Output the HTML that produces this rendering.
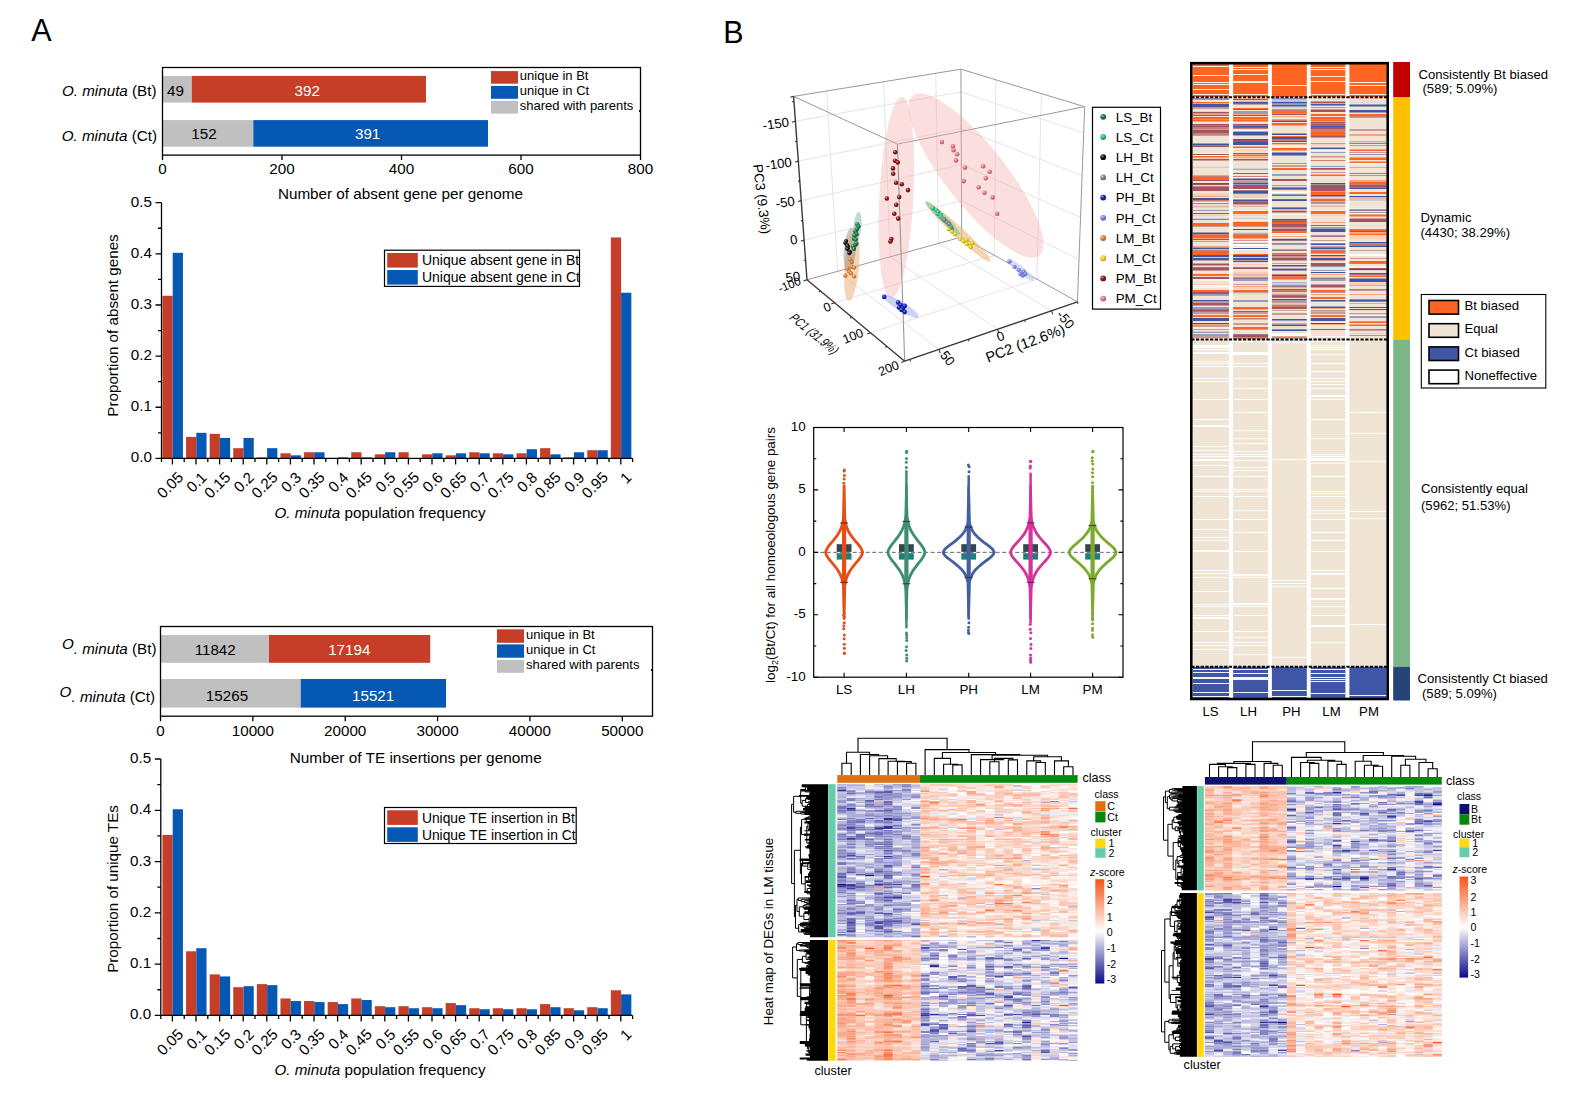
<!DOCTYPE html>
<html><head><meta charset="utf-8"><title>Figure</title>
<style>
html,body{margin:0;padding:0;background:#fff;}
body{width:1590px;height:1105px;overflow:hidden;font-family:"Liberation Sans",sans-serif;}
svg{display:block;position:absolute;left:0;top:0;font-family:"Liberation Sans",sans-serif;}
</style></head><body>
<svg width="1590" height="1105" viewBox="0 0 1590 1105">
<rect x="0" y="0" width="1590" height="1105" fill="#fff"/>
<text x="31.3" y="41" font-size="30.5" text-anchor="start">A</text>
<rect x="162.5" y="75.9" width="29.28" height="26.7" fill="#C0C0C0"/>
<rect x="191.78" y="75.9" width="234.22" height="26.7" fill="#C73E28"/>
<rect x="162.5" y="120.1" width="90.82" height="26.6" fill="#C0C0C0"/>
<rect x="253.32" y="120.1" width="234.68" height="26.6" fill="#0559B5"/>
<rect x="162.5" y="67.5" width="478.0" height="87.6" fill="none" stroke="#000" stroke-width="1.3"/>
<line x1="162.50" y1="155.1" x2="162.50" y2="160.1" stroke="#000" stroke-width="1.3"/>
<text x="162.5" y="174.1" font-size="15.2" text-anchor="middle">0</text>
<line x1="282.00" y1="155.1" x2="282.00" y2="160.1" stroke="#000" stroke-width="1.3"/>
<text x="282.0" y="174.1" font-size="15.2" text-anchor="middle">200</text>
<line x1="401.50" y1="155.1" x2="401.50" y2="160.1" stroke="#000" stroke-width="1.3"/>
<text x="401.5" y="174.1" font-size="15.2" text-anchor="middle">400</text>
<line x1="521.00" y1="155.1" x2="521.00" y2="160.1" stroke="#000" stroke-width="1.3"/>
<text x="521.0" y="174.1" font-size="15.2" text-anchor="middle">600</text>
<line x1="640.50" y1="155.1" x2="640.50" y2="160.1" stroke="#000" stroke-width="1.3"/>
<text x="640.5" y="174.1" font-size="15.2" text-anchor="middle">800</text>
<text x="175.43875" y="95.7" font-size="15.2" text-anchor="middle">49</text>
<text x="307.2875" y="95.7" font-size="15.2" text-anchor="middle" fill="#fff">392</text>
<text x="204.01" y="139.2" font-size="15.2" text-anchor="middle">152</text>
<text x="367.63125" y="139.2" font-size="15.2" text-anchor="middle" fill="#fff">391</text>
<text x="156.5" y="95.9" font-size="15.2" text-anchor="end"><tspan font-style="italic">O. minuta</tspan> (Bt)</text>
<text x="157" y="140.6" font-size="15.2" text-anchor="end"><tspan font-style="italic">O. minuta</tspan> (Ct)</text>
<text x="400.4" y="198.6" font-size="15.25" text-anchor="middle">Number of absent gene per genome</text>
<rect x="491" y="71.1" width="27" height="12.6" fill="#C73E28"/>
<rect x="491" y="85.9" width="27" height="12.9" fill="#0559B5"/>
<rect x="491" y="101" width="27" height="12.6" fill="#C0C0C0"/>
<text x="519.8" y="79.8" font-size="13.0" text-anchor="start">unique in Bt</text>
<text x="519.8" y="94.7" font-size="13.0" text-anchor="start">unique in Ct</text>
<text x="519.8" y="110.4" font-size="13.0" text-anchor="start">shared with parents</text>
<rect x="639" y="110" width="1.5" height="2" fill="#000"/>
<rect x="162.45" y="295.77" width="10.25" height="162.63" fill="#C73E28"/>
<rect x="172.70" y="252.82" width="10.25" height="205.58" fill="#0559B5"/>
<rect x="186.05" y="436.92" width="10.25" height="21.48" fill="#C73E28"/>
<rect x="196.30" y="432.83" width="10.25" height="25.57" fill="#0559B5"/>
<rect x="209.65" y="433.85" width="10.25" height="24.55" fill="#C73E28"/>
<rect x="219.90" y="437.94" width="10.25" height="20.46" fill="#0559B5"/>
<rect x="233.25" y="448.17" width="10.25" height="10.23" fill="#C73E28"/>
<rect x="243.50" y="437.94" width="10.25" height="20.46" fill="#0559B5"/>
<rect x="256.85" y="457.38" width="10.25" height="1.02" fill="#C73E28"/>
<rect x="267.10" y="448.17" width="10.25" height="10.23" fill="#0559B5"/>
<rect x="280.45" y="453.29" width="10.25" height="5.11" fill="#C73E28"/>
<rect x="290.70" y="455.33" width="10.25" height="3.07" fill="#0559B5"/>
<rect x="304.05" y="452.26" width="10.25" height="6.14" fill="#C73E28"/>
<rect x="314.30" y="452.26" width="10.25" height="6.14" fill="#0559B5"/>
<rect x="337.90" y="457.38" width="10.25" height="1.02" fill="#0559B5"/>
<rect x="351.25" y="452.26" width="10.25" height="6.14" fill="#C73E28"/>
<rect x="361.50" y="457.38" width="10.25" height="1.02" fill="#0559B5"/>
<rect x="374.85" y="454.31" width="10.25" height="4.09" fill="#C73E28"/>
<rect x="385.10" y="452.26" width="10.25" height="6.14" fill="#0559B5"/>
<rect x="398.45" y="452.26" width="10.25" height="6.14" fill="#C73E28"/>
<rect x="422.05" y="454.31" width="10.25" height="4.09" fill="#C73E28"/>
<rect x="432.30" y="453.29" width="10.25" height="5.11" fill="#0559B5"/>
<rect x="445.65" y="455.33" width="10.25" height="3.07" fill="#C73E28"/>
<rect x="455.90" y="453.29" width="10.25" height="5.11" fill="#0559B5"/>
<rect x="469.25" y="452.26" width="10.25" height="6.14" fill="#C73E28"/>
<rect x="479.50" y="453.29" width="10.25" height="5.11" fill="#0559B5"/>
<rect x="492.85" y="453.29" width="10.25" height="5.11" fill="#C73E28"/>
<rect x="503.10" y="454.31" width="10.25" height="4.09" fill="#0559B5"/>
<rect x="516.45" y="453.29" width="10.25" height="5.11" fill="#C73E28"/>
<rect x="526.70" y="449.19" width="10.25" height="9.21" fill="#0559B5"/>
<rect x="540.05" y="448.17" width="10.25" height="10.23" fill="#C73E28"/>
<rect x="550.30" y="454.31" width="10.25" height="4.09" fill="#0559B5"/>
<rect x="563.65" y="457.38" width="10.25" height="1.02" fill="#C73E28"/>
<rect x="573.90" y="452.26" width="10.25" height="6.14" fill="#0559B5"/>
<rect x="587.25" y="450.22" width="10.25" height="8.18" fill="#C73E28"/>
<rect x="597.50" y="450.22" width="10.25" height="8.18" fill="#0559B5"/>
<rect x="610.85" y="237.48" width="10.25" height="220.92" fill="#C73E28"/>
<rect x="621.10" y="292.71" width="10.25" height="165.69" fill="#0559B5"/>
<path d="M161.5,202.7V458.4H632.6" fill="none" stroke="#000" stroke-width="1.3"/>
<text x="151.9" y="462.3" font-size="15.2" text-anchor="end">0.0</text>
<text x="151.9" y="411.2" font-size="15.2" text-anchor="end">0.1</text>
<text x="151.9" y="360.0" font-size="15.2" text-anchor="end">0.2</text>
<text x="151.9" y="308.9" font-size="15.2" text-anchor="end">0.3</text>
<text x="151.9" y="257.7" font-size="15.2" text-anchor="end">0.4</text>
<text x="151.9" y="206.6" font-size="15.2" text-anchor="end">0.5</text>
<text font-size="15.2" text-anchor="end" transform="translate(184.20,478.4) rotate(-45)">0.05</text>
<text font-size="15.2" text-anchor="end" transform="translate(207.80,478.4) rotate(-45)">0.1</text>
<text font-size="15.2" text-anchor="end" transform="translate(231.40,478.4) rotate(-45)">0.15</text>
<text font-size="15.2" text-anchor="end" transform="translate(255.00,478.4) rotate(-45)">0.2</text>
<text font-size="15.2" text-anchor="end" transform="translate(278.60,478.4) rotate(-45)">0.25</text>
<text font-size="15.2" text-anchor="end" transform="translate(302.20,478.4) rotate(-45)">0.3</text>
<text font-size="15.2" text-anchor="end" transform="translate(325.80,478.4) rotate(-45)">0.35</text>
<text font-size="15.2" text-anchor="end" transform="translate(349.40,478.4) rotate(-45)">0.4</text>
<text font-size="15.2" text-anchor="end" transform="translate(373.00,478.4) rotate(-45)">0.45</text>
<text font-size="15.2" text-anchor="end" transform="translate(396.60,478.4) rotate(-45)">0.5</text>
<text font-size="15.2" text-anchor="end" transform="translate(420.20,478.4) rotate(-45)">0.55</text>
<text font-size="15.2" text-anchor="end" transform="translate(443.80,478.4) rotate(-45)">0.6</text>
<text font-size="15.2" text-anchor="end" transform="translate(467.40,478.4) rotate(-45)">0.65</text>
<text font-size="15.2" text-anchor="end" transform="translate(491.00,478.4) rotate(-45)">0.7</text>
<text font-size="15.2" text-anchor="end" transform="translate(514.60,478.4) rotate(-45)">0.75</text>
<text font-size="15.2" text-anchor="end" transform="translate(538.20,478.4) rotate(-45)">0.8</text>
<text font-size="15.2" text-anchor="end" transform="translate(561.80,478.4) rotate(-45)">0.85</text>
<text font-size="15.2" text-anchor="end" transform="translate(585.40,478.4) rotate(-45)">0.9</text>
<text font-size="15.2" text-anchor="end" transform="translate(609.00,478.4) rotate(-45)">0.95</text>
<text font-size="15.2" text-anchor="end" transform="translate(632.60,478.4) rotate(-45)">1</text>
<path d="M161.5,458.40h-6M161.5,432.83h-3.5M161.5,407.26h-6M161.5,381.69h-3.5M161.5,356.12h-6M161.5,330.55h-3.5M161.5,304.98h-6M161.5,279.41h-3.5M161.5,253.84h-6M161.5,228.27h-3.5M161.5,202.70h-6M172.40,458.4v6M184.20,458.4v3.5M161.5,458.4v3.5M196.00,458.4v6M207.80,458.4v3.5M219.60,458.4v6M231.40,458.4v3.5M243.20,458.4v6M255.00,458.4v3.5M266.80,458.4v6M278.60,458.4v3.5M290.40,458.4v6M302.20,458.4v3.5M314.00,458.4v6M325.80,458.4v3.5M337.60,458.4v6M349.40,458.4v3.5M361.20,458.4v6M373.00,458.4v3.5M384.80,458.4v6M396.60,458.4v3.5M408.40,458.4v6M420.20,458.4v3.5M432.00,458.4v6M443.80,458.4v3.5M455.60,458.4v6M467.40,458.4v3.5M479.20,458.4v6M491.00,458.4v3.5M502.80,458.4v6M514.60,458.4v3.5M526.40,458.4v6M538.20,458.4v3.5M550.00,458.4v6M561.80,458.4v3.5M573.60,458.4v6M585.40,458.4v3.5M597.20,458.4v6M609.00,458.4v3.5M620.80,458.4v6M632.60,458.4v3.5" fill="none" stroke="#000" stroke-width="1.3"/>
<text font-size="15.2" text-anchor="middle" transform="translate(118,325.5) rotate(-90)">Proportion of absent genes</text>
<text x="380" y="517.5" font-size="15.2" text-anchor="middle"><tspan font-style="italic">O. minuta</tspan> population frequency</text>
<rect x="384.5" y="250.2" width="195" height="36.2" fill="#fff" stroke="#000" stroke-width="1.2"/>
<rect x="387.2" y="253.0" width="30.6" height="14.6" fill="#C73E28"/>
<rect x="387.2" y="270.0" width="30.6" height="14.6" fill="#0559B5"/>
<text x="421.9" y="265.2" font-size="14" text-anchor="start">Unique absent gene in Bt</text>
<text x="421.9" y="282.2" font-size="14" text-anchor="start">Unique absent gene in Ct</text>
<rect x="160.5" y="635" width="108.5" height="27.8" fill="#C0C0C0"/>
<rect x="269" y="635" width="161.20" height="27.8" fill="#C73E28"/>
<rect x="160.5" y="679" width="140.2" height="28.6" fill="#C0C0C0"/>
<rect x="300.7" y="679" width="145.30" height="28.6" fill="#0559B5"/>
<rect x="160.5" y="626.5" width="492.0" height="89.70000000000005" fill="none" stroke="#000" stroke-width="1.3"/>
<line x1="160.50" y1="716.2" x2="160.50" y2="721.2" stroke="#000" stroke-width="1.3"/>
<text x="160.5" y="735.6" font-size="15.2" text-anchor="middle">0</text>
<line x1="252.86" y1="716.2" x2="252.86" y2="721.2" stroke="#000" stroke-width="1.3"/>
<text x="252.9" y="735.6" font-size="15.2" text-anchor="middle">10000</text>
<line x1="345.22" y1="716.2" x2="345.22" y2="721.2" stroke="#000" stroke-width="1.3"/>
<text x="345.2" y="735.6" font-size="15.2" text-anchor="middle">20000</text>
<line x1="437.58" y1="716.2" x2="437.58" y2="721.2" stroke="#000" stroke-width="1.3"/>
<text x="437.6" y="735.6" font-size="15.2" text-anchor="middle">30000</text>
<line x1="529.94" y1="716.2" x2="529.94" y2="721.2" stroke="#000" stroke-width="1.3"/>
<text x="529.9" y="735.6" font-size="15.2" text-anchor="middle">40000</text>
<line x1="622.30" y1="716.2" x2="622.30" y2="721.2" stroke="#000" stroke-width="1.3"/>
<text x="622.3" y="735.6" font-size="15.2" text-anchor="middle">50000</text>
<text x="215.186356" y="654.5" font-size="15.2" text-anchor="middle">11842</text>
<text x="349.27460399999995" y="654.5" font-size="15.2" text-anchor="middle" fill="#fff">17194</text>
<text x="226.989152" y="700.5" font-size="15.2" text-anchor="middle">15265</text>
<text x="373.1589" y="700.5" font-size="15.2" text-anchor="middle" fill="#fff">15521</text>
<text x="156.5" y="654" font-size="15.2" text-anchor="end"><tspan font-style="italic" dy="-5">O</tspan><tspan font-style="italic" dy="5">. minuta</tspan> (Bt)</text>
<text x="155" y="702" font-size="15.2" text-anchor="end"><tspan font-style="italic" dy="-5">O</tspan><tspan font-style="italic" dy="5">. minuta</tspan> (Ct)</text>
<text x="415.7" y="762.5" font-size="15.4" text-anchor="middle">Number of TE insertions per genome</text>
<rect x="497" y="629.3" width="27" height="13.5" fill="#C73E28"/>
<rect x="497" y="644.4" width="27" height="13.3" fill="#0559B5"/>
<rect x="497" y="660" width="27" height="12.8" fill="#C0C0C0"/>
<text x="526" y="639.4" font-size="13.0" text-anchor="start">unique in Bt</text>
<text x="526" y="654.4" font-size="13.0" text-anchor="start">unique in Ct</text>
<text x="526" y="669.3" font-size="13.0" text-anchor="start">shared with parents</text>
<rect x="651" y="669" width="1.5" height="2" fill="#000"/>
<rect x="162.45" y="834.89" width="10.25" height="180.51" fill="#C73E28"/>
<rect x="172.70" y="809.25" width="10.25" height="206.15" fill="#0559B5"/>
<rect x="186.05" y="951.30" width="10.25" height="64.10" fill="#C73E28"/>
<rect x="196.30" y="948.22" width="10.25" height="67.18" fill="#0559B5"/>
<rect x="209.65" y="974.38" width="10.25" height="41.02" fill="#C73E28"/>
<rect x="219.90" y="976.43" width="10.25" height="38.97" fill="#0559B5"/>
<rect x="233.25" y="987.20" width="10.25" height="28.20" fill="#C73E28"/>
<rect x="243.50" y="986.17" width="10.25" height="29.23" fill="#0559B5"/>
<rect x="256.85" y="984.12" width="10.25" height="31.28" fill="#C73E28"/>
<rect x="267.10" y="985.14" width="10.25" height="30.26" fill="#0559B5"/>
<rect x="280.45" y="998.48" width="10.25" height="16.92" fill="#C73E28"/>
<rect x="290.70" y="1001.04" width="10.25" height="14.36" fill="#0559B5"/>
<rect x="304.05" y="1001.04" width="10.25" height="14.36" fill="#C73E28"/>
<rect x="314.30" y="1002.07" width="10.25" height="13.33" fill="#0559B5"/>
<rect x="327.65" y="1002.07" width="10.25" height="13.33" fill="#C73E28"/>
<rect x="337.90" y="1004.12" width="10.25" height="11.28" fill="#0559B5"/>
<rect x="351.25" y="998.48" width="10.25" height="16.92" fill="#C73E28"/>
<rect x="361.50" y="1000.02" width="10.25" height="15.38" fill="#0559B5"/>
<rect x="374.85" y="1006.17" width="10.25" height="9.23" fill="#C73E28"/>
<rect x="385.10" y="1007.20" width="10.25" height="8.20" fill="#0559B5"/>
<rect x="398.45" y="1006.17" width="10.25" height="9.23" fill="#C73E28"/>
<rect x="408.70" y="1008.22" width="10.25" height="7.18" fill="#0559B5"/>
<rect x="422.05" y="1007.20" width="10.25" height="8.20" fill="#C73E28"/>
<rect x="432.30" y="1008.22" width="10.25" height="7.18" fill="#0559B5"/>
<rect x="445.65" y="1003.09" width="10.25" height="12.31" fill="#C73E28"/>
<rect x="455.90" y="1005.14" width="10.25" height="10.26" fill="#0559B5"/>
<rect x="469.25" y="1008.22" width="10.25" height="7.18" fill="#C73E28"/>
<rect x="479.50" y="1009.25" width="10.25" height="6.15" fill="#0559B5"/>
<rect x="492.85" y="1008.22" width="10.25" height="7.18" fill="#C73E28"/>
<rect x="503.10" y="1009.25" width="10.25" height="6.15" fill="#0559B5"/>
<rect x="516.45" y="1008.22" width="10.25" height="7.18" fill="#C73E28"/>
<rect x="526.70" y="1009.25" width="10.25" height="6.15" fill="#0559B5"/>
<rect x="540.05" y="1004.12" width="10.25" height="11.28" fill="#C73E28"/>
<rect x="550.30" y="1007.20" width="10.25" height="8.20" fill="#0559B5"/>
<rect x="563.65" y="1008.22" width="10.25" height="7.18" fill="#C73E28"/>
<rect x="573.90" y="1010.27" width="10.25" height="5.13" fill="#0559B5"/>
<rect x="587.25" y="1007.20" width="10.25" height="8.20" fill="#C73E28"/>
<rect x="597.50" y="1008.22" width="10.25" height="7.18" fill="#0559B5"/>
<rect x="610.85" y="990.27" width="10.25" height="25.13" fill="#C73E28"/>
<rect x="621.10" y="994.38" width="10.25" height="21.02" fill="#0559B5"/>
<path d="M160.8,759V1015.4H632.6" fill="none" stroke="#000" stroke-width="1.3"/>
<text x="151.20000000000002" y="1019.3" font-size="15.2" text-anchor="end">0.0</text>
<text x="151.20000000000002" y="968.0" font-size="15.2" text-anchor="end">0.1</text>
<text x="151.20000000000002" y="916.7" font-size="15.2" text-anchor="end">0.2</text>
<text x="151.20000000000002" y="865.5" font-size="15.2" text-anchor="end">0.3</text>
<text x="151.20000000000002" y="814.2" font-size="15.2" text-anchor="end">0.4</text>
<text x="151.20000000000002" y="762.9" font-size="15.2" text-anchor="end">0.5</text>
<text font-size="15.2" text-anchor="end" transform="translate(184.20,1035.4) rotate(-45)">0.05</text>
<text font-size="15.2" text-anchor="end" transform="translate(207.80,1035.4) rotate(-45)">0.1</text>
<text font-size="15.2" text-anchor="end" transform="translate(231.40,1035.4) rotate(-45)">0.15</text>
<text font-size="15.2" text-anchor="end" transform="translate(255.00,1035.4) rotate(-45)">0.2</text>
<text font-size="15.2" text-anchor="end" transform="translate(278.60,1035.4) rotate(-45)">0.25</text>
<text font-size="15.2" text-anchor="end" transform="translate(302.20,1035.4) rotate(-45)">0.3</text>
<text font-size="15.2" text-anchor="end" transform="translate(325.80,1035.4) rotate(-45)">0.35</text>
<text font-size="15.2" text-anchor="end" transform="translate(349.40,1035.4) rotate(-45)">0.4</text>
<text font-size="15.2" text-anchor="end" transform="translate(373.00,1035.4) rotate(-45)">0.45</text>
<text font-size="15.2" text-anchor="end" transform="translate(396.60,1035.4) rotate(-45)">0.5</text>
<text font-size="15.2" text-anchor="end" transform="translate(420.20,1035.4) rotate(-45)">0.55</text>
<text font-size="15.2" text-anchor="end" transform="translate(443.80,1035.4) rotate(-45)">0.6</text>
<text font-size="15.2" text-anchor="end" transform="translate(467.40,1035.4) rotate(-45)">0.65</text>
<text font-size="15.2" text-anchor="end" transform="translate(491.00,1035.4) rotate(-45)">0.7</text>
<text font-size="15.2" text-anchor="end" transform="translate(514.60,1035.4) rotate(-45)">0.75</text>
<text font-size="15.2" text-anchor="end" transform="translate(538.20,1035.4) rotate(-45)">0.8</text>
<text font-size="15.2" text-anchor="end" transform="translate(561.80,1035.4) rotate(-45)">0.85</text>
<text font-size="15.2" text-anchor="end" transform="translate(585.40,1035.4) rotate(-45)">0.9</text>
<text font-size="15.2" text-anchor="end" transform="translate(609.00,1035.4) rotate(-45)">0.95</text>
<text font-size="15.2" text-anchor="end" transform="translate(632.60,1035.4) rotate(-45)">1</text>
<path d="M160.8,1015.40h-6M160.8,989.76h-3.5M160.8,964.12h-6M160.8,938.48h-3.5M160.8,912.84h-6M160.8,887.20h-3.5M160.8,861.56h-6M160.8,835.92h-3.5M160.8,810.28h-6M160.8,784.64h-3.5M160.8,759.00h-6M172.40,1015.4v6M184.20,1015.4v3.5M160.8,1015.4v3.5M196.00,1015.4v6M207.80,1015.4v3.5M219.60,1015.4v6M231.40,1015.4v3.5M243.20,1015.4v6M255.00,1015.4v3.5M266.80,1015.4v6M278.60,1015.4v3.5M290.40,1015.4v6M302.20,1015.4v3.5M314.00,1015.4v6M325.80,1015.4v3.5M337.60,1015.4v6M349.40,1015.4v3.5M361.20,1015.4v6M373.00,1015.4v3.5M384.80,1015.4v6M396.60,1015.4v3.5M408.40,1015.4v6M420.20,1015.4v3.5M432.00,1015.4v6M443.80,1015.4v3.5M455.60,1015.4v6M467.40,1015.4v3.5M479.20,1015.4v6M491.00,1015.4v3.5M502.80,1015.4v6M514.60,1015.4v3.5M526.40,1015.4v6M538.20,1015.4v3.5M550.00,1015.4v6M561.80,1015.4v3.5M573.60,1015.4v6M585.40,1015.4v3.5M597.20,1015.4v6M609.00,1015.4v3.5M620.80,1015.4v6M632.60,1015.4v3.5" fill="none" stroke="#000" stroke-width="1.3"/>
<text font-size="15.2" text-anchor="middle" transform="translate(118,889) rotate(-90)">Proportion of unique TEs</text>
<text x="380" y="1074.5" font-size="15.2" text-anchor="middle"><tspan font-style="italic">O. minuta</tspan> population frequency</text>
<rect x="384.5" y="807.5" width="191.7" height="36" fill="#fff" stroke="#000" stroke-width="1.2"/>
<rect x="387.2" y="810.3" width="30.6" height="14.6" fill="#C73E28"/>
<rect x="387.2" y="827.3" width="30.6" height="14.6" fill="#0559B5"/>
<text x="421.9" y="822.5" font-size="13.85" text-anchor="start">Unique TE insertion in Bt</text>
<text x="421.9" y="839.5" font-size="13.85" text-anchor="start">Unique TE insertion in Ct</text>
<text x="723.2" y="42.5" font-size="30.5" text-anchor="start">B</text>
<defs><radialGradient id="glsbt" cx="0.36" cy="0.32" r="0.72"><stop offset="0" stop-color="#A9CCBB"/><stop offset="0.4" stop-color="#1E7A4E"/><stop offset="1" stop-color="#155738"/></radialGradient><radialGradient id="glsct" cx="0.36" cy="0.32" r="0.72"><stop offset="0" stop-color="#ACE8D1"/><stop offset="0.4" stop-color="#27C487"/><stop offset="1" stop-color="#1C8D61"/></radialGradient><radialGradient id="glhbt" cx="0.36" cy="0.32" r="0.72"><stop offset="0" stop-color="#A4A4A4"/><stop offset="0.4" stop-color="#111111"/><stop offset="1" stop-color="#0C0C0C"/></radialGradient><radialGradient id="glhct" cx="0.36" cy="0.32" r="0.72"><stop offset="0" stop-color="#D2D2D2"/><stop offset="0.4" stop-color="#8A8A8A"/><stop offset="1" stop-color="#636363"/></radialGradient><radialGradient id="gphbt" cx="0.36" cy="0.32" r="0.72"><stop offset="0" stop-color="#A4ABE4"/><stop offset="0.4" stop-color="#1224B8"/><stop offset="1" stop-color="#0C1984"/></radialGradient><radialGradient id="gphct" cx="0.36" cy="0.32" r="0.72"><stop offset="0" stop-color="#CDD1F8"/><stop offset="0.4" stop-color="#7C86EE"/><stop offset="1" stop-color="#5960AB"/></radialGradient><radialGradient id="glmbt" cx="0.36" cy="0.32" r="0.72"><stop offset="0" stop-color="#F6D0B4"/><stop offset="0.4" stop-color="#E9843A"/><stop offset="1" stop-color="#A75F29"/></radialGradient><radialGradient id="glmct" cx="0.36" cy="0.32" r="0.72"><stop offset="0" stop-color="#F7EFA9"/><stop offset="0.4" stop-color="#EBD71E"/><stop offset="1" stop-color="#A99A15"/></radialGradient><radialGradient id="gpmbt" cx="0.36" cy="0.32" r="0.72"><stop offset="0" stop-color="#D4A7A7"/><stop offset="0.4" stop-color="#8F1A1A"/><stop offset="1" stop-color="#661212"/></radialGradient><radialGradient id="gpmct" cx="0.36" cy="0.32" r="0.72"><stop offset="0" stop-color="#F6CCCF"/><stop offset="0.4" stop-color="#E97A82"/><stop offset="1" stop-color="#A7575D"/></radialGradient></defs>
<path d="M795.4,121.2L961.0,91.9M961.0,91.9L1083.7,133.0M798.3,161.1L961.2,128.4M961.2,128.4L1082.1,175.6M801.2,200.6L961.4,164.5M961.4,164.5L1080.6,217.5M804.1,240.2L961.5,200.8M961.5,200.8L1079.0,259.7M826.7,91.0L837.6,271.3M837.6,271.3L938.9,349.4M883.6,81.8L890.2,256.8M890.2,256.8L997.6,329.2M935.8,73.3L938.5,243.4M938.5,243.4L1051.5,310.7M995.9,79.8L994.4,255.3M994.4,255.3L834.6,302.8M1041.4,93.6L1036.9,279.1M1036.9,279.1L870.5,332.7" fill="none" stroke="#E4E4E4" stroke-width="1"/>
<path d="M793.6,96.4L960.9,69.2M960.9,69.2L1084.7,106.7M793.6,96.4L897.4,144.1M897.4,144.1L1084.7,106.7M960.9,69.2L961.7,237.0M1084.7,106.7L1077.4,301.8M807.0,279.8L961.7,237.0M961.7,237.0L1077.4,301.8" fill="none" stroke="#999" stroke-width="1"/>
<ellipse cx="976" cy="175.6" rx="30" ry="102" transform="rotate(-38.3 976 175.6)" fill="#F2A7A5" fill-opacity="0.37"/>
<ellipse cx="896.4" cy="197.5" rx="17" ry="101" transform="rotate(3 896.4 197.5)" fill="#F2A7A5" fill-opacity="0.37"/>
<ellipse cx="958" cy="231.7" rx="5.2" ry="44" transform="rotate(-47.5 958 231.7)" fill="#EFB77C" fill-opacity="0.6"/>
<ellipse cx="942.8" cy="217.9" rx="3.4" ry="24" transform="rotate(-46 942.8 217.9)" fill="#6FBF9A" fill-opacity="0.5"/>
<ellipse cx="851.9" cy="266" rx="7.2" ry="35" transform="rotate(5 851.9 266)" fill="#E9B07A" fill-opacity="0.55"/>
<ellipse cx="849.8" cy="250" rx="6" ry="22" transform="rotate(5 849.8 250)" fill="#8C8270" fill-opacity="0.45"/>
<ellipse cx="857.3" cy="227" rx="4" ry="15" transform="rotate(6 857.3 227)" fill="#7DB79A" fill-opacity="0.5"/>
<ellipse cx="900.8" cy="306.2" rx="4.6" ry="21" transform="rotate(-58.3 900.8 306.2)" fill="#A9B4EC" fill-opacity="0.6"/>
<ellipse cx="1020.6" cy="269.7" rx="3.6" ry="17" transform="rotate(-51 1020.6 269.7)" fill="#C6CCF5" fill-opacity="0.7"/>
<path d="M897.4,144.1L904.7,361.2" fill="none" stroke="#9A9A9A" stroke-width="1.1"/>
<circle cx="941.9" cy="142.0" r="2.3" fill="url(#gpmct)"/><circle cx="952.9" cy="146.4" r="2.3" fill="url(#gpmct)"/><circle cx="953.6" cy="150.2" r="2.3" fill="url(#gpmct)"/><circle cx="957.2" cy="154.2" r="2.3" fill="url(#gpmct)"/><circle cx="956.0" cy="160.4" r="2.3" fill="url(#gpmct)"/><circle cx="965.0" cy="167.6" r="2.3" fill="url(#gpmct)"/><circle cx="983.2" cy="166.3" r="2.3" fill="url(#gpmct)"/><circle cx="989.7" cy="171.7" r="2.3" fill="url(#gpmct)"/><circle cx="985.8" cy="178.3" r="2.3" fill="url(#gpmct)"/><circle cx="963.7" cy="181.1" r="2.3" fill="url(#gpmct)"/><circle cx="978.7" cy="187.3" r="2.3" fill="url(#gpmct)"/><circle cx="984.5" cy="192.8" r="2.3" fill="url(#gpmct)"/><circle cx="992.7" cy="197.4" r="2.3" fill="url(#gpmct)"/><circle cx="997.2" cy="213.7" r="2.3" fill="url(#gpmct)"/>
<circle cx="895.3" cy="152.3" r="2.3" fill="url(#gpmbt)"/><circle cx="895.0" cy="160.7" r="2.3" fill="url(#gpmbt)"/><circle cx="897.7" cy="162.4" r="2.3" fill="url(#gpmbt)"/><circle cx="893.0" cy="168.4" r="2.3" fill="url(#gpmbt)"/><circle cx="893.2" cy="173.8" r="2.3" fill="url(#gpmbt)"/><circle cx="896.1" cy="182.7" r="2.3" fill="url(#gpmbt)"/><circle cx="901.8" cy="184.2" r="2.3" fill="url(#gpmbt)"/><circle cx="908.0" cy="190.1" r="2.3" fill="url(#gpmbt)"/><circle cx="899.2" cy="197.1" r="2.3" fill="url(#gpmbt)"/><circle cx="886.8" cy="198.5" r="2.3" fill="url(#gpmbt)"/><circle cx="896.3" cy="204.7" r="2.3" fill="url(#gpmbt)"/><circle cx="894.3" cy="213.7" r="2.3" fill="url(#gpmbt)"/><circle cx="898.2" cy="218.6" r="2.3" fill="url(#gpmbt)"/><circle cx="891.4" cy="239.1" r="2.3" fill="url(#gpmbt)"/><circle cx="890.4" cy="241.5" r="2.3" fill="url(#gpmbt)"/>
<circle cx="845.3" cy="275.7" r="2.1" fill="url(#glmbt)"/><circle cx="849.3" cy="271.7" r="2.1" fill="url(#glmbt)"/><circle cx="851.8" cy="266.8" r="2.1" fill="url(#glmbt)"/><circle cx="854.2" cy="267.6" r="2.1" fill="url(#glmbt)"/><circle cx="851.0" cy="273.3" r="2.1" fill="url(#glmbt)"/><circle cx="854.2" cy="276.5" r="2.1" fill="url(#glmbt)"/><circle cx="851.8" cy="261.9" r="2.1" fill="url(#glmbt)"/><circle cx="850.2" cy="259.4" r="2.1" fill="url(#glmbt)"/><circle cx="847.5" cy="268.5" r="2.1" fill="url(#glmbt)"/>
<circle cx="846.1" cy="241.0" r="2.1" fill="url(#glhbt)"/><circle cx="845.3" cy="243.0" r="2.1" fill="url(#glhbt)"/><circle cx="847.3" cy="245.4" r="2.1" fill="url(#glhbt)"/><circle cx="847.7" cy="246.6" r="2.1" fill="url(#glhbt)"/><circle cx="847.6" cy="248.2" r="2.1" fill="url(#glhbt)"/><circle cx="847.4" cy="249.1" r="2.1" fill="url(#glhbt)"/><circle cx="850.1" cy="252.1" r="2.1" fill="url(#glhbt)"/><circle cx="849.3" cy="253.1" r="2.1" fill="url(#glhbt)"/>
<circle cx="857.3" cy="224.5" r="2.2" fill="url(#glsbt)"/><circle cx="858.5" cy="226.6" r="2.2" fill="url(#glsbt)"/><circle cx="856.9" cy="229.2" r="2.2" fill="url(#glsbt)"/><circle cx="855.5" cy="231.3" r="2.2" fill="url(#glsbt)"/><circle cx="856.6" cy="234.2" r="2.2" fill="url(#glsbt)"/><circle cx="854.6" cy="235.5" r="2.2" fill="url(#glsbt)"/><circle cx="854.2" cy="238.8" r="2.2" fill="url(#glsbt)"/><circle cx="855.8" cy="239.6" r="2.2" fill="url(#glsbt)"/><circle cx="856.4" cy="243.7" r="2.2" fill="url(#glsbt)"/><circle cx="855.0" cy="245.3" r="2.2" fill="url(#glsbt)"/><circle cx="853.1" cy="246.4" r="2.2" fill="url(#glsbt)"/><circle cx="854.0" cy="248.8" r="2.2" fill="url(#glsbt)"/>
<circle cx="933.0" cy="208.4" r="2.1" fill="url(#glsct)"/><circle cx="936.4" cy="210.5" r="2.1" fill="url(#glsct)"/><circle cx="938.1" cy="212.0" r="2.1" fill="url(#glsct)"/><circle cx="937.8" cy="214.1" r="2.1" fill="url(#glsct)"/><circle cx="940.8" cy="214.9" r="2.1" fill="url(#glsct)"/><circle cx="940.9" cy="216.7" r="2.1" fill="url(#glsct)"/><circle cx="944.2" cy="219.1" r="2.1" fill="url(#glsct)"/><circle cx="944.1" cy="219.7" r="2.1" fill="url(#glsct)"/><circle cx="945.6" cy="220.9" r="2.1" fill="url(#glsct)"/><circle cx="948.5" cy="222.8" r="2.1" fill="url(#glsct)"/><circle cx="949.6" cy="224.9" r="2.1" fill="url(#glsct)"/><circle cx="950.4" cy="227.1" r="2.1" fill="url(#glsct)"/><circle cx="951.9" cy="228.5" r="2.1" fill="url(#glsct)"/>
<circle cx="942.6" cy="218.5" r="1.9" fill="url(#glhct)"/><circle cx="944.4" cy="219.9" r="1.9" fill="url(#glhct)"/><circle cx="947.1" cy="222.4" r="1.9" fill="url(#glhct)"/><circle cx="949.1" cy="224.2" r="1.9" fill="url(#glhct)"/><circle cx="951.1" cy="226.9" r="1.9" fill="url(#glhct)"/>
<circle cx="960.1" cy="239.1" r="2.1" fill="url(#glmct)"/><circle cx="963.4" cy="241.5" r="2.1" fill="url(#glmct)"/><circle cx="966.6" cy="239.9" r="2.1" fill="url(#glmct)"/><circle cx="969.9" cy="244.0" r="2.1" fill="url(#glmct)"/><circle cx="972.3" cy="243.2" r="2.1" fill="url(#glmct)"/><circle cx="966.6" cy="244.0" r="2.1" fill="url(#glmct)"/><circle cx="970.7" cy="247.2" r="2.1" fill="url(#glmct)"/><circle cx="952.0" cy="231.8" r="2.1" fill="url(#glmct)"/><circle cx="948.7" cy="229.3" r="2.1" fill="url(#glmct)"/><circle cx="955.0" cy="234.5" r="2.1" fill="url(#glmct)"/>
<circle cx="884.2" cy="296.9" r="2.3" fill="url(#gphbt)"/><circle cx="898.2" cy="302.6" r="2.3" fill="url(#gphbt)"/><circle cx="900.7" cy="305.0" r="2.3" fill="url(#gphbt)"/><circle cx="904.7" cy="305.9" r="2.3" fill="url(#gphbt)"/><circle cx="899.0" cy="307.5" r="2.3" fill="url(#gphbt)"/><circle cx="903.1" cy="309.1" r="2.3" fill="url(#gphbt)"/><circle cx="904.7" cy="312.1" r="2.3" fill="url(#gphbt)"/><circle cx="901.5" cy="309.9" r="2.3" fill="url(#gphbt)"/>
<circle cx="1009.5" cy="261.6" r="2.1" fill="url(#gphct)"/><circle cx="1014.7" cy="266.8" r="2.1" fill="url(#gphct)"/><circle cx="1018.8" cy="270.0" r="2.1" fill="url(#gphct)"/><circle cx="1021.2" cy="272.5" r="2.1" fill="url(#gphct)"/><circle cx="1023.6" cy="271.7" r="2.1" fill="url(#gphct)"/><circle cx="1025.3" cy="274.1" r="2.1" fill="url(#gphct)"/><circle cx="1022.8" cy="275.7" r="2.1" fill="url(#gphct)"/><circle cx="1020.4" cy="274.1" r="2.1" fill="url(#gphct)"/>
<path d="M793.6,96.4L807.0,279.8L904.7,361.2L1077.4,301.8" fill="none" stroke="#3A3A3A" stroke-width="1.4" stroke-linejoin="round"/>
<path d="M793.6,96.4l-3.2,0.9M795.4,121.2l-3.2,0.9M798.3,161.1l-3.2,0.9M801.2,200.6l-3.2,0.9M804.1,240.2l-3.2,0.9M807.0,279.8l-3.2,0.9M794.0,101.4l-1.8,0.5M796.9,141.1l-1.8,0.5M799.8,180.9l-1.8,0.5M802.7,220.4l-1.8,0.5M805.6,260.0l-1.8,0.5M807.0,279.8l-3.4,1.2M834.6,302.8l-3.4,1.2M870.5,332.7l-3.4,1.2M904.7,361.2l-3.4,1.2M820.7,291.2l-1.9,0.7M851.9,317.2l-1.9,0.7M887.1,346.5l-1.9,0.7M938.9,349.4l1.2,3.6M997.6,329.2l1.2,3.6M1051.5,310.7l1.2,3.6M909.9,359.4l0.7,2M968.3,339.3l0.7,2M1024.6,320.0l0.7,2M1077.4,301.8l0.7,2" fill="none" stroke="#3A3A3A" stroke-width="1.1"/>
<text font-size="13.2" text-anchor="end" transform="translate(789.5,126.5) rotate(-8)">-150</text>
<text font-size="13.2" text-anchor="end" transform="translate(792.3,166.5) rotate(-8)">-100</text>
<text font-size="13.2" text-anchor="end" transform="translate(795.2,205.5) rotate(-8)">-50</text>
<text font-size="13.2" text-anchor="end" transform="translate(798,243.7) rotate(-8)">0</text>
<text font-size="13.2" text-anchor="end" transform="translate(800.8,280.5) rotate(-8)">50</text>
<text font-size="11.5" text-anchor="middle" dy="0.35em" transform="translate(789.4,284.7) rotate(-22)">-100</text>
<text font-size="12.6" text-anchor="middle" dy="0.35em" transform="translate(827,307) rotate(-22)">0</text>
<text font-size="12.6" text-anchor="middle" dy="0.35em" transform="translate(852.9,335.9) rotate(-22)">100</text>
<text font-size="12.6" text-anchor="middle" dy="0.35em" transform="translate(888.5,368.2) rotate(-22)">200</text>
<text font-size="13.2" text-anchor="middle" transform="translate(944,361) rotate(52)">50</text>
<text font-size="13.2" text-anchor="middle" transform="translate(1002,340.5) rotate(-19)">0</text>
<text font-size="13.2" text-anchor="middle" transform="translate(1062,322.5) rotate(50)">-50</text>
<text font-size="13.6" text-anchor="middle" transform="translate(757.2,199.5) rotate(83)">PC3 (9.3%)</text>
<text font-size="13" text-anchor="middle" transform="translate(810.5,336.5) rotate(39) skewX(-16) scale(0.77,1)">PC1 (31.9%)</text>
<text font-size="14.6" text-anchor="middle" transform="translate(1027,348) rotate(-20.5)">PC2 (12.6%)</text>
<rect x="1092.5" y="107.3" width="68" height="201.8" fill="#fff" stroke="#000" stroke-width="1.2"/>
<circle cx="1103.2" cy="116.8" r="2.9" fill="url(#glsbt)"/><text x="1115.7" y="121.5" font-size="13.4" text-anchor="start">LS_Bt</text>
<circle cx="1103.2" cy="137.0" r="2.9" fill="url(#glsct)"/><text x="1115.7" y="141.7" font-size="13.4" text-anchor="start">LS_Ct</text>
<circle cx="1103.2" cy="157.2" r="2.9" fill="url(#glhbt)"/><text x="1115.7" y="161.9" font-size="13.4" text-anchor="start">LH_Bt</text>
<circle cx="1103.2" cy="177.4" r="2.9" fill="url(#glhct)"/><text x="1115.7" y="182.1" font-size="13.4" text-anchor="start">LH_Ct</text>
<circle cx="1103.2" cy="197.6" r="2.9" fill="url(#gphbt)"/><text x="1115.7" y="202.3" font-size="13.4" text-anchor="start">PH_Bt</text>
<circle cx="1103.2" cy="217.8" r="2.9" fill="url(#gphct)"/><text x="1115.7" y="222.5" font-size="13.4" text-anchor="start">PH_Ct</text>
<circle cx="1103.2" cy="238.0" r="2.9" fill="url(#glmbt)"/><text x="1115.7" y="242.7" font-size="13.4" text-anchor="start">LM_Bt</text>
<circle cx="1103.2" cy="258.2" r="2.9" fill="url(#glmct)"/><text x="1115.7" y="262.9" font-size="13.4" text-anchor="start">LM_Ct</text>
<circle cx="1103.2" cy="278.4" r="2.9" fill="url(#gpmbt)"/><text x="1115.7" y="283.1" font-size="13.4" text-anchor="start">PM_Bt</text>
<circle cx="1103.2" cy="298.6" r="2.9" fill="url(#gpmct)"/><text x="1115.7" y="303.3" font-size="13.4" text-anchor="start">PM_Ct</text>
<line x1="813.7" y1="552.35" x2="1123.0" y2="552.35" stroke="#666" stroke-width="1" stroke-dasharray="4 2.5"/>
<line x1="844.1" y1="486.2" x2="844.1" y2="608.5" stroke="#E54E17" stroke-width="2.5" stroke-linecap="round"/>
<circle cx="843.8" cy="483.3" r="1.5" fill="#E54E17"/>
<circle cx="844.2" cy="479.0" r="1.5" fill="#E54E17"/>
<circle cx="844.4" cy="475.5" r="1.5" fill="#E54E17"/>
<circle cx="844.1" cy="471.0" r="1.5" fill="#E54E17"/>
<circle cx="844.3" cy="469.9" r="1.5" fill="#E54E17"/>
<circle cx="844.2" cy="613.1" r="1.5" fill="#E54E17"/>
<circle cx="843.8" cy="615.3" r="1.5" fill="#E54E17"/>
<circle cx="844.3" cy="617.2" r="1.5" fill="#E54E17"/>
<circle cx="844.2" cy="622.8" r="1.5" fill="#E54E17"/>
<circle cx="843.9" cy="625.8" r="1.5" fill="#E54E17"/>
<circle cx="843.7" cy="628.7" r="1.5" fill="#E54E17"/>
<circle cx="844.4" cy="634.9" r="1.5" fill="#E54E17"/>
<circle cx="844.1" cy="638.8" r="1.5" fill="#E54E17"/>
<circle cx="844.3" cy="644.3" r="1.5" fill="#E54E17"/>
<circle cx="844.4" cy="648.3" r="1.5" fill="#E54E17"/>
<circle cx="844.3" cy="653.0" r="1.5" fill="#E54E17"/>
<circle cx="844.4" cy="653.5" r="1.5" fill="#E54E17"/>
<path d="M862.6,552.4L862.0,550.1L860.8,547.9L859.3,545.7L857.5,543.5L855.6,541.3L853.8,539.1L852.1,536.9L850.5,534.7L849.2,532.5L848.0,530.3L847.1,528.1L846.3,525.9L845.8,523.7L845.3,521.5L844.1,517.2L844.1,517.2L842.9,521.5L842.4,523.7L841.9,525.9L841.1,528.1L840.2,530.3L839.0,532.5L837.7,534.7L836.1,536.9L834.4,539.1L832.6,541.3L830.7,543.5L828.9,545.7L827.4,547.9L826.2,550.1L825.6,552.4L826.2,554.6L827.4,556.8L828.9,559.0L830.7,561.2L832.6,563.4L834.4,565.6L836.1,567.8L837.7,570.0L839.0,572.2L840.2,574.4L841.1,576.6L841.9,578.8L842.4,581.0L842.9,583.2L844.1,587.5L844.1,587.5L845.3,583.2L845.8,581.0L846.3,578.8L847.1,576.6L848.0,574.4L849.2,572.2L850.5,570.0L852.1,567.8L853.8,565.6L855.6,563.4L857.5,561.2L859.3,559.0L860.8,556.8L862.0,554.6L862.6,552.4z" fill="none" stroke="#E54E17" stroke-width="2.8" stroke-linejoin="round"/>
<rect x="836.7" y="544.2" width="14.8" height="7.7" fill="#36454F"/>
<rect x="836.7" y="553.2" width="14.8" height="6.4" fill="#1B7F7A"/>
<path d="M842.0,519.9L842.9,484.9H845.3000000000001L846.2,519.9V584.8L845.3000000000001,619.8H842.9L842.0,584.8z" fill="#E54E17"/>
<path d="M840.1,523.0h8M840.1,582.3h8" stroke="#222" stroke-width="0.8" fill="none"/>
<line x1="906.4" y1="471.2" x2="906.4" y2="627.3" stroke="#3C8E74" stroke-width="2.5" stroke-linecap="round"/>
<circle cx="906.3" cy="467.6" r="1.5" fill="#3C8E74"/>
<circle cx="906.3" cy="462.2" r="1.5" fill="#3C8E74"/>
<circle cx="906.5" cy="458.4" r="1.5" fill="#3C8E74"/>
<circle cx="906.5" cy="452.4" r="1.5" fill="#3C8E74"/>
<circle cx="906.7" cy="451.2" r="1.5" fill="#3C8E74"/>
<circle cx="906.5" cy="633.0" r="1.5" fill="#3C8E74"/>
<circle cx="906.7" cy="635.3" r="1.5" fill="#3C8E74"/>
<circle cx="906.7" cy="637.7" r="1.5" fill="#3C8E74"/>
<circle cx="906.8" cy="640.6" r="1.5" fill="#3C8E74"/>
<circle cx="906.5" cy="646.7" r="1.5" fill="#3C8E74"/>
<circle cx="906.1" cy="650.4" r="1.5" fill="#3C8E74"/>
<circle cx="906.7" cy="655.0" r="1.5" fill="#3C8E74"/>
<circle cx="906.8" cy="658.2" r="1.5" fill="#3C8E74"/>
<circle cx="906.7" cy="661.0" r="1.5" fill="#3C8E74"/>
<path d="M924.9,552.4L924.3,550.0L923.1,547.7L921.6,545.4L919.8,543.1L917.9,540.8L916.1,538.4L914.4,536.1L912.8,533.8L911.5,531.5L910.3,529.2L909.4,526.8L908.6,524.5L908.1,522.2L907.6,519.9L906.4,515.3L906.4,515.3L905.2,519.9L904.7,522.2L904.2,524.5L903.4,526.8L902.5,529.2L901.3,531.5L900.0,533.8L898.4,536.1L896.7,538.4L894.9,540.8L893.0,543.1L891.2,545.4L889.7,547.7L888.5,550.0L887.9,552.4L888.5,554.7L889.7,557.0L891.2,559.3L893.0,561.6L894.9,563.9L896.7,566.3L898.4,568.6L900.0,570.9L901.3,573.2L902.5,575.5L903.4,577.9L904.2,580.2L904.7,582.5L905.2,584.8L906.4,589.4L906.4,589.4L907.6,584.8L908.1,582.5L908.6,580.2L909.4,577.9L910.3,575.5L911.5,573.2L912.8,570.9L914.4,568.6L916.1,566.3L917.9,563.9L919.8,561.6L921.6,559.3L923.1,557.0L924.3,554.7L924.9,552.4z" fill="none" stroke="#3C8E74" stroke-width="2.8" stroke-linejoin="round"/>
<rect x="899.0" y="544.2" width="14.8" height="7.7" fill="#36454F"/>
<rect x="899.0" y="553.2" width="14.8" height="6.4" fill="#1B7F7A"/>
<path d="M904.3,519.9L905.1999999999999,484.9H907.6L908.5,519.9V584.8L907.6,619.8H905.1999999999999L904.3,584.8z" fill="#3C8E74"/>
<path d="M902.4,521.4h8M902.4,583.8h8" stroke="#222" stroke-width="0.8" fill="none"/>
<line x1="968.7" y1="476.2" x2="968.7" y2="617.3" stroke="#44609E" stroke-width="2.5" stroke-linecap="round"/>
<circle cx="969.0" cy="471.8" r="1.5" fill="#44609E"/>
<circle cx="969.1" cy="466.8" r="1.5" fill="#44609E"/>
<circle cx="968.4" cy="465.0" r="1.5" fill="#44609E"/>
<circle cx="968.9" cy="622.8" r="1.5" fill="#44609E"/>
<circle cx="968.6" cy="627.2" r="1.5" fill="#44609E"/>
<circle cx="968.4" cy="630.3" r="1.5" fill="#44609E"/>
<circle cx="968.5" cy="632.4" r="1.5" fill="#44609E"/>
<circle cx="968.9" cy="633.5" r="1.5" fill="#44609E"/>
<path d="M994.2,552.4L993.4,550.4L991.8,548.5L989.6,546.6L987.1,544.7L984.5,542.8L982.0,540.8L979.7,538.9L977.6,537.0L975.7,535.1L974.1,533.2L972.8,531.3L971.8,529.3L971.0,527.4L970.3,525.5L968.7,521.7L968.7,521.7L967.1,525.5L966.4,527.4L965.6,529.3L964.6,531.3L963.3,533.2L961.7,535.1L959.8,537.0L957.7,538.9L955.4,540.8L952.9,542.8L950.3,544.7L947.8,546.6L945.6,548.5L944.0,550.4L943.2,552.4L944.0,554.3L945.6,556.2L947.8,558.1L950.3,560.0L952.9,561.9L955.4,563.9L957.7,565.8L959.8,567.7L961.7,569.6L963.3,571.5L964.6,573.4L965.6,575.4L966.4,577.3L967.1,579.2L968.7,583.0L968.7,583.0L970.3,579.2L971.0,577.3L971.8,575.4L972.8,573.4L974.1,571.5L975.7,569.6L977.6,567.7L979.7,565.8L982.0,563.9L984.5,561.9L987.1,560.0L989.6,558.1L991.8,556.2L993.4,554.3L994.2,552.4z" fill="none" stroke="#44609E" stroke-width="2.8" stroke-linejoin="round"/>
<rect x="961.3" y="544.2" width="14.8" height="7.7" fill="#36454F"/>
<rect x="961.3" y="553.2" width="14.8" height="6.4" fill="#1B7F7A"/>
<path d="M966.6,519.9L967.5,484.9H969.9000000000001L970.8000000000001,519.9V584.8L969.9000000000001,619.8H967.5L966.6,584.8z" fill="#44609E"/>
<path d="M964.7,527.0h8M964.7,577.4h8" stroke="#222" stroke-width="0.8" fill="none"/>
<line x1="1030.6" y1="473.7" x2="1030.6" y2="622.3" stroke="#D5339B" stroke-width="2.5" stroke-linecap="round"/>
<circle cx="1030.2" cy="468.0" r="1.5" fill="#D5339B"/>
<circle cx="1030.4" cy="465.9" r="1.5" fill="#D5339B"/>
<circle cx="1030.5" cy="461.4" r="1.5" fill="#D5339B"/>
<circle cx="1030.7" cy="461.2" r="1.5" fill="#D5339B"/>
<circle cx="1030.3" cy="624.3" r="1.5" fill="#D5339B"/>
<circle cx="1030.2" cy="629.3" r="1.5" fill="#D5339B"/>
<circle cx="1030.9" cy="632.7" r="1.5" fill="#D5339B"/>
<circle cx="1030.5" cy="638.4" r="1.5" fill="#D5339B"/>
<circle cx="1031.0" cy="644.5" r="1.5" fill="#D5339B"/>
<circle cx="1030.9" cy="648.6" r="1.5" fill="#D5339B"/>
<circle cx="1030.5" cy="654.9" r="1.5" fill="#D5339B"/>
<circle cx="1030.6" cy="658.1" r="1.5" fill="#D5339B"/>
<circle cx="1030.6" cy="660.3" r="1.5" fill="#D5339B"/>
<circle cx="1030.7" cy="662.2" r="1.5" fill="#D5339B"/>
<path d="M1050.6,552.4L1050.0,550.1L1048.7,547.9L1047.0,545.7L1045.0,543.5L1043.0,541.3L1041.1,539.1L1039.2,536.9L1037.5,534.7L1036.1,532.4L1034.9,530.2L1033.8,528.0L1033.0,525.8L1032.4,523.6L1031.9,521.4L1030.6,517.1L1030.6,517.1L1029.3,521.4L1028.8,523.6L1028.2,525.8L1027.4,528.0L1026.3,530.2L1025.1,532.4L1023.7,534.7L1022.0,536.9L1020.1,539.1L1018.2,541.3L1016.2,543.5L1014.2,545.7L1012.5,547.9L1011.2,550.1L1010.6,552.4L1011.2,554.6L1012.5,556.8L1014.2,559.0L1016.2,561.2L1018.2,563.4L1020.1,565.6L1022.0,567.8L1023.7,570.0L1025.1,572.3L1026.3,574.5L1027.4,576.7L1028.2,578.9L1028.8,581.1L1029.3,583.3L1030.6,587.6L1030.6,587.6L1031.9,583.3L1032.4,581.1L1033.0,578.9L1033.8,576.7L1034.9,574.5L1036.1,572.3L1037.5,570.0L1039.2,567.8L1041.1,565.6L1043.0,563.4L1045.0,561.2L1047.0,559.0L1048.7,556.8L1050.0,554.6L1050.6,552.4z" fill="none" stroke="#D5339B" stroke-width="2.8" stroke-linejoin="round"/>
<rect x="1023.2" y="544.2" width="14.8" height="7.7" fill="#36454F"/>
<rect x="1023.2" y="553.2" width="14.8" height="6.4" fill="#1B7F7A"/>
<path d="M1028.5,519.9L1029.3999999999999,484.9H1031.8L1032.6999999999998,519.9V584.8L1031.8,619.8H1029.3999999999999L1028.5,584.8z" fill="#D5339B"/>
<path d="M1026.6,522.9h8M1026.6,582.4h8" stroke="#222" stroke-width="0.8" fill="none"/>
<line x1="1092.6" y1="496.2" x2="1092.6" y2="609.8" stroke="#7CAA2E" stroke-width="2.5" stroke-linecap="round"/>
<circle cx="1092.2" cy="491.7" r="1.5" fill="#7CAA2E"/>
<circle cx="1092.7" cy="487.4" r="1.5" fill="#7CAA2E"/>
<circle cx="1092.6" cy="482.8" r="1.5" fill="#7CAA2E"/>
<circle cx="1092.7" cy="476.8" r="1.5" fill="#7CAA2E"/>
<circle cx="1092.5" cy="472.7" r="1.5" fill="#7CAA2E"/>
<circle cx="1092.8" cy="469.0" r="1.5" fill="#7CAA2E"/>
<circle cx="1092.8" cy="463.9" r="1.5" fill="#7CAA2E"/>
<circle cx="1092.2" cy="461.0" r="1.5" fill="#7CAA2E"/>
<circle cx="1092.2" cy="457.8" r="1.5" fill="#7CAA2E"/>
<circle cx="1092.7" cy="451.7" r="1.5" fill="#7CAA2E"/>
<circle cx="1093.0" cy="451.2" r="1.5" fill="#7CAA2E"/>
<circle cx="1092.4" cy="613.9" r="1.5" fill="#7CAA2E"/>
<circle cx="1092.6" cy="618.2" r="1.5" fill="#7CAA2E"/>
<circle cx="1092.7" cy="620.1" r="1.5" fill="#7CAA2E"/>
<circle cx="1092.5" cy="623.8" r="1.5" fill="#7CAA2E"/>
<circle cx="1092.5" cy="628.2" r="1.5" fill="#7CAA2E"/>
<circle cx="1092.5" cy="630.2" r="1.5" fill="#7CAA2E"/>
<circle cx="1092.5" cy="634.7" r="1.5" fill="#7CAA2E"/>
<circle cx="1092.7" cy="637.2" r="1.5" fill="#7CAA2E"/>
<path d="M1116.1,552.4L1115.4,550.3L1113.9,548.3L1111.8,546.3L1109.6,544.3L1107.2,542.3L1104.9,540.3L1102.7,538.2L1100.8,536.2L1099.1,534.2L1097.6,532.2L1096.4,530.2L1095.5,528.2L1094.7,526.1L1094.1,524.1L1092.6,520.2L1092.6,520.2L1091.1,524.1L1090.5,526.1L1089.7,528.2L1088.8,530.2L1087.6,532.2L1086.1,534.2L1084.4,536.2L1082.5,538.2L1080.3,540.3L1078.0,542.3L1075.6,544.3L1073.4,546.3L1071.3,548.3L1069.8,550.3L1069.1,552.4L1069.8,554.4L1071.3,556.4L1073.4,558.4L1075.6,560.4L1078.0,562.4L1080.3,564.4L1082.5,566.5L1084.4,568.5L1086.1,570.5L1087.6,572.5L1088.8,574.5L1089.7,576.5L1090.5,578.6L1091.1,580.6L1092.6,584.5L1092.6,584.5L1094.1,580.6L1094.7,578.6L1095.5,576.5L1096.4,574.5L1097.6,572.5L1099.1,570.5L1100.8,568.5L1102.7,566.5L1104.9,564.4L1107.2,562.4L1109.6,560.4L1111.8,558.4L1113.9,556.4L1115.4,554.4L1116.1,552.4z" fill="none" stroke="#7CAA2E" stroke-width="2.8" stroke-linejoin="round"/>
<rect x="1085.2" y="544.2" width="14.8" height="7.7" fill="#36454F"/>
<rect x="1085.2" y="553.2" width="14.8" height="6.4" fill="#1B7F7A"/>
<path d="M1090.5,519.9L1091.3999999999999,484.9H1093.8L1094.6999999999998,519.9V584.8L1093.8,619.8H1091.3999999999999L1090.5,584.8z" fill="#7CAA2E"/>
<path d="M1088.6,525.6h8M1088.6,578.8h8" stroke="#222" stroke-width="0.8" fill="none"/>
<rect x="813.7" y="427.5" width="309.29999999999995" height="249.70000000000005" fill="none" stroke="#000" stroke-width="1.2"/>
<text x="805.7" y="680.6" font-size="13.4" text-anchor="end">-10</text>
<text x="805.7" y="618.2" font-size="13.4" text-anchor="end">-5</text>
<text x="805.7" y="555.8" font-size="13.4" text-anchor="end">0</text>
<text x="805.7" y="493.3" font-size="13.4" text-anchor="end">5</text>
<text x="805.7" y="430.9" font-size="13.4" text-anchor="end">10</text>
<path d="M813.7,677.2h4.5M1123.0,677.2h-4.5M813.7,614.8h4.5M1123.0,614.8h-4.5M813.7,552.4h4.5M1123.0,552.4h-4.5M813.7,489.9h4.5M1123.0,489.9h-4.5M813.7,427.5h4.5M1123.0,427.5h-4.5M813.7,646.0h2.6M1123.0,646.0h-2.6M813.7,583.6h2.6M1123.0,583.6h-2.6M813.7,521.1h2.6M1123.0,521.1h-2.6M813.7,458.7h2.6M1123.0,458.7h-2.6M844.1,677.2v-4.5M844.1,427.5v4.5M906.4,677.2v-4.5M906.4,427.5v4.5M968.7,677.2v-4.5M968.7,427.5v4.5M1030.6,677.2v-4.5M1030.6,427.5v4.5M1092.6,677.2v-4.5M1092.6,427.5v4.5" fill="none" stroke="#000" stroke-width="1.1"/>
<text x="844.1" y="694" font-size="13.4" text-anchor="middle">LS</text>
<text x="906.4" y="694" font-size="13.4" text-anchor="middle">LH</text>
<text x="968.7" y="694" font-size="13.4" text-anchor="middle">PH</text>
<text x="1030.6" y="694" font-size="13.4" text-anchor="middle">LM</text>
<text x="1092.6" y="694" font-size="13.4" text-anchor="middle">PM</text>
<text font-size="13.4" text-anchor="middle" transform="translate(774.5,555) rotate(-90)">log<tspan font-size="9" dy="3">2</tspan><tspan dy="-3">(Bt/Ct) for all homoeologous gene pairs</tspan></text>
<rect x="1191.3" y="63.2" width="196.4000000000001" height="635.8" fill="#fff"/>
<rect x="1192.8" y="63.2" width="36.2" height="34.0" fill="#FF6422"/>
<rect x="1192.8" y="97.2" width="36.2" height="569.6" fill="#F0E4D4"/>
<rect x="1192.8" y="666.8" width="36.2" height="32.2" fill="#3F55A6"/>
<rect x="1233.1" y="63.2" width="35.0" height="34.0" fill="#FF6422"/>
<rect x="1233.1" y="97.2" width="35.0" height="569.6" fill="#F0E4D4"/>
<rect x="1233.1" y="666.8" width="35.0" height="32.2" fill="#3F55A6"/>
<rect x="1271.9" y="63.2" width="34.9" height="34.0" fill="#FF6422"/>
<rect x="1271.9" y="97.2" width="34.9" height="569.6" fill="#F0E4D4"/>
<rect x="1271.9" y="666.8" width="34.9" height="32.2" fill="#3F55A6"/>
<rect x="1310.7" y="63.2" width="34.7" height="34.0" fill="#FF6422"/>
<rect x="1310.7" y="97.2" width="34.7" height="569.6" fill="#F0E4D4"/>
<rect x="1310.7" y="666.8" width="34.7" height="32.2" fill="#3F55A6"/>
<rect x="1349.4" y="63.2" width="37.2" height="34.0" fill="#FF6422"/>
<rect x="1349.4" y="97.2" width="37.2" height="569.6" fill="#F0E4D4"/>
<rect x="1349.4" y="666.8" width="37.2" height="32.2" fill="#3F55A6"/>
<path d="M1192.8,66.5H1229.0M1192.8,75.5H1229.0M1192.8,82.5H1229.0M1192.8,84.5H1229.0M1192.8,89.5H1229.0M1192.8,94.5H1229.0M1233.1,67.5H1268.1M1233.1,69.5H1268.1M1233.1,74.5H1268.1M1233.1,81.5H1268.1M1233.1,82.5H1268.1M1233.1,94.5H1268.1M1271.9,85.5H1306.8M1310.7,67.5H1345.4M1310.7,69.5H1345.4M1310.7,76.5H1345.4M1310.7,81.5H1345.4M1310.7,94.5H1345.4M1349.4,82.5H1386.6M1349.4,85.5H1386.6M1349.4,94.5H1386.6" stroke="#FFEDE2" stroke-width="1" fill="none"/>
<path d="M1192.8,98.5H1229.0V99.5H1192.8zM1192.8,104.0H1229.0V107.0H1192.8zM1192.8,125.5H1229.0V126.0H1192.8zM1192.8,128.5H1229.0V129.0H1192.8zM1192.8,134.5H1229.0V135.0H1192.8zM1192.8,143.5H1229.0V145.5H1192.8zM1192.8,157.0H1229.0V157.5H1192.8zM1192.8,176.5H1229.0V177.0H1192.8zM1192.8,183.0H1229.0V184.0H1192.8zM1192.8,198.0H1229.0V200.0H1192.8zM1192.8,210.0H1229.0V210.5H1192.8zM1192.8,232.5H1229.0V234.5H1192.8zM1192.8,247.5H1229.0V249.0H1192.8zM1192.8,249.5H1229.0V250.5H1192.8zM1192.8,255.0H1229.0V257.0H1192.8zM1192.8,257.5H1229.0V260.0H1192.8zM1192.8,267.0H1229.0V267.5H1192.8zM1192.8,294.0H1229.0V294.5H1192.8zM1192.8,300.0H1229.0V301.5H1192.8zM1192.8,307.0H1229.0V307.5H1192.8zM1192.8,308.5H1229.0V309.5H1192.8zM1192.8,311.0H1229.0V311.5H1192.8zM1192.8,318.0H1229.0V321.0H1192.8zM1192.8,323.0H1229.0V324.0H1192.8zM1192.8,331.5H1229.0V332.5H1192.8zM1192.8,334.5H1229.0V335.0H1192.8zM1192.8,335.5H1229.0V336.0H1192.8zM1233.1,102.0H1268.1V103.0H1233.1zM1233.1,111.5H1268.1V112.5H1233.1zM1233.1,113.0H1268.1V113.5H1233.1zM1233.1,125.5H1268.1V127.0H1233.1zM1233.1,132.0H1268.1V135.0H1233.1zM1233.1,139.0H1268.1V140.0H1233.1zM1233.1,142.0H1268.1V145.0H1233.1zM1233.1,157.0H1268.1V157.5H1233.1zM1233.1,168.0H1268.1V168.5H1233.1zM1233.1,176.5H1268.1V177.0H1233.1zM1233.1,178.5H1268.1V180.0H1233.1zM1233.1,182.0H1268.1V182.5H1233.1zM1233.1,183.0H1268.1V184.5H1233.1zM1233.1,190.5H1268.1V193.5H1233.1zM1233.1,199.5H1268.1V201.5H1233.1zM1233.1,229.0H1268.1V230.0H1233.1zM1233.1,233.5H1268.1V234.5H1233.1zM1233.1,248.0H1268.1V249.0H1233.1zM1233.1,255.0H1268.1V257.0H1233.1zM1233.1,257.5H1268.1V260.0H1233.1zM1233.1,261.0H1268.1V262.0H1233.1zM1233.1,267.0H1268.1V267.5H1233.1zM1233.1,277.0H1268.1V277.5H1233.1zM1233.1,278.5H1268.1V279.0H1233.1zM1233.1,279.5H1268.1V280.5H1233.1zM1233.1,300.5H1268.1V301.5H1233.1zM1233.1,318.0H1268.1V318.5H1233.1zM1233.1,334.0H1268.1V334.5H1233.1zM1233.1,338.5H1268.1V339.0H1233.1zM1271.9,98.0H1306.8V98.5H1271.9zM1271.9,99.0H1306.8V99.5H1271.9zM1271.9,102.0H1306.8V103.5H1271.9zM1271.9,104.5H1306.8V106.5H1271.9zM1271.9,107.5H1306.8V108.0H1271.9zM1271.9,109.5H1306.8V110.5H1271.9zM1271.9,113.5H1306.8V114.0H1271.9zM1271.9,121.0H1306.8V122.0H1271.9zM1271.9,133.5H1306.8V135.0H1271.9zM1271.9,137.0H1306.8V139.0H1271.9zM1271.9,140.5H1306.8V142.0H1271.9zM1271.9,152.0H1306.8V152.5H1271.9zM1271.9,153.0H1306.8V155.5H1271.9zM1271.9,163.0H1306.8V163.5H1271.9zM1271.9,174.5H1306.8V175.0H1271.9zM1271.9,188.0H1306.8V189.0H1271.9zM1271.9,194.5H1306.8V195.0H1271.9zM1271.9,200.0H1306.8V201.0H1271.9zM1271.9,207.5H1306.8V209.5H1271.9zM1271.9,219.0H1306.8V220.5H1271.9zM1271.9,231.5H1306.8V232.0H1271.9zM1271.9,238.5H1306.8V240.5H1271.9zM1271.9,244.0H1306.8V244.5H1271.9zM1271.9,250.5H1306.8V251.0H1271.9zM1271.9,265.0H1306.8V266.5H1271.9zM1271.9,269.0H1306.8V270.5H1271.9zM1271.9,274.5H1306.8V276.0H1271.9zM1271.9,276.5H1306.8V277.5H1271.9zM1271.9,282.5H1306.8V283.0H1271.9zM1271.9,285.0H1306.8V285.5H1271.9zM1271.9,286.5H1306.8V287.5H1271.9zM1271.9,291.0H1306.8V291.5H1271.9zM1271.9,295.0H1306.8V295.5H1271.9zM1271.9,297.5H1306.8V298.0H1271.9zM1271.9,299.0H1306.8V300.5H1271.9zM1271.9,301.0H1306.8V301.5H1271.9zM1271.9,319.0H1306.8V320.5H1271.9zM1271.9,324.0H1306.8V324.5H1271.9zM1271.9,325.0H1306.8V326.0H1271.9zM1271.9,330.0H1306.8V331.0H1271.9zM1271.9,337.5H1306.8V338.5H1271.9zM1310.7,104.0H1345.4V105.5H1310.7zM1310.7,123.0H1345.4V123.5H1310.7zM1310.7,125.5H1345.4V127.0H1310.7zM1310.7,130.5H1345.4V131.5H1310.7zM1310.7,135.0H1345.4V135.5H1310.7zM1310.7,148.0H1345.4V149.0H1310.7zM1310.7,152.5H1345.4V153.0H1310.7zM1310.7,160.5H1345.4V161.0H1310.7zM1310.7,166.5H1345.4V167.0H1310.7zM1310.7,183.0H1345.4V184.5H1310.7zM1310.7,195.0H1345.4V196.5H1310.7zM1310.7,202.5H1345.4V203.5H1310.7zM1310.7,227.5H1345.4V228.0H1310.7zM1310.7,228.5H1345.4V232.0H1310.7zM1310.7,235.5H1345.4V236.5H1310.7zM1310.7,244.0H1345.4V245.0H1310.7zM1310.7,247.5H1345.4V249.0H1310.7zM1310.7,249.5H1345.4V250.5H1310.7zM1310.7,255.0H1345.4V256.0H1310.7zM1310.7,257.5H1345.4V260.0H1310.7zM1310.7,266.0H1345.4V266.5H1310.7zM1310.7,270.5H1345.4V271.0H1310.7zM1310.7,272.0H1345.4V273.0H1310.7zM1310.7,278.5H1345.4V279.0H1310.7zM1310.7,279.5H1345.4V280.5H1310.7zM1310.7,300.0H1345.4V301.5H1310.7zM1310.7,306.0H1345.4V306.5H1310.7zM1310.7,307.0H1345.4V308.0H1310.7zM1310.7,318.0H1345.4V321.0H1310.7zM1310.7,323.0H1345.4V324.0H1310.7zM1349.4,104.5H1386.6V106.0H1349.4zM1349.4,106.5H1386.6V107.0H1349.4zM1349.4,110.0H1386.6V112.5H1349.4zM1349.4,116.5H1386.6V117.0H1349.4zM1349.4,143.0H1386.6V143.5H1349.4zM1349.4,154.5H1386.6V155.0H1349.4zM1349.4,175.5H1386.6V176.0H1349.4zM1349.4,184.5H1386.6V185.0H1349.4zM1349.4,187.5H1386.6V189.0H1349.4zM1349.4,196.0H1386.6V197.0H1349.4zM1349.4,197.5H1386.6V198.0H1349.4zM1349.4,209.0H1386.6V209.5H1349.4zM1349.4,210.5H1386.6V211.0H1349.4zM1349.4,212.0H1386.6V212.5H1349.4zM1349.4,242.0H1386.6V243.5H1349.4zM1349.4,246.0H1386.6V247.0H1349.4zM1349.4,263.5H1386.6V264.0H1349.4zM1349.4,269.0H1386.6V270.0H1349.4zM1349.4,273.0H1386.6V274.5H1349.4zM1349.4,278.0H1386.6V278.5H1349.4zM1349.4,279.0H1386.6V282.0H1349.4zM1349.4,289.0H1386.6V289.5H1349.4zM1349.4,300.0H1386.6V301.5H1349.4zM1349.4,307.0H1386.6V308.0H1349.4zM1349.4,309.0H1386.6V310.0H1349.4zM1349.4,316.5H1386.6V317.5H1349.4zM1349.4,335.0H1386.6V335.5H1349.4z" fill="#3F55A6"/>
<path d="M1192.8,102.0H1229.0V103.5H1192.8zM1192.8,114.5H1229.0V115.0H1192.8zM1192.8,117.0H1229.0V119.0H1192.8zM1192.8,120.0H1229.0V121.5H1192.8zM1192.8,127.5H1229.0V128.5H1192.8zM1192.8,133.5H1229.0V134.5H1192.8zM1192.8,156.0H1229.0V157.0H1192.8zM1192.8,175.0H1229.0V175.5H1192.8zM1192.8,176.0H1229.0V176.5H1192.8zM1192.8,177.0H1229.0V180.0H1192.8zM1192.8,186.0H1229.0V186.5H1192.8zM1192.8,196.0H1229.0V196.5H1192.8zM1192.8,200.5H1229.0V201.5H1192.8zM1192.8,203.0H1229.0V204.0H1192.8zM1192.8,219.0H1229.0V220.0H1192.8zM1192.8,223.0H1229.0V226.0H1192.8zM1192.8,234.5H1229.0V238.5H1192.8zM1192.8,240.0H1229.0V240.5H1192.8zM1192.8,246.0H1229.0V246.5H1192.8zM1192.8,250.5H1229.0V255.0H1192.8zM1192.8,274.0H1229.0V275.5H1192.8zM1192.8,290.0H1229.0V292.0H1192.8zM1192.8,315.5H1229.0V317.0H1192.8zM1192.8,324.0H1229.0V324.5H1192.8zM1233.1,108.0H1268.1V109.0H1233.1zM1233.1,114.5H1268.1V115.0H1233.1zM1233.1,117.0H1268.1V119.0H1233.1zM1233.1,120.0H1268.1V121.5H1233.1zM1233.1,128.5H1268.1V129.0H1233.1zM1233.1,146.5H1268.1V148.0H1233.1zM1233.1,154.5H1268.1V156.0H1233.1zM1233.1,156.5H1268.1V157.0H1233.1zM1233.1,176.0H1268.1V176.5H1233.1zM1233.1,211.0H1268.1V213.5H1233.1zM1233.1,221.5H1268.1V226.0H1233.1zM1233.1,234.5H1268.1V238.5H1233.1zM1233.1,254.0H1268.1V255.0H1233.1zM1233.1,275.0H1268.1V275.5H1233.1zM1233.1,286.5H1268.1V287.0H1233.1zM1233.1,290.0H1268.1V292.0H1233.1zM1233.1,307.0H1268.1V309.5H1233.1zM1233.1,315.5H1268.1V317.0H1233.1zM1233.1,318.5H1268.1V319.5H1233.1zM1233.1,327.0H1268.1V329.0H1233.1zM1233.1,337.5H1268.1V338.5H1233.1zM1271.9,101.0H1306.8V101.5H1271.9zM1271.9,103.5H1306.8V104.0H1271.9zM1271.9,110.5H1306.8V113.0H1271.9zM1271.9,116.0H1306.8V116.5H1271.9zM1271.9,119.5H1306.8V120.5H1271.9zM1271.9,123.0H1306.8V125.5H1271.9zM1271.9,136.0H1306.8V137.0H1271.9zM1271.9,139.0H1306.8V140.5H1271.9zM1271.9,143.0H1306.8V144.5H1271.9zM1271.9,148.0H1306.8V150.5H1271.9zM1271.9,168.0H1306.8V170.0H1271.9zM1271.9,187.0H1306.8V187.5H1271.9zM1271.9,189.0H1306.8V190.5H1271.9zM1271.9,207.0H1306.8V207.5H1271.9zM1271.9,210.5H1306.8V211.0H1271.9zM1271.9,222.0H1306.8V224.0H1271.9zM1271.9,231.0H1306.8V231.5H1271.9zM1271.9,232.0H1306.8V233.0H1271.9zM1271.9,236.0H1306.8V236.5H1271.9zM1271.9,243.0H1306.8V244.0H1271.9zM1271.9,253.5H1306.8V254.5H1271.9zM1271.9,274.0H1306.8V274.5H1271.9zM1271.9,276.0H1306.8V276.5H1271.9zM1271.9,277.5H1306.8V279.5H1271.9zM1271.9,285.5H1306.8V286.0H1271.9zM1271.9,290.5H1306.8V291.0H1271.9zM1271.9,304.5H1306.8V306.5H1271.9zM1271.9,323.5H1306.8V324.0H1271.9zM1271.9,329.0H1306.8V330.0H1271.9zM1271.9,336.0H1306.8V336.5H1271.9zM1310.7,103.0H1345.4V103.5H1310.7zM1310.7,114.0H1345.4V116.0H1310.7zM1310.7,117.0H1345.4V119.0H1310.7zM1310.7,120.0H1345.4V121.5H1310.7zM1310.7,123.5H1345.4V124.0H1310.7zM1310.7,129.5H1345.4V130.5H1310.7zM1310.7,131.5H1345.4V135.0H1310.7zM1310.7,160.0H1345.4V160.5H1310.7zM1310.7,169.0H1345.4V170.0H1310.7zM1310.7,174.5H1345.4V176.0H1310.7zM1310.7,192.0H1345.4V195.0H1310.7zM1310.7,198.5H1345.4V201.5H1310.7zM1310.7,211.0H1345.4V213.5H1310.7zM1310.7,222.5H1345.4V223.0H1310.7zM1310.7,243.0H1345.4V244.0H1310.7zM1310.7,250.5H1345.4V253.0H1310.7zM1310.7,256.0H1345.4V256.5H1310.7zM1310.7,274.0H1345.4V274.5H1310.7zM1310.7,277.0H1345.4V277.5H1310.7zM1310.7,290.0H1345.4V292.0H1310.7zM1310.7,294.5H1345.4V295.0H1310.7zM1310.7,297.0H1345.4V299.0H1310.7zM1310.7,308.5H1345.4V309.0H1310.7zM1310.7,311.0H1345.4V311.5H1310.7zM1310.7,315.5H1345.4V317.0H1310.7zM1310.7,324.0H1345.4V324.5H1310.7zM1349.4,114.0H1386.6V116.5H1349.4zM1349.4,134.5H1386.6V135.5H1349.4zM1349.4,141.0H1386.6V141.5H1349.4zM1349.4,149.5H1386.6V151.0H1349.4zM1349.4,157.5H1386.6V160.0H1349.4zM1349.4,161.5H1386.6V163.0H1349.4zM1349.4,167.5H1386.6V168.0H1349.4zM1349.4,173.0H1386.6V174.0H1349.4zM1349.4,180.0H1386.6V180.5H1349.4zM1349.4,181.5H1386.6V184.5H1349.4zM1349.4,192.0H1386.6V194.0H1349.4zM1349.4,198.5H1386.6V199.5H1349.4zM1349.4,214.5H1386.6V216.5H1349.4zM1349.4,229.5H1386.6V231.0H1349.4zM1349.4,232.0H1386.6V232.5H1349.4zM1349.4,233.5H1386.6V235.0H1349.4zM1349.4,243.5H1386.6V244.5H1349.4zM1349.4,245.0H1386.6V246.0H1349.4zM1349.4,261.0H1386.6V263.5H1349.4zM1349.4,276.0H1386.6V277.0H1349.4zM1349.4,285.5H1386.6V286.0H1349.4zM1349.4,294.0H1386.6V294.5H1349.4zM1349.4,299.5H1386.6V300.0H1349.4zM1349.4,303.0H1386.6V303.5H1349.4zM1349.4,322.0H1386.6V323.0H1349.4zM1349.4,324.5H1386.6V326.0H1349.4zM1349.4,329.0H1386.6V330.0H1349.4z" fill="#FF6422"/>
<path d="M1192.8,107.0H1229.0V107.5H1192.8zM1192.8,119.5H1229.0V120.0H1192.8zM1192.8,167.0H1229.0V168.0H1192.8zM1192.8,218.0H1229.0V219.0H1192.8zM1233.1,119.5H1268.1V120.0H1233.1zM1233.1,218.0H1268.1V219.0H1233.1zM1233.1,232.5H1268.1V233.5H1233.1zM1233.1,262.0H1268.1V262.5H1233.1zM1233.1,287.5H1268.1V288.0H1233.1zM1233.1,293.5H1268.1V294.0H1233.1zM1271.9,99.5H1306.8V101.0H1271.9zM1271.9,175.0H1306.8V175.5H1271.9zM1271.9,186.5H1306.8V187.0H1271.9zM1271.9,282.0H1306.8V282.5H1271.9zM1271.9,283.0H1306.8V285.0H1271.9zM1271.9,303.0H1306.8V304.5H1271.9zM1271.9,338.5H1306.8V339.0H1271.9zM1310.7,107.0H1345.4V107.5H1310.7zM1310.7,119.5H1345.4V120.0H1310.7zM1310.7,149.0H1345.4V149.5H1310.7zM1349.4,102.5H1386.6V103.0H1349.4zM1349.4,200.0H1386.6V201.0H1349.4z" fill="#C9CDE4"/>
<path d="M1192.8,107.5H1229.0V108.0H1192.8zM1192.8,108.5H1229.0V109.0H1192.8zM1192.8,112.0H1229.0V113.5H1192.8zM1192.8,115.0H1229.0V116.0H1192.8zM1192.8,119.0H1229.0V119.5H1192.8zM1192.8,124.0H1229.0V125.5H1192.8zM1192.8,126.0H1229.0V127.5H1192.8zM1192.8,129.0H1229.0V129.5H1192.8zM1192.8,130.0H1229.0V133.5H1192.8zM1192.8,135.0H1229.0V135.5H1192.8zM1192.8,145.5H1229.0V147.0H1192.8zM1192.8,154.0H1229.0V155.0H1192.8zM1192.8,159.0H1229.0V160.5H1192.8zM1192.8,180.0H1229.0V181.0H1192.8zM1192.8,184.0H1229.0V185.0H1192.8zM1192.8,186.5H1229.0V191.0H1192.8zM1192.8,200.0H1229.0V200.5H1192.8zM1192.8,206.5H1229.0V207.0H1192.8zM1192.8,207.5H1229.0V208.0H1192.8zM1192.8,213.0H1229.0V214.0H1192.8zM1192.8,226.0H1229.0V226.5H1192.8zM1192.8,239.0H1229.0V240.0H1192.8zM1192.8,241.0H1229.0V241.5H1192.8zM1192.8,260.0H1229.0V260.5H1192.8zM1192.8,263.5H1229.0V265.5H1192.8zM1192.8,267.5H1229.0V270.5H1192.8zM1192.8,275.5H1229.0V276.0H1192.8zM1192.8,277.0H1229.0V279.0H1192.8zM1192.8,292.0H1229.0V294.0H1192.8zM1192.8,295.0H1229.0V295.5H1192.8zM1192.8,302.5H1229.0V305.5H1192.8zM1192.8,309.5H1229.0V311.0H1192.8zM1192.8,311.5H1229.0V312.0H1192.8zM1192.8,312.5H1229.0V313.5H1192.8zM1192.8,315.0H1229.0V315.5H1192.8zM1192.8,325.5H1229.0V326.5H1192.8zM1192.8,329.0H1229.0V329.5H1192.8zM1192.8,336.5H1229.0V337.5H1192.8zM1233.1,99.0H1268.1V100.0H1233.1zM1233.1,101.5H1268.1V102.0H1233.1zM1233.1,103.0H1268.1V104.5H1233.1zM1233.1,109.0H1268.1V110.0H1233.1zM1233.1,115.0H1268.1V116.0H1233.1zM1233.1,119.0H1268.1V119.5H1233.1zM1233.1,124.0H1268.1V125.5H1233.1zM1233.1,127.0H1268.1V128.5H1233.1zM1233.1,131.0H1268.1V131.5H1233.1zM1233.1,135.0H1268.1V135.5H1233.1zM1233.1,140.0H1268.1V142.0H1233.1zM1233.1,153.0H1268.1V154.0H1233.1zM1233.1,159.0H1268.1V160.5H1233.1zM1233.1,169.0H1268.1V169.5H1233.1zM1233.1,173.0H1268.1V174.0H1233.1zM1233.1,180.5H1268.1V181.5H1233.1zM1233.1,185.0H1268.1V189.0H1233.1zM1233.1,190.0H1268.1V190.5H1233.1zM1233.1,193.5H1268.1V194.5H1233.1zM1233.1,201.5H1268.1V204.5H1233.1zM1233.1,206.5H1268.1V207.0H1233.1zM1233.1,213.5H1268.1V214.0H1233.1zM1233.1,226.0H1268.1V226.5H1233.1zM1233.1,240.5H1268.1V241.0H1233.1zM1233.1,243.5H1268.1V244.0H1233.1zM1233.1,260.0H1268.1V260.5H1233.1zM1233.1,267.5H1268.1V269.0H1233.1zM1233.1,274.5H1268.1V275.0H1233.1zM1233.1,278.0H1268.1V278.5H1233.1zM1233.1,284.5H1268.1V285.0H1233.1zM1233.1,292.0H1268.1V292.5H1233.1zM1233.1,311.0H1268.1V312.0H1233.1zM1233.1,312.5H1268.1V313.5H1233.1zM1233.1,315.0H1268.1V315.5H1233.1zM1233.1,323.5H1268.1V324.5H1233.1zM1233.1,329.5H1268.1V330.0H1233.1zM1233.1,334.5H1268.1V337.5H1233.1zM1271.9,114.0H1306.8V115.0H1271.9zM1271.9,120.5H1306.8V121.0H1271.9zM1271.9,165.5H1306.8V166.5H1271.9zM1271.9,175.5H1306.8V176.0H1271.9zM1271.9,179.0H1306.8V181.0H1271.9zM1271.9,185.5H1306.8V186.0H1271.9zM1271.9,187.5H1306.8V188.0H1271.9zM1271.9,195.0H1306.8V196.0H1271.9zM1271.9,199.0H1306.8V200.0H1271.9zM1271.9,211.0H1306.8V212.5H1271.9zM1271.9,220.5H1306.8V222.0H1271.9zM1271.9,224.0H1306.8V227.0H1271.9zM1271.9,227.5H1306.8V228.5H1271.9zM1271.9,229.0H1306.8V231.0H1271.9zM1271.9,240.5H1306.8V241.0H1271.9zM1271.9,249.5H1306.8V250.5H1271.9zM1271.9,253.0H1306.8V253.5H1271.9zM1271.9,254.5H1306.8V256.5H1271.9zM1271.9,257.5H1306.8V260.5H1271.9zM1271.9,263.0H1306.8V263.5H1271.9zM1271.9,268.0H1306.8V268.5H1271.9zM1271.9,286.0H1306.8V286.5H1271.9zM1271.9,289.0H1306.8V290.5H1271.9zM1271.9,291.5H1306.8V292.0H1271.9zM1271.9,294.5H1306.8V295.0H1271.9zM1271.9,295.5H1306.8V297.5H1271.9zM1271.9,302.5H1306.8V303.0H1271.9zM1271.9,306.5H1306.8V309.0H1271.9zM1271.9,310.0H1306.8V310.5H1271.9zM1271.9,313.5H1306.8V314.5H1271.9zM1310.7,101.5H1345.4V103.0H1310.7zM1310.7,107.5H1345.4V108.0H1310.7zM1310.7,109.5H1345.4V112.0H1310.7zM1310.7,119.0H1345.4V119.5H1310.7zM1310.7,122.0H1345.4V123.0H1310.7zM1310.7,124.0H1345.4V125.5H1310.7zM1310.7,127.0H1345.4V129.5H1310.7zM1310.7,135.5H1345.4V137.5H1310.7zM1310.7,143.5H1345.4V144.0H1310.7zM1310.7,147.5H1345.4V148.0H1310.7zM1310.7,156.5H1345.4V157.5H1310.7zM1310.7,168.0H1345.4V169.0H1310.7zM1310.7,172.5H1345.4V173.0H1310.7zM1310.7,185.0H1345.4V191.0H1310.7zM1310.7,191.5H1345.4V192.0H1310.7zM1310.7,206.5H1345.4V207.0H1310.7zM1310.7,213.5H1345.4V214.0H1310.7zM1310.7,225.0H1345.4V226.0H1310.7zM1310.7,236.5H1345.4V237.0H1310.7zM1310.7,240.0H1345.4V240.5H1310.7zM1310.7,246.5H1345.4V247.5H1310.7zM1310.7,253.0H1345.4V253.5H1310.7zM1310.7,260.0H1345.4V260.5H1310.7zM1310.7,263.0H1345.4V266.0H1310.7zM1310.7,278.0H1345.4V278.5H1310.7zM1310.7,284.5H1345.4V287.5H1310.7zM1310.7,292.0H1345.4V292.5H1310.7zM1310.7,310.5H1345.4V311.0H1310.7zM1310.7,312.5H1345.4V313.5H1310.7zM1310.7,315.0H1345.4V315.5H1310.7zM1310.7,329.0H1345.4V330.0H1310.7zM1349.4,117.0H1386.6V117.5H1349.4zM1349.4,129.5H1386.6V130.5H1349.4zM1349.4,142.0H1386.6V142.5H1349.4zM1349.4,143.5H1386.6V144.0H1349.4zM1349.4,145.5H1386.6V146.0H1349.4zM1349.4,152.0H1386.6V152.5H1349.4zM1349.4,185.0H1386.6V187.5H1349.4zM1349.4,210.0H1386.6V210.5H1349.4zM1349.4,218.5H1386.6V222.0H1349.4zM1349.4,229.0H1386.6V229.5H1349.4zM1349.4,231.0H1386.6V232.0H1349.4zM1349.4,244.5H1386.6V245.0H1349.4zM1349.4,250.0H1386.6V250.5H1349.4zM1349.4,258.5H1386.6V259.0H1349.4zM1349.4,268.0H1386.6V269.0H1349.4zM1349.4,270.5H1386.6V271.0H1349.4zM1349.4,274.5H1386.6V275.5H1349.4zM1349.4,289.5H1386.6V290.5H1349.4zM1349.4,299.0H1386.6V299.5H1349.4zM1349.4,301.5H1386.6V302.0H1349.4zM1349.4,313.5H1386.6V314.5H1349.4zM1349.4,321.0H1386.6V321.5H1349.4zM1349.4,330.0H1386.6V330.5H1349.4z" fill="#A25560"/>
<path d="M1192.8,111.0H1229.0V112.0H1192.8zM1192.8,157.5H1229.0V159.0H1192.8zM1192.8,166.0H1229.0V166.5H1192.8zM1192.8,185.5H1229.0V186.0H1192.8zM1192.8,193.5H1229.0V196.0H1192.8zM1192.8,205.0H1229.0V206.5H1192.8zM1192.8,209.5H1229.0V210.0H1192.8zM1192.8,214.5H1229.0V216.0H1192.8zM1192.8,249.0H1229.0V249.5H1192.8zM1192.8,273.5H1229.0V274.0H1192.8zM1192.8,276.5H1229.0V277.0H1192.8zM1192.8,284.0H1229.0V285.0H1192.8zM1192.8,314.5H1229.0V315.0H1192.8zM1192.8,328.5H1229.0V329.0H1192.8zM1233.1,98.0H1268.1V99.0H1233.1zM1233.1,100.0H1268.1V101.5H1233.1zM1233.1,150.0H1268.1V151.0H1233.1zM1233.1,156.0H1268.1V156.5H1233.1zM1233.1,157.5H1268.1V159.0H1233.1zM1233.1,195.0H1268.1V198.0H1233.1zM1233.1,205.0H1268.1V206.5H1233.1zM1233.1,214.5H1268.1V216.0H1233.1zM1233.1,264.0H1268.1V265.0H1233.1zM1233.1,272.0H1268.1V274.5H1233.1zM1233.1,275.5H1268.1V277.0H1233.1zM1233.1,287.0H1268.1V287.5H1233.1zM1233.1,288.0H1268.1V289.0H1233.1zM1233.1,294.0H1268.1V294.5H1233.1zM1233.1,314.5H1268.1V315.0H1233.1zM1271.9,144.5H1306.8V145.5H1271.9zM1271.9,197.0H1306.8V197.5H1271.9zM1271.9,209.5H1306.8V210.0H1271.9zM1271.9,287.5H1306.8V289.0H1271.9zM1271.9,292.0H1306.8V294.0H1271.9zM1271.9,298.5H1306.8V299.0H1271.9zM1271.9,326.5H1306.8V327.5H1271.9zM1310.7,144.0H1345.4V145.5H1310.7zM1310.7,157.5H1345.4V158.0H1310.7zM1310.7,180.5H1345.4V181.0H1310.7zM1310.7,197.5H1345.4V198.5H1310.7zM1310.7,205.0H1345.4V206.5H1310.7zM1310.7,214.5H1345.4V216.0H1310.7zM1310.7,249.0H1345.4V249.5H1310.7zM1310.7,261.5H1345.4V262.0H1310.7zM1310.7,314.5H1345.4V315.0H1310.7zM1349.4,98.0H1386.6V99.5H1349.4zM1349.4,100.5H1386.6V101.0H1349.4zM1349.4,197.0H1386.6V197.5H1349.4zM1349.4,198.0H1386.6V198.5H1349.4zM1349.4,199.5H1386.6V200.0H1349.4zM1349.4,225.0H1386.6V225.5H1349.4zM1349.4,235.0H1386.6V237.5H1349.4zM1349.4,238.0H1386.6V239.0H1349.4zM1349.4,282.5H1386.6V285.0H1349.4zM1349.4,310.0H1386.6V310.5H1349.4zM1349.4,333.0H1386.6V334.0H1349.4z" fill="#FBCDB2"/>
<path d="M1192.8,153.5H1229.0V154.0H1192.8zM1192.8,155.0H1229.0V156.0H1192.8zM1192.8,202.5H1229.0V203.0H1192.8zM1192.8,207.0H1229.0V207.5H1192.8zM1192.8,240.5H1229.0V241.0H1192.8zM1192.8,257.0H1229.0V257.5H1192.8zM1192.8,279.5H1229.0V280.5H1192.8zM1192.8,285.0H1229.0V285.5H1192.8zM1192.8,286.5H1229.0V287.5H1192.8zM1192.8,327.5H1229.0V328.5H1192.8zM1192.8,331.0H1229.0V331.5H1192.8zM1233.1,130.0H1268.1V131.0H1233.1zM1233.1,168.5H1268.1V169.0H1233.1zM1233.1,177.0H1268.1V178.0H1233.1zM1233.1,189.0H1268.1V190.0H1233.1zM1233.1,194.5H1268.1V195.0H1233.1zM1233.1,198.0H1268.1V198.5H1233.1zM1233.1,210.5H1268.1V211.0H1233.1zM1233.1,220.5H1268.1V221.5H1233.1zM1233.1,241.0H1268.1V241.5H1233.1zM1233.1,244.0H1268.1V246.0H1233.1zM1233.1,247.5H1268.1V248.0H1233.1zM1233.1,249.0H1268.1V250.0H1233.1zM1233.1,257.0H1268.1V257.5H1233.1zM1271.9,107.0H1306.8V107.5H1271.9zM1271.9,145.5H1306.8V146.5H1271.9zM1271.9,190.5H1306.8V191.5H1271.9zM1271.9,192.0H1306.8V193.0H1271.9zM1271.9,214.5H1306.8V215.0H1271.9zM1271.9,233.0H1306.8V233.5H1271.9zM1271.9,237.5H1306.8V238.5H1271.9zM1271.9,311.5H1306.8V312.0H1271.9zM1271.9,333.5H1306.8V336.0H1271.9zM1310.7,150.5H1345.4V151.0H1310.7zM1310.7,210.5H1345.4V211.0H1310.7zM1310.7,242.0H1345.4V243.0H1310.7zM1310.7,257.0H1345.4V257.5H1310.7zM1310.7,271.0H1345.4V271.5H1310.7zM1310.7,336.0H1345.4V337.0H1310.7zM1349.4,99.5H1386.6V100.0H1349.4zM1349.4,142.5H1386.6V143.0H1349.4zM1349.4,163.0H1386.6V164.5H1349.4zM1349.4,208.0H1386.6V208.5H1349.4zM1349.4,213.0H1386.6V213.5H1349.4zM1349.4,254.0H1386.6V256.0H1349.4zM1349.4,266.5H1386.6V268.0H1349.4zM1349.4,270.0H1386.6V270.5H1349.4zM1349.4,314.5H1386.6V316.0H1349.4z" fill="#FFFFFF"/>
<path d="M1192.8,345.5H1229.0M1192.8,346.5H1229.0M1192.8,347.5H1229.0M1192.8,349.5H1229.0M1192.8,352.5H1229.0M1192.8,353.5H1229.0M1192.8,361.5H1229.0M1192.8,363.5H1229.0M1192.8,366.5H1229.0M1192.8,378.5H1229.0M1192.8,381.5H1229.0M1192.8,399.5H1229.0M1192.8,419.5H1229.0M1192.8,425.5H1229.0M1192.8,426.5H1229.0M1192.8,446.5H1229.0M1192.8,450.5H1229.0M1192.8,454.5H1229.0M1192.8,456.5H1229.0M1192.8,459.5H1229.0M1192.8,460.5H1229.0M1192.8,465.5H1229.0M1192.8,476.5H1229.0M1192.8,489.5H1229.0M1192.8,491.5H1229.0M1192.8,496.5H1229.0M1192.8,519.5H1229.0M1192.8,529.5H1229.0M1192.8,537.5H1229.0M1192.8,540.5H1229.0M1192.8,550.5H1229.0M1192.8,551.5H1229.0M1192.8,570.5H1229.0M1192.8,573.5H1229.0M1192.8,577.5H1229.0M1192.8,591.5H1229.0M1192.8,604.5H1229.0M1192.8,606.5H1229.0M1192.8,615.5H1229.0M1192.8,617.5H1229.0M1192.8,618.5H1229.0M1192.8,631.5H1229.0M1192.8,642.5H1229.0M1192.8,645.5H1229.0M1192.8,649.5H1229.0M1233.1,341.5H1268.1M1233.1,352.5H1268.1M1233.1,353.5H1268.1M1233.1,354.5H1268.1M1233.1,363.5H1268.1M1233.1,366.5H1268.1M1233.1,378.5H1268.1M1233.1,388.5H1268.1M1233.1,399.5H1268.1M1233.1,412.5H1268.1M1233.1,430.5H1268.1M1233.1,438.5H1268.1M1233.1,443.5H1268.1M1233.1,451.5H1268.1M1233.1,454.5H1268.1M1233.1,456.5H1268.1M1233.1,460.5H1268.1M1233.1,467.5H1268.1M1233.1,470.5H1268.1M1233.1,476.5H1268.1M1233.1,489.5H1268.1M1233.1,491.5H1268.1M1233.1,496.5H1268.1M1233.1,510.5H1268.1M1233.1,519.5H1268.1M1233.1,532.5H1268.1M1233.1,551.5H1268.1M1233.1,574.5H1268.1M1233.1,575.5H1268.1M1233.1,577.5H1268.1M1233.1,603.5H1268.1M1233.1,604.5H1268.1M1233.1,606.5H1268.1M1233.1,615.5H1268.1M1233.1,631.5H1268.1M1233.1,637.5H1268.1M1233.1,642.5H1268.1M1233.1,645.5H1268.1M1233.1,654.5H1268.1M1271.9,342.5H1306.8M1271.9,378.5H1306.8M1271.9,459.5H1306.8M1271.9,580.5H1306.8M1271.9,583.5H1306.8M1271.9,586.5H1306.8M1271.9,657.5H1306.8M1310.7,341.5H1345.4M1310.7,345.5H1345.4M1310.7,347.5H1345.4M1310.7,349.5H1345.4M1310.7,354.5H1345.4M1310.7,363.5H1345.4M1310.7,371.5H1345.4M1310.7,378.5H1345.4M1310.7,381.5H1345.4M1310.7,384.5H1345.4M1310.7,388.5H1345.4M1310.7,395.5H1345.4M1310.7,396.5H1345.4M1310.7,399.5H1345.4M1310.7,419.5H1345.4M1310.7,438.5H1345.4M1310.7,454.5H1345.4M1310.7,456.5H1345.4M1310.7,458.5H1345.4M1310.7,459.5H1345.4M1310.7,460.5H1345.4M1310.7,463.5H1345.4M1310.7,476.5H1345.4M1310.7,491.5H1345.4M1310.7,493.5H1345.4M1310.7,496.5H1345.4M1310.7,510.5H1345.4M1310.7,513.5H1345.4M1310.7,519.5H1345.4M1310.7,532.5H1345.4M1310.7,540.5H1345.4M1310.7,551.5H1345.4M1310.7,570.5H1345.4M1310.7,573.5H1345.4M1310.7,574.5H1345.4M1310.7,588.5H1345.4M1310.7,598.5H1345.4M1310.7,599.5H1345.4M1310.7,606.5H1345.4M1310.7,615.5H1345.4M1310.7,625.5H1345.4M1310.7,626.5H1345.4M1310.7,642.5H1345.4M1349.4,412.5H1386.6M1349.4,433.5H1386.6M1349.4,461.5H1386.6M1349.4,511.5H1386.6M1349.4,518.5H1386.6M1349.4,624.5H1386.6" stroke="#fff" stroke-width="1" fill="none"/>
<path d="M1192.8,669.5H1229.0M1192.8,672.5H1229.0M1192.8,677.5H1229.0M1192.8,678.5H1229.0M1192.8,683.5H1229.0M1192.8,692.5H1229.0M1192.8,696.5H1229.0M1233.1,669.5H1268.1M1233.1,673.5H1268.1M1233.1,677.5H1268.1M1233.1,678.5H1268.1M1233.1,679.5H1268.1M1233.1,692.5H1268.1M1271.9,690.5H1306.8M1271.9,696.5H1306.8M1310.7,669.5H1345.4M1310.7,673.5H1345.4M1310.7,677.5H1345.4M1310.7,679.5H1345.4M1310.7,681.5H1345.4M1310.7,693.5H1345.4M1349.4,695.5H1386.6" stroke="#F4F5FB" stroke-width="1" fill="none"/>
<line x1="1191.3" y1="97.2" x2="1387.7" y2="97.2" stroke="#000" stroke-width="2" stroke-dasharray="3.2 1.5"/>
<line x1="1191.3" y1="339.4" x2="1387.7" y2="339.4" stroke="#000" stroke-width="2" stroke-dasharray="3.2 1.5"/>
<line x1="1191.3" y1="666.8" x2="1387.7" y2="666.8" stroke="#000" stroke-width="2" stroke-dasharray="3.2 1.5"/>
<rect x="1191.3" y="63.2" width="196.4000000000001" height="635.8" fill="none" stroke="#000" stroke-width="2.6"/>
<rect x="1393.2" y="62" width="16.8" height="35.4" fill="#C00000"/>
<rect x="1393.2" y="97.2" width="16.8" height="242.2" fill="#FFC000"/>
<rect x="1393.2" y="339.4" width="16.8" height="327.4" fill="#7DB684"/>
<rect x="1393.2" y="666.8" width="16.8" height="33.7" fill="#264478"/>
<text x="1418.5" y="78.9" font-size="13.1" text-anchor="start">Consistently Bt biased</text>
<text x="1422.5" y="92.5" font-size="13.1" text-anchor="start">(589; 5.09%)</text>
<text x="1420.5" y="221.6" font-size="13.1" text-anchor="start">Dynamic</text>
<text x="1420.5" y="236.5" font-size="13.1" text-anchor="start">(4430; 38.29%)</text>
<text x="1421" y="492.5" font-size="13.1" text-anchor="start">Consistently equal</text>
<text x="1421" y="509.5" font-size="13.1" text-anchor="start">(5962; 51.53%)</text>
<text x="1417.5" y="683" font-size="13.1" text-anchor="start">Consistently Ct biased</text>
<text x="1422" y="697.5" font-size="13.1" text-anchor="start">(589; 5.09%)</text>
<text x="1210.5" y="716" font-size="13.2" text-anchor="middle">LS</text>
<text x="1248.5" y="716" font-size="13.2" text-anchor="middle">LH</text>
<text x="1291.5" y="716" font-size="13.2" text-anchor="middle">PH</text>
<text x="1331.5" y="716" font-size="13.2" text-anchor="middle">LM</text>
<text x="1369" y="716" font-size="13.2" text-anchor="middle">PM</text>
<rect x="1421.3" y="294.5" width="124.5" height="93.5" fill="#fff" stroke="#000" stroke-width="1.1"/>
<rect x="1429" y="300.5" width="29.5" height="13.6" fill="#FF6422" stroke="#000" stroke-width="1.6"/>
<text x="1464.5" y="310.1" font-size="13.1" text-anchor="start">Bt biased</text>
<rect x="1429" y="323.7" width="29.5" height="13.6" fill="#F0E4D4" stroke="#000" stroke-width="1.6"/>
<text x="1464.5" y="333.3" font-size="13.1" text-anchor="start">Equal</text>
<rect x="1429" y="346.9" width="29.5" height="13.6" fill="#3F55A6" stroke="#000" stroke-width="1.6"/>
<text x="1464.5" y="356.5" font-size="13.1" text-anchor="start">Ct biased</text>
<rect x="1429" y="370.1" width="29.5" height="13.6" fill="#fff" stroke="#000" stroke-width="1.6"/>
<text x="1464.5" y="379.7" font-size="13.1" text-anchor="start">Noneffective</text>
<path d="M841.92,883.88v1.18m0,49.22v1.18M878.89,925.32v1.18m0,1.06v1.18M888.13,850.28v1.18M897.38,897.32v1.18M915.86,935.40v1.18M934.34,988.16v1.18M1063.74,957.92v1.18" stroke="#0A0A87" stroke-width="9.29" fill="none"/>
<path d="M851.16,793.16v1.18m0,13.38v1.18m0,62.66v1.18M869.65,874.92v1.18M878.89,843.56v1.18m0,35.78v1.18M888.13,887.24v1.18m0,8.90v1.18M925.10,944.48v1.18m0,46.98v1.18M943.59,1028.48v1.18m0,16.74v1.18M1008.28,942.24v1.18M1026.77,1021.76v1.18M1063.74,1037.44v1.18" stroke="#1E1E91" stroke-width="9.29" fill="none"/>
<path d="M841.92,789.80v1.18m0,95.14v1.18M851.16,837.96v1.18m0,4.42v1.18m0,40.26v1.18m0,32.42v1.18m0,7.78v1.18M860.41,821.16v1.18M878.89,827.88v1.18m0,54.82v1.18m0,41.38v1.18M888.13,817.80v1.18m0,-0.06v1.18m0,5.54v1.18m0,-0.06v1.18m0,-0.06v1.18m0,12.26v1.18m0,1.06v1.18m0,11.14v1.18M897.38,896.20v1.18M925.10,1015.04v1.18M934.34,964.64v1.18m0,-0.06v1.18m0,46.98v1.18M943.59,1027.36v1.18M962.07,1016.16v1.18m0,30.18v1.18M971.31,1030.72v1.18M999.04,816.68v1.18M1017.52,1000.48v1.18M1026.77,988.16v1.18m0,22.34v1.18m0,23.46v1.18m0,8.90v1.18M1036.01,940.00v1.18M1045.25,947.84v1.18M1054.49,972.48v1.18" stroke="#33339B" stroke-width="9.29" fill="none"/>
<path d="M841.92,862.60v1.18m0,15.62v1.18m0,4.42v1.18M851.16,822.28v1.18m0,3.30v1.18m0,-0.06v1.18m0,23.46v1.18m0,1.06v1.18m0,27.94v1.18m0,2.18v1.18m0,-0.06v1.18m0,10.02v1.18m0,6.66v1.18m0,13.38v1.18m0,1.06v1.18m0,5.54v1.18M869.65,804.36v1.18M878.89,796.52v1.18m0,7.78v1.18m0,115.30v1.18m0,-0.06v1.18M888.13,830.12v1.18m0,64.90v1.18m0,7.78v1.18M897.38,883.88v1.18m0,32.42v1.18M925.10,946.72v1.18m0,64.90v1.18m0,10.02v1.18m0,21.22v1.18M934.34,1029.60v1.18m0,-0.06v1.18M943.59,996.00v1.18M952.83,955.68v1.18m0,42.50v1.18M971.31,1045.28v1.18M980.56,990.40v1.18m0,23.46v1.18M989.80,1057.60v1.18M999.04,975.84v1.18m0,72.74v1.18M1008.28,974.72v1.18m0,20.10v1.18m0,-0.06v1.18m0,1.06v1.18M1017.52,992.64v1.18m0,20.10v1.18M1026.77,980.32v1.18m0,43.62v1.18m0,1.06v1.18m0,6.66v1.18m0,18.98v1.18M1045.25,946.72v1.18M1063.74,1047.52v1.18" stroke="#4747A5" stroke-width="9.29" fill="none"/>
<path d="M841.92,805.48v1.18m0,17.86v1.18m0,7.78v1.18m0,15.62v1.18m0,1.06v1.18m0,10.02v1.18m0,11.14v1.18m0,-0.06v1.18m0,2.18v1.18m0,5.54v1.18m0,7.78v1.18m0,12.26v1.18M851.16,804.36v1.18m0,3.30v1.18m0,-0.06v1.18m0,14.50v1.18m0,5.54v1.18m0,5.54v1.18m0,17.86v1.18m0,10.02v1.18m0,15.62v1.18m0,13.38v1.18m0,6.66v1.18m0,3.30v1.18m0,8.90v1.18m0,1.06v1.18m0,3.30v1.18m0,4.42v1.18M860.41,822.28v1.18m0,50.34v1.18m0,11.14v1.18m0,-0.06v1.18m0,23.46v1.18M869.65,799.88v1.18m0,4.42v1.18m0,32.42v1.18m0,76.10v1.18M878.89,792.04v1.18m0,2.18v1.18m0,18.98v1.18m0,4.42v1.18m0,4.42v1.18m0,42.50v1.18m0,-0.06v1.18m0,20.10v1.18m0,4.42v1.18m0,7.78v1.18m0,4.42v1.18m0,6.66v1.18M888.13,786.44v1.18m0,3.30v1.18m0,-0.06v1.18m0,1.06v1.18m0,6.66v1.18m0,6.66v1.18m0,27.94v1.18m0,12.26v1.18m0,4.42v1.18m0,5.54v1.18m0,-0.06v1.18m0,5.54v1.18m0,1.06v1.18m0,2.18v1.18m0,4.42v1.18m0,14.50v1.18m0,-0.06v1.18m0,11.14v1.18m0,4.42v1.18m0,1.06v1.18m0,3.30v1.18m0,4.42v1.18M897.38,793.16v1.18m0,1.06v1.18m0,22.34v1.18m0,-0.06v1.18m0,10.02v1.18m0,49.22v1.18m0,15.62v1.18m0,21.22v1.18M906.62,850.28v1.18M915.86,796.52v1.18m0,125.38v1.18m0,-0.06v1.18m0,11.14v0.74M925.10,947.84v1.18m0,25.70v1.18m0,10.02v1.18m0,1.06v1.18m0,2.18v1.18m0,21.22v1.18m0,2.18v1.18m0,6.66v1.18M934.34,952.32v1.18m0,38.02v1.18m0,35.78v1.18M943.59,935.40v1.18m0,87.42v1.18m0,1.06v1.18M952.83,975.84v1.18m0,-0.06v1.18m0,54.82v1.18M962.07,948.96v1.18m0,35.78v1.18m0,1.06v1.18m0,10.02v1.18m0,16.74v1.18m0,7.78v1.18M971.31,984.80v1.18m0,-0.06v1.18m0,2.18v1.18m0,2.18v1.18m0,20.10v1.18m0,-0.06v1.18m0,10.02v1.18m0,2.18v1.18m0,7.78v1.18m0,18.98v1.18M980.56,987.04v1.18m0,3.30v1.18m0,5.54v1.18M989.80,957.92v1.18m0,6.66v1.18m0,2.18v1.18m0,1.06v1.18m0,8.90v1.18m0,6.66v1.18m0,2.18v1.18m0,-0.06v1.18m0,7.78v1.18m0,39.14v1.18M999.04,946.72v1.18m0,10.02v1.18m0,82.82v1.18m0,-0.06v1.18M1008.28,945.60v1.18m0,18.98v1.18m0,-0.06v1.18m0,20.10v1.18m0,15.62v1.18m0,7.78v1.18m0,8.90v1.18M1017.52,785.32v1.18m0,162.46v1.18M1026.77,957.92v1.18m0,26.82v1.18m0,32.42v1.18m0,5.54v1.18m0,11.14v1.18m0,18.98v1.18M1036.01,888.36v1.18m0,54.94v1.18m0,10.02v1.18m0,53.70v1.18m0,2.18v1.18M1045.25,1029.60v1.18m0,13.38v1.18m0,6.66v1.18M1054.49,971.36v1.18m0,43.62v1.18M1063.74,941.12v1.18m0,49.22v1.18M1072.98,987.04v1.18" stroke="#5C5CAF" stroke-width="9.29" fill="none"/>
<path d="M841.92,788.68v1.18m0,16.74v1.18m0,-0.06v1.18m0,1.06v1.18m0,1.06v1.18m0,5.54v1.18m0,14.50v1.18m0,3.30v1.18m0,15.62v1.18m0,15.62v1.18m0,-0.06v1.18m0,14.50v1.18m0,1.06v1.18M851.16,805.48v1.18m0,23.46v1.18m0,4.42v1.18m0,4.42v1.18m0,11.14v1.18m0,7.78v1.18m0,6.66v1.18m0,17.86v1.18m0,12.26v1.18m0,7.78v1.18m0,1.06v1.18m0,2.18v1.18m0,1.06v1.18m0,-0.06v1.18m0,4.42v1.18m0,1.06v1.18m0,4.42v1.18M860.41,826.76v1.18m0,1.06v1.18m0,3.30v1.18m0,-0.06v1.18m0,-0.06v1.18m0,-0.06v1.18m0,17.86v1.18m0,12.26v1.18m0,12.26v1.18m0,16.74v1.18m0,4.42v1.18m0,5.54v1.18M869.65,801.00v1.18m0,11.14v1.18m0,3.30v1.18m0,13.38v1.18m0,-0.06v1.18m0,7.78v1.18m0,10.02v1.18M878.89,793.16v1.18m0,4.42v1.18m0,10.02v1.18m0,8.90v1.18m0,1.06v1.18m0,5.54v1.18m0,1.06v1.18m0,-0.06v1.18m0,-0.06v1.18m0,-0.06v1.18m0,22.34v1.18m0,10.02v1.18m0,2.18v1.18m0,11.14v1.18m0,13.38v1.18m0,33.54v1.18M888.13,785.32v1.18m0,8.90v1.18m0,1.06v1.18m0,2.18v1.18m0,1.06v1.18m0,-0.06v1.18m0,6.66v1.18m0,7.78v1.18m0,-0.06v1.18m0,18.98v1.18m0,2.18v1.18m0,6.66v1.18m0,21.22v1.18m0,-0.06v1.18m0,12.26v1.18m0,1.06v1.18m0,4.42v1.18m0,14.50v1.18m0,4.42v1.18m0,1.06v1.18m0,-0.06v1.18m0,-0.06v1.18m0,1.06v1.18m0,8.90v0.74M897.38,796.52v1.18m0,8.90v1.18m0,5.54v1.18m0,1.06v1.18m0,1.06v1.18m0,5.54v1.18m0,-0.06v1.18m0,1.06v1.18m0,21.22v1.18m0,57.06v1.18m0,-0.06v1.18m0,8.90v1.18m0,15.62v0.74M906.62,784.20v1.18m0,50.34v1.18m0,14.50v1.18m0,55.94v1.18m0,25.70v1.18M915.86,795.40v1.18m0,20.10v1.18m0,49.22v1.18m0,15.62v1.18m0,-0.06v1.18m0,3.30v1.18M925.10,980.32v1.18m0,8.90v1.18m0,13.38v1.18m0,2.18v1.18m0,-0.06v1.18m0,8.90v1.18m0,2.18v1.18M934.34,943.36v1.18m0,10.02v1.18m0,-0.06v1.18m0,1.06v1.18m0,14.50v1.18m0,66.02v1.18m0,13.38v1.18m0,2.18v1.18M943.59,946.72v1.18m0,53.70v1.18m0,22.34v1.18m0,8.90v1.18M952.83,954.56v1.18m0,61.54v1.18m0,36.90v1.18M962.07,897.32v1.18m0,80.70v1.18m0,6.66v1.18m0,3.30v1.18m0,-0.06v1.18m0,13.38v1.18m0,5.54v1.18m0,33.54v1.18m0,-0.06v1.18M971.31,936.52v0.74m0,54.26v1.18m0,10.02v1.18m0,14.50v1.18m0,23.46v1.18m0,2.18v1.18m0,2.18v1.18M980.56,1055.36v1.18M989.80,956.80v1.18m0,22.34v1.18m0,15.62v1.18m0,48.10v1.18M999.04,985.92v1.18M1008.28,960.16v1.18M1017.52,991.52v1.18m0,1.06v1.18m0,3.30v1.18m0,-0.06v1.18m0,30.18v1.18m0,-0.06v1.18M1026.77,952.32v1.18m0,18.98v1.18m0,-0.06v1.18m0,10.02v1.18m0,1.06v1.18m0,3.30v1.18m0,5.54v1.18m0,2.18v1.18m0,6.66v1.18m0,26.82v1.18M1036.01,1004.96v1.18m0,6.66v1.18M1045.25,943.36v1.18m0,10.02v1.18m0,11.14v1.18m0,81.70v1.18m0,-0.06v1.18m0,6.66v1.18M1054.49,943.36v1.18m0,18.98v1.18m0,26.82v1.18m0,15.62v1.18M1063.74,944.48v1.18m0,46.98v1.18m0,11.14v1.18m0,14.50v1.18M1072.98,997.12v1.18" stroke="#7070B9" stroke-width="9.29" fill="none"/>
<path d="M841.92,786.44v1.18m0,-0.06v1.18m0,22.34v1.18m0,11.14v1.18m0,1.06v1.18m0,1.06v1.18m0,-0.06v1.18m0,5.54v1.18m0,12.26v1.18m0,1.06v1.18m0,4.42v1.18m0,3.30v1.18m0,12.26v1.18m0,2.18v1.18m0,8.90v1.18m0,1.06v1.18m0,21.22v1.18m0,5.54v1.18m0,2.18v1.18m0,7.78v1.18M851.16,790.92v1.18m0,5.54v1.18m0,-0.06v1.18m0,-0.06v1.18m0,2.18v1.18m0,8.90v1.18m0,3.30v1.18m0,1.06v1.18m0,-0.06v1.18m0,1.06v1.18m0,-0.06v1.18m0,3.30v1.18m0,16.74v1.18m0,7.78v1.18m0,2.18v1.18m0,6.66v1.18m0,-0.06v1.18m0,3.30v1.18m0,6.66v1.18m0,11.14v1.18m0,1.06v1.18m0,2.18v1.18M860.41,793.16v1.18m0,3.30v1.18m0,20.10v1.18m0,-0.06v1.18m0,16.74v1.18m0,-0.06v1.18m0,31.30v1.18m0,12.26v1.18m0,16.74v1.18m0,1.06v1.18m0,4.42v1.18M869.65,790.92v1.18m0,-0.06v1.18m0,10.02v1.18m0,2.18v1.18m0,6.66v1.18m0,-0.06v1.18m0,12.26v1.18m0,11.14v1.18m0,1.06v1.18m0,-0.06v1.18m0,26.82v1.18m0,-0.06v1.18m0,10.02v1.18m0,1.06v1.18m0,10.02v1.18m0,6.66v1.18m0,12.26v1.18m0,2.18v1.18m0,-0.06v1.18m0,-0.06v1.18M878.89,790.92v1.18m0,2.18v1.18m0,11.14v1.18m0,3.30v1.18m0,1.06v1.18m0,11.14v1.18m0,8.90v1.18m0,4.42v1.18m0,-0.06v1.18m0,2.18v1.18m0,1.06v1.18m0,10.02v1.18m0,7.78v1.18m0,10.02v1.18m0,2.18v1.18m0,5.54v1.18m0,3.30v1.18m0,1.06v1.18m0,-0.06v1.18m0,7.78v1.18m0,1.06v1.18m0,-0.06v1.18m0,1.06v1.18m0,15.62v1.18m0,1.06v1.18M888.13,787.56v1.18m0,4.42v1.18m0,2.18v1.18m0,7.78v1.18m0,2.18v1.18m0,1.06v1.18m0,2.18v1.18m0,-0.06v1.18m0,3.30v1.18m0,2.18v1.18m0,6.66v1.18m0,-0.06v1.18m0,-0.06v1.18m0,1.06v1.18m0,7.78v1.18m0,2.18v1.18m0,2.18v1.18m0,14.50v1.18m0,2.18v1.18m0,-0.06v1.18m0,1.06v1.18m0,6.66v1.18m0,-0.06v1.18m0,31.30v1.18m0,12.26v1.18m0,-0.06v1.18m0,1.06v1.18m0,2.18v1.18M897.38,784.20v1.18m0,1.06v1.18m0,6.66v1.18m0,10.02v1.18m0,2.18v1.18m0,6.66v1.18m0,15.62v1.18m0,-0.06v1.18m0,25.70v1.18m0,8.90v1.18m0,-0.06v1.18m0,6.66v1.18m0,10.02v1.18m0,2.18v1.18m0,11.14v1.18m0,13.38v1.18m0,-0.06v1.18m0,1.06v1.18m0,4.42v1.18m0,1.06v1.18M906.62,785.32v1.18m0,-0.06v1.18m0,1.06v1.18m0,-0.06v1.18m0,4.42v1.18m0,38.02v1.18m0,2.18v1.18m0,33.54v1.18m0,6.66v1.18m0,11.14v1.18m0,15.62v1.18m0,6.66v1.18M915.86,794.28v1.18m0,11.14v1.18m0,-0.06v1.18m0,14.50v1.18m0,-0.06v1.18m0,13.38v1.18m0,2.18v1.18m0,8.90v1.18m0,-0.06v1.18m0,-0.06v1.18m0,17.86v1.18m0,3.30v1.18m0,6.66v1.18m0,-0.06v1.18M925.10,950.08v1.18m0,6.66v1.18m0,18.98v1.18m0,-0.06v1.18m0,2.18v1.18m0,1.06v1.18m0,15.62v1.18m0,7.78v1.18m0,-0.06v1.18m0,3.30v1.18m0,1.06v1.18m0,11.14v1.18m0,-0.06v1.18m0,2.18v1.18m0,7.78v1.18m0,2.18v1.18M934.34,946.72v1.18m0,5.54v1.18m0,16.74v1.18m0,-0.06v1.18m0,34.66v1.18m0,14.50v1.18m0,6.66v1.18m0,-0.06v1.18m0,1.06v1.18M943.59,945.60v1.18m0,2.18v1.18m0,-0.06v1.18m0,62.66v1.18m0,4.42v1.18m0,16.74v1.18M952.83,942.24v1.18m0,2.18v1.18m0,18.98v1.18m0,11.14v1.18m0,-0.06v1.18m0,13.38v1.18m0,17.86v1.18m0,16.74v1.18M962.07,952.32v1.18m0,21.22v1.18m0,4.42v1.18m0,-0.06v1.18m0,7.78v1.18m0,39.14v1.18M971.31,955.68v1.18m0,1.06v1.18m0,5.54v1.18m0,1.06v1.18m0,12.26v1.18m0,6.66v1.18m0,1.06v1.18m0,10.02v1.18m0,2.18v1.18m0,18.98v1.18m0,2.18v1.18m0,7.78v1.18m0,10.02v1.18M980.56,988.16v1.18m0,-0.06v1.18m0,3.30v1.18m0,24.58v1.18m0,25.70v1.18m0,6.66v1.18M989.80,946.72v1.18m0,11.14v1.18m0,6.66v1.18m0,4.42v1.18m0,1.06v1.18m0,15.62v1.18m0,36.90v1.18m0,24.58v1.18m0,2.18v1.18M999.04,814.44v1.18m0,125.50v1.18m0,44.74v1.18m0,18.98v1.18m0,-0.06v1.18m0,31.30v1.18M1008.28,944.48v1.18m0,4.42v1.18m0,7.78v1.18m0,12.26v1.18m0,-0.06v1.18m0,23.46v1.18m0,6.66v1.18m0,7.78v1.18m0,8.90v1.18m0,-0.06v1.18m0,3.30v1.18m0,26.82v1.18M1017.52,950.08v1.18m0,12.26v1.18m0,-0.06v1.18m0,6.66v1.18m0,29.06v1.18m0,30.18v1.18m0,7.78v1.18m0,2.18v1.18m0,-0.06v1.18m0,4.42v1.18M1026.77,943.36v1.18m0,21.22v1.18m0,22.34v1.18m0,3.30v1.18m0,-0.06v1.18m0,17.86v1.18m0,5.54v1.18m0,2.18v1.18m0,4.42v1.18M1036.01,1011.68v1.18M1045.25,814.44v1.18m0,124.38v1.18m0,8.90v1.18m0,13.38v1.18m0,4.42v1.18m0,8.90v1.18m0,15.62v1.18m0,2.18v1.18m0,-0.06v1.18m0,6.66v1.18m0,3.30v1.18m0,13.38v1.18m0,16.74v1.18M1054.49,801.00v1.18m0,40.26v1.18m0,112.06v1.18m0,52.58v1.18m0,3.30v1.18m0,-0.06v1.18m0,4.42v1.18m0,2.18v1.18m0,32.42v1.18M1063.74,979.20v1.18m0,-0.06v1.18m0,8.90v1.18m0,17.86v1.18m0,8.90v1.18m0,4.42v1.18m0,8.90v1.18M1072.98,963.52v1.18m0,1.06v1.18m0,7.78v1.18m0,12.26v1.18m0,2.18v1.18m0,6.66v1.18m0,48.10v1.18m0,3.30v1.18m0,1.06v1.18" stroke="#8484C3" stroke-width="9.29" fill="none"/>
<path d="M841.92,784.20v1.18m0,5.54v1.18m0,2.18v1.18m0,4.42v1.18m0,-0.06v1.18m0,-0.06v1.18m0,5.54v1.18m0,11.14v1.18m0,4.42v1.18m0,8.90v1.18m0,-0.06v1.18m0,7.78v1.18m0,5.54v1.18m0,-0.06v1.18m0,13.38v1.18m0,1.06v1.18m0,8.90v1.18m0,-0.06v1.18m0,16.74v1.18m0,2.18v1.18m0,6.66v1.18m0,2.18v1.18m0,1.06v1.18m0,10.02v1.18M851.16,789.80v1.18m0,1.06v1.18m0,2.18v1.18m0,10.02v1.18m0,23.46v1.18m0,1.06v1.18m0,2.18v1.18m0,2.18v1.18m0,4.42v1.18m0,3.30v1.18m0,26.82v1.18m0,2.18v1.18m0,18.98v1.18m0,1.06v1.18m0,1.06v1.18m0,2.18v1.18m0,4.42v1.18m0,15.62v1.18m0,3.30v0.74M860.41,802.12v1.18m0,2.18v1.18m0,3.30v1.18m0,13.38v1.18m0,-0.06v1.18m0,1.06v1.18m0,12.26v1.18m0,11.14v1.18m0,2.18v1.18m0,-0.06v1.18m0,3.30v1.18m0,6.66v1.18m0,8.90v1.18m0,-0.06v1.18m0,1.06v1.18m0,3.30v1.18m0,-0.06v1.18m0,-0.06v1.18m0,10.02v1.18m0,6.66v1.18m0,4.42v1.18m0,20.10v0.74M869.65,793.16v1.18m0,7.78v1.18m0,6.66v1.18m0,-0.06v1.18m0,7.78v1.18m0,1.06v1.18m0,3.30v1.18m0,3.30v1.18m0,2.18v1.18m0,-0.06v1.18m0,3.30v1.18m0,4.42v1.18m0,16.74v1.18m0,2.18v1.18m0,17.86v1.18m0,3.30v1.18m0,12.26v1.18m0,-0.06v1.18m0,11.14v1.18m0,-0.06v1.18m0,2.18v1.18m0,3.30v1.18m0,2.18v1.18M878.89,797.64v1.18m0,5.54v1.18m0,8.90v1.18m0,1.06v1.18m0,29.06v1.18m0,7.78v1.18m0,3.30v1.18m0,-0.06v1.18m0,-0.06v1.18m0,11.14v1.18m0,5.54v1.18m0,8.90v1.18m0,7.78v1.18m0,16.74v1.18M888.13,789.80v1.18m0,7.78v1.18m0,7.78v1.18m0,4.42v1.18m0,2.18v1.18m0,6.66v1.18m0,8.90v1.18m0,4.42v1.18m0,5.54v1.18m0,1.06v1.18m0,6.66v1.18m0,3.30v1.18m0,-0.06v1.18m0,5.54v1.18m0,14.50v1.18m0,-0.06v1.18m0,7.78v1.18m0,7.78v1.18m0,11.14v1.18m0,15.62v1.18M897.38,789.80v1.18m0,6.66v1.18m0,8.90v1.18m0,3.30v1.18m0,1.06v1.18m0,6.66v1.18m0,8.90v1.18m0,14.50v1.18m0,-0.06v1.18m0,1.06v1.18m0,2.18v1.18m0,-0.06v1.18m0,-0.06v1.18m0,-0.06v1.18m0,1.06v1.18m0,1.06v1.18m0,-0.06v1.18m0,-0.06v1.18m0,7.78v1.18m0,11.14v1.18m0,-0.06v1.18m0,15.62v1.18m0,-0.06v1.18m0,4.42v1.18m0,2.18v1.18m0,3.30v1.18M906.62,794.28v1.18m0,3.30v1.18m0,12.26v1.18m0,-0.06v1.18m0,3.30v1.18m0,2.18v1.18m0,4.42v1.18m0,8.90v1.18m0,5.54v1.18m0,4.42v1.18m0,36.90v1.18m0,-0.06v1.18m0,13.38v1.18m0,-0.06v1.18m0,-0.06v1.18m0,1.06v1.18m0,10.02v1.18m0,2.18v1.18m0,11.14v1.18M915.86,785.32v1.18m0,29.06v1.18m0,1.06v1.18m0,8.90v1.18m0,11.14v1.18m0,-0.06v1.18m0,4.42v1.18m0,16.74v1.18m0,-0.06v1.18m0,2.18v1.18m0,2.18v1.18m0,1.06v1.18m0,4.42v1.18m0,-0.06v1.18m0,5.54v1.18m0,7.78v1.18m0,1.06v1.18m0,-0.06v1.18m0,5.54v1.18m0,20.10v1.18m0,3.30v1.18M925.10,959.04v1.18m0,-0.06v1.18m0,12.26v1.18m0,1.06v1.18m0,6.66v1.18m0,2.18v1.18m0,1.06v1.18m0,8.90v1.18m0,2.18v1.18m0,3.30v1.18m0,12.26v1.18m0,12.26v1.18m0,1.06v1.18m0,-0.06v1.18M934.34,942.24v1.18m0,1.06v1.18m0,4.42v1.18m0,7.78v1.18m0,3.30v1.18m0,16.74v1.18m0,2.18v1.18m0,12.26v1.18m0,3.30v1.18m0,18.98v1.18m0,2.18v1.18m0,-0.06v1.18m0,7.78v1.18m0,1.06v1.18m0,16.74v1.18M943.59,869.32v1.18m0,73.98v1.18m0,35.78v1.18m0,4.42v1.18m0,-0.06v1.18m0,2.18v1.18m0,2.18v1.18m0,1.06v1.18m0,-0.06v1.18m0,-0.06v1.18m0,2.18v1.18m0,11.14v1.18m0,22.34v1.18m0,15.62v1.18m0,1.06v1.18M952.83,956.80v1.18m0,6.66v1.18m0,3.30v1.18m0,11.14v1.18m0,6.66v1.18m0,1.06v1.18m0,-0.06v1.18m0,6.66v1.18m0,-0.06v1.18m0,-0.06v1.18m0,22.34v1.18m0,20.10v1.18M962.07,975.84v1.18m0,1.06v1.18m0,23.46v1.18m0,1.06v1.18m0,-0.06v1.18m0,11.14v1.18m0,-0.06v1.18m0,16.74v1.18m0,5.54v1.18m0,5.54v1.18M971.31,950.08v1.18m0,-0.06v1.18m0,-0.06v1.18m0,5.54v1.18m0,12.26v1.18m0,13.38v1.18m0,6.66v1.18m0,3.30v1.18m0,11.14v1.18m0,-0.06v1.18m0,7.78v1.18m0,4.42v1.18m0,7.78v1.18m0,6.66v1.18m0,5.54v1.18M980.56,946.72v1.18m0,6.66v1.18m0,36.90v1.18m0,14.50v1.18m0,1.06v1.18m0,13.38v1.18m0,10.02v1.18m0,3.30v1.18m0,-0.06v1.18m0,14.50v1.18M989.80,960.16v1.18m0,2.18v1.18m0,-0.06v1.18m0,10.02v1.18m0,1.06v1.18m0,8.90v1.18m0,27.94v1.18m0,18.98v1.18m0,12.26v1.18m0,1.06v1.18m0,-0.06v1.18M999.04,924.20v1.18m0,14.62v1.18m0,3.30v1.18m0,20.10v1.18m0,7.78v1.18m0,1.06v1.18m0,16.74v1.18m0,-0.06v1.18m0,4.42v1.18m0,8.90v1.18m0,16.74v1.18m0,-0.06v1.18m0,5.54v1.18m0,5.54v1.18m0,5.54v1.18m0,2.18v1.18m0,-0.06v1.18m0,1.06v1.18M1008.28,952.32v1.18m0,-0.06v1.18m0,16.74v1.18m0,13.38v1.18m0,-0.06v1.18m0,4.42v1.18m0,1.06v1.18m0,11.14v1.18m0,45.86v1.18M1017.52,947.84v1.18m0,2.18v1.18m0,7.78v1.18m0,12.26v1.18m0,-0.06v1.18m0,12.26v1.18m0,20.10v1.18m0,6.66v1.18m0,8.90v1.18m0,1.06v1.18m0,4.42v1.18m0,20.10v1.18M1026.77,860.36v1.18m0,80.70v1.18m0,1.06v1.18m0,5.54v1.18m0,3.30v1.18m0,2.18v1.18m0,4.42v1.18m0,1.06v1.18m0,3.30v1.18m0,20.10v1.18m0,8.90v1.18m0,6.66v1.18m0,1.06v1.18m0,1.06v1.18m0,6.66v1.18m0,6.66v1.18m0,22.34v1.18m0,1.06v1.18m0,-0.06v1.18M1036.01,842.44v1.18m0,105.34v1.18m0,-0.06v1.18m0,1.06v1.18m0,10.02v1.18m0,10.02v1.18m0,33.54v1.18m0,4.42v1.18m0,-0.06v1.18m0,8.90v1.18m0,4.42v1.18m0,2.18v1.18M1045.25,802.12v1.18m0,66.02v1.18m0,78.46v1.18m0,7.78v1.18m0,-0.06v1.18m0,8.90v1.18m0,25.70v1.18m0,2.18v1.18m0,3.30v1.18m0,5.54v1.18m0,1.06v1.18m0,17.86v1.18m0,1.06v1.18m0,1.06v1.18m0,-0.06v1.18m0,2.18v1.18m0,1.06v1.18m0,4.42v1.18M1054.49,952.32v1.18m0,6.66v1.18m0,12.26v1.18m0,17.86v1.18m0,-0.06v1.18m0,3.30v1.18M1063.74,943.36v1.18m0,6.66v1.18m0,1.06v1.18m0,8.90v1.18m0,-0.06v1.18m0,22.34v1.18m0,-0.06v1.18m0,24.58v1.18m0,1.06v1.18m0,4.42v1.18m0,12.26v1.18m0,5.54v1.18M1072.98,906.28v1.18m0,34.78v1.18m0,59.30v1.18m0,38.02v1.18m0,6.66v1.18m0,8.90v1.02" stroke="#9999CD" stroke-width="9.29" fill="none"/>
<path d="M841.92,793.16v1.18m0,1.06v1.18m0,-0.06v1.18m0,-0.06v1.18m0,5.54v1.18m0,7.78v1.18m0,3.30v1.18m0,3.30v1.18m0,8.90v1.18m0,6.66v1.18m0,-0.06v1.18m0,2.18v1.18m0,-0.06v1.18m0,11.14v1.18m0,-0.06v1.18m0,6.66v1.18m0,-0.06v1.18m0,1.06v1.18m0,21.22v1.18m0,5.54v1.18m0,5.54v1.18m0,-0.06v1.18m0,-0.06v1.18m0,1.06v1.18m0,2.18v1.18m0,1.06v1.18m0,1.06v1.18m0,1.06v1.18m0,4.42v1.18m0,2.18v1.18m0,4.42v1.18M851.16,784.20v1.18m0,-0.06v1.18m0,7.78v1.18m0,15.62v1.18m0,-0.06v1.18m0,1.06v1.18m0,-0.06v1.18m0,-0.06v1.18m0,1.06v1.18m0,22.34v1.18m0,1.06v1.18m0,2.18v1.18m0,2.18v1.18m0,8.90v1.18m0,14.50v1.18m0,1.06v1.18m0,15.62v1.18m0,-0.06v1.18m0,12.26v1.18m0,21.22v1.18M860.41,784.20v1.18m0,-0.06v1.18m0,1.06v1.18m0,3.30v1.18m0,6.66v1.18m0,3.30v1.18m0,7.78v1.18m0,-0.06v1.18m0,-0.06v1.18m0,-0.06v1.18m0,12.26v1.18m0,12.26v1.18m0,14.50v1.18m0,4.42v1.18m0,6.66v1.18m0,1.06v1.18m0,31.30v1.18m0,-0.06v1.18m0,4.42v1.18m0,2.18v1.18m0,-0.06v1.18m0,3.30v1.18m0,10.02v1.18M869.65,789.80v1.18m0,3.30v1.18m0,2.18v1.18m0,13.38v1.18m0,7.78v1.18m0,5.54v1.18m0,1.06v1.18m0,6.66v1.18m0,23.46v1.18m0,2.18v1.18m0,4.42v1.18m0,6.66v1.18m0,7.78v1.18m0,-0.06v1.18m0,5.54v1.18m0,-0.06v1.18m0,12.26v1.18m0,-0.06v1.18m0,7.78v1.18m0,6.66v1.18m0,1.06v1.18m0,1.06v1.18M878.89,784.20v1.18m0,1.06v1.18m0,14.50v1.18m0,-0.06v1.18m0,3.30v1.18m0,8.90v1.18m0,5.54v1.18m0,4.42v1.18m0,5.54v1.18m0,-0.06v1.18m0,-0.06v1.18m0,8.90v1.18m0,-0.06v1.18m0,1.06v1.18m0,11.14v1.18m0,1.06v1.18m0,5.54v1.18m0,3.30v1.18m0,6.66v1.18m0,-0.06v1.18m0,6.66v1.18m0,5.54v1.18m0,2.18v1.18m0,13.38v1.18m0,3.30v1.18m0,4.42v1.18m0,2.18v1.18M888.13,788.68v1.18m0,16.74v1.18m0,29.06v1.18m0,-0.06v1.18m0,21.22v1.18m0,2.18v1.18m0,3.30v1.18m0,20.10v1.18m0,1.06v1.18m0,1.06v1.18m0,6.66v1.18m0,3.30v1.18m0,10.02v1.18m0,15.62v1.18M897.38,785.32v1.18m0,23.46v1.18m0,-0.06v1.18m0,8.90v1.18m0,1.06v1.18m0,2.18v1.18m0,2.18v1.18m0,4.42v1.18m0,-0.06v1.18m0,2.18v1.18m0,2.18v1.18m0,14.50v1.18m0,14.50v1.18m0,3.30v1.18m0,2.18v1.18m0,1.06v1.18m0,7.78v1.18m0,6.66v1.18m0,-0.06v1.18m0,7.78v1.18m0,11.14v1.18m0,8.90v1.18M906.62,787.56v1.18m0,2.18v1.18m0,-0.06v1.18m0,3.30v1.18m0,16.74v1.18m0,-0.06v1.18m0,11.14v1.18m0,-0.06v1.18m0,-0.06v1.18m0,-0.06v1.18m0,1.06v1.18m0,4.42v1.18m0,1.06v1.18m0,10.02v1.18m0,-0.06v1.18m0,1.06v1.18m0,3.30v1.18m0,7.78v1.18m0,8.90v1.18m0,1.06v1.18m0,-0.06v1.18m0,7.78v1.18m0,3.30v1.18m0,1.06v1.18m0,1.06v1.18m0,8.90v1.18m0,4.42v1.18m0,2.18v1.18m0,-0.06v1.18m0,1.06v1.18m0,1.06v1.18m0,5.54v1.18m0,3.30v0.74M915.86,786.44v1.18m0,5.54v1.18m0,3.30v1.18m0,13.38v1.18m0,13.38v1.18m0,2.18v1.18m0,1.06v1.18m0,2.18v1.18m0,-0.06v1.18m0,-0.06v1.18m0,4.42v1.18m0,-0.06v1.18m0,-0.06v1.18m0,1.06v1.18m0,1.06v1.18m0,-0.06v1.18m0,3.30v1.18m0,13.38v1.18m0,4.42v1.18m0,13.38v1.18m0,26.82v1.18m0,2.18v1.18m0,4.42v1.18m0,1.06v1.18m0,1.06v1.18M925.10,790.92v1.18m0,147.90v1.18m0,7.78v1.18m0,1.06v1.18m0,2.18v1.18m0,1.06v1.18m0,5.54v1.18m0,7.78v1.18m0,20.10v1.18m0,2.18v1.18m0,-0.06v1.18m0,39.14v1.18m0,-0.06v1.18m0,-0.06v1.18m0,-0.06v1.18m0,-0.06v1.18m0,1.06v1.18m0,2.18v1.18m0,-0.06v1.18m0,6.66v1.18M934.34,945.60v1.18m0,2.18v1.18m0,6.66v1.18m0,27.94v1.18m0,3.30v1.18m0,4.42v1.18m0,-0.06v1.18m0,16.74v1.18m0,21.22v1.18m0,1.06v1.18m0,13.38v1.18m0,2.18v1.18m0,1.06v1.02M943.59,895.08v1.18m0,78.46v1.18m0,17.86v1.18m0,8.90v1.18m0,-0.06v1.18m0,-0.06v1.18m0,29.06v1.18m0,14.50v1.18m0,3.30v1.18m0,2.18v1.02M952.83,943.36v1.18m0,2.18v1.18m0,10.02v1.18m0,-0.06v1.18m0,20.10v1.18m0,4.42v1.18m0,21.22v1.18m0,4.42v1.18m0,16.74v1.18m0,2.18v1.18m0,10.02v1.18m0,4.42v1.18M962.07,850.28v1.18m0,93.02v1.18m0,13.38v1.18m0,29.06v1.18m0,11.14v1.18m0,5.54v1.18m0,2.18v1.18m0,20.10v1.18m0,-0.06v1.18m0,-0.06v1.18m0,2.18v1.18m0,6.66v1.18m0,6.66v1.18M971.31,956.80v1.18m0,2.18v1.18m0,4.42v1.18m0,1.06v1.18m0,1.06v1.18m0,4.42v1.18m0,2.18v1.18m0,3.30v1.18m0,12.26v1.18m0,-0.06v1.18m0,1.06v1.18m0,2.18v1.18m0,26.82v1.18m0,6.66v1.18m0,6.66v1.18m0,3.30v1.18m0,1.06v1.18M980.56,888.36v1.18m0,66.14v1.18m0,16.74v1.18m0,20.10v1.18m0,1.06v1.18m0,4.42v1.18m0,2.18v1.18m0,11.14v1.18m0,3.30v1.18m0,5.54v1.18m0,6.66v1.18m0,-0.06v1.18m0,-0.06v1.18m0,12.26v1.18m0,4.42v1.18M989.80,953.44v1.18m0,6.66v1.18m0,5.54v1.18m0,4.42v1.18m0,4.42v1.18m0,14.50v1.18m0,7.78v1.18m0,13.38v1.18m0,6.66v1.18m0,4.42v1.18m0,3.30v1.18m0,3.30v1.18m0,2.18v1.18M999.04,858.12v1.18m0,95.26v1.18m0,-0.06v1.18m0,-0.06v1.18m0,1.06v1.18m0,12.26v1.18m0,-0.06v1.18m0,18.98v1.18m0,2.18v1.18m0,7.78v1.18m0,8.90v1.18m0,2.18v1.18m0,7.78v1.18m0,5.54v1.18m0,2.18v1.18m0,-0.06v1.18m0,5.54v1.18m0,-0.06v1.18M1008.28,947.84v1.18m0,8.90v1.18m0,8.90v1.18m0,13.38v1.18m0,5.54v1.18m0,13.38v1.18m0,7.78v1.18m0,17.86v1.18M1017.52,816.68v1.18m0,183.74v1.18m0,15.62v1.18m0,4.42v1.18m0,-0.06v1.18m0,6.66v1.18m0,14.50v1.18m0,4.42v1.18M1026.77,941.12v1.18m0,4.42v1.18m0,-0.06v1.18m0,14.50v1.18m0,10.02v1.18m0,1.06v1.18m0,1.06v1.18m0,3.30v1.18m0,14.50v1.18m0,3.30v1.18m0,35.78v1.18m0,-0.06v1.18m0,4.42v1.18m0,-0.06v1.18m0,10.02v1.02M1036.01,868.20v1.18m0,50.34v1.18m0,7.78v1.18m0,11.26v1.18m0,-0.06v1.18m0,3.30v1.18m0,-0.06v1.18m0,17.86v1.18m0,11.14v1.18m0,7.78v1.18m0,-0.06v1.18m0,11.14v1.18m0,4.42v1.18m0,-0.06v1.18m0,15.62v1.18m0,3.30v1.18m0,18.98v1.18M1045.25,942.24v1.18m0,2.18v1.18m0,10.02v1.18m0,7.78v1.18m0,6.66v1.18m0,2.18v1.18m0,3.30v1.18m0,-0.06v1.18m0,4.42v1.18m0,2.18v1.18m0,1.06v1.18m0,3.30v1.18m0,3.30v1.18m0,23.46v1.18m0,16.74v1.18m0,8.90v1.18M1054.49,872.68v1.18m0,67.26v1.18m0,11.14v1.18m0,14.50v1.18m0,4.42v1.18m0,49.22v1.18m0,8.90v1.18m0,6.66v1.18m0,12.26v1.18m0,1.06v1.18M1063.74,814.44v1.18m0,129.98v1.18m0,5.54v1.18m0,23.46v1.18m0,15.62v1.18m0,4.42v1.18m0,13.38v1.18m0,1.06v1.18m0,11.14v1.18m0,-0.06v1.18m0,7.78v1.18m0,8.90v1.18m0,8.90v1.18M1072.98,968.00v1.18m0,16.74v1.18m0,5.54v1.18m0,4.42v1.18m0,4.42v1.18m0,3.30v1.18m0,2.18v1.18m0,6.66v1.18m0,2.18v1.18m0,1.06v1.18m0,3.30v1.18m0,-0.06v1.18m0,5.54v1.18m0,-0.06v1.18" stroke="#ADADD7" stroke-width="9.29" fill="none"/>
<path d="M841.92,785.32v1.18m0,5.54v1.18m0,5.54v1.18m0,3.30v1.18m0,10.02v1.18m0,1.06v1.18m0,12.26v1.18m0,12.26v1.18m0,3.30v1.18m0,16.74v1.18m0,26.82v1.18m0,-0.06v1.18m0,5.54v1.18m0,2.18v1.18m0,15.62v1.18m0,2.18v1.18m0,4.42v1.18M851.16,786.44v1.18m0,-0.06v1.18m0,68.26v1.18m0,5.54v1.18m0,1.06v1.18m0,6.66v1.18m0,7.78v1.18m0,6.66v1.18m0,-0.06v1.18m0,1.06v1.18m0,10.02v1.18M860.41,786.44v1.18m0,1.06v1.18m0,4.42v1.18m0,3.30v1.18m0,8.90v1.18m0,1.06v1.18m0,5.54v1.18m0,4.42v1.18m0,15.62v1.18m0,1.06v1.18m0,1.06v1.18m0,1.06v1.18m0,3.30v1.18m0,2.18v1.18m0,5.54v1.18m0,1.06v1.18m0,1.06v1.18m0,12.26v1.18m0,18.98v1.18m0,15.62v1.18m0,6.66v1.18M869.65,788.68v1.18m0,5.54v1.18m0,-0.06v1.18m0,1.06v1.18m0,7.78v1.18m0,7.78v1.18m0,1.06v1.18m0,26.82v1.18m0,-0.06v1.18m0,1.06v1.18m0,-0.06v1.18m0,4.42v1.18m0,6.66v1.18m0,2.18v1.18m0,1.06v1.18m0,4.42v1.18m0,1.06v1.18m0,1.06v1.18m0,2.18v1.18m0,7.78v1.18m0,1.06v1.18m0,11.14v1.18m0,-0.06v1.18m0,-0.06v1.18m0,2.18v1.18m0,-0.06v1.18m0,-0.06v1.18m0,11.14v1.18m0,6.66v1.18m0,-0.06v0.74M878.89,789.80v1.18m0,8.90v1.18m0,7.78v1.18m0,2.18v1.18m0,5.54v1.18m0,3.30v1.18m0,26.82v1.18m0,1.06v1.18m0,-0.06v1.18m0,7.78v1.18m0,1.06v1.18m0,23.46v1.18m0,12.26v1.18m0,5.54v1.18m0,3.30v1.18m0,15.62v1.18m0,2.18v1.18m0,-0.06v0.74M888.13,784.20v1.18m0,14.50v1.18m0,53.70v1.18m0,3.30v1.18m0,18.98v1.18m0,-0.06v1.18m0,6.66v1.18m0,13.38v1.18m0,3.30v1.18m0,1.06v1.18m0,-0.06v1.18m0,-0.06v1.18m0,14.50v1.18M897.38,787.56v1.18m0,2.18v1.18m0,-0.06v1.18m0,5.54v1.18m0,-0.06v1.18m0,1.06v1.18m0,34.66v1.18m0,-0.06v1.18m0,1.06v1.18m0,-0.06v1.18m0,1.06v1.18m0,1.06v1.18m0,5.54v1.18m0,11.14v1.18m0,3.30v1.18m0,6.66v1.18m0,10.02v1.18m0,8.90v1.18m0,5.54v1.18m0,7.78v1.18m0,-0.06v1.18m0,8.90v1.18m0,-0.06v1.18m0,3.30v1.18m0,2.18v1.18M906.62,793.16v1.18m0,3.30v1.18m0,4.42v1.18m0,1.06v1.18m0,10.02v1.18m0,1.06v1.18m0,4.42v1.18m0,18.98v1.18m0,1.06v1.18m0,-0.06v1.18m0,5.54v1.18m0,5.54v1.18m0,7.78v1.18m0,-0.06v1.18m0,2.18v1.18m0,1.06v1.18m0,-0.06v1.18m0,4.42v1.18m0,4.42v1.18m0,-0.06v1.18m0,5.54v1.18m0,3.30v1.18m0,3.30v1.18m0,7.78v1.18m0,7.78v1.18m0,1.06v1.18m0,5.54v1.18M915.86,784.20v1.18m0,2.18v1.18m0,15.62v1.18m0,-0.06v1.18m0,6.66v1.18m0,-0.06v1.18m0,4.42v1.18m0,10.02v1.18m0,1.06v1.18m0,14.50v1.18m0,6.66v1.18m0,10.02v1.18m0,2.18v1.18m0,10.02v1.18m0,20.10v1.18m0,-0.06v1.18m0,-0.06v1.18m0,3.30v1.18m0,7.78v1.18m0,-0.06v1.18m0,3.30v1.18m0,4.42v1.18m0,2.18v1.18M925.10,919.72v1.18m0,24.70v1.18m0,5.54v1.18m0,2.18v1.18m0,46.98v1.18m0,16.74v1.18m0,3.30v1.18m0,27.94v1.18M934.34,881.64v1.18m0,84.06v1.18m0,12.26v1.18m0,7.78v1.18m0,20.10v1.18m0,1.06v1.18m0,3.30v1.18m0,3.30v1.18m0,11.14v1.18m0,6.66v1.18m0,2.18v1.18m0,1.06v1.18m0,4.42v1.18M943.59,788.68v1.18m0,34.66v1.18m0,50.34v1.18m0,73.98v1.18m0,3.30v1.18m0,10.02v1.18m0,3.30v1.18m0,-0.06v1.18m0,-0.06v1.18m0,4.42v1.18m0,-0.06v1.18m0,4.42v1.18m0,5.54v1.18m0,26.82v1.18m0,7.78v1.18m0,-0.06v1.18m0,-0.06v1.18m0,15.62v1.18m0,-0.06v1.18m0,3.30v1.18M952.83,808.84v1.18m0,129.98v1.18m0,3.30v1.18m0,24.58v1.18m0,-0.06v1.18m0,14.50v1.18m0,2.18v1.18m0,4.42v1.18m0,1.06v1.18m0,4.42v1.18m0,29.06v1.18m0,15.62v1.18m0,2.18v1.18M962.07,886.12v1.18m0,63.90v1.18m0,4.42v1.18m0,-0.06v1.18m0,11.14v1.18m0,22.34v1.18m0,5.54v1.18m0,7.78v1.18m0,31.30v1.18M971.31,920.84v1.18m0,20.22v1.18m0,2.18v1.18m0,1.06v1.18m0,4.42v1.18m0,-0.06v1.18m0,6.66v1.18m0,13.38v1.18m0,4.42v1.18m0,10.02v1.18m0,21.22v1.18m0,3.30v1.18m0,1.06v1.18m0,-0.06v1.18m0,7.78v1.18m0,-0.06v1.18m0,-0.06v1.18m0,20.10v1.18m0,-0.06v1.18m0,1.06v1.02M980.56,940.00v1.18m0,4.42v1.18m0,11.14v1.18m0,-0.06v1.18m0,12.26v1.18m0,12.26v1.18m0,12.26v1.18m0,-0.06v1.18m0,-0.06v1.18m0,4.42v1.18m0,1.06v1.18m0,2.18v1.18m0,6.66v1.18m0,6.66v1.18m0,1.06v1.18m0,11.14v1.18m0,15.62v1.02M989.80,904.04v1.18m0,34.78v1.18m0,13.38v1.18m0,6.66v1.18m0,6.66v1.18m0,27.94v1.18m0,1.06v1.18m0,11.14v1.18m0,6.66v1.18m0,2.18v1.18m0,2.18v1.18m0,1.06v1.18m0,6.66v1.18m0,5.54v1.18m0,10.02v1.18m0,2.18v1.02M999.04,829.00v1.18m0,112.06v1.18m0,2.18v1.18m0,3.30v1.18m0,1.06v1.18m0,-0.06v1.18m0,10.02v1.18m0,1.06v1.18m0,12.26v1.18m0,-0.06v1.18m0,-0.06v1.18m0,-0.06v1.18m0,-0.06v1.18m0,4.42v1.18m0,1.06v1.18m0,4.42v1.18m0,11.14v1.18m0,3.30v1.18m0,4.42v1.18m0,4.42v1.18m0,8.90v1.18m0,15.62v1.18m0,4.42v1.18M1008.28,962.40v1.18m0,-0.06v1.18m0,35.78v1.18m0,1.06v1.18m0,4.42v1.18m0,-0.06v1.18m0,6.66v1.18m0,-0.06v1.18m0,3.30v1.18m0,3.30v1.18m0,5.54v1.18m0,4.42v1.18m0,1.06v1.18m0,-0.06v1.18m0,2.18v1.18m0,1.06v1.18m0,-0.06v1.18m0,2.18v1.18M1017.52,946.72v1.18m0,6.66v1.18m0,1.06v1.18m0,1.06v1.18m0,5.54v1.18m0,-0.06v1.18m0,1.06v1.18m0,-0.06v1.18m0,8.90v1.18m0,4.42v1.18m0,2.18v1.18m0,17.86v1.18m0,1.06v1.18m0,-0.06v1.18m0,6.66v1.18m0,15.62v1.18m0,3.30v1.18m0,13.38v1.18m0,1.06v1.18M1026.77,940.00v1.18m0,12.26v1.18m0,2.18v1.18m0,10.02v1.18m0,13.38v1.18m0,6.66v1.18m0,5.54v1.18m0,2.18v1.18m0,14.50v1.18m0,11.14v1.18m0,4.42v1.18m0,4.42v1.18m0,4.42v1.18m0,5.54v1.18M1036.01,864.84v1.18m0,3.30v1.18m0,57.06v1.18m0,1.06v1.18m0,14.62v1.18m0,7.78v1.18m0,10.02v1.18m0,25.70v1.18m0,2.18v1.18m0,20.10v1.18m0,15.62v1.18m0,1.06v1.18m0,8.90v1.18m0,-0.06v1.18M1045.25,893.96v1.18m0,45.98v1.18m0,25.70v1.18m0,3.30v1.18m0,10.02v1.18m0,5.54v1.18m0,1.06v1.18m0,17.86v1.18m0,5.54v1.18m0,6.66v1.18m0,3.30v1.18m0,1.06v1.18m0,1.06v1.18m0,5.54v1.18M1054.49,879.40v1.18m0,61.66v1.18m0,15.62v1.18m0,4.42v1.18m0,-0.06v1.18m0,1.06v1.18m0,14.50v1.18m0,1.06v1.18m0,7.78v1.18m0,6.66v1.18m0,3.30v1.18m0,2.18v1.18m0,-0.06v1.18m0,-0.06v1.18m0,12.26v1.18m0,6.66v1.18m0,2.18v1.18m0,7.78v1.18m0,6.66v1.18m0,-0.06v1.18M1063.74,942.24v1.18m0,13.38v1.18m0,2.18v1.18m0,4.42v1.18m0,-0.06v1.18m0,4.42v1.18m0,4.42v1.18m0,2.18v1.18m0,4.42v1.18m0,8.90v1.18m0,10.02v1.18m0,12.26v1.18m0,1.06v1.18m0,2.18v1.18m0,15.62v1.18m0,4.42v1.18m0,1.06v1.18m0,6.66v1.02M1072.98,801.00v1.18m0,117.54v1.18m0,5.54v1.18m0,15.74v1.18m0,31.30v1.18m0,23.46v1.18m0,3.30v1.18m0,1.06v1.18m0,13.38v1.18m0,11.14v1.18m0,-0.06v1.18m0,-0.06v1.18m0,2.18v1.18m0,-0.06v1.18m0,4.42v1.18m0,6.66v1.18" stroke="#C2C2E1" stroke-width="9.29" fill="none"/>
<path d="M841.92,842.44v1.18m0,16.74v1.18m0,35.78v1.18m0,-0.06v1.18m0,27.94v1.18m0,4.42v1.18m0,2.18v0.74m0,103.54v1.18m0,11.14v1.18M851.16,788.68v1.18m0,11.14v1.18m0,32.42v1.18m0,13.38v1.18m0,14.50v1.18m0,8.90v1.18m0,40.26v1.18M860.41,789.80v1.18m0,4.42v1.18m0,4.42v1.18m0,10.02v1.18m0,18.98v1.18m0,12.26v1.18m0,1.06v1.18m0,-0.06v1.18m0,2.18v1.18m0,13.38v1.18m0,-0.06v1.18m0,22.34v1.18m0,2.18v1.18m0,-0.06v1.18m0,1.06v1.18m0,21.22v1.18m0,6.66v1.18m0,2.18v1.18m0,2.18v1.18M869.65,823.40v1.18m0,1.06v1.18m0,22.34v1.18m0,2.18v1.18m0,1.06v1.18m0,-0.06v1.18m0,1.06v1.18m0,2.18v1.18m0,14.50v1.18m0,13.38v1.18m0,7.78v1.18m0,30.18v1.18m0,1.06v1.18M878.89,785.32v1.18m0,2.18v1.18m0,50.34v1.18m0,3.30v1.18m0,30.18v1.18m0,-0.06v1.18m0,24.58v1.18m0,10.02v1.18m0,1.06v1.18M888.13,908.52v1.18M897.38,801.00v1.18m0,2.18v1.18m0,23.46v1.18m0,22.34v1.18m0,13.38v1.18m0,22.34v1.18m0,1.06v1.18m0,6.66v1.18m0,11.14v1.18m0,15.62v1.18M906.62,804.36v1.18m0,3.30v1.18m0,-0.06v1.18m0,-0.06v1.18m0,13.38v1.18m0,5.54v1.18m0,6.66v1.18m0,1.06v1.18m0,2.18v1.18m0,10.02v1.18m0,-0.06v1.18m0,3.30v1.18m0,-0.06v1.18m0,8.90v1.18m0,11.14v1.18m0,7.78v1.18m0,3.30v1.18m0,12.26v1.18M915.86,789.80v1.18m0,10.02v1.18m0,1.06v1.18m0,5.54v1.18m0,11.14v1.18m0,2.18v1.18m0,7.78v1.18m0,22.34v1.18m0,-0.06v1.18m0,1.06v1.18m0,1.06v1.18m0,12.26v1.18m0,1.06v1.18m0,14.50v1.18m0,-0.06v1.18m0,12.26v1.18m0,5.54v1.18M925.10,961.28v1.18m0,14.50v1.18m0,27.94v1.18m0,20.10v1.18m0,-0.06v1.18m0,-0.06v1.18m0,20.10v1.18m0,2.18v1.18m0,1.06v1.18M934.34,798.76v1.18m0,140.06v1.18m0,6.66v1.18m0,13.38v1.18m0,13.38v1.18m0,23.46v1.18m0,2.18v1.18m0,3.30v1.18m0,7.78v1.18m0,23.46v1.18m0,6.66v1.18M943.59,787.56v1.18m0,48.10v1.18m0,101.98v1.18m0,2.18v1.18m0,20.10v1.18m0,12.26v1.18m0,5.54v1.18m0,4.42v1.18m0,20.10v1.18m0,-0.06v1.18m0,2.18v1.18m0,-0.06v1.18m0,21.22v1.18m0,1.06v1.18m0,4.42v1.18m0,2.18v1.18m0,6.66v1.18M952.83,798.76v1.18m0,25.70v1.18m0,13.38v1.18m0,71.62v1.18m0,-0.06v1.18m0,32.54v1.18m0,11.14v1.18m0,2.18v1.18m0,8.90v1.18m0,7.78v1.18m0,13.38v1.18m0,16.74v1.18m0,3.30v1.18m0,7.78v1.18m0,20.10v1.18m0,2.18v1.18M962.07,879.40v1.18m0,27.94v1.18m0,10.02v1.18m0,26.94v1.18m0,4.42v1.18m0,-0.06v1.18m0,4.42v1.18m0,1.06v1.18m0,3.30v1.18m0,3.30v1.18m0,-0.06v1.18m0,3.30v1.18m0,50.34v1.18m0,10.02v1.18m0,4.42v1.18m0,8.90v1.18M971.31,817.80v1.18m0,58.18v1.18m0,-0.06v1.18m0,-0.06v1.18m0,26.82v1.18m0,32.54v1.18m0,4.42v1.18m0,15.62v1.18m0,4.42v1.18m0,11.14v1.18m0,13.38v1.18m0,22.34v1.18m0,20.10v1.18M980.56,788.68v1.18m0,25.70v1.18m0,41.38v1.18m0,22.34v1.18m0,12.26v1.18m0,23.46v1.18m0,26.94v1.18m0,1.06v1.18m0,17.86v1.18m0,-0.06v1.18m0,13.38v1.18m0,17.86v1.18m0,-0.06v1.18m0,7.78v1.18m0,8.90v1.18m0,8.90v1.18m0,16.74v1.18m0,3.30v1.18M989.80,926.44v1.18m0,16.86v1.18m0,-0.06v1.18m0,1.06v1.18m0,33.54v1.18m0,-0.06v1.18m0,11.14v1.18m0,1.06v1.18m0,5.54v1.18m0,-0.06v1.18m0,2.18v1.18m0,4.42v1.18m0,3.30v1.18m0,13.38v1.18m0,-0.06v1.18m0,5.54v1.18m0,5.54v1.18m0,-0.06v1.18m0,1.06v1.18M999.04,818.92v1.18m0,11.14v1.18m0,58.18v1.18m0,59.42v1.18m0,11.14v1.18m0,6.66v1.18m0,6.66v1.18m0,11.14v1.18m0,12.26v1.18m0,21.22v1.18m0,3.30v1.18m0,12.26v1.18m0,10.02v1.18M1008.28,808.84v1.18m0,129.98v1.18m0,10.02v1.18m0,2.18v1.18m0,-0.06v1.18m0,4.42v1.18m0,2.18v1.18m0,3.30v1.18m0,8.90v1.18m0,3.30v1.18m0,-0.06v1.18m0,4.42v1.18m0,-0.06v1.18m0,1.06v1.18m0,6.66v1.18m0,33.54v1.18m0,3.30v1.18m0,5.54v1.18m0,2.18v1.18m0,4.42v1.18m0,-0.06v1.18M1017.52,788.68v1.18m0,-0.06v1.18m0,27.94v1.18m0,48.10v1.18m0,75.10v1.18m0,-0.06v1.18m0,11.14v1.18m0,2.18v1.18m0,8.90v1.18m0,8.90v1.18m0,-0.06v1.18m0,1.06v1.18m0,1.06v1.18m0,6.66v1.18m0,1.06v1.18m0,14.50v1.18m0,1.06v1.18m0,-0.06v1.18m0,4.42v1.18m0,5.54v1.18m0,7.78v1.18m0,11.14v1.18M1026.77,789.80v1.18m0,17.86v1.18m0,140.06v1.18m0,18.98v1.18m0,6.66v1.18m0,38.02v1.18m0,31.30v1.18M1036.01,877.16v1.18m0,6.66v1.18m0,32.42v1.18m0,23.58v1.18m0,12.26v1.18m0,-0.06v1.18m0,14.50v1.18m0,1.06v1.18m0,-0.06v1.18m0,-0.06v1.18m0,3.30v1.18m0,6.66v1.18m0,2.18v1.18m0,-0.06v1.18m0,6.66v1.18m0,15.62v1.18m0,-0.06v1.18m0,1.06v1.18m0,6.66v1.18m0,1.06v1.18m0,8.90v1.18m0,6.66v1.18m0,2.18v1.18M1045.25,829.00v1.18m0,69.38v1.18m0,18.98v1.18m0,34.78v1.18m0,6.66v1.18m0,14.50v1.18m0,5.54v1.18m0,2.18v1.18m0,4.42v1.18m0,10.02v1.18m0,-0.06v1.18m0,7.78v1.18m0,-0.06v1.18m0,4.42v1.18m0,-0.06v1.18m0,14.50v1.18m0,6.66v1.18m0,4.42v1.18m0,-0.06v1.18m0,2.18v1.18M1054.49,919.72v1.18m0,19.10v1.18m0,4.42v1.18m0,10.02v1.18m0,-0.06v1.18m0,11.14v1.18m0,13.38v1.18m0,3.30v1.18m0,-0.06v1.18m0,7.78v1.18m0,4.42v1.18m0,11.14v1.18m0,30.18v1.18m0,-0.06v1.18m0,-0.06v1.18m0,1.06v1.18M1063.74,830.12v1.18m0,5.54v1.18m0,101.98v1.18m0,5.54v1.18m0,2.18v1.18m0,4.42v1.18m0,2.18v1.18m0,34.66v1.18m0,-0.06v1.18m0,3.30v1.18m0,-0.06v1.18m0,8.90v1.18m0,5.54v1.18m0,6.66v1.18m0,3.30v1.18m0,2.18v1.18m0,15.62v1.18M1072.98,797.64v1.18m0,15.62v1.18m0,61.54v1.18m0,61.66v1.18m0,11.14v1.18m0,-0.06v1.18m0,3.30v1.18m0,-0.06v1.18m0,1.06v1.18m0,2.18v1.18m0,1.06v1.18m0,3.30v1.18m0,4.42v1.18m0,1.06v1.18m0,8.90v1.18m0,4.42v1.18m0,13.38v1.18m0,2.18v1.18m0,-0.06v1.18m0,3.30v1.18m0,25.70v1.18m0,5.54v1.18" stroke="#D6D6EB" stroke-width="9.29" fill="none"/>
<path d="M841.92,815.56v1.18m0,14.50v1.18m0,91.78v1.18M851.16,796.52v1.18m0,4.42v1.18m0,57.06v1.18M860.41,790.92v1.18m0,11.14v1.18m0,3.30v1.18m0,41.38v1.18m0,24.58v1.18m0,15.62v1.18m0,10.02v1.18m0,16.74v1.18m0,2.18v1.18m0,-0.06v1.18m0,5.54v1.18m0,67.26v1.18M869.65,786.44v1.18m0,-0.06v1.18m0,20.10v1.18m0,49.22v1.18m0,-0.06v1.18m0,20.10v1.18m0,-0.06v1.18m0,18.98v1.18M878.89,787.56v1.18M897.38,803.24v1.18m0,63.78v1.18m0,-0.06v1.18m0,17.86v1.18M906.62,799.88v1.18m0,-0.06v1.18m0,4.42v1.18m0,12.26v1.18m0,1.06v1.18m0,-0.06v1.18m0,34.66v1.18m0,4.42v1.18m0,2.18v1.18m0,6.66v1.18m0,7.78v1.18m0,7.78v1.18m0,18.98v1.18m0,12.26v1.18M915.86,792.04v1.18m0,5.54v1.18m0,18.98v1.18m0,1.06v1.18m0,6.66v1.18m0,63.78v1.18m0,3.30v1.18m0,8.90v1.18m0,7.78v1.18m0,7.78v1.18M925.10,785.32v1.18m0,166.94v1.18m0,16.74v1.18m0,8.90v1.18m0,12.26v1.18m0,55.94v1.18m0,-0.06v1.18M934.34,811.08v1.18m0,-0.06v1.18m0,1.06v1.18m0,32.42v1.18m0,24.58v1.18m0,44.74v1.18m0,-0.06v1.18m0,3.30v1.18m0,24.70v1.18m0,16.74v1.18m0,-0.06v1.18m0,4.42v1.18m0,6.66v1.18m0,2.18v1.18m0,27.94v1.18m0,7.78v1.18m0,17.86v1.18m0,3.30v1.18m0,-0.06v1.18M943.59,789.80v1.18m0,17.86v1.18m0,4.42v1.18m0,39.14v1.18m0,11.14v1.18m0,8.90v1.18m0,-0.06v1.18m0,8.90v1.18m0,2.18v1.18m0,1.06v1.18m0,38.02v1.18m0,7.90v1.18m0,8.90v1.18m0,5.54v1.18m0,3.30v1.18m0,1.06v1.18m0,1.06v1.18m0,-0.06v1.18m0,5.54v1.18m0,5.54v1.18m0,-0.06v1.18m0,4.42v1.18m0,16.74v1.18m0,2.18v1.18m0,6.66v1.18m0,2.18v1.18m0,17.86v1.18m0,11.14v1.18M952.83,799.88v1.18m0,11.14v1.18m0,1.06v1.18m0,1.06v1.18m0,11.14v1.18m0,-0.06v1.18m0,49.22v1.18m0,7.78v1.18m0,29.06v1.18m0,11.14v1.18m0,29.18v1.18m0,3.30v1.18m0,6.66v1.18m0,8.90v1.18m0,8.90v1.18m0,20.10v1.18m0,3.30v1.18m0,3.30v1.18m0,3.30v1.18m0,5.54v1.18m0,2.18v1.18m0,-0.06v1.18m0,15.62v1.18m0,1.06v1.02M962.07,796.52v1.18m0,33.54v1.18m0,77.22v1.18m0,15.62v1.18m0,2.18v1.18m0,4.42v1.18m0,19.10v1.18m0,16.74v1.18m0,8.90v1.18m0,40.26v1.18m0,1.06v1.18m0,3.30v1.18m0,7.78v1.18m0,16.74v1.18M971.31,788.68v1.18m0,26.82v1.18m0,62.66v1.18m0,3.30v1.18m0,62.78v1.18m0,11.14v1.18m0,12.26v1.18m0,2.18v1.18m0,73.86v1.18m0,1.06v1.18M980.56,789.80v1.18m0,-0.06v1.18m0,14.50v1.18m0,6.66v1.18m0,43.62v1.18m0,5.54v1.18m0,20.10v1.18m0,1.06v1.18m0,3.30v1.18m0,21.22v1.18m0,3.30v1.18m0,31.42v1.18m0,2.18v1.18m0,3.30v1.18m0,1.06v1.18m0,6.66v1.18m0,2.18v1.18m0,1.06v1.18m0,2.18v1.18m0,30.18v1.18m0,8.90v1.18m0,8.90v1.18M989.80,811.08v1.18m0,27.94v1.18m0,4.42v1.18m0,78.34v1.18m0,15.74v1.18m0,8.90v1.18m0,2.18v1.18m0,30.18v1.18m0,2.18v1.18m0,16.74v1.18m0,1.06v1.18m0,1.06v1.18m0,2.18v1.18m0,5.54v1.18m0,15.62v1.18M999.04,830.12v1.18m0,30.18v1.18m0,20.10v1.18m0,4.42v1.18m0,53.82v1.18m0,3.30v1.18m0,11.14v1.18m0,-0.06v1.18m0,25.70v1.18m0,10.02v1.18m0,8.90v1.18m0,2.18v1.18m0,-0.06v1.18m0,2.18v1.18m0,-0.06v1.18m0,2.18v1.18m0,25.70v1.18M1008.28,846.92v1.18m0,95.26v1.18m0,2.18v1.18m0,8.90v1.18m0,12.26v1.18m0,4.42v1.18m0,1.06v1.18m0,32.42v1.18m0,3.30v1.18m0,15.62v1.18m0,4.42v1.18m0,4.42v1.18m0,10.02v1.18m0,3.30v1.02M1017.52,803.24v1.18m0,13.38v1.18m0,71.62v1.18m0,10.02v1.18m0,22.34v1.18m0,3.30v1.18m0,21.34v1.18m0,-0.06v1.18m0,1.06v1.18m0,5.54v1.18m0,15.62v1.18m0,42.50v1.18m0,15.62v1.18m0,11.14v1.18m0,5.54v1.18M1026.77,790.92v1.18m0,63.78v1.18m0,46.98v1.18m0,23.46v1.18m0,2.18v1.18m0,15.74v1.18m0,12.26v1.18m0,5.54v1.18m0,5.54v1.18m0,29.06v1.18m0,-0.06v1.18m0,10.02v1.18m0,12.26v1.18m0,-0.06v1.18m0,8.90v1.18m0,-0.06v1.18m0,5.54v1.18m0,1.06v1.18M1036.01,784.20v1.18m0,3.30v1.18m0,18.98v1.18m0,30.18v1.18m0,8.90v1.18m0,43.62v1.18m0,17.86v1.18m0,5.54v1.18m0,8.90v1.18m0,19.10v1.18m0,12.26v1.18m0,38.02v1.18m0,13.38v1.18m0,7.78v1.18m0,-0.06v1.18m0,12.26v1.18M1045.25,811.08v1.18m0,82.82v1.18m0,48.22v1.18m0,5.54v1.18m0,-0.06v1.18m0,6.66v1.18m0,-0.06v1.18m0,13.38v1.18m0,7.78v1.18m0,1.06v1.18m0,16.74v1.18m0,8.90v1.18m0,22.34v1.18M1054.49,797.64v1.18m0,12.26v1.18m0,-0.06v1.18m0,81.70v1.18m0,-0.06v1.18m0,32.42v1.18m0,15.74v1.18m0,2.18v1.18m0,11.14v1.18m0,42.50v1.18m0,29.06v1.18M1063.74,785.32v1.18m0,32.42v1.18m0,87.30v1.18m0,8.90v1.18m0,-0.06v1.18m0,-0.06v1.18m0,3.30v1.18m0,-0.06v1.18m0,4.42v1.18m0,15.74v1.18m0,5.54v1.18m0,5.54v1.18m0,40.26v1.18m0,6.66v1.18m0,1.06v1.18m0,27.94v1.18M1072.98,799.88v1.18m0,1.06v1.18m0,-0.06v1.18m0,8.90v1.18m0,1.06v1.18m0,13.38v1.18m0,16.74v1.18m0,18.98v1.18m0,24.58v1.18m0,38.02v1.18m0,11.26v1.18m0,7.78v1.18m0,16.74v1.18m0,-0.06v1.18m0,3.30v1.18m0,1.06v1.18m0,-0.06v1.18m0,1.06v1.18m0,5.54v1.18m0,2.18v1.18m0,1.06v1.18m0,29.06v1.18m0,4.42v1.18m0,10.02v1.18m0,14.50v1.18" stroke="#EBEBF5" stroke-width="9.29" fill="none"/>
<path d="M841.92,969.12v1.18M860.41,831.24v1.18m0,95.14v1.18m0,2.18v1.18m0,16.86v1.18m0,86.18v1.18M869.65,836.84v1.18m0,129.98v1.18m0,6.66v1.18m0,-0.06v1.18m0,-0.06v1.18m0,-0.06v1.18m0,2.18v1.18m0,39.14v1.18m0,-0.06v1.18m0,10.02v1.18M878.89,1008.32v1.18M897.38,877.16v1.18m0,50.34v1.18m0,19.10v1.18M906.62,928.68v1.18m0,-0.06v1.18m0,-0.06v1.18m0,9.02v1.18m0,26.82v1.18m0,-0.06v1.18m0,5.54v1.18m0,20.10v1.18m0,24.58v1.18m0,-0.06v1.18m0,7.78v1.18m0,15.62v1.18M915.86,802.12v1.18m0,57.06v1.18m0,30.18v1.18m0,-0.06v1.18m0,20.10v1.18m0,31.42v1.18m0,97.38v1.18M925.10,794.28v1.18m0,63.78v1.18m0,5.54v1.18m0,13.38v1.18m0,7.78v1.18m0,7.78v1.18m0,2.18v1.18m0,26.82v1.18m0,11.26v1.18m0,18.98v1.18m0,3.30v1.18m0,2.18v1.18m0,61.54v1.18m0,25.70v1.02M934.34,786.44v1.18m0,1.06v1.18m0,78.34v1.18m0,5.54v1.18m0,6.66v1.18m0,-0.06v1.18m0,26.82v1.18m0,54.94v1.18m0,8.90v1.18m0,-0.06v1.18m0,23.46v1.18m0,1.06v1.18m0,-0.06v1.18m0,12.26v1.18M943.59,786.44v1.18m0,3.30v1.18m0,1.06v1.18m0,3.30v1.18m0,4.42v1.18m0,3.30v1.18m0,3.30v1.18m0,-0.06v1.18m0,32.42v1.18m0,2.18v1.18m0,7.78v1.18m0,5.54v1.18m0,4.42v1.18m0,6.66v1.18m0,12.26v1.18m0,5.54v1.18m0,17.86v1.18m0,1.06v1.18m0,6.66v1.18m0,4.42v1.18m0,12.38v1.18m0,51.46v1.18m0,21.22v1.18m0,8.90v1.18m0,11.14v1.18M952.83,786.44v1.18m0,2.18v1.18m0,-0.06v1.18m0,18.98v1.18m0,24.58v1.18m0,4.42v1.18m0,14.50v1.18m0,4.42v1.18m0,3.30v1.18m0,22.34v1.18m0,4.42v1.18m0,27.94v1.18m0,21.34v1.18m0,55.94v1.18m0,3.30v1.18m0,10.02v1.18m0,4.42v1.18m0,20.10v1.18m0,6.66v1.18M962.07,792.04v1.18m0,10.02v1.18m0,20.10v1.18m0,-0.06v1.18m0,10.02v1.18m0,4.42v1.18m0,3.30v1.18m0,6.66v1.18m0,2.18v1.18m0,7.78v1.18m0,8.90v1.18m0,3.30v1.18m0,2.18v1.18m0,14.50v1.18m0,3.30v1.18m0,8.90v1.18m0,11.14v1.18m0,3.30v1.18m0,-0.06v1.18m0,5.66v1.18m0,-0.06v1.18m0,1.06v1.18m0,1.06v1.18m0,-0.06v1.18m0,2.18v1.18m0,10.02v1.18m0,2.18v1.18m0,29.06v1.18m0,-0.06v1.18m0,25.70v1.18m0,12.26v1.18m0,15.62v1.18m0,5.54v1.02M971.31,789.80v1.18m0,5.54v1.18m0,12.26v1.18m0,4.42v1.18m0,3.30v1.18m0,42.50v1.18m0,6.66v1.18m0,8.90v1.18m0,3.30v1.18m0,2.18v1.18m0,24.58v1.18m0,54.94v1.18m0,34.66v1.18m0,8.90v1.18m0,23.46v1.18M980.56,792.04v1.18m0,3.30v1.18m0,2.18v1.18m0,6.66v1.18m0,4.42v1.18m0,6.66v1.18m0,8.90v1.18m0,-0.06v1.18m0,3.30v1.18m0,1.06v1.18m0,-0.06v1.18m0,10.02v1.18m0,-0.06v1.18m0,7.78v1.18m0,1.06v1.18m0,2.18v1.18m0,3.30v1.18m0,-0.06v1.18m0,5.54v1.18m0,2.18v1.18m0,1.06v1.18m0,-0.06v1.18m0,4.42v1.18m0,-0.06v1.18m0,15.62v1.18m0,3.30v1.18m0,-0.06v1.18m0,1.06v1.18m0,8.90v1.18m0,1.06v1.18m0,4.42v1.18m0,15.74v1.18m0,12.26v1.18m0,-0.06v1.18m0,14.50v1.18m0,32.42v1.18M989.80,786.44v1.18m0,1.06v1.18m0,38.02v1.18m0,8.90v1.18m0,-0.06v1.18m0,2.18v1.18m0,-0.06v1.18m0,-0.06v1.18m0,14.50v1.18m0,-0.06v1.18m0,3.30v1.18m0,2.18v1.18m0,8.90v1.18m0,7.78v1.18m0,13.38v1.18m0,8.90v1.18m0,6.66v1.18m0,6.66v1.18m0,20.22v1.18m0,-0.06v1.18m0,33.54v1.18m0,24.58v1.18m0,11.14v1.18M999.04,802.12v1.18m0,12.26v1.18m0,1.06v1.18m0,1.06v1.18m0,18.98v1.18m0,24.58v1.18m0,18.98v1.18m0,4.42v1.18m0,20.10v1.18m0,-0.06v1.18m0,4.42v1.18m0,1.06v1.18m0,3.30v1.18m0,1.06v1.18m0,-0.06v1.18m0,3.30v1.18m0,-0.06v1.18m0,32.54v1.18m0,7.78v1.18m0,43.62v1.18m0,-0.06v1.18m0,34.66v1.02M1008.28,796.52v1.18m0,-0.06v1.18m0,-0.06v1.18m0,7.78v1.18m0,5.54v1.18m0,-0.06v1.18m0,13.38v1.18m0,8.90v1.18m0,21.22v1.18m0,11.14v1.18m0,4.42v1.18m0,20.10v1.18m0,13.38v1.18m0,12.26v1.18m0,1.06v1.18m0,-0.06v1.18m0,14.62v1.18m0,79.46v1.18m0,14.50v1.18M1017.52,784.20v1.18m0,2.18v1.18m0,10.02v1.18m0,1.06v1.18m0,4.42v1.18m0,-0.06v1.18m0,2.18v1.18m0,-0.06v1.18m0,1.06v1.18m0,-0.06v1.18m0,31.30v1.18m0,1.06v1.18m0,1.06v1.18m0,13.38v1.18m0,8.90v1.18m0,11.14v1.18m0,10.02v1.18m0,12.26v1.18m0,5.54v1.18m0,-0.06v1.18m0,-0.06v1.18m0,-0.06v1.18m0,6.66v1.18m0,-0.06v1.18m0,-0.06v1.18m0,4.54v1.18m0,62.66v1.18m0,1.06v1.18m0,-0.06v1.18m0,30.18v1.18M1026.77,797.64v1.18m0,7.78v1.18m0,6.66v1.18m0,1.06v1.18m0,2.18v1.18m0,15.62v1.18m0,27.94v1.18m0,11.14v1.18m0,3.30v1.18m0,-0.06v1.18m0,29.06v1.18m0,17.86v1.18m0,25.82v1.18M1036.01,786.44v1.18m0,-0.06v1.18m0,2.18v1.18m0,4.42v1.18m0,1.06v1.18m0,-0.06v1.18m0,2.18v1.18m0,2.18v1.18m0,26.82v1.18m0,3.30v1.18m0,6.66v1.18m0,1.06v1.18m0,3.30v1.18m0,12.26v1.18m0,7.78v1.18m0,2.18v1.18m0,-0.06v1.18m0,-0.06v1.18m0,-0.06v1.18m0,5.54v1.18m0,-0.06v1.18m0,2.18v1.18m0,10.02v1.18m0,8.90v1.18m0,7.78v1.18m0,-0.06v1.18m0,5.54v1.18m0,1.06v1.18m0,23.58v1.18m0,-0.06v1.18m0,1.06v1.18m0,23.46v1.18m0,8.90v1.18m0,46.98v1.18m0,10.02v1.18m0,1.06v1.18M1045.25,784.20v1.18m0,6.66v1.18m0,1.06v1.18m0,-0.06v1.18m0,-0.06v1.18m0,15.62v1.18m0,23.46v1.18m0,4.42v1.18m0,6.66v1.18m0,14.50v1.18m0,17.86v1.18m0,3.30v1.18m0,10.02v1.18m0,17.86v1.18m0,-0.06v1.18m0,30.30v1.18m0,7.78v1.18m0,7.78v1.18m0,48.10v1.18m0,-0.06v1.18m0,2.18v1.18m0,33.54v1.02M1054.49,786.44v1.18m0,26.82v1.18m0,16.74v1.18m0,11.14v1.18m0,7.78v1.18m0,8.90v1.18m0,4.42v1.18m0,5.54v1.18m0,-0.06v1.18m0,-0.06v1.18m0,2.18v1.18m0,5.54v1.18m0,2.18v1.18m0,4.42v1.18m0,1.06v1.18m0,-0.06v1.18m0,-0.06v1.18m0,1.06v1.18m0,-0.06v1.18m0,4.42v1.18m0,1.06v1.18m0,3.30v1.18m0,12.26v1.18m0,16.86v1.18m0,16.74v1.18m0,29.06v1.18m0,3.30v1.18m0,16.74v1.18m0,2.18v1.18m0,14.50v1.18m0,-0.06v1.18m0,6.66v1.18M1063.74,787.56v1.18m0,10.02v1.18m0,12.26v1.18m0,-0.06v1.18m0,2.18v1.18m0,-0.06v1.18m0,16.74v1.18m0,3.30v1.18m0,6.66v1.18m0,12.26v1.18m0,-0.06v1.18m0,7.78v1.18m0,3.30v1.18m0,20.10v1.18m0,15.62v1.18m0,-0.06v1.18m0,45.98v1.18m0,4.42v1.18m0,2.18v1.18m0,2.18v1.18m0,10.02v1.18m0,52.58v1.18m0,4.42v1.18m0,6.66v1.18m0,1.06v1.18m0,1.06v1.18M1072.98,785.32v1.18m0,3.30v1.18m0,1.06v1.18m0,13.38v1.18m0,16.74v1.18m0,25.70v1.18m0,-0.06v1.18m0,11.14v1.18m0,-0.06v1.18m0,8.90v1.18m0,1.06v1.18m0,1.06v1.18m0,1.06v1.18m0,-0.06v1.18m0,5.54v1.18m0,1.06v1.18m0,1.06v1.18m0,4.42v1.18m0,8.90v1.18m0,10.02v1.18m0,2.18v1.18m0,1.06v1.18m0,15.74v1.18m0,23.46v1.18m0,40.26v1.18m0,5.54v1.18m0,5.54v1.18m0,32.42v1.18" stroke="#FEF1EC" stroke-width="9.29" fill="none"/>
<path d="M841.92,970.24v1.18m0,73.86v1.18M851.16,1024.00v1.18M860.41,941.12v1.18m0,7.78v1.18m0,8.90v1.18m0,8.90v1.18m0,6.66v1.18m0,-0.06v1.18m0,3.30v1.18m0,1.06v1.18m0,-0.06v1.18m0,7.78v1.18m0,3.30v1.18m0,11.14v1.18m0,15.62v1.18m0,13.38v1.18m0,5.54v1.18M869.65,941.12v1.18m0,12.26v1.18m0,2.18v1.18m0,7.78v1.18m0,2.18v1.18m0,12.26v1.18m0,-0.06v1.18m0,30.18v1.18m0,2.18v1.18m0,39.14v1.02M878.89,857.00v1.18m0,101.98v1.18m0,41.38v1.18m0,-0.06v1.18M888.13,829.00v1.18m0,178.14v1.18M897.38,947.84v1.18m0,20.10v1.18m0,58.18v1.18m0,15.62v1.18M906.62,802.12v1.18m0,62.66v1.18m0,76.22v1.18m0,4.42v1.18m0,1.06v1.18m0,13.38v1.18m0,1.06v1.18m0,6.66v1.18m0,1.06v1.18m0,3.30v1.18m0,6.66v1.18m0,3.30v1.18m0,43.62v1.18m0,18.98v1.02M915.86,913.00v1.18m0,30.30v1.18m0,6.66v1.18m0,13.38v1.18m0,1.06v1.18m0,51.46v1.18m0,-0.06v1.18m0,14.50v1.18m0,2.18v1.18m0,1.06v1.18m0,2.18v1.18m0,-0.06v1.18M925.10,788.68v1.18m0,2.18v1.18m0,5.54v1.18m0,8.90v1.18m0,4.42v1.18m0,15.62v1.18m0,4.42v1.18m0,4.42v1.18m0,16.74v1.18m0,12.26v1.18m0,3.30v1.18m0,7.78v1.18m0,-0.06v1.18m0,1.06v1.18m0,3.30v1.18m0,-0.06v1.18m0,-0.06v1.18m0,34.66v1.18m0,9.02v1.18m0,55.94v1.18M934.34,789.80v1.18m0,-0.06v1.18m0,1.06v1.18m0,12.26v1.18m0,15.62v1.18m0,-0.06v1.18m0,3.30v1.18m0,-0.06v1.18m0,6.66v1.18m0,31.30v1.18m0,1.06v1.18m0,2.18v1.18m0,1.06v1.18m0,5.54v1.18m0,-0.06v1.18m0,6.66v1.18m0,2.18v1.18m0,3.30v1.18m0,1.06v1.18m0,13.38v1.18m0,2.18v1.18m0,12.26v1.18m0,4.54v1.18m0,18.98v1.18m0,38.02v1.18m0,17.86v1.18m0,25.70v1.18M943.59,795.40v1.18m0,-0.06v1.18m0,3.30v1.18m0,2.18v1.18m0,1.06v1.18m0,8.90v1.18m0,3.30v1.18m0,3.30v1.18m0,2.18v1.18m0,1.06v1.18m0,5.54v1.18m0,4.42v1.18m0,3.30v1.18m0,6.66v1.18m0,-0.06v1.18m0,-0.06v1.18m0,15.62v1.18m0,14.50v1.18m0,4.42v1.18m0,33.54v1.18M952.83,801.00v1.18m0,30.18v1.18m0,-0.06v1.18m0,-0.06v1.18m0,2.18v1.18m0,13.38v1.18m0,3.30v1.18m0,8.90v1.18m0,4.42v1.18m0,-0.06v1.18m0,1.06v1.18m0,2.18v1.18m0,2.18v1.18m0,6.66v1.18m0,1.06v1.18m0,1.06v1.18m0,3.30v1.18m0,6.66v1.18m0,7.78v1.18m0,50.46v1.18m0,3.30v1.18m0,10.02v1.18m0,22.34v1.18m0,1.06v1.18m0,1.06v1.18m0,25.70v1.18m0,2.18v1.18M962.07,788.68v1.18m0,5.54v1.18m0,1.06v1.18m0,-0.06v1.18m0,1.06v1.18m0,8.90v1.18m0,4.42v1.18m0,5.54v1.18m0,5.54v1.18m0,2.18v1.18m0,3.30v1.18m0,1.06v1.18m0,4.42v1.18m0,1.06v1.18m0,6.66v1.18m0,-0.06v1.18m0,1.06v1.18m0,-0.06v1.18m0,4.42v1.18m0,2.18v1.18m0,1.06v1.18m0,14.50v1.18m0,7.78v1.18m0,6.66v1.18m0,1.06v1.18m0,21.22v1.18m0,12.38v1.18m0,20.10v1.18m0,17.86v1.18m0,38.02v1.18M971.31,784.20v1.18m0,-0.06v1.18m0,-0.06v1.18m0,20.10v1.18m0,-0.06v1.18m0,1.06v1.18m0,1.06v1.18m0,-0.06v1.18m0,3.30v1.18m0,4.42v1.18m0,8.90v1.18m0,20.10v1.18m0,2.18v1.18m0,4.42v1.18m0,2.18v1.18m0,1.06v1.18m0,12.26v1.18m0,2.18v1.18m0,5.54v1.18m0,-0.06v1.18m0,15.62v1.18m0,3.30v1.18m0,-0.06v1.18m0,4.42v1.18m0,2.18v1.18m0,1.06v1.18m0,3.30v1.18m0,9.02v1.18m0,29.06v1.18m0,33.54v1.18m0,1.06v1.18M980.56,785.32v1.18m0,-0.06v1.18m0,-0.06v1.18m0,8.90v1.18m0,-0.06v1.18m0,25.70v1.18m0,7.78v1.18m0,-0.06v1.18m0,1.06v1.18m0,3.30v1.18m0,6.66v1.18m0,3.30v1.18m0,22.34v1.18m0,4.42v1.18m0,5.54v1.18m0,5.54v1.18m0,10.02v1.18m0,15.62v1.18m0,-0.06v1.18m0,13.50v1.18m0,1.06v1.18m0,4.42v1.18m0,10.02v1.18m0,6.66v1.18m0,8.90v1.18m0,16.74v1.18m0,20.10v1.18m0,25.70v1.18m0,4.42v1.18m0,-0.06v1.18M989.80,787.56v1.18m0,1.06v1.18m0,-0.06v1.18m0,2.18v1.18m0,1.06v1.18m0,2.18v1.18m0,3.30v1.18m0,1.06v1.18m0,5.54v1.18m0,-0.06v1.18m0,-0.06v1.18m0,31.30v1.18m0,13.38v1.18m0,1.06v1.18m0,10.02v1.18m0,-0.06v1.18m0,2.18v1.18m0,4.42v1.18m0,2.18v1.18m0,3.30v1.18m0,12.26v1.18m0,8.90v1.18m0,22.46v1.18m0,6.66v1.18m0,26.82v1.18M999.04,788.68v1.18m0,8.90v1.18m0,3.30v1.18m0,27.94v1.18m0,1.06v1.18m0,1.06v1.18m0,4.42v1.18m0,4.42v1.18m0,1.06v1.18m0,-0.06v1.18m0,-0.06v1.18m0,5.54v1.18m0,8.90v1.18m0,2.18v1.18m0,-0.06v1.18m0,5.54v1.18m0,35.78v1.18m0,2.18v1.18m0,3.30v1.18m0,35.90v1.18m0,61.54v1.18m0,7.78v1.18M1008.28,787.56v1.18m0,-0.06v1.18m0,5.54v1.18m0,3.30v1.18m0,17.86v1.18m0,8.90v1.18m0,13.38v1.18m0,1.06v1.18m0,1.06v1.18m0,7.78v1.18m0,5.54v1.18m0,1.06v1.18m0,4.42v1.18m0,6.66v1.18m0,7.78v1.18m0,4.42v1.18m0,17.86v1.18m0,-0.06v1.18m0,7.78v1.18m0,95.26v1.18m0,16.74v1.18M1017.52,792.04v1.18m0,6.66v1.18m0,1.06v1.18m0,5.54v1.18m0,10.02v1.18m0,1.06v1.18m0,11.14v1.18m0,10.02v1.18m0,2.18v1.18m0,8.90v1.18m0,15.62v1.18m0,1.06v1.18m0,-0.06v1.18m0,1.06v1.18m0,2.18v1.18m0,10.02v1.18m0,-0.06v1.18m0,-0.06v1.18m0,3.30v1.18m0,-0.06v1.18m0,7.78v1.18m0,3.30v1.18m0,7.78v1.18m0,13.50v1.18m0,62.66v1.18m0,38.02v1.18m0,14.50v1.02M1026.77,785.32v1.18m0,2.18v1.18m0,6.66v1.18m0,3.30v1.18m0,7.78v1.18m0,4.42v1.18m0,8.90v1.18m0,13.38v1.18m0,1.06v1.18m0,11.14v1.18m0,16.74v1.18m0,2.18v1.18m0,7.78v1.18m0,-0.06v1.18m0,6.66v1.18m0,5.54v1.18m0,3.30v1.18m0,13.38v1.18m0,-0.06v1.18m0,-0.06v1.18m0,2.18v1.18m0,-0.06v1.18m0,-0.06v1.18m0,16.86v1.18M1036.01,802.12v1.18m0,7.78v1.18m0,4.42v1.18m0,1.06v1.18m0,5.54v1.18m0,1.06v1.18m0,4.42v1.18m0,2.18v1.18m0,7.78v1.18m0,5.54v1.18m0,3.30v1.18m0,2.18v1.18m0,2.18v1.18m0,6.66v1.18m0,5.54v1.18m0,17.86v1.18m0,7.78v1.18m0,1.06v1.18m0,-0.06v1.18m0,2.18v1.18m0,3.30v1.18m0,7.78v1.18m0,33.66v1.18m0,5.54v1.18m0,2.18v1.18m0,27.94v1.18m0,20.10v1.18m0,15.62v1.18m0,1.06v1.18m0,2.18v1.18m0,7.78v1.18M1045.25,803.24v1.18m0,2.18v1.18m0,22.34v1.18m0,8.90v1.18m0,11.14v1.18m0,8.90v1.18m0,2.18v1.18m0,3.30v1.18m0,7.78v1.18m0,1.06v1.18m0,2.18v1.18m0,18.98v1.18m0,1.06v1.18m0,6.66v1.18m0,1.06v1.18m0,4.42v1.18m0,-0.06v1.18m0,10.02v1.18m0,-0.06v0.74m0,71.06v1.18M1054.49,787.56v1.18m0,5.54v1.18m0,8.90v1.18m0,7.78v1.18m0,2.18v1.18m0,-0.06v1.18m0,5.54v1.18m0,4.42v1.18m0,17.86v1.18m0,2.18v1.18m0,7.78v1.18m0,2.18v1.18m0,16.74v1.18m0,1.06v1.18m0,-0.06v1.18m0,18.98v1.18m0,1.06v1.18m0,5.54v1.18m0,8.90v1.18m0,21.34v1.18m0,2.18v1.18m0,25.70v1.18m0,21.22v1.18m0,2.18v1.18m0,16.74v1.18m0,5.54v1.18m0,-0.06v1.18m0,1.06v1.18M1063.74,789.80v1.18m0,-0.06v1.18m0,11.14v1.18m0,6.66v1.18m0,3.30v1.18m0,21.22v1.18m0,2.18v1.18m0,-0.06v1.18m0,1.06v1.18m0,-0.06v1.18m0,2.18v1.18m0,5.54v1.18m0,1.06v1.18m0,-0.06v1.18m0,3.30v1.18m0,1.06v1.18m0,1.06v1.18m0,-0.06v1.18m0,3.30v1.18m0,3.30v1.18m0,8.90v1.18m0,3.30v1.18m0,-0.06v1.18m0,25.70v1.18m0,-0.06v1.18m0,-0.06v1.18m0,5.54v1.18m0,51.58v1.18m0,23.46v1.18m0,32.42v1.18M1072.98,787.56v1.18m0,23.46v1.18m0,5.54v1.18m0,12.26v1.18m0,15.62v1.18m0,7.78v1.18m0,4.42v1.18m0,8.90v1.18m0,16.74v1.18m0,3.30v1.18m0,-0.06v1.18m0,-0.06v1.18m0,-0.06v1.18m0,11.14v1.18m0,-0.06v1.18m0,8.90v1.18m0,-0.06v1.18m0,3.30v1.18m0,5.54v1.18m0,13.50v1.18m0,31.30v1.18m0,72.74v1.18" stroke="#FDE2D8" stroke-width="9.29" fill="none"/>
<path d="M841.92,864.84v1.18m0,86.30v1.18m0,6.66v1.18m0,3.30v1.18m0,27.94v1.18m0,44.74v1.18m0,10.02v1.18M851.16,941.12v1.18m0,26.82v1.18m0,-0.06v1.18m0,4.42v1.18m0,30.18v1.18m0,2.18v1.18m0,15.62v1.18m0,23.46v1.18m0,6.66v1.02M860.41,942.24v1.18m0,-0.06v1.18m0,-0.06v1.18m0,2.18v1.18m0,2.18v1.18m0,-0.06v1.18m0,-0.06v1.18m0,11.14v1.18m0,2.18v1.18m0,6.66v1.18m0,3.30v1.18m0,-0.06v1.18m0,1.06v1.18m0,7.78v1.18m0,2.18v1.18m0,1.06v1.18m0,4.42v1.18m0,10.02v1.18m0,13.38v1.18m0,2.18v1.18m0,12.26v1.18m0,-0.06v1.18m0,10.02v1.02M869.65,785.32v1.18m0,155.74v1.18m0,-0.06v1.18m0,-0.06v1.18m0,16.74v1.18m0,5.54v1.18m0,1.06v1.18m0,-0.06v1.18m0,13.38v1.18m0,6.66v1.18m0,-0.06v1.18m0,-0.06v1.18m0,8.90v1.18m0,10.02v1.18m0,5.54v1.18m0,-0.06v1.18m0,3.30v1.18m0,1.06v1.18m0,-0.06v1.18m0,3.30v1.18m0,1.06v1.18m0,-0.06v1.18m0,-0.06v1.18m0,1.06v1.18m0,2.18v1.18m0,6.66v1.18m0,1.06v1.18M878.89,941.12v1.18m0,14.50v1.18m0,1.06v1.18m0,5.54v1.18m0,2.18v1.18m0,12.26v1.18m0,-0.06v1.18m0,1.06v1.18m0,17.86v1.18m0,1.06v1.18m0,31.30v1.18M888.13,952.32v1.18m0,2.18v1.18m0,52.58v1.18m0,18.98v1.18m0,14.50v1.18M897.38,946.72v1.18m0,4.42v1.18m0,8.90v1.18m0,-0.06v1.18m0,-0.06v1.18m0,-0.06v1.18m0,-0.06v1.18m0,-0.06v1.18m0,1.06v1.18m0,1.06v1.18m0,8.90v1.18m0,32.42v1.18m0,5.54v1.18m0,-0.06v1.18m0,2.18v1.18m0,1.06v1.18m0,2.18v1.18m0,10.02v1.18m0,5.54v1.18m0,-0.06v1.18M906.62,867.08v1.18m0,73.98v1.18m0,1.06v1.18m0,1.06v1.18m0,-0.06v1.18m0,1.06v1.18m0,1.06v1.18m0,-0.06v1.18m0,-0.06v1.18m0,-0.06v1.18m0,6.66v1.18m0,-0.06v1.18m0,5.54v1.18m0,2.18v1.18m0,3.30v1.18m0,3.30v1.18m0,8.90v1.18m0,1.06v1.18m0,2.18v1.18m0,-0.06v1.18m0,7.78v1.18m0,-0.06v1.18m0,14.50v1.18m0,-0.06v1.18m0,-0.06v1.18m0,3.30v1.18m0,11.14v1.18m0,3.30v1.18M915.86,940.00v1.18m0,-0.06v1.18m0,3.30v1.18m0,2.18v1.18m0,5.54v1.18m0,-0.06v1.18m0,-0.06v1.18m0,6.66v1.18m0,1.06v1.18m0,1.06v1.18m0,5.54v1.18m0,-0.06v1.18m0,3.30v1.18m0,15.62v1.18m0,-0.06v1.18m0,1.06v1.18m0,1.06v1.18m0,2.18v1.18m0,6.66v1.18m0,3.30v1.18m0,2.18v1.18m0,14.50v1.18m0,-0.06v1.18m0,1.06v1.18m0,10.02v1.18M925.10,784.20v1.18m0,16.74v1.18m0,-0.06v1.18m0,15.62v1.18m0,-0.06v1.18m0,3.30v1.18m0,2.18v1.18m0,7.78v1.18m0,1.06v1.18m0,3.30v1.18m0,17.86v1.18m0,16.74v1.18m0,2.18v1.18m0,7.78v1.18m0,22.34v1.18m0,8.90v1.18m0,5.54v1.18m0,-0.06v1.18m0,122.14v1.18M934.34,785.32v1.18m0,1.06v1.18m0,5.54v1.18m0,1.06v1.18m0,-0.06v1.18m0,6.66v1.18m0,1.06v1.18m0,-0.06v1.18m0,3.30v1.18m0,1.06v1.18m0,4.42v1.18m0,-0.06v1.18m0,7.78v1.18m0,1.06v1.18m0,2.18v1.18m0,5.54v1.18m0,5.54v1.18m0,2.18v1.18m0,-0.06v1.18m0,-0.06v1.18m0,3.30v1.18m0,3.30v1.18m0,1.06v1.18m0,1.06v1.18m0,18.98v1.18m0,18.98v1.18m0,4.42v1.18m0,-0.06v1.18m0,-0.06v1.18m0,11.14v1.18m0,121.02v1.18M943.59,785.32v1.18m0,12.26v1.18m0,20.10v1.18m0,1.06v1.18m0,3.30v1.18m0,4.42v1.18m0,2.18v1.18m0,35.78v1.18m0,-0.06v1.18m0,5.54v1.18m0,-0.06v1.18m0,-0.06v1.18m0,2.18v1.18m0,-0.06v1.18m0,8.90v1.18m0,3.30v1.18m0,11.14v1.18m0,-0.06v1.18m0,1.06v1.18m0,3.30v1.18m0,1.06v1.18m0,28.06v1.18m0,15.62v1.18m0,71.62v1.18m0,-0.06v1.18M952.83,803.24v1.18m0,5.54v1.18m0,13.38v1.18m0,5.54v1.18m0,3.30v1.18m0,14.50v1.18m0,10.02v1.18m0,1.06v1.18m0,3.30v1.18m0,-0.06v1.18m0,6.66v1.18m0,5.54v1.18m0,-0.06v1.18m0,1.06v1.18m0,14.50v1.18m0,1.06v1.18m0,15.62v1.18m0,1.06v1.18m0,2.18v1.18m0,5.54v1.18m0,100.86v1.18M962.07,784.20v1.18m0,-0.06v1.18m0,1.06v1.18m0,11.14v1.18m0,1.06v1.18m0,3.30v1.18m0,1.06v1.18m0,5.54v1.18m0,1.06v1.18m0,15.62v1.18m0,8.90v1.18m0,16.74v1.18m0,-0.06v1.18m0,5.54v1.18m0,2.18v1.18m0,1.06v1.18m0,1.06v1.18m0,14.50v1.18m0,-0.06v1.18m0,11.14v1.18m0,2.18v1.18m0,4.42v1.18m0,13.38v1.18m0,2.18v1.18m0,1.06v0.74m0,30.74v1.18m0,27.94v1.18m0,22.34v1.18M971.31,795.40v1.18m0,1.06v1.18m0,26.82v1.18m0,2.18v1.18m0,2.18v1.18m0,6.66v1.18m0,10.02v1.18m0,4.42v1.18m0,-0.06v1.18m0,1.06v1.18m0,-0.06v1.18m0,10.02v1.18m0,31.30v1.18m0,-0.06v1.18m0,11.14v1.18m0,-0.06v1.18m0,8.90v1.18m0,3.30v1.18m0,70.62v1.18m0,2.18v1.18M980.56,784.20v1.18m0,10.02v1.18m0,4.42v1.18m0,10.02v1.18m0,4.42v1.18m0,-0.06v1.18m0,6.66v1.18m0,16.74v1.18m0,2.18v1.18m0,-0.06v1.18m0,3.30v1.18m0,14.50v1.18m0,34.66v1.18m0,1.06v1.18m0,10.02v1.18m0,13.38v1.18m0,-0.06v1.18m0,109.82v1.18M989.80,798.76v1.18m0,2.18v1.18m0,2.18v1.18m0,1.06v1.18m0,16.74v1.18m0,-0.06v1.18m0,3.30v1.18m0,-0.06v1.18m0,-0.06v1.18m0,6.66v1.18m0,7.78v1.18m0,2.18v1.18m0,1.06v1.18m0,2.18v1.18m0,7.78v1.18m0,14.50v1.18m0,2.18v1.18m0,2.18v1.18m0,4.42v1.18m0,4.42v1.18m0,8.90v1.18m0,2.18v1.18m0,-0.06v1.18m0,10.02v1.18m0,6.66v1.18M999.04,789.80v1.18m0,-0.06v1.18m0,2.18v1.18m0,11.14v1.18m0,1.06v1.18m0,-0.06v1.18m0,1.06v1.18m0,11.14v1.18m0,-0.06v1.18m0,-0.06v1.18m0,5.54v1.18m0,1.06v1.18m0,1.06v1.18m0,4.42v1.18m0,-0.06v1.18m0,-0.06v1.18m0,-0.06v1.18m0,8.90v1.18m0,4.42v1.18m0,4.42v1.18m0,5.54v1.18m0,-0.06v1.18m0,18.98v1.18m0,-0.06v1.18m0,12.26v1.18m0,-0.06v1.18m0,23.46v0.74m0,95.70v1.18M1008.28,785.32v1.18m0,4.42v1.18m0,10.02v1.18m0,6.66v1.18m0,-0.06v1.18m0,4.42v1.18m0,3.30v1.18m0,8.90v1.18m0,3.30v1.18m0,1.06v1.18m0,3.30v1.18m0,11.14v1.18m0,-0.06v1.18m0,2.18v1.18m0,7.78v1.18m0,4.42v1.18m0,3.30v1.18m0,4.42v1.18m0,1.06v1.18m0,-0.06v1.18m0,3.30v1.18m0,22.34v1.18m0,1.06v1.18m0,7.78v1.18m0,3.30v1.18m0,3.30v1.18m0,-0.06v0.74m0,3.86v1.18m0,78.34v1.18M1017.52,786.44v1.18m0,5.54v1.18m0,2.18v1.18m0,12.26v1.18m0,13.38v1.18m0,6.66v1.18m0,26.82v1.18m0,-0.06v1.18m0,6.66v1.18m0,1.06v1.18m0,10.02v1.18m0,-0.06v1.18m0,6.66v1.18m0,-0.06v1.18m0,-0.06v1.18m0,4.42v1.18m0,7.78v1.18m0,2.18v1.18m0,2.18v1.18m0,2.18v1.18m0,7.78v1.18m0,2.18v1.18m0,43.74v1.18m0,1.06v1.18M1026.77,792.04v1.18m0,6.66v1.18m0,3.30v1.18m0,2.18v1.18m0,4.42v1.18m0,8.90v1.18m0,-0.06v1.18m0,1.06v1.18m0,1.06v1.18m0,8.90v1.18m0,5.54v1.18m0,-0.06v1.18m0,4.42v1.18m0,-0.06v1.18m0,3.30v1.18m0,2.18v1.18m0,-0.06v1.18m0,-0.06v1.18m0,-0.06v1.18m0,1.06v1.18m0,-0.06v1.18m0,-0.06v1.18m0,-0.06v1.18m0,15.62v1.18m0,11.14v1.18m0,5.54v1.18m0,2.18v1.18m0,-0.06v1.18m0,-0.06v1.18M1036.01,792.04v1.18m0,4.42v1.18m0,2.18v1.18m0,2.18v1.18m0,-0.06v1.18m0,3.30v1.18m0,1.06v1.18m0,2.18v1.18m0,1.06v1.18m0,5.54v1.18m0,3.30v1.18m0,-0.06v1.18m0,4.42v1.18m0,1.06v1.18m0,2.18v1.18m0,1.06v1.18m0,-0.06v1.18m0,2.18v1.18m0,6.66v1.18m0,1.06v1.18m0,-0.06v1.18m0,1.06v1.18m0,10.02v1.18m0,1.06v1.18m0,15.62v1.18m0,3.30v1.18m0,1.06v1.18m0,4.42v1.18m0,6.66v1.18m0,8.90v1.18m0,13.38v0.74m0,31.86v1.18m0,-0.06v1.18m0,12.26v1.18m0,6.66v1.18m0,31.30v1.18m0,14.50v1.18m0,14.50v1.18m0,1.06v1.18M1045.25,787.56v1.18m0,2.18v1.18m0,1.06v1.18m0,5.54v1.18m0,11.14v1.18m0,5.54v1.18m0,3.30v1.18m0,1.06v1.18m0,1.06v1.18m0,13.38v1.18m0,10.02v1.18m0,1.06v1.18m0,1.06v1.18m0,-0.06v1.18m0,-0.06v1.18m0,-0.06v1.18m0,2.18v1.18m0,7.78v1.18m0,-0.06v1.18m0,1.06v1.18m0,5.54v1.18m0,3.30v1.18m0,3.30v1.18m0,8.90v1.18m0,-0.06v1.18m0,5.54v1.18m0,2.18v1.18m0,1.06v1.18m0,8.90v1.18m0,-0.06v1.18m0,45.98v1.18M1054.49,784.20v1.18m0,-0.06v1.18m0,3.30v1.18m0,1.06v1.18m0,3.30v1.18m0,5.54v1.18m0,2.18v1.18m0,1.06v1.18m0,10.02v1.18m0,1.06v1.18m0,-0.06v1.18m0,4.42v1.18m0,1.06v1.18m0,4.42v1.18m0,5.54v1.18m0,11.14v1.18m0,1.06v1.18m0,-0.06v1.18m0,2.18v1.18m0,3.30v1.18m0,-0.06v1.18m0,1.06v1.18m0,2.18v1.18m0,5.54v1.18m0,5.54v1.18m0,5.54v1.18m0,14.50v1.18m0,1.06v1.18m0,3.30v1.18m0,4.42v1.18m0,3.30v1.18m0,1.06v1.18m0,2.18v1.18m0,-0.06v1.18m0,26.94v1.18m0,16.74v1.18m0,-0.06v1.18m0,-0.06v1.18m0,59.30v1.18M1063.74,784.20v1.18m0,3.30v1.18m0,4.42v1.18m0,4.42v1.18m0,1.06v1.18m0,1.06v1.18m0,2.18v1.18m0,1.06v1.18m0,10.02v1.18m0,2.18v1.18m0,3.30v1.18m0,3.30v1.18m0,15.62v1.18m0,5.54v1.18m0,2.18v1.18m0,8.90v1.18m0,3.30v1.18m0,3.30v1.18m0,1.06v1.18m0,8.90v1.18m0,2.18v1.18m0,-0.06v1.18m0,1.06v1.18m0,-0.06v1.18m0,-0.06v1.18m0,6.66v1.18m0,-0.06v1.18m0,16.74v1.18m0,3.30v1.18m0,-0.06v1.18m0,69.50v1.18m0,1.06v1.18m0,24.58v1.18m0,23.46v1.18M1072.98,784.20v1.18m0,1.06v1.18m0,1.06v1.18m0,6.66v1.18m0,1.06v1.18m0,8.90v1.18m0,11.14v1.18m0,5.54v1.18m0,5.54v1.18m0,1.06v1.18m0,3.30v1.18m0,11.14v1.18m0,1.06v1.18m0,12.26v1.18m0,2.18v1.18m0,5.54v1.18m0,7.78v1.18m0,-0.06v1.18m0,11.14v1.18m0,1.06v1.18m0,3.30v1.18m0,-0.06v1.18m0,4.42v1.18m0,4.42v1.18m0,19.10v1.18m0,13.38v1.18m0,58.18v1.18m0,27.94v1.18" stroke="#FCD4C5" stroke-width="9.29" fill="none"/>
<path d="M841.92,948.96v1.18m0,11.14v1.18m0,1.06v1.18m0,3.30v1.18m0,13.38v1.18m0,16.74v1.18m0,26.82v1.18m0,1.06v1.18m0,6.66v1.18m0,3.30v1.18m0,12.26v1.18M851.16,943.36v1.18m0,17.86v1.18m0,4.42v1.18m0,7.78v1.18m0,4.42v1.18m0,3.30v1.18m0,15.62v1.18m0,13.38v1.18m0,3.30v1.18m0,21.22v1.18m0,1.06v1.18M860.41,940.00v1.18m0,13.38v1.18m0,5.54v1.18m0,-0.06v1.18m0,4.42v1.18m0,5.54v1.18m0,4.42v1.18m0,7.78v1.18m0,-0.06v1.18m0,3.30v1.18m0,10.02v1.18m0,-0.06v1.18m0,-0.06v1.18m0,8.90v1.18m0,1.06v1.18m0,-0.06v1.18m0,4.42v1.18m0,-0.06v1.18m0,3.30v1.18m0,1.06v1.18m0,1.06v1.18m0,-0.06v1.18m0,2.18v1.18m0,-0.06v1.18m0,1.06v1.18m0,3.30v1.18m0,1.06v1.18m0,2.18v1.18m0,-0.06v1.18m0,1.06v1.18M869.65,945.60v1.18m0,-0.06v1.18m0,4.42v1.18m0,3.30v1.18m0,1.06v1.18m0,1.06v1.18m0,1.06v1.18m0,1.06v1.18m0,7.78v1.18m0,4.42v1.18m0,-0.06v1.18m0,3.30v1.18m0,14.50v1.18m0,3.30v1.18m0,1.06v1.18m0,-0.06v1.18m0,-0.06v1.18m0,3.30v1.18m0,1.06v1.18m0,2.18v1.18m0,-0.06v1.18m0,8.90v1.18m0,6.66v1.18m0,3.30v1.18m0,1.06v1.18m0,-0.06v1.18M878.89,943.36v1.18m0,-0.06v1.18m0,-0.06v1.18m0,-0.06v1.18m0,-0.06v1.18m0,12.26v1.18m0,-0.06v1.18m0,-0.06v1.18m0,2.18v1.18m0,-0.06v1.18m0,4.42v1.18m0,-0.06v1.18m0,1.06v1.18m0,18.98v1.18m0,1.06v1.18m0,-0.06v1.18m0,7.78v1.18m0,-0.06v1.18m0,1.06v1.18m0,2.18v1.18m0,-0.06v1.18m0,4.42v1.18m0,1.06v1.18m0,3.30v1.18m0,2.18v1.18m0,-0.06v1.18m0,3.30v1.18m0,4.42v1.18m0,-0.06v1.18m0,1.06v1.18m0,2.18v1.18m0,-0.06v1.18m0,-0.06v1.18m0,5.54v1.02M888.13,942.24v1.18m0,7.78v1.18m0,4.42v1.18m0,24.58v1.18m0,16.74v1.18m0,2.18v1.18m0,-0.06v1.18m0,1.06v1.18m0,8.90v1.18m0,41.38v1.02M897.38,941.12v1.18m0,-0.06v1.18m0,34.66v1.18m0,21.22v1.18m0,6.66v1.18m0,1.06v1.18m0,5.54v1.18m0,20.10v1.18m0,3.30v1.18m0,3.30v1.18m0,-0.06v1.18m0,3.30v1.18m0,-0.06v1.18m0,1.06v1.18m0,2.18v1.02M906.62,940.00v1.18m0,4.42v1.18m0,13.38v1.18m0,-0.06v1.18m0,-0.06v1.18m0,3.30v1.18m0,4.42v1.18m0,7.78v1.18m0,8.90v1.18m0,11.14v1.18m0,-0.06v1.18m0,-0.06v1.18m0,1.06v1.18m0,2.18v1.18m0,-0.06v1.18m0,1.06v1.18m0,2.18v1.18m0,3.30v1.18m0,5.54v1.18m0,5.54v1.18m0,-0.06v1.18m0,-0.06v1.18m0,1.06v1.18m0,-0.06v1.18m0,-0.06v1.18m0,2.18v1.18m0,-0.06v1.18m0,-0.06v1.18m0,4.42v1.18M915.86,942.24v1.18m0,4.42v1.18m0,2.18v1.18m0,2.18v1.18m0,3.30v1.18m0,-0.06v1.18m0,-0.06v1.18m0,-0.06v1.18m0,7.78v1.18m0,-0.06v1.18m0,7.78v1.18m0,2.18v1.18m0,2.18v1.18m0,-0.06v1.18m0,3.30v1.18m0,-0.06v1.18m0,11.14v1.18m0,1.06v1.18m0,2.18v1.18m0,1.06v1.18m0,11.14v1.18m0,2.18v1.18m0,-0.06v1.18m0,-0.06v1.18m0,-0.06v1.18m0,-0.06v1.18m0,10.02v1.18m0,2.18v1.18m0,4.42v1.18m0,-0.06v1.18m0,2.18v1.02M925.10,786.44v1.18m0,7.78v1.18m0,1.06v1.18m0,1.06v1.18m0,5.54v1.18m0,4.42v1.18m0,-0.06v1.18m0,8.90v1.18m0,5.54v1.18m0,1.06v1.18m0,2.18v1.18m0,6.66v1.18m0,1.06v1.18m0,5.54v1.18m0,2.18v1.18m0,-0.06v1.18m0,4.42v1.18m0,3.30v1.18m0,2.18v1.18m0,3.30v1.18m0,10.02v1.18m0,4.42v1.18m0,7.78v1.18m0,1.06v1.18m0,-0.06v1.18m0,-0.06v1.18m0,7.78v1.18m0,-0.06v1.18m0,10.02v1.18m0,3.30v1.18m0,-0.06v1.18M934.34,792.04v1.18m0,11.14v1.18m0,4.42v1.18m0,8.90v1.18m0,4.42v1.18m0,5.54v1.18m0,2.18v1.18m0,2.18v1.18m0,1.06v1.18m0,2.18v1.18m0,-0.06v1.18m0,-0.06v1.18m0,23.46v1.18m0,15.62v1.18m0,1.06v1.18m0,-0.06v1.18m0,-0.06v1.18m0,4.42v1.18m0,3.30v1.18m0,1.06v1.18m0,1.06v1.18m0,-0.06v1.18m0,1.06v1.18m0,2.18v1.18m0,7.78v1.18m0,-0.06v1.18m0,2.18v1.18m0,2.18v1.18m0,4.42v0.74M943.59,792.04v1.18m0,6.66v1.18m0,1.06v1.18m0,2.18v1.18m0,4.42v1.18m0,3.30v1.18m0,1.06v1.18m0,4.42v1.18m0,3.30v1.18m0,1.06v1.18m0,2.18v1.18m0,-0.06v1.18m0,4.42v1.18m0,3.30v1.18m0,-0.06v1.18m0,13.38v1.18m0,2.18v1.18m0,20.10v1.18m0,14.50v1.18m0,1.06v1.18m0,-0.06v1.18m0,3.30v1.18m0,6.66v1.18m0,10.02v1.18m0,3.30v1.18M952.83,784.20v1.18m0,-0.06v1.18m0,6.66v1.18m0,10.02v1.18m0,-0.06v1.18m0,6.66v1.18m0,3.30v1.18m0,2.18v1.18m0,1.06v1.18m0,2.18v1.18m0,15.62v1.18m0,-0.06v1.18m0,-0.06v1.18m0,6.66v1.18m0,-0.06v1.18m0,-0.06v1.18m0,2.18v1.18m0,23.46v1.18m0,2.18v1.18m0,10.02v1.18m0,3.30v1.18m0,4.42v1.18m0,1.06v1.18m0,10.02v1.18m0,1.06v1.18m0,2.18v1.18m0,1.06v1.18m0,30.30v1.18m0,61.54v1.18m0,17.86v1.18M962.07,789.80v1.18m0,-0.06v1.18m0,12.26v1.18m0,-0.06v1.18m0,1.06v1.18m0,1.06v1.18m0,11.14v1.18m0,3.30v1.18m0,13.38v1.18m0,6.66v1.18m0,3.30v1.18m0,27.94v1.18m0,4.42v1.18m0,1.06v1.18m0,1.06v1.18m0,5.54v1.18m0,1.06v1.18m0,-0.06v1.18m0,10.02v1.18m0,2.18v1.18m0,2.18v1.18m0,-0.06v1.18m0,75.10v1.18M971.31,803.24v1.18m0,-0.06v1.18m0,1.06v1.18m0,4.42v1.18m0,8.90v1.18m0,10.02v1.18m0,7.78v1.18m0,1.06v1.18m0,7.78v1.18m0,7.78v1.18m0,3.30v1.18m0,1.06v1.18m0,3.30v1.18m0,15.62v1.18m0,5.54v1.18m0,1.06v1.18m0,1.06v1.18m0,-0.06v1.18m0,5.54v1.18m0,2.18v1.18m0,-0.06v1.18m0,10.02v1.18m0,5.54v1.18M980.56,809.96v1.18m0,-0.06v1.18m0,4.42v1.18m0,2.18v1.18m0,6.66v1.18m0,-0.06v1.18m0,11.14v1.18m0,1.06v1.18m0,15.62v1.18m0,13.38v1.18m0,-0.06v1.18m0,-0.06v1.18m0,17.86v1.18m0,1.06v1.18m0,1.06v1.18m0,-0.06v1.18m0,7.78v1.18m0,1.06v1.18m0,10.02v1.18m0,3.30v1.18m0,2.18v1.18m0,17.98v1.18M989.80,784.20v1.18m0,-0.06v1.18m0,32.42v1.18m0,4.42v1.18m0,4.42v1.18m0,3.30v1.18m0,16.74v1.18m0,1.06v1.18m0,1.06v1.18m0,-0.06v1.18m0,4.42v1.18m0,8.90v1.18m0,7.78v1.18m0,14.50v1.18m0,-0.06v1.18m0,-0.06v1.18m0,4.42v1.18m0,11.14v1.18m0,-0.06v1.18m0,2.18v1.18m0,7.78v1.18m0,-0.06v1.18m0,-0.06v1.18M999.04,784.20v1.18m0,-0.06v1.18m0,1.06v1.18m0,3.30v1.18m0,3.30v1.18m0,-0.06v1.18m0,1.06v1.18m0,3.30v1.18m0,-0.06v1.18m0,1.06v1.18m0,2.18v1.18m0,8.90v1.18m0,5.54v1.18m0,12.26v1.18m0,11.14v1.18m0,12.26v1.18m0,8.90v1.18m0,1.06v1.18m0,4.42v1.18m0,6.66v1.18m0,1.06v1.18m0,11.14v1.18m0,-0.06v1.18m0,-0.06v1.18m0,4.42v1.18m0,-0.06v1.18m0,13.38v1.18M1008.28,784.20v1.18m0,4.42v1.18m0,1.06v1.18m0,12.26v1.18m0,5.54v1.18m0,12.26v1.18m0,-0.06v1.18m0,5.54v1.18m0,14.50v1.18m0,1.06v1.18m0,1.06v1.18m0,10.02v1.18m0,4.42v1.18m0,4.42v1.18m0,15.62v1.18m0,12.26v1.18m0,1.06v1.18m0,1.06v1.18m0,-0.06v1.18m0,6.66v1.18m0,1.06v1.18m0,2.18v1.18M1017.52,821.16v1.18m0,3.30v1.18m0,4.42v1.18m0,1.06v1.18m0,1.06v1.18m0,1.06v1.18m0,-0.06v1.18m0,-0.06v1.18m0,-0.06v1.18m0,-0.06v1.18m0,-0.06v1.18m0,-0.06v1.18m0,1.06v1.18m0,7.78v1.18m0,5.54v1.18m0,2.18v1.18m0,3.30v1.18m0,2.18v1.18m0,-0.06v1.18m0,4.42v1.18m0,6.66v1.18m0,15.62v1.18m0,29.06v1.18M1026.77,787.56v1.18m0,10.02v1.18m0,3.30v1.18m0,1.06v1.18m0,11.14v1.18m0,2.18v1.18m0,5.54v1.18m0,1.06v1.18m0,-0.06v1.18m0,2.18v1.18m0,-0.06v1.18m0,11.14v1.18m0,2.18v1.18m0,18.98v1.18m0,1.06v1.18m0,15.62v1.18m0,4.42v1.18m0,-0.06v1.18m0,4.42v1.18m0,4.42v1.18m0,5.54v1.18m0,14.50v1.18m0,72.86v1.18M1036.01,807.72v1.18m0,5.54v1.18m0,4.42v1.18m0,-0.06v1.18m0,-0.06v1.18m0,-0.06v1.18m0,2.18v1.18m0,3.30v1.18m0,68.26v1.18m0,-0.06v1.18m0,7.78v1.18m0,4.42v1.18m0,80.70v1.18m0,52.58v1.18M1045.25,785.32v1.18m0,11.14v1.18m0,-0.06v1.18m0,1.06v1.18m0,13.38v1.18m0,3.30v1.18m0,11.14v1.18m0,3.30v1.18m0,1.06v1.18m0,4.42v1.18m0,3.30v1.18m0,-0.06v1.18m0,5.54v1.18m0,10.02v1.18m0,6.66v1.18m0,1.06v1.18m0,12.26v1.18m0,3.30v1.18m0,-0.06v1.18m0,-0.06v1.18m0,6.66v1.18m0,1.06v1.18m0,3.30v1.18m0,4.42v1.18m0,8.90v1.18m0,1.06v1.18m0,1.06v1.18M1054.49,798.76v1.18m0,2.18v1.18m0,12.26v1.18m0,4.42v1.18m0,5.54v1.18m0,8.90v1.18m0,-0.06v1.18m0,-0.06v1.18m0,6.66v1.18m0,1.06v1.18m0,20.10v1.18m0,25.70v1.18m0,7.78v1.18m0,14.50v1.18m0,127.74v1.18M1063.74,792.04v1.18m0,3.30v1.18m0,-0.06v1.18m0,6.66v1.18m0,16.74v1.18m0,3.30v1.18m0,5.54v1.18m0,7.78v1.18m0,2.18v1.18m0,32.42v1.18m0,2.18v1.18m0,1.06v1.18m0,-0.06v1.18m0,13.38v1.18m0,-0.06v1.18m0,-0.06v1.18m0,-0.06v1.18m0,20.10v1.18m0,1.06v1.18m0,19.10v1.18m0,18.98v1.18m0,13.38v1.18m0,-0.06v1.18M1072.98,795.40v1.18m0,13.38v1.18m0,-0.06v1.18m0,10.02v1.18m0,10.02v1.18m0,1.06v1.18m0,6.66v1.18m0,-0.06v1.18m0,8.90v1.18m0,3.30v1.18m0,2.18v1.18m0,3.30v1.18m0,6.66v1.18m0,26.82v1.18m0,3.30v1.18m0,7.78v1.18m0,-0.06v1.18m0,12.26v1.18m0,-0.06v1.18" stroke="#FBC6B2" stroke-width="9.29" fill="none"/>
<path d="M841.92,943.36v1.18m0,8.90v1.18m0,1.06v1.18m0,1.06v1.18m0,6.66v1.18m0,11.14v1.18m0,-0.06v1.18m0,6.66v1.18m0,14.50v1.18m0,-0.06v1.18m0,2.18v1.18m0,-0.06v1.18m0,-0.06v1.18m0,1.06v1.18m0,-0.06v1.18m0,2.18v1.18m0,18.98v1.18m0,4.42v1.18m0,1.06v1.18m0,2.18v1.18M851.16,944.48v1.18m0,1.06v1.18m0,-0.06v1.18m0,-0.06v1.18m0,1.06v1.18m0,7.78v1.18m0,4.42v1.18m0,14.50v1.18m0,1.06v1.18m0,3.30v1.18m0,16.74v1.18m0,1.06v1.18m0,-0.06v1.18m0,14.50v1.18m0,13.38v1.18m0,2.18v1.18m0,4.42v1.18m0,1.06v1.18m0,5.54v1.18m0,-0.06v1.18M860.41,945.60v1.18m0,-0.06v1.18m0,8.90v1.18m0,1.06v1.18m0,3.30v1.18m0,-0.06v1.18m0,1.06v1.18m0,4.42v1.18m0,-0.06v1.18m0,1.06v1.18m0,11.14v1.18m0,2.18v1.18m0,-0.06v1.18m0,4.42v1.18m0,10.02v1.18m0,3.30v1.18m0,2.18v1.18m0,1.06v1.18m0,2.18v1.18m0,-0.06v1.18m0,-0.06v1.18m0,-0.06v1.18m0,4.42v1.18m0,6.66v1.18m0,-0.06v1.18m0,4.42v1.18m0,10.02v1.18M869.65,940.00v1.18m0,7.78v1.18m0,-0.06v1.18m0,-0.06v1.18m0,3.30v1.18m0,7.78v1.18m0,23.46v1.18m0,-0.06v1.18m0,-0.06v1.18m0,1.06v1.18m0,5.54v1.18m0,2.18v1.18m0,-0.06v1.18m0,5.54v1.18m0,14.50v1.18m0,1.06v1.18m0,5.54v1.18m0,12.26v1.18m0,-0.06v1.18m0,-0.06v1.18m0,-0.06v1.18m0,1.06v1.18M878.89,801.00v1.18m0,140.06v1.18m0,5.54v1.18m0,5.54v1.18m0,1.06v1.18m0,5.54v1.18m0,4.42v1.18m0,1.06v1.18m0,4.42v1.18m0,5.54v1.18m0,7.78v1.18m0,1.06v1.18m0,4.42v1.18m0,8.90v1.18m0,5.54v1.18m0,-0.06v1.18m0,1.06v1.18m0,1.06v1.18m0,2.18v1.18m0,7.78v1.18m0,-0.06v1.18m0,2.18v1.18m0,12.26v1.18M888.13,941.12v1.18m0,1.06v1.18m0,24.58v1.18m0,-0.06v1.18m0,12.26v1.18m0,3.30v1.18m0,1.06v1.18m0,-0.06v1.18m0,13.38v1.18m0,13.38v1.18m0,4.42v1.18m0,-0.06v1.18m0,4.42v1.18m0,8.90v1.18m0,3.30v1.18m0,2.18v1.18M897.38,940.00v1.18m0,12.26v1.18m0,-0.06v1.18m0,17.86v1.18m0,4.42v1.18m0,3.30v1.18m0,2.18v1.18m0,2.18v1.18m0,1.06v1.18m0,1.06v1.18m0,-0.06v1.18m0,6.66v1.18m0,4.42v1.18m0,11.14v1.18m0,8.90v1.18m0,13.38v1.18m0,2.18v1.18m0,6.66v1.18m0,-0.06v1.18M906.62,956.80v1.18m0,15.62v1.18m0,5.54v1.18m0,7.78v1.18m0,11.14v1.18m0,4.42v1.18m0,5.54v1.18m0,2.18v1.18m0,13.38v1.18m0,2.18v1.18m0,7.78v1.18m0,6.66v1.18m0,-0.06v1.18m0,1.06v1.18m0,-0.06v1.18M915.86,950.08v1.18m0,12.26v1.18m0,8.90v1.18m0,8.90v1.18m0,1.06v1.18m0,-0.06v1.18m0,2.18v1.18m0,5.54v1.18m0,3.30v1.18m0,1.06v1.18m0,1.06v1.18m0,3.30v1.18m0,-0.06v1.18m0,1.06v1.18m0,2.18v1.18m0,1.06v1.18m0,4.42v1.18m0,2.18v1.18m0,-0.06v1.18m0,20.10v1.18m0,-0.06v1.18m0,-0.06v1.18m0,3.30v1.18M925.10,787.56v1.18m0,7.78v1.18m0,10.02v1.18m0,1.06v1.18m0,-0.06v1.18m0,4.42v1.18m0,1.06v1.18m0,2.18v1.18m0,3.30v1.18m0,6.66v1.18m0,12.26v1.18m0,5.54v1.18m0,36.90v1.18m0,5.54v1.18m0,5.54v1.18m0,-0.06v1.18m0,1.06v1.18m0,-0.06v1.18m0,-0.06v1.18m0,3.30v1.18m0,5.54v1.18m0,16.86v1.18M934.34,784.20v1.18m0,31.30v1.18m0,-0.06v1.18m0,8.90v1.18m0,5.54v1.18m0,15.62v1.18m0,4.42v1.18m0,-0.06v1.18m0,4.42v1.18m0,1.06v1.18m0,12.26v1.18m0,6.66v1.18m0,6.66v1.18m0,4.42v1.18m0,11.14v1.18m0,12.26v1.18m0,4.42v1.18m0,-0.06v1.18m0,65.02v1.18M943.59,784.20v1.18m0,8.90v1.18m0,14.50v1.18m0,7.78v1.18m0,21.22v1.18m0,-0.06v1.18m0,5.54v1.18m0,14.50v1.18m0,17.86v1.18m0,13.38v1.18m0,5.54v1.18m0,1.06v1.18m0,1.06v1.18m0,-0.06v1.18m0,14.50v1.18M952.83,794.28v1.18m0,6.66v1.18m0,18.98v1.18m0,15.62v1.18m0,1.06v1.18m0,4.42v1.18m0,-0.06v1.18m0,-0.06v1.18m0,-0.06v1.18m0,8.90v1.18m0,13.38v1.18m0,25.70v1.18m0,6.66v1.18m0,6.66v1.18m0,14.50v1.18m0,2.18v0.74M962.07,820.04v1.18m0,-0.06v1.18m0,10.02v1.18m0,5.54v1.18m0,3.30v1.18m0,16.74v1.18m0,2.18v1.18m0,17.86v1.18m0,6.66v1.18m0,18.98v1.18m0,-0.06v1.18m0,10.02v1.18M971.31,787.56v1.18m0,5.54v1.18m0,4.42v1.18m0,-0.06v1.18m0,-0.06v1.18m0,26.82v1.18m0,4.42v1.18m0,-0.06v1.18m0,-0.06v1.18m0,-0.06v1.18m0,1.06v1.18m0,1.06v1.18m0,1.06v1.18m0,1.06v1.18m0,1.06v1.18m0,3.30v1.18m0,18.98v1.18m0,12.26v1.18m0,2.18v1.18m0,-0.06v1.18m0,6.66v1.18m0,2.18v1.18m0,16.74v1.18m0,7.78v1.18M980.56,793.16v1.18m0,8.90v1.18m0,1.06v1.18m0,16.74v1.18m0,38.02v1.18m0,1.06v1.18m0,7.78v1.18m0,24.58v1.18m0,5.54v1.18M989.80,795.40v1.18m0,1.06v1.18m0,18.98v1.18m0,2.18v1.18m0,1.06v1.18m0,45.86v1.18m0,-0.06v1.18m0,8.90v1.18m0,8.90v1.18m0,2.18v1.18m0,12.26v1.18m0,1.06v1.18m0,12.26v1.18m0,4.42v1.18m0,-0.06v1.18M999.04,793.16v1.18m0,1.06v1.18m0,26.82v1.18m0,14.50v1.18m0,15.62v1.18m0,14.50v1.18m0,5.54v1.18m0,24.58v1.18m0,1.06v1.18m0,15.62v1.18m0,3.30v1.18m0,3.30v1.18M1008.28,794.28v1.18m0,7.78v1.18m0,17.86v1.18m0,11.14v1.18m0,3.30v1.18m0,1.06v1.18m0,2.18v1.18m0,4.42v1.18m0,1.06v1.18m0,6.66v1.18m0,-0.06v1.18m0,4.42v1.18m0,16.74v1.18m0,3.30v1.18m0,-0.06v1.18m0,3.30v1.18m0,3.30v1.18m0,-0.06v1.18m0,2.18v1.18m0,-0.06v1.18m0,1.06v1.18m0,12.26v1.18m0,2.18v1.18m0,3.30v1.18M1017.52,827.88v1.18m0,-0.06v1.18m0,23.46v1.18m0,-0.06v1.18m0,8.90v1.18m0,41.38v1.18m0,20.10v1.18m0,47.10v1.18M1026.77,786.44v1.18m0,5.54v1.18m0,-0.06v1.18m0,6.66v1.18m0,15.62v1.18m0,12.26v1.18m0,-0.06v1.18m0,10.02v1.18m0,3.30v1.18m0,-0.06v1.18m0,23.46v1.18m0,12.26v1.18m0,33.54v1.18m0,10.02v1.18m0,-0.06v1.18m0,-0.06v0.74M1036.01,793.16v1.18m0,1.06v1.18m0,16.74v1.18m0,59.30v1.18m0,17.86v1.18m0,5.54v1.18m0,2.18v1.18m0,31.30v1.18M1045.25,786.44v1.18m0,16.74v1.18m0,3.30v1.18m0,16.74v1.18m0,6.66v1.18m0,10.02v1.18m0,7.78v1.18m0,15.62v1.18m0,16.74v1.18m0,39.14v1.18m0,1.06v1.18M1054.49,825.64v1.18m0,-0.06v1.18m0,5.54v1.18m0,6.66v1.18m0,4.42v1.18m0,8.90v1.18m0,16.74v1.18m0,7.78v1.18m0,5.54v1.18m0,32.42v1.18m0,8.90v1.18m0,-0.06v1.18m0,90.78v1.18M1063.74,793.16v1.18m0,27.94v1.18m0,27.94v1.18m0,2.18v1.18m0,34.66v1.18m0,18.98v1.18m0,-0.06v1.18m0,22.34v1.18m0,-0.06v0.74M1072.98,794.28v1.18m0,31.30v1.18m0,10.02v1.18m0,-0.06v1.18m0,16.74v1.18m0,2.18v1.18m0,-0.06v1.18m0,42.50v1.18m0,40.38v1.18m0,-0.06v1.18" stroke="#FAB89F" stroke-width="9.29" fill="none"/>
<path d="M841.92,941.12v1.18m0,-0.06v1.18m0,2.18v1.18m0,3.30v1.18m0,-0.06v1.18m0,2.18v1.18m0,1.06v1.18m0,1.06v1.18m0,2.18v1.18m0,3.30v1.18m0,3.30v1.18m0,2.18v1.18m0,1.06v1.18m0,2.18v1.18m0,-0.06v1.18m0,1.06v1.18m0,3.30v1.18m0,6.66v1.18m0,-0.06v1.18m0,1.06v1.18m0,1.06v1.18m0,2.18v1.18m0,-0.06v1.18m0,3.30v1.18m0,8.90v1.18m0,2.18v1.18m0,-0.06v1.18m0,1.06v1.18m0,1.06v1.18m0,1.06v1.18m0,-0.06v1.18m0,-0.06v1.18m0,2.18v1.18m0,10.02v1.18m0,4.42v1.18m0,-0.06v1.18m0,1.06v1.18m0,1.06v1.02M851.16,956.80v1.18m0,1.06v1.18m0,1.06v1.18m0,2.18v1.18m0,1.06v1.18m0,3.30v1.18m0,-0.06v1.18m0,-0.06v1.18m0,-0.06v1.18m0,2.18v1.18m0,-0.06v1.18m0,-0.06v1.18m0,3.30v1.18m0,-0.06v1.18m0,3.30v1.18m0,4.42v1.18m0,-0.06v1.18m0,13.38v1.18m0,3.30v1.18m0,4.42v1.18m0,3.30v1.18m0,1.06v1.18m0,-0.06v1.18m0,1.06v1.18m0,1.06v1.18m0,6.66v1.18m0,1.06v1.18m0,4.42v1.18m0,4.42v1.18m0,-0.06v1.18M860.41,955.68v1.18m0,1.06v1.18m0,12.26v1.18m0,30.18v1.18m0,-0.06v1.18m0,5.54v1.18m0,-0.06v1.18m0,40.26v1.18M869.65,953.44v1.18m0,33.54v1.18m0,3.30v1.18m0,18.98v1.18m0,-0.06v1.18m0,13.38v1.18m0,24.58v1.18m0,2.18v1.18M878.89,940.00v1.18m0,8.90v1.18m0,-0.06v1.18m0,1.06v1.18m0,21.22v1.18m0,2.18v1.18m0,1.06v1.18m0,6.66v1.18m0,-0.06v1.18m0,3.30v1.18m0,2.18v1.18m0,14.50v1.18m0,5.54v1.18m0,6.66v1.18m0,5.54v1.18m0,10.02v1.18m0,2.18v1.18m0,6.66v1.18m0,-0.06v1.18M888.13,953.44v1.18m0,3.30v1.18m0,-0.06v1.18m0,29.06v1.18m0,2.18v1.18m0,-0.06v1.18m0,4.42v1.18m0,2.18v1.18m0,6.66v1.18m0,6.66v1.18m0,2.18v1.18m0,-0.06v1.18m0,4.42v1.18m0,6.66v1.18m0,1.06v1.18m0,2.18v1.18M897.38,943.36v1.18m0,-0.06v1.18m0,-0.06v1.18m0,3.30v1.18m0,10.02v1.18m0,8.90v1.18m0,2.18v1.18m0,-0.06v1.18m0,-0.06v1.18m0,11.14v1.18m0,3.30v1.18m0,2.18v1.18m0,-0.06v1.18m0,-0.06v1.18m0,1.06v1.18m0,2.18v1.18m0,-0.06v1.18m0,7.78v1.18m0,4.42v1.18m0,8.90v1.18m0,4.42v1.18m0,-0.06v1.18m0,1.06v1.18m0,1.06v1.18m0,12.26v1.18M906.62,957.92v1.18m0,-0.06v1.18m0,24.58v1.18m0,-0.06v1.18m0,-0.06v1.18m0,-0.06v1.18m0,3.30v1.18m0,8.90v1.18m0,12.26v1.18m0,13.38v1.18m0,25.70v1.18M915.86,943.36v1.18m0,8.90v1.18m0,21.22v1.18m0,2.18v1.18m0,11.14v1.18m0,3.30v1.18m0,1.06v1.18m0,59.30v1.18M925.10,789.80v1.18m0,2.18v1.18m0,10.02v1.18m0,-0.06v1.18m0,8.90v1.18m0,16.74v1.18m0,6.66v1.18m0,6.66v1.18m0,1.06v1.18m0,1.06v1.18m0,3.30v1.18m0,8.90v1.18m0,-0.06v1.18m0,2.18v1.18m0,3.30v1.18m0,1.06v1.18m0,2.18v1.18m0,29.06v1.18m0,7.78v1.18m0,2.18v1.18m0,10.02v0.74M934.34,795.40v1.18m0,4.42v1.18m0,16.74v1.18m0,6.66v1.18m0,24.58v1.18m0,42.50v1.18m0,36.90v1.18M943.59,839.08v1.18m0,12.26v1.18m0,-0.06v1.18m0,6.66v1.18m0,50.34v1.18M952.83,795.40v1.18m0,22.34v1.18m0,-0.06v1.18m0,109.70v1.18m0,2.18v1.18M962.07,786.44v1.18m0,48.10v1.18m0,14.50v1.18m0,20.10v1.18m0,1.06v1.18m0,13.38v1.18m0,7.78v1.18M971.31,790.92v1.18m0,-0.06v1.18m0,-0.06v1.18m0,11.14v1.18m0,14.50v1.18m0,8.90v1.18m0,14.50v1.18m0,1.06v1.18m0,2.18v1.18m0,44.74v1.18m0,24.58v1.18M980.56,794.28v1.18m0,26.82v1.18m0,22.34v1.18m0,-0.06v1.18m0,54.82v1.18m0,7.78v1.18m0,8.90v1.18m0,-0.06v1.18m0,6.66v1.18m0,100.86v1.18M989.80,849.16v1.18m0,1.06v1.18m0,20.10v1.18m0,133.34v1.18M999.04,801.00v1.18m0,20.10v1.18m0,31.30v1.18m0,14.50v1.18m0,26.82v1.18m0,1.06v1.18m0,-0.06v1.18m0,2.18v1.18m0,12.26v1.18m0,13.38v1.18m0,54.94v1.18m0,10.02v1.18M1008.28,804.36v1.18m0,12.26v1.18m0,1.06v1.18m0,6.66v1.18m0,3.30v1.18m0,39.14v1.18m0,22.34v1.18m0,1.06v1.18m0,27.94v1.18m0,5.54v1.18M1017.52,794.28v1.18m0,8.90v1.18m0,-0.06v1.18m0,20.10v1.18m0,2.18v1.18m0,25.70v1.18m0,5.54v1.18m0,21.22v1.18m0,23.46v1.18m0,4.42v1.18m0,18.98v0.74M1026.77,795.40v1.18m0,14.50v1.18m0,10.02v1.18m0,17.86v1.18m0,46.98v1.18m0,2.18v1.18m0,4.42v1.18m0,7.78v1.18m0,7.78v1.18M1036.01,794.28v1.18m0,36.90v1.18M1045.25,805.48v1.18m0,11.14v1.18m0,2.18v1.18m0,-0.06v1.18m0,12.26v1.18m0,4.42v1.18m0,4.42v1.18m0,-0.06v1.18m0,38.02v1.18m0,21.22v1.18m0,23.46v1.18M1054.49,805.48v1.18m0,1.06v1.18m0,118.66v1.18m0,7.78v0.74M1063.74,864.84v1.18m0,23.46v1.18m0,43.62v1.18M1072.98,793.16v1.18m0,25.70v1.18m0,4.42v1.18m0,2.18v1.18m0,99.62v1.18m0,17.98v1.18" stroke="#FAAA8C" stroke-width="9.29" fill="none"/>
<path d="M841.92,944.48v1.18m0,26.82v1.18m0,11.14v1.18m0,-0.06v1.18m0,3.30v1.18m0,-0.06v1.18m0,5.54v1.18m0,15.62v1.18m0,1.06v1.18m0,-0.06v1.18m0,2.18v1.18m0,-0.06v1.18m0,2.18v1.18m0,7.78v1.18m0,10.02v1.18M851.16,940.00v1.18m0,4.42v1.18m0,3.30v1.18m0,4.42v1.18m0,1.06v1.18m0,4.42v1.18m0,24.58v1.18m0,10.02v1.18m0,1.06v1.18m0,1.06v1.18m0,6.66v1.18m0,-0.06v1.18m0,-0.06v1.18m0,1.06v1.18m0,2.18v1.18m0,11.14v1.18m0,1.06v1.18m0,-0.06v1.18m0,3.30v1.18m0,11.14v1.18m0,-0.06v1.18M860.41,1054.24v1.18M869.65,973.60v1.18m0,23.46v1.18m0,-0.06v1.18m0,2.18v1.18m0,33.54v1.18M878.89,888.36v1.18m0,62.78v1.18m0,1.06v1.18m0,24.58v1.18m0,5.54v1.18m0,-0.06v1.18m0,2.18v1.18m0,22.34v1.18m0,10.02v1.18m0,3.30v1.18m0,-0.06v1.18m0,8.90v1.18m0,-0.06v1.18m0,4.42v1.18m0,5.54v1.18m0,-0.06v1.18M888.13,940.00v1.18m0,3.30v1.18m0,3.30v1.18m0,-0.06v1.18m0,3.30v1.18m0,4.42v1.18m0,1.06v1.18m0,-0.06v1.18m0,-0.06v1.18m0,1.06v1.18m0,-0.06v1.18m0,2.18v1.18m0,3.30v1.18m0,2.18v1.18m0,1.06v1.18m0,4.42v1.18m0,13.38v1.18m0,8.90v1.18m0,-0.06v1.18m0,2.18v1.18m0,2.18v1.18m0,4.42v1.18m0,4.42v1.18m0,2.18v1.18m0,-0.06v1.18m0,3.30v1.18m0,3.30v1.18m0,1.06v1.18m0,1.06v1.18M897.38,951.20v1.18m0,3.30v1.18m0,1.06v1.18m0,-0.06v1.18m0,-0.06v1.18m0,20.10v1.18m0,3.30v1.18m0,1.06v1.18m0,2.18v1.18m0,10.02v1.18m0,14.50v1.18m0,-0.06v1.18m0,4.42v1.18m0,-0.06v1.18m0,6.66v1.18m0,-0.06v1.18M906.62,1020.64v1.18m0,-0.06v1.18m0,35.78v1.18M915.86,974.72v1.18m0,16.74v1.18m0,24.58v1.18m0,6.66v1.18m0,8.90v1.18m0,-0.06v1.18M925.10,801.00v1.18m0,15.62v1.18m0,8.90v1.18m0,17.86v1.18m0,2.18v1.18m0,10.02v1.18m0,8.90v1.18m0,11.14v1.18m0,23.46v1.18M934.34,803.24v1.18m0,57.06v1.18m0,-0.06v1.18M943.59,862.60v1.18m0,42.50v1.18m0,4.42v1.18m0,10.02v1.18M952.83,861.48v1.18m0,8.90v1.18M962.07,827.88v1.18M971.31,823.40v1.18m0,2.18v1.18m0,-0.06v1.18m0,67.14v1.18M989.80,820.04v1.18m0,14.50v1.18m0,38.02v1.18m0,16.74v1.18m0,27.94v1.18m0,13.38v0.74M1008.28,793.16v1.18m0,63.78v1.18m0,38.02v1.18m0,11.14v1.18M1017.52,795.40v1.18m0,1.06v1.18m0,59.30v1.18m0,13.38v1.18m0,13.38v1.18m0,17.86v1.18M1026.77,812.20v1.18m0,78.34v1.18m0,20.10v1.18m0,3.30v1.18m0,-0.06v1.18M1045.25,807.72v1.18m0,1.06v1.18m0,5.54v1.18M1054.49,835.72v1.18m0,14.50v1.18m0,36.90v1.18M1063.74,795.40v1.18m0,88.42v1.18M1072.98,960.16v1.18" stroke="#F99B78" stroke-width="9.29" fill="none"/>
<path d="M841.92,940.00v1.18m0,5.54v1.18m0,-0.06v1.18m0,24.58v1.18m0,1.06v1.18m0,12.26v1.18m0,4.42v1.18m0,17.86v1.18m0,4.42v1.18m0,29.06v1.18m0,1.06v1.18M851.16,952.32v1.18m0,-0.06v1.18m0,36.90v1.18m0,2.18v1.18m0,5.54v1.18m0,16.74v1.18m0,10.02v1.18m0,5.54v1.18m0,-0.06v1.18m0,6.66v1.18M878.89,992.64v1.18M888.13,945.60v1.18m0,-0.06v1.18m0,13.38v1.18m0,3.30v1.18m0,7.78v1.18m0,1.06v1.18m0,-0.06v1.18m0,5.54v1.18m0,-0.06v1.18m0,11.14v1.18m0,15.62v1.18m0,7.78v1.18m0,12.26v1.18m0,2.18v1.18m0,10.02v1.18m0,-0.06v1.18m0,3.30v1.18m0,-0.06v1.18M897.38,956.80v1.18m0,22.34v1.18m0,30.18v1.18m0,-0.06v1.18M906.62,997.12v1.18m0,21.22v1.18M915.86,980.32v1.18M925.10,924.20v1.18M934.34,859.24v1.18m0,68.26v1.18M962.07,852.52v1.18m0,69.38v1.18M989.80,822.28v1.18m0,119.90v1.18M999.04,864.84v1.18m0,33.54v1.18M1008.28,869.32v1.18m0,48.10v1.18M1063.74,825.64v1.18m0,-0.06v1.18" stroke="#F88D65" stroke-width="9.29" fill="none"/>
<path d="M841.92,992.64v1.18m0,64.90v1.18M851.16,954.56v1.18m0,36.90v1.18m0,-0.06v1.18M869.65,960.16v1.18M878.89,971.36v1.18M888.13,947.84v1.18m0,23.46v1.18m0,-0.06v1.18m0,5.54v1.18m0,14.50v1.18m0,-0.06v1.18m0,15.62v1.18m0,40.26v1.18m0,-0.06v1.18M934.34,802.12v1.18M980.56,804.36v1.18m0,220.70v1.18M1017.52,895.08v1.18M1026.77,901.80v1.18M1054.49,834.60v1.18" stroke="#F77F52" stroke-width="9.29" fill="none"/>
<path d="M851.16,999.36v1.18M860.41,1015.04v1.18M888.13,1031.84v1.18m0,16.74v1.18M897.38,984.80v1.18m0,21.22v1.18m0,5.54v1.18m0,25.70v1.18M934.34,899.56v1.18M952.83,905.16v1.18M962.07,818.92v1.18M999.04,883.88v1.18m0,17.86v1.18M1008.28,902.92v1.18M1017.52,909.64v1.18M1045.25,831.24v1.18M1072.98,807.72v1.18" stroke="#F6703E" stroke-width="9.29" fill="none"/>
<path d="M851.16,998.24v1.18M999.04,786.44v1.18M1017.52,823.40v1.18M1054.49,982.56v1.18" stroke="#F5622B" stroke-width="9.29" fill="none"/>
<path d="M851.16,942.24v1.18M869.65,947.84v1.18M888.13,994.88v1.18m0,58.18v1.18M925.10,876.04v1.18M989.80,909.64v1.18M1045.25,833.48v1.18M1063.74,970.24v1.18" stroke="#F45418" stroke-width="9.29" fill="none"/>
<rect x="837.3" y="775.1" width="82.7" height="7.7" fill="#DF6F10"/><rect x="920" y="775.1" width="157.6" height="7.7" fill="#038A0C"/>
<rect x="828.2" y="784.2" width="7.4" height="153.0" fill="#66CDAA"/><rect x="828.2" y="940.0" width="7.4" height="120.8" fill="#FFD712"/>
<path d="M841.9,775.1V763.3H851.2V775.1M906.6,775.1V763.3H915.9V775.1M897.4,775.1V761.6H911.2V763.3M888.1,775.1V761.2H904.3V761.6M878.9,775.1V758.6H896.2V761.2M869.6,775.1V755.7H887.6V758.6M860.4,775.1V754.5H878.6V755.7M846.5,763.3V752.2H869.5V754.5M952.8,775.1V764.9H962.1V775.1M943.6,775.1V764.3H957.4V764.9M934.3,775.1V758.4H950.5V764.3M989.8,775.1V761.8H999.0V775.1M1008.3,775.1V759.9H1017.5V775.1M994.4,761.8V758.4H1012.9V759.9M980.6,775.1V759.6H1003.7V758.4M1036.0,775.1V762.5H1045.3V775.1M1026.8,775.1V760.9H1040.6V762.5M1063.7,775.1V766.8H1073.0V775.1M1054.5,775.1V760.9H1068.4V766.8M1033.7,760.9V756.7H1061.4V760.9M992.1,759.6V755.2H1047.6V756.7M971.3,775.1V754.6H1019.8V755.2M942.4,758.4V752.5H995.6V754.6M925.1,775.1V749.6H969.0V752.5M858.0,752.2V738.2H947.1V749.6" fill="none" stroke="#000" stroke-width="1.1"/>
<path d="M828.0,784.2H810.5H801.7V787.3H807.1V789.8H801.1V791.5H810.2V793.3H809.3V794.9H799.0V796.7H806.3V799.6H810.0V801.5H809.5V803.3H808.8V804.3H809.3V806.1H804.7V807.9H803.0V810.4H805.2V813.1H804.4V814.9H809.8V817.7H804.3V819.8H810.2V820.7H809.5V821.6H804.4V823.4H809.1V825.7H809.0V826.6H809.1V828.9H808.5V830.3H804.4V831.2H810.0V833.5H804.0V835.7H809.7V838.0H809.1V839.0H804.8V840.4H809.6V841.9H808.6V845.1H807.2V846.2H805.0V847.6H806.2V848.4H810.1V849.9H809.4V851.2H809.5V854.1H808.5V856.4H809.0V858.5H799.6V861.0H810.3V862.2H802.0V864.2H809.9V865.5H809.3V867.9H810.4V871.0H809.4V872.0H809.1V874.2H808.7V876.2H804.7V877.7H810.2V880.3H805.8V882.9H810.4V884.6H807.0V886.1H808.7V887.3H810.5V889.8H809.9V891.0H804.3V893.1H809.9V895.2H810.2V897.8H808.6V900.5H808.9V902.5H808.7V904.6H809.8V907.2H804.0V909.7H807.9V911.2H804.4V913.8H809.7V916.9H809.7V920.0H810.5V921.5H808.7V923.1H800.6V925.7H809.7V927.5H804.3V929.0H800.8V932.0H804.8V933.3H808.9V935.1H810.0V937.2H828.0zM828.0,940.0H810.5H809.9V942.1H809.0V943.2H809.8V944.6H799.9V946.4H809.5V947.6H809.0V949.8H804.2V952.3H806.6V954.6H809.3V956.6H807.5V958.8H810.4V960.7H808.7V962.3H804.6V963.7H809.7V965.5H807.3V968.1H799.2V970.1H799.9V971.1H805.6V974.0H807.7V975.6H810.1V978.2H809.7V981.4H810.5V983.3H799.8V984.5H800.0V986.5H810.4V987.3H799.6V988.8H810.3V992.0H810.5V993.5H810.0V996.2H806.8V997.1H800.3V1000.3H808.3V1001.7H804.6V1003.9H808.9V1005.1H810.1V1006.2H805.5V1007.8H804.7V1010.9H800.3V1013.3H799.8V1015.9H807.2V1017.9H809.3V1019.4H806.6V1021.0H808.7V1021.8H809.2V1024.1H805.7V1025.6H808.5V1028.2H809.5V1031.1H810.1V1034.0H809.5V1036.5H809.6V1038.5H809.0V1039.8H809.0V1041.0H799.8V1044.1H804.8V1046.5H809.4V1048.4H810.1V1050.2H806.3V1051.6H809.7V1053.6H805.6V1055.8H809.8V1057.5H799.7V1059.6H806.9V1060.8H828.0z" fill="#000"/>
<path d="M819.7,790.9H818.1V792.3H820.1M819.5,789.6H815.5V791.6H818.1M819.5,788.2H812.7V790.6H815.5M819.5,793.7H812.5V795.0H819.5M812.7,789.4H810.2V794.3H812.5M819.5,786.9H805.4V791.9H810.2M819.5,796.4H810.8V797.7H819.5M819.5,799.1H811.9V800.4H819.5M810.8,797.0H808.4V799.7H811.9M819.5,801.8H808.1V803.1H819.5M808.4,798.4H805.6V802.5H808.1M819.5,805.8H812.5V807.2H819.5M819.5,808.6H812.3V809.9H819.5M812.5,806.5H810.0V809.2H812.3M819.5,804.5H807.4V807.9H810.0M805.6,800.4H802.2V806.2H807.4M805.4,789.4H800.7V803.3H802.2M819.5,812.6H800.5V814.0H819.5M819.5,811.3H795.8V813.3H800.5M800.7,796.3H793.6V812.3H795.8M819.5,815.3H810.5V816.7H819.5M819.5,818.0H812.6V819.4H819.5M810.5,816.0H808.9V818.7H812.6M819.5,820.7H810.2V822.1H819.5M808.9,817.4H806.2V821.4H810.2M819.9,828.2H818.4V830.2H820.0M819.5,826.2H816.5V829.2H818.4M819.5,824.8H814.3V827.7H816.5M819.5,831.6H814.9V832.9H819.5M814.3,826.2H812.2V832.3H814.9M819.5,823.5H808.0V829.2H812.2M819.5,834.3H815.3V835.6H819.5M820.7,839.7H819.4V841.7H820.0M819.4,840.7H818.5V844.4H820.0M819.5,838.4H816.7V842.6H818.5M819.5,837.0H815.4V840.5H816.7M815.3,835.0H812.2V838.7H815.4M819.5,846.5H813.7V847.8H819.5M820.3,851.9H819.3V853.2H821.1M819.7,850.5H818.1V852.6H819.3M819.8,854.6H818.4V857.3H820.2M818.1,851.6H815.5V856.0H818.4M819.5,849.2H813.0V853.8H815.5M813.7,847.2H811.2V851.5H813.0M812.2,836.8H809.3V849.3H811.2M808.0,826.3H806.8V843.1H809.3M806.2,819.4H801.6V834.7H806.8M819.5,866.8H817.2V868.2H819.5M819.5,865.4H815.2V867.5H817.2M819.5,864.1H814.4V866.5H815.2M819.5,862.7H812.4V865.3H814.4M819.5,861.4H809.2V864.0H812.4M809.2,862.7H807.8V869.5H819.5M819.5,860.0H802.5V866.1H807.8M819.5,872.2H814.5V873.6H819.5M819.5,870.9H813.0V872.9H814.5M813.0,871.9H810.9V874.9H819.5M819.5,876.3H816.1V877.6H819.5M816.1,877.0H813.3V879.0H819.5M820.8,885.8H818.5V887.1H820.7M819.5,884.4H817.7V886.4H818.5M819.5,883.1H817.0V885.4H817.7M819.5,881.7H815.4V884.2H817.0M819.5,880.3H812.1V883.0H815.4M813.3,878.0H811.0V881.7H812.1M810.9,873.4H808.6V879.8H811.0M820.2,893.9H818.9V895.2H820.3M819.5,892.5H816.9V894.6H818.9M819.5,891.2H814.0V893.5H816.9M819.5,889.8H812.0V892.4H814.0M812.0,891.1H811.0V896.6H819.5M819.5,888.5H807.2V893.8H811.0M808.6,876.6H805.2V891.2H807.2M802.5,863.1H801.5V883.9H805.2M801.6,827.1H800.4V873.5H801.5M819.5,902.0H806.7V903.4H819.5M819.5,900.7H804.6V902.7H806.7M819.5,899.3H801.3V901.7H804.6M819.5,898.0H798.2V900.5H801.3M819.5,904.7H804.6V906.1H819.5M819.5,907.4H805.1V908.8H819.5M804.6,905.4H803.3V908.1H805.1M819.5,911.5H812.7V912.9H819.5M819.5,910.1H809.1V912.2H812.7M819.5,914.2H810.5V915.6H819.5M809.1,911.2H808.3V914.9H810.5M819.5,918.3H813.5V919.6H819.5M819.5,916.9H810.8V918.9H813.5M810.8,917.9H809.0V921.0H819.5M808.3,913.0H803.9V919.5H809.0M803.3,906.8H799.3V916.2H803.9M798.2,899.2H797.0V911.5H799.3M819.5,922.3H803.1V923.7H819.5M819.5,926.4H806.7V927.8H819.5M819.5,925.0H802.8V927.1H806.7M803.1,923.0H800.6V926.1H802.8M819.5,930.5H809.1V931.8H819.5M819.5,929.1H805.7V931.1H809.1M819.5,933.2H804.8V934.5H819.5M805.7,930.1H803.9V933.8H804.8M800.6,924.5H798.7V932.0H803.9M797.0,905.4H795.5V928.3H798.7M800.4,850.3H794.4V916.8H795.5M793.6,804.3H791.6V883.5H794.4M819.5,947.8H810.3V948.9H819.5M819.5,946.8H808.8V948.4H810.3M819.5,945.7H807.1V947.6H808.8M819.5,944.7H805.5V946.6H807.1M819.5,943.6H802.4V945.6H805.5M819.5,942.5H797.9V944.6H802.4M819.5,950.0H799.3V951.0H819.5M797.9,943.6H796.5V950.5H799.3M819.5,954.2H814.3V955.3H819.5M814.3,954.7H812.9V956.3H819.5M819.5,953.1H810.5V955.5H812.9M819.5,952.1H809.7V954.3H810.5M819.5,958.5H812.8V959.5H819.5M819.5,957.4H811.1V959.0H812.8M811.1,958.2H810.3V960.6H819.5M809.7,953.2H806.1V959.4H810.3M819.5,962.7H808.7V963.8H819.5M819.5,961.6H807.8V963.2H808.7M806.1,956.3H802.4V962.4H807.8M819.5,965.9H809.0V967.0H819.5M819.5,964.8H807.7V966.4H809.0M819.5,968.0H811.4V969.1H819.5M819.5,971.2H817.6V972.3H819.5M819.5,973.3H815.6V974.4H819.5M817.6,971.7H814.7V973.9H815.6M819.5,976.5H815.4V977.6H819.5M819.5,975.4H814.0V977.0H815.4M814.7,972.8H813.2V976.2H814.0M819.5,970.1H811.3V974.5H813.2M811.4,968.5H810.3V972.3H811.3M807.7,965.6H806.7V970.4H810.3M820.3,979.7H818.3V980.8H819.5M818.3,980.2H817.2V984.5H819.6M819.5,978.6H814.1V982.3H817.2M819.5,988.2H816.5V989.3H819.5M816.5,988.7H814.6V990.3H819.5M814.1,980.5H811.1V989.5H814.6M819.5,991.4H817.3V993.0H819.6M819.9,997.2H818.0V1002.0H820.2M817.3,992.2H815.8V999.6H818.0M820.6,1004.1H819.1V1005.2H820.6M819.1,1004.6H818.0V1010.0H819.9M820.2,1017.9H818.8V1023.8H820.7M818.0,1007.3H816.3V1020.8H818.8M820.2,1026.4H818.7V1027.5H820.4M820.0,1028.5H818.6V1030.1H820.4M818.7,1026.9H817.5V1029.3H818.6M816.3,1014.1H815.7V1028.1H817.5M815.8,995.9H814.9V1021.1H815.7M819.5,1031.7H817.8V1034.4H820.0M820.9,1037.0H819.4V1038.6H820.2M817.8,1033.1H817.0V1037.8H819.4M819.5,1040.2H816.2V1041.3H819.5M817.0,1035.4H814.3V1040.7H816.2M814.9,1008.5H811.6V1038.1H814.3M811.1,985.0H809.6V1023.3H811.6M819.9,1047.7H818.3V1048.7H820.4M819.5,1046.6H817.3V1048.2H818.3M819.5,1045.5H814.6V1047.4H817.3M819.5,1044.5H813.6V1046.5H814.6M819.5,1043.4H811.5V1045.5H813.6M820.0,1051.9H819.2V1053.0H821.1M819.5,1050.8H818.4V1052.4H819.2M820.3,1055.1H818.8V1056.1H819.7M819.7,1054.0H817.3V1055.6H818.8M818.4,1051.6H815.6V1054.8H817.3M819.5,1057.2H815.4V1058.3H819.5M815.6,1053.2H812.2V1057.7H815.4M819.5,1049.8H809.8V1055.5H812.2M811.5,1044.4H808.3V1052.6H809.8M819.5,1042.3H807.4V1048.5H808.3M809.6,1004.1H806.4V1045.4H807.4M806.7,968.0H800.8V1024.8H806.4M802.4,959.4H797.3V996.4H800.8M796.5,947.0H792.6V977.9H797.3" fill="none" stroke="#000" stroke-width="1"/>
<text x="1082.4" y="782.3" font-size="12.6" text-anchor="start">class</text>
<text x="814.5" y="1074.6" font-size="12.6" text-anchor="start">cluster</text>
<text font-size="13.4" text-anchor="middle" transform="translate(772.5,931.5) rotate(-90)">Heat map of DEGs in LM tissue</text>
<text x="1094.5" y="797.6999999999999" font-size="10.6" text-anchor="start">class</text>
<rect x="1095.3" y="801.2" width="10.2" height="10.4" fill="#DF6F10"/><rect x="1095.3" y="812" width="10.2" height="10.4" fill="#038A0C"/>
<text x="1107.3" y="810.2" font-size="10.6" text-anchor="start">C</text>
<text x="1107.3" y="821" font-size="10.6" text-anchor="start">Ct</text>
<text x="1090.5" y="835.9" font-size="10.6" text-anchor="start">cluster</text>
<rect x="1095.3" y="838.6" width="10.2" height="9.6" fill="#FFD712"/><rect x="1095.3" y="848.2" width="10.2" height="9.6" fill="#66CDAA"/>
<text x="1108.5" y="847.0" font-size="10.6" text-anchor="start">1</text>
<text x="1108.5" y="856.8000000000001" font-size="10.6" text-anchor="start">2</text>
<text x="1090" y="876" font-size="10.6" text-anchor="start"><tspan font-style="italic">z</tspan>-score</text>
<defs><linearGradient id="zg1" x1="0" y1="0" x2="0" y2="1"><stop offset="0" stop-color="#F45418"/><stop offset="0.5" stop-color="#fff"/><stop offset="1" stop-color="#0A0A87"/></linearGradient></defs><rect x="1095.3" y="879.2" width="9.0" height="104.3" fill="url(#zg1)"/>
<text x="1106.8" y="887.9" font-size="10.6" text-anchor="start">3</text>
<text x="1106.8" y="904.1999999999999" font-size="10.6" text-anchor="start">2</text>
<text x="1106.8" y="921.1999999999999" font-size="10.6" text-anchor="start">1</text>
<text x="1106.8" y="935.8" font-size="10.6" text-anchor="start">0</text>
<text x="1106.8" y="951.5" font-size="10.6" text-anchor="start">-1</text>
<text x="1106.8" y="967.8" font-size="10.6" text-anchor="start">-2</text>
<text x="1106.8" y="983.0999999999999" font-size="10.6" text-anchor="start">-3</text>
<path d="M1209.46,916.52v1.18m0,119.78v1.18M1282.35,1021.80v1.18M1291.46,815.22v1.18m0,10.02v1.18M1337.02,791.70v1.18m0,92.90v1.18M1391.69,816.34v1.18M1437.24,804.02v1.18" stroke="#0A0A87" stroke-width="9.16" fill="none"/>
<path d="M1227.68,944.52v1.18M1236.79,898.60v1.18M1264.12,895.24v1.18m0,64.90v1.18m0,43.62v1.18M1273.24,928.84v1.18M1364.35,877.94v1.18M1391.69,815.22v1.18m0,68.26v1.18M1400.80,873.46v1.18M1428.13,795.06v1.18m0,88.42v1.18" stroke="#1E1E91" stroke-width="9.16" fill="none"/>
<path d="M1236.79,977.00v1.18m0,70.50v1.18M1255.01,913.16v1.18M1264.12,898.60v1.18m0,6.66v1.18m0,10.02v1.18m0,102.98v1.18m0,2.18v1.18M1282.35,905.32v1.18M1291.46,800.66v1.18m0,6.66v1.18m0,-0.06v1.18M1327.91,864.50v1.18M1337.02,808.50v1.18m0,13.38v1.18M1364.35,876.82v1.18M1391.69,809.62v1.18m0,58.18v1.18M1428.13,809.62v1.18M1437.24,802.90v1.18" stroke="#33339B" stroke-width="9.16" fill="none"/>
<path d="M1209.46,912.04v1.18m0,44.74v1.18m0,-0.06v1.18m0,53.70v1.18m0,21.22v1.18M1218.57,896.36v1.18m0,111.94v1.18m0,29.06v1.18m0,8.90v1.18M1227.68,898.60v1.18m0,-0.06v1.18m0,13.38v1.18m0,126.50v1.18M1236.79,901.96v1.18M1245.90,1054.28v1.18M1273.24,974.76v1.18m0,8.90v1.18m0,35.78v1.18m0,15.62v1.18M1282.35,896.36v1.18m0,44.74v1.18m0,2.18v1.18m0,102.98v1.18M1291.46,883.54v1.18M1309.68,877.94v1.18m0,-0.06v1.18M1337.02,807.38v1.18m0,35.78v1.18m0,-0.06v1.18M1346.13,849.94v1.18m0,26.82v1.18M1355.24,840.98v1.18M1364.35,812.98v1.18M1391.69,862.26v1.18m0,18.98v1.18M1400.80,795.06v1.18M1409.91,788.34v1.18M1419.02,795.06v1.18m0,4.42v1.18m0,-0.06v1.18M1428.13,793.94v1.18m0,25.70v1.18m0,11.14v1.18m0,31.30v1.18M1437.24,849.94v1.18m0,15.62v1.18" stroke="#4747A5" stroke-width="9.16" fill="none"/>
<path d="M1209.46,905.32v1.18m0,11.14v1.18m0,13.38v1.18m0,3.30v1.18m0,5.54v1.18m0,-0.06v1.18m0,22.34v1.18m0,12.26v1.18m0,22.34v1.18m0,-0.06v1.18m0,24.58v1.18M1218.57,936.68v1.18m0,102.98v1.18M1227.68,900.84v1.18m0,-0.06v1.18m0,10.02v1.18m0,12.26v1.18m0,17.86v1.18m0,30.18v1.18m0,54.82v1.18M1236.79,985.96v1.18m0,51.46v1.18m0,13.38v1.18M1245.90,929.96v1.18m0,70.50v1.18M1255.01,914.28v1.18m0,127.62v1.18M1264.12,897.48v1.18m0,3.30v1.18m0,33.54v1.18m0,3.30v1.18m0,11.14v1.18m0,7.78v1.18m0,-0.06v1.18m0,35.78v1.18M1273.24,926.60v1.18m0,15.62v1.18m0,66.02v1.18m0,-0.06v1.18M1282.35,941.16v1.18m0,14.50v1.18m0,60.42v1.18m0,6.66v1.18M1291.46,827.54v1.18m0,12.26v1.18m0,4.42v1.18m0,18.98v1.18M1300.57,927.72v1.18M1309.68,791.70v1.18m0,18.98v1.18m0,20.10v1.18M1327.91,863.38v1.18M1337.02,809.62v1.18m0,29.06v1.18m0,27.94v1.18m0,8.90v1.18M1346.13,819.70v1.18m0,30.18v1.18M1355.24,843.22v1.18m0,2.18v1.18M1364.35,879.06v1.18m0,6.66v1.18M1373.46,838.74v1.18m0,-0.06v1.18m0,8.90v1.18M1382.58,796.18v1.18M1391.69,808.50v1.18m0,7.78v1.18m0,22.34v1.18m0,3.30v1.18m0,36.90v1.18M1409.91,830.90v1.18M1419.02,823.06v1.18m0,46.98v1.18m0,5.54v1.18m0,3.30v1.18M1428.13,871.22v1.18M1437.24,801.78v1.18" stroke="#5C5CAF" stroke-width="9.16" fill="none"/>
<path d="M1209.46,915.40v1.18m0,2.18v1.18m0,11.14v1.18m0,3.30v1.18m0,23.46v1.18m0,5.54v1.18m0,15.62v1.18m0,41.38v1.18M1218.57,913.16v1.18m0,60.42v1.18m0,17.86v1.18m0,-0.06v1.18m0,1.06v1.18m0,10.02v1.18m0,36.90v1.18m0,1.06v1.18M1227.68,893.00v1.18m0,38.02v1.18m0,2.18v1.18m0,-0.06v1.18m0,5.54v1.18m0,14.50v1.18m0,8.90v1.18m0,14.50v1.18m0,-0.06v1.18m0,26.82v1.18m0,29.06v1.18m0,11.14v0.34M1236.79,936.68v1.18m0,23.46v1.18m0,4.42v1.18m0,2.18v1.18m0,13.38v1.18m0,18.98v1.18m0,30.18v1.18m0,-0.06v1.18m0,13.38v1.18M1245.90,903.08v1.18m0,10.02v1.18m0,21.22v1.18m0,4.42v1.18m0,17.86v1.18m0,18.98v1.18m0,12.26v1.18m0,1.06v1.18M1255.01,978.12v1.18m0,24.58v1.18M1264.12,893.00v1.18m0,13.38v1.18m0,7.78v1.18m0,21.22v1.18m0,-0.06v1.18m0,3.30v1.18m0,5.54v1.18m0,12.26v1.18m0,-0.06v1.18m0,1.06v1.18m0,35.78v1.18m0,1.06v1.18m0,3.30v1.18m0,1.06v1.18m0,8.90v1.18m0,1.06v1.18m0,-0.06v1.18m0,21.22v1.18m0,5.54v0.34M1273.24,897.48v1.18m0,6.66v1.18m0,7.78v1.18m0,5.54v1.18m0,51.46v1.18m0,22.34v1.18m0,11.14v1.18m0,10.02v1.18m0,15.62v1.18m0,5.54v1.18M1282.35,922.12v1.18m0,1.06v1.18m0,18.98v1.18m0,8.90v1.18m0,30.18v1.18m0,-0.06v1.18m0,6.66v1.18m0,31.30v1.18M1291.46,799.54v1.18m0,35.78v1.18m0,4.42v1.18m0,29.06v1.18m0,2.18v1.18m0,12.26v1.18M1300.57,890.26v0.20m0,94.38v1.18M1309.68,792.82v1.18m0,3.30v1.18m0,1.06v1.18m0,16.74v1.18m0,26.82v1.18m0,100.12v1.18M1318.79,806.26v1.18m0,-0.06v1.18m0,76.10v1.18M1327.91,876.82v1.18M1337.02,804.02v1.18m0,7.78v1.18m0,-0.06v1.18m0,-0.06v1.18m0,20.10v1.18m0,44.74v1.18M1346.13,797.30v1.18m0,10.02v1.18m0,52.58v1.18m0,13.38v1.18M1355.24,802.90v1.18m0,4.42v1.18m0,40.26v1.18m0,8.90v1.18m0,27.94v1.18m0,-0.06v0.20M1364.35,814.10v1.18m0,14.50v1.18m0,31.30v1.18m0,12.26v1.18m0,3.30v1.18M1373.46,790.58v1.18m0,-0.06v1.18M1382.58,801.78v1.18m0,6.66v1.18m0,1.06v1.18m0,6.66v1.18m0,61.54v1.18m0,5.54v1.18M1391.69,793.94v1.18m0,31.30v1.18m0,10.02v1.18m0,12.26v1.18m0,5.54v1.18m0,7.78v1.18m0,7.78v1.18m0,-0.06v1.18M1400.80,787.22v1.18m0,5.54v1.18m0,13.38v1.18m0,61.54v1.18m0,-0.06v1.18m0,7.78v1.18M1409.91,829.78v1.18m0,41.38v1.18m0,147.16v1.18M1419.02,792.82v1.18m0,-0.06v1.18m0,7.78v1.18m0,-0.06v1.18m0,4.42v1.18m0,10.02v1.18m0,7.78v1.18m0,23.46v1.18m0,27.94v1.18M1428.13,796.18v1.18m0,-0.06v1.18m0,21.22v1.18m0,3.30v1.18m0,36.90v1.18m0,3.30v1.18M1437.24,874.58v1.18m0,-0.06v1.18" stroke="#7070B9" stroke-width="9.16" fill="none"/>
<path d="M1209.46,894.12v1.18m0,5.54v1.18m0,2.18v1.18m0,1.06v1.18m0,3.30v1.18m0,14.50v1.18m0,5.54v1.18m0,4.42v1.18m0,1.06v1.18m0,5.54v1.18m0,-0.06v1.18m0,11.14v1.18m0,-0.06v1.18m0,21.22v1.18m0,-0.06v1.18m0,12.26v1.18m0,1.06v1.18m0,-0.06v1.18m0,-0.06v1.18m0,2.18v1.18m0,1.06v1.18m0,2.18v1.18m0,3.30v1.18m0,3.30v1.18m0,2.18v1.18m0,3.30v1.18m0,-0.06v1.18M1218.57,893.00v1.18m0,3.30v1.18m0,1.06v1.18m0,1.06v1.18m0,-0.06v1.18m0,4.42v1.18m0,-0.06v1.18m0,1.06v1.18m0,14.50v1.18m0,-0.06v1.18m0,12.26v1.18m0,1.06v1.18m0,11.14v1.18m0,-0.06v1.18m0,6.66v1.18m0,11.14v1.18m0,16.74v1.18m0,1.06v1.18m0,7.78v1.18m0,12.26v1.18m0,4.42v1.18m0,14.50v1.18m0,-0.06v1.18m0,6.66v1.18M1227.68,897.48v1.18m0,10.02v1.18m0,-0.06v1.18m0,1.06v1.18m0,2.18v1.18m0,2.18v1.18m0,2.18v1.18m0,2.18v1.18m0,6.66v1.18m0,25.70v1.18m0,21.22v1.18m0,-0.06v1.18m0,2.18v1.18m0,7.78v1.18m0,8.90v1.18m0,33.54v1.18m0,4.42v1.18M1236.79,899.72v1.18m0,2.18v1.18m0,10.02v1.18m0,-0.06v1.18m0,4.42v1.18m0,-0.06v1.18m0,5.54v1.18m0,13.38v1.18m0,12.26v1.18m0,16.74v1.18m0,13.38v1.18m0,23.46v1.18m0,1.06v1.18m0,4.42v1.18m0,3.30v1.18m0,5.54v1.18m0,8.90v1.18m0,1.06v1.18m0,-0.06v1.18m0,6.66v1.18M1245.90,918.76v1.18m0,2.18v1.18m0,24.58v1.18m0,8.90v1.18m0,23.46v1.18m0,12.26v1.18m0,42.50v1.18m0,5.54v1.18M1255.01,912.04v1.18m0,22.34v1.18m0,24.58v1.18m0,39.14v1.18m0,25.70v1.18m0,15.62v1.18m0,3.30v1.18m0,-0.06v1.18M1264.12,894.12v1.18m0,1.06v1.18m0,22.34v1.18m0,1.06v1.18m0,1.06v1.18m0,4.42v1.18m0,-0.06v1.18m0,10.02v1.18m0,5.54v1.18m0,-0.06v1.18m0,3.30v1.18m0,16.74v1.18m0,14.50v1.18m0,4.42v1.18m0,-0.06v1.18m0,2.18v1.18m0,-0.06v1.18m0,1.06v1.18m0,13.38v1.18m0,2.18v1.18m0,-0.06v1.18m0,7.78v1.18m0,-0.06v1.18m0,-0.06v1.18m0,-0.06v1.18m0,-0.06v1.18m0,1.06v1.18m0,13.38v1.18m0,1.06v1.18M1273.24,906.44v1.18m0,4.42v1.18m0,6.66v1.18m0,11.14v1.18m0,3.30v1.18m0,18.98v1.18m0,17.86v1.18m0,6.66v1.18m0,16.74v1.18m0,5.54v1.18m0,3.30v1.18m0,3.30v1.18m0,-0.06v1.18m0,11.14v1.18m0,4.42v1.18m0,2.18v1.18m0,-0.06v1.18m0,13.38v1.18M1282.35,901.96v1.18m0,-0.06v1.18m0,13.38v1.18m0,16.74v1.18m0,6.66v1.18m0,6.66v1.18m0,68.26v1.18m0,1.06v1.18m0,-0.06v1.18m0,4.42v1.18m0,4.42v1.18M1291.46,792.82v1.18m0,4.42v1.18m0,7.78v1.18m0,31.30v1.18m0,8.90v1.18m0,5.54v1.18m0,1.06v1.18m0,82.20v1.18M1300.57,846.58v1.18m0,3.30v1.18m0,25.70v1.18M1309.68,788.34v1.18m0,8.90v1.18m0,16.74v1.18m0,21.22v1.18m0,4.42v1.18m0,1.06v1.18m0,20.10v1.18m0,6.66v1.18m0,10.02v1.18M1318.79,792.82v1.18m0,3.30v1.18m0,25.70v1.18m0,20.10v1.18m0,10.02v1.18m0,20.10v1.18m0,10.02v1.18M1327.91,791.70v1.18m0,-0.06v1.18m0,12.26v1.18m0,2.18v1.18m0,33.54v1.18M1337.02,788.34v1.18m0,-0.06v1.18m0,2.18v1.18m0,4.42v1.18m0,1.06v1.18m0,-0.06v1.18m0,2.18v1.18m0,-0.06v1.18m0,4.42v1.18m0,5.54v1.18m0,1.06v1.18m0,7.78v1.18m0,10.02v1.18m0,4.42v1.18m0,2.18v1.18m0,-0.06v1.18m0,7.78v1.18m0,11.14v1.18m0,-0.06v1.18m0,1.06v1.18m0,1.06v1.18M1346.13,809.62v1.18m0,62.66v1.18m0,1.06v1.18m0,2.18v1.18M1355.24,796.18v1.18m0,-0.06v1.18m0,8.90v1.18m0,1.06v1.18m0,50.34v1.18m0,6.66v1.18m0,11.14v1.18m0,2.18v1.18m0,163.96v1.18M1364.35,791.70v1.18m0,5.54v1.18m0,15.62v1.18m0,27.94v1.18m0,7.78v1.18m0,11.14v1.18m0,-0.06v1.18m0,22.34v0.20m0,57.42v1.18M1373.46,787.22v1.18m0,7.78v1.18m0,20.10v1.18m0,6.66v1.18m0,2.18v1.18m0,4.42v1.18m0,23.46v1.18M1382.58,797.30v1.18m0,5.54v1.18m0,10.02v1.18m0,7.78v1.18m0,1.06v1.18m0,2.18v1.18m0,-0.06v1.18m0,7.78v1.18m0,33.54v1.18M1391.69,795.06v1.18m0,4.42v1.18m0,11.14v1.18m0,5.54v1.18m0,8.90v1.18m0,5.54v1.18m0,2.18v1.18m0,12.26v1.18m0,-0.06v1.18m0,12.26v1.18m0,8.90v1.18m0,6.66v1.18M1400.80,802.90v1.18m0,7.78v1.18m0,43.62v1.18m0,18.98v1.18m0,-0.06v1.18m0,11.14v0.20M1409.91,787.22v1.18m0,70.50v1.18M1419.02,799.54v1.18m0,17.86v1.18m0,-0.06v1.18m0,1.06v1.18m0,11.14v1.18m0,-0.06v1.18m0,2.18v1.18m0,12.26v1.18m0,4.42v1.18m0,20.10v1.18M1428.13,792.82v1.18m0,12.26v1.18m0,34.66v1.18m0,-0.06v1.18m0,6.66v1.18m0,-0.06v1.18m0,24.58v1.18m0,3.30v1.18m0,2.18v1.18m0,3.30v0.20M1437.24,805.14v1.18m0,10.02v1.18m0,3.30v1.18m0,11.14v1.18m0,6.66v1.18m0,20.10v1.18" stroke="#8484C3" stroke-width="9.16" fill="none"/>
<path d="M1209.46,893.00v1.18m0,4.42v1.18m0,-0.06v1.18m0,1.06v1.18m0,-0.06v1.18m0,5.54v1.18m0,10.02v1.18m0,3.30v1.18m0,3.30v1.18m0,3.30v1.18m0,4.42v1.18m0,5.54v1.18m0,5.54v1.18m0,1.06v1.18m0,-0.06v1.18m0,7.78v1.18m0,2.18v1.18m0,1.06v1.18m0,2.18v1.18m0,1.06v1.18m0,2.18v1.18m0,18.98v1.18m0,6.66v1.18m0,2.18v1.18m0,3.30v1.18m0,10.02v1.18m0,-0.06v1.18m0,5.54v1.18m0,2.18v1.18m0,2.18v1.18m0,2.18v1.18m0,-0.06v1.18m0,3.30v1.18M1218.57,894.12v1.18m0,-0.06v1.18m0,8.90v1.18m0,7.78v1.18m0,-0.06v1.18m0,26.82v1.18m0,1.06v1.18m0,15.62v1.18m0,3.30v1.18m0,7.78v1.18m0,-0.06v1.18m0,11.14v1.18m0,8.90v1.18m0,1.06v1.18m0,2.18v1.18m0,5.54v1.18m0,1.06v1.18m0,-0.06v1.18m0,6.66v1.18m0,11.14v1.18m0,2.18v1.18m0,4.42v1.18m0,2.18v1.18M1227.68,904.20v1.18m0,11.14v1.18m0,-0.06v1.18m0,2.18v1.18m0,1.06v1.18m0,-0.06v1.18m0,2.18v1.18m0,-0.06v1.18m0,-0.06v1.18m0,3.30v1.18m0,6.66v1.18m0,3.30v1.18m0,7.78v1.18m0,4.42v1.18m0,1.06v1.18m0,-0.06v1.18m0,7.78v1.18m0,-0.06v1.18m0,-0.06v1.18m0,11.14v1.18m0,2.18v1.18m0,4.42v1.18m0,-0.06v1.18m0,5.54v1.18m0,1.06v1.18m0,-0.06v1.18m0,1.06v1.18m0,-0.06v1.18m0,3.30v1.18m0,-0.06v1.18m0,6.66v1.18m0,16.74v1.18m0,1.06v1.18m0,1.06v1.18m0,5.54v1.18M1236.79,896.36v1.18m0,3.30v1.18m0,17.86v1.18m0,3.30v1.18m0,4.42v1.18m0,18.98v1.18m0,2.18v1.18m0,3.30v1.18m0,23.46v1.18m0,3.30v1.18m0,3.30v1.18m0,1.06v1.18m0,4.42v1.18m0,-0.06v1.18m0,-0.06v1.18m0,1.06v1.18m0,5.54v1.18m0,1.06v1.18m0,4.42v1.18m0,5.54v1.18m0,1.06v1.18m0,22.34v1.18m0,3.30v1.18M1245.90,900.84v1.18m0,15.62v1.18m0,2.18v1.18m0,3.30v1.18m0,2.18v1.18m0,5.54v1.18m0,6.66v1.18m0,2.18v1.18m0,2.18v1.18m0,8.90v1.18m0,2.18v1.18m0,18.98v1.18m0,-0.06v1.18m0,5.54v1.18m0,1.06v1.18m0,3.30v1.18m0,1.06v1.18m0,5.54v1.18m0,12.26v1.18m0,6.66v1.18m0,15.62v1.18M1255.01,895.24v1.18m0,24.58v1.18m0,-0.06v1.18m0,1.06v1.18m0,6.66v1.18m0,1.06v1.18m0,1.06v1.18m0,27.94v1.18m0,7.78v1.18m0,5.54v1.18m0,1.06v1.18m0,15.62v1.18m0,1.06v1.18m0,23.46v1.18m0,1.06v1.18m0,13.38v1.18m0,1.06v1.18m0,-0.06v1.18m0,-0.06v1.18m0,5.54v1.18m0,-0.06v0.34M1264.12,900.84v1.18m0,2.18v1.18m0,-0.06v1.18m0,3.30v1.18m0,-0.06v1.18m0,1.06v1.18m0,-0.06v1.18m0,13.38v1.18m0,3.30v1.18m0,3.30v1.18m0,6.66v1.18m0,-0.06v1.18m0,4.42v1.18m0,2.18v1.18m0,2.18v1.18m0,-0.06v1.18m0,7.78v1.18m0,1.06v1.18m0,2.18v1.18m0,26.82v1.18m0,4.42v1.18m0,1.06v1.18m0,3.30v1.18m0,30.18v1.18m0,-0.06v1.18m0,-0.06v1.18m0,5.54v1.18M1273.24,870.10v1.18m0,23.96v1.18m0,2.18v1.18m0,-0.06v1.18m0,6.66v1.18m0,7.78v1.18m0,7.78v1.18m0,1.06v1.18m0,10.02v1.18m0,-0.06v1.18m0,-0.06v1.18m0,2.18v1.18m0,-0.06v1.18m0,4.42v1.18m0,12.26v1.18m0,1.06v1.18m0,4.42v1.18m0,3.30v1.18m0,15.62v1.18m0,3.30v1.18m0,3.30v1.18m0,2.18v1.18m0,-0.06v1.18m0,18.98v1.18m0,1.06v1.18m0,4.42v1.18m0,6.66v1.18m0,10.02v1.18m0,1.06v0.34M1282.35,906.44v1.18m0,5.54v1.18m0,-0.06v1.18m0,14.50v1.18m0,8.90v1.18m0,6.66v1.18m0,-0.06v1.18m0,5.54v1.18m0,2.18v1.18m0,1.06v1.18m0,-0.06v1.18m0,12.26v1.18m0,7.78v1.18m0,7.78v1.18m0,1.06v1.18m0,-0.06v1.18m0,3.30v1.18m0,16.74v1.18m0,11.14v1.18m0,3.30v1.18m0,5.54v1.18m0,2.18v1.18m0,1.06v1.18m0,2.18v1.18m0,2.18v1.18M1291.46,787.22v1.18m0,1.06v1.18m0,6.66v1.18m0,5.54v1.18m0,5.54v1.18m0,6.66v1.18m0,2.18v1.18m0,5.54v1.18m0,8.90v1.18m0,11.14v1.18m0,3.30v1.18m0,1.06v1.18m0,8.90v1.18m0,4.42v1.18m0,-0.06v1.18m0,6.66v1.18M1300.57,787.22v1.18m0,27.94v1.18m0,3.30v1.18m0,42.50v1.18m0,2.18v1.18m0,85.56v1.18m0,34.66v1.18m0,35.78v1.18M1309.68,806.26v1.18m0,-0.06v1.18m0,-0.06v1.18m0,-0.06v1.18m0,2.18v1.18m0,5.54v1.18m0,1.06v1.18m0,1.06v1.18m0,4.42v1.18m0,4.42v1.18m0,5.54v1.18m0,-0.06v1.18m0,3.30v1.18m0,13.38v1.18m0,2.18v1.18m0,-0.06v1.18m0,1.06v1.18m0,6.66v1.18M1318.79,793.94v1.18m0,5.54v1.18m0,7.78v1.18m0,-0.06v1.18m0,31.30v1.18m0,16.74v1.18m0,11.14v1.18m0,8.90v1.18m0,1.06v1.18M1327.91,793.94v1.18m0,5.54v1.18m0,15.62v1.18m0,43.62v1.18m0,14.50v1.18m0,5.54v1.18m0,-0.06v1.18M1337.02,787.22v1.18m0,39.14v1.18m0,-0.06v1.18m0,1.06v1.18m0,15.62v1.18m0,3.30v1.18m0,5.54v1.18m0,2.18v1.18m0,7.78v1.18M1346.13,788.34v1.18m0,4.42v1.18m0,10.02v1.18m0,1.06v1.18m0,12.26v1.18m0,6.66v1.18m0,5.54v1.18m0,15.62v1.18m0,11.14v1.18m0,14.50v1.18M1355.24,786.10v1.18m0,-0.06v1.18m0,1.06v1.18m0,13.38v1.18m0,6.66v1.18m0,7.78v1.18m0,-0.06v1.18m0,21.22v1.18m0,-0.06v1.18m0,11.14v1.18m0,7.78v1.18m0,7.78v1.18m0,-0.06v1.18m0,-0.06v1.18m0,3.30v1.18m0,2.18v1.18m0,23.96v1.18M1364.35,788.34v1.18m0,7.78v1.18m0,1.06v1.18m0,2.18v1.18m0,5.54v1.18m0,13.38v1.18m0,17.86v1.18m0,7.78v1.18m0,6.66v1.18m0,3.30v1.18m0,5.54v1.18m0,10.02v1.18m0,5.54v1.18M1373.46,792.82v1.18m0,1.06v1.18m0,8.90v1.18m0,-0.06v1.18m0,2.18v1.18m0,4.42v1.18m0,3.30v1.18m0,6.66v1.18m0,12.26v1.18m0,10.02v1.18m0,32.42v1.18M1382.58,787.22v1.18m0,6.66v1.18m0,14.50v1.18m0,1.06v1.18m0,13.38v1.18m0,-0.06v1.18m0,21.22v1.18m0,10.02v1.18m0,5.54v1.18m0,10.02v1.18m0,2.18v1.18m0,1.06v1.18M1391.69,787.22v1.18m0,-0.06v1.18m0,6.66v1.18m0,-0.06v1.18m0,5.54v1.18m0,5.54v1.18m0,16.74v1.18m0,5.54v1.18m0,2.18v1.18m0,4.42v1.18m0,1.06v1.18m0,8.90v1.18m0,12.26v1.18m0,8.90v1.18m0,6.66v1.18m0,124.76v1.18M1400.80,812.98v1.18m0,30.18v1.18m0,12.26v1.18m0,3.30v1.18m0,11.14v1.18m0,-0.06v1.18M1409.91,800.66v1.18m0,1.06v1.18m0,3.30v1.18m0,14.50v1.18m0,-0.06v1.18m0,51.46v1.18M1419.02,810.74v1.18m0,-0.06v1.18m0,15.62v1.18m0,7.78v1.18m0,2.18v1.18m0,24.58v1.18m0,5.54v1.18m0,-0.06v1.18m0,1.06v1.18m0,6.66v1.18m0,-0.06v1.18m0,66.52v1.18M1428.13,804.02v1.18m0,5.54v1.18m0,1.06v1.18m0,7.78v1.18m0,-0.06v1.18m0,20.10v1.18m0,31.30v1.18m0,160.60v1.18M1437.24,790.58v1.18m0,-0.06v1.18m0,2.18v1.18m0,3.30v1.18m0,-0.06v1.18m0,6.66v1.18m0,5.54v1.18m0,2.18v1.18m0,-0.06v1.18m0,3.30v1.18m0,12.26v1.18m0,6.66v1.18m0,-0.06v1.18m0,30.18v1.18m0,7.78v1.18m0,84.44v1.18" stroke="#9999CD" stroke-width="9.16" fill="none"/>
<path d="M1209.46,896.36v1.18m0,31.30v1.18m0,7.78v1.18m0,24.58v1.18m0,-0.06v1.18m0,12.26v1.18m0,10.02v1.18m0,1.06v1.18m0,1.06v1.18m0,1.06v1.18m0,1.06v1.18m0,11.14v1.18m0,3.30v1.18m0,2.18v1.18m0,4.42v1.18m0,22.34v1.18m0,-0.06v1.18m0,3.30v1.18m0,2.18v0.34M1218.57,898.60v1.18m0,11.14v1.18m0,10.02v1.18m0,1.06v1.18m0,-0.06v1.18m0,4.42v1.18m0,1.06v1.18m0,1.06v1.18m0,18.98v1.18m0,6.66v1.18m0,6.66v1.18m0,6.66v1.18m0,7.78v1.18m0,14.50v1.18m0,1.06v1.18m0,3.30v1.18m0,1.06v1.18m0,2.18v1.18m0,2.18v1.18m0,1.06v1.18m0,13.38v1.18m0,7.78v1.18M1227.68,894.12v1.18m0,-0.06v1.18m0,-0.06v1.18m0,5.54v1.18m0,1.06v1.18m0,-0.06v1.18m0,12.26v1.18m0,10.02v1.18m0,15.62v1.18m0,1.06v1.18m0,2.18v1.18m0,3.30v1.18m0,8.90v1.18m0,1.06v1.18m0,-0.06v1.18m0,6.66v1.18m0,1.06v1.18m0,16.74v1.18m0,2.18v1.18m0,-0.06v1.18m0,7.78v1.18m0,1.06v1.18m0,2.18v1.18m0,-0.06v1.18m0,-0.06v1.18m0,1.06v1.18m0,4.42v1.18m0,-0.06v1.18m0,1.06v1.18m0,1.06v1.18m0,2.18v1.18m0,-0.06v1.18m0,11.14v1.18m0,-0.06v1.18m0,-0.06v1.18M1236.79,895.24v1.18m0,7.78v1.18m0,6.66v1.18m0,10.02v1.18m0,7.78v1.18m0,-0.06v1.18m0,3.30v1.18m0,-0.06v1.18m0,2.18v1.18m0,16.74v1.18m0,6.66v1.18m0,2.18v1.18m0,6.66v1.18m0,1.06v1.18m0,5.54v1.18m0,6.66v1.18m0,-0.06v1.18m0,-0.06v1.18m0,15.62v1.18m0,6.66v1.18m0,4.42v1.18m0,5.54v1.18m0,4.42v1.18m0,-0.06v1.18m0,4.42v1.18m0,7.78v0.34M1245.90,893.00v1.18m0,5.54v1.18m0,18.98v1.18m0,3.30v1.18m0,1.06v1.18m0,-0.06v1.18m0,8.90v1.18m0,-0.06v1.18m0,1.06v1.18m0,8.90v1.18m0,-0.06v1.18m0,-0.06v1.18m0,-0.06v1.18m0,1.06v1.18m0,4.42v1.18m0,1.06v1.18m0,-0.06v1.18m0,3.30v1.18m0,7.78v1.18m0,5.54v1.18m0,18.98v1.18m0,1.06v1.18m0,10.02v1.18m0,6.66v1.18m0,4.42v1.18m0,6.66v1.18m0,6.66v1.18M1255.01,910.92v1.18m0,4.42v1.18m0,20.10v1.18m0,-0.06v1.18m0,3.30v1.18m0,-0.06v1.18m0,1.06v1.18m0,12.26v1.18m0,14.50v1.18m0,5.54v1.18m0,2.18v1.18m0,3.30v1.18m0,3.30v1.18m0,2.18v1.18m0,12.26v1.18m0,7.78v1.18m0,4.42v1.18m0,4.42v1.18m0,1.06v1.18m0,-0.06v1.18m0,-0.06v1.18m0,-0.06v1.18m0,2.18v1.18m0,10.02v1.18M1264.12,903.08v1.18m0,4.42v1.18m0,2.18v1.18m0,5.54v1.18m0,1.06v1.18m0,10.02v1.18m0,1.06v1.18m0,-0.06v1.18m0,11.14v1.18m0,17.86v1.18m0,5.54v1.18m0,3.30v1.18m0,2.18v1.18m0,2.18v1.18m0,17.86v1.18m0,7.78v1.18m0,4.42v1.18m0,3.30v1.18m0,4.42v1.18m0,7.78v1.18m0,3.30v1.18m0,8.90v1.18M1273.24,893.00v1.18m0,2.18v1.18m0,11.14v1.18m0,-0.06v1.18m0,2.18v1.18m0,1.06v1.18m0,7.78v1.18m0,4.42v1.18m0,15.62v1.18m0,-0.06v1.18m0,-0.06v1.18m0,-0.06v1.18m0,2.18v1.18m0,11.14v1.18m0,14.50v1.18m0,4.42v1.18m0,4.42v1.18m0,5.54v1.18m0,13.38v1.18m0,-0.06v1.18m0,6.66v1.18m0,-0.06v1.18m0,1.06v1.18m0,4.42v1.18m0,-0.06v1.18m0,7.78v1.18m0,3.30v1.18M1282.35,899.72v1.18m0,-0.06v1.18m0,2.18v1.18m0,6.66v1.18m0,2.18v1.18m0,3.30v1.18m0,-0.06v1.18m0,4.42v1.18m0,5.54v1.18m0,4.42v1.18m0,13.38v1.18m0,3.30v1.18m0,1.06v1.18m0,2.18v1.18m0,-0.06v1.18m0,2.18v1.18m0,4.42v1.18m0,-0.06v1.18m0,1.06v1.18m0,2.18v1.18m0,11.14v1.18m0,8.90v1.18m0,36.90v1.18m0,3.30v1.18M1291.46,788.34v1.18m0,4.42v1.18m0,6.66v1.18m0,11.14v1.18m0,5.54v1.18m0,7.78v1.18m0,12.26v1.18m0,1.06v1.18m0,14.50v1.18m0,1.06v1.18m0,1.06v1.18m0,2.18v1.18m0,6.66v1.18m0,-0.06v1.18m0,11.14v0.20M1300.57,800.66v1.18m0,-0.06v1.18m0,12.26v1.18m0,2.18v1.18m0,24.58v1.18m0,-0.06v1.18m0,16.74v1.18m0,85.56v1.18M1309.68,805.14v1.18m0,4.42v1.18m0,11.14v1.18m0,2.18v1.18m0,13.38v1.18m0,43.62v1.18m0,50.84v1.18M1318.79,786.10v1.18m0,26.82v1.18m0,4.42v1.18m0,26.82v1.18m0,6.66v1.18m0,10.02v1.18m0,14.50v1.18M1327.91,795.06v1.18m0,5.54v1.18m0,4.42v1.18m0,14.50v1.18m0,1.06v1.18m0,-0.06v1.18m0,11.14v1.18m0,2.18v1.18m0,-0.06v1.18m0,16.74v1.18m0,3.30v1.18m0,-0.06v1.18m0,2.18v1.18m0,4.42v1.18m0,2.18v1.18m0,6.66v1.18M1337.02,790.58v1.18m0,2.18v1.18m0,-0.06v1.18m0,3.30v1.18m0,16.74v1.18m0,1.06v1.18m0,3.30v1.18m0,27.94v1.18m0,6.66v1.18m0,3.30v1.18m0,-0.06v1.18m0,2.18v1.18m0,12.26v1.18m0,-0.06v1.18m0,1.06v1.18m0,-0.06v1.18m0,-0.06v1.18m0,82.20v1.18M1346.13,789.46v1.18m0,-0.06v1.18m0,14.50v1.18m0,4.42v1.18m0,10.02v1.18m0,3.30v1.18m0,2.18v1.18m0,16.74v1.18m0,15.62v1.18m0,-0.06v1.18m0,4.42v1.18m0,1.06v1.18m0,13.38v1.18m0,27.32v1.18M1355.24,788.34v1.18m0,5.54v1.18m0,3.30v1.18m0,-0.06v1.18m0,11.14v1.18m0,4.42v1.18m0,10.02v1.18m0,11.14v1.18m0,4.42v1.18m0,2.18v1.18m0,10.02v1.18m0,-0.06v1.18m0,23.46v1.18M1364.35,808.50v1.18m0,1.06v1.18m0,-0.06v1.18m0,4.42v1.18m0,8.90v1.18m0,7.78v1.18m0,3.30v1.18m0,3.30v1.18m0,7.78v1.18m0,1.06v1.18m0,5.54v1.18m0,20.10v1.18m0,-0.06v1.18m0,40.76v1.18M1373.46,788.34v1.18m0,-0.06v1.18m0,20.10v1.18m0,6.66v1.18m0,2.18v1.18m0,3.30v1.18m0,2.18v1.18m0,23.46v1.18m0,10.02v1.18m0,-0.06v1.18m0,1.06v1.18m0,2.18v1.18m0,3.30v1.18m0,141.56v1.18M1382.58,789.46v1.18m0,-0.06v1.18m0,11.14v1.18m0,18.98v1.18m0,1.06v1.18m0,12.26v1.18m0,1.06v1.18m0,2.18v1.18m0,3.30v1.18m0,15.62v1.18m0,8.90v1.18m0,2.18v1.18m0,4.42v1.18m0,104.60v1.18m0,32.42v1.18m0,16.74v1.18M1391.69,789.46v1.18m0,8.90v1.18m0,24.58v1.18m0,4.42v1.18m0,11.14v1.18m0,4.42v1.18m0,-0.06v1.18m0,1.06v1.18m0,10.02v1.18m0,14.50v1.18m0,1.06v1.18m0,4.42v1.18m0,1.06v1.18m0,-0.06v0.20m0,83.18v1.18M1400.80,791.70v1.18m0,-0.06v1.18m0,3.30v1.18m0,3.30v1.18m0,6.66v1.18m0,4.42v1.18m0,29.06v1.18m0,16.74v1.18m0,5.54v1.18m0,13.38v1.18m0,3.30v1.18m0,20.60v1.18M1409.91,786.10v1.18m0,18.98v1.18m0,5.54v1.18m0,13.38v1.18m0,-0.06v1.18m0,21.22v1.18m0,8.90v1.18m0,13.38v1.18m0,2.18v1.18m0,68.76v1.18m0,22.34v1.18M1419.02,786.10v1.18m0,-0.06v1.18m0,25.70v1.18m0,8.90v1.18m0,1.06v1.18m0,29.06v1.18m0,5.54v1.18m0,3.30v1.18m0,1.06v1.18m0,1.06v1.18m0,2.18v1.18m0,3.30v1.18m0,-0.06v1.18m0,171.80v1.18M1428.13,788.34v1.18m0,-0.06v1.18m0,12.26v1.18m0,1.06v1.18m0,2.18v1.18m0,24.58v1.18m0,-0.06v1.18m0,3.30v1.18m0,-0.06v1.18m0,4.42v1.18m0,2.18v1.18m0,16.74v1.18m0,14.50v1.18m0,4.42v1.18M1437.24,787.22v1.18m0,23.46v1.18m0,10.02v1.18m0,17.86v1.18m0,11.14v1.18m0,1.06v1.18m0,15.62v1.18m0,15.62v0.20" stroke="#ADADD7" stroke-width="9.16" fill="none"/>
<path d="M1209.46,895.24v1.18m0,16.74v1.18m0,-0.06v1.18m0,4.42v1.18m0,2.18v1.18m0,-0.06v1.18m0,2.18v1.18m0,22.34v1.18m0,2.18v1.18m0,14.50v1.18m0,1.06v1.18m0,-0.06v1.18m0,4.42v1.18m0,2.18v1.18m0,3.30v1.18m0,4.42v1.18m0,1.06v1.18m0,1.06v1.18m0,53.70v1.18m0,1.06v1.18M1218.57,906.44v1.18m0,8.90v1.18m0,8.90v1.18m0,2.18v1.18m0,3.30v1.18m0,3.30v1.18m0,12.26v1.18m0,-0.06v1.18m0,-0.06v1.18m0,3.30v1.18m0,1.06v1.18m0,5.54v1.18m0,-0.06v1.18m0,-0.06v1.18m0,8.90v1.18m0,-0.06v1.18m0,2.18v1.18m0,1.06v1.18m0,3.30v1.18m0,-0.06v1.18m0,24.58v1.18m0,4.42v1.18m0,-0.06v1.18m0,1.06v1.18m0,26.82v1.18m0,-0.06v0.34M1227.68,937.80v1.18m0,10.02v1.18m0,1.06v1.18m0,-0.06v1.18m0,1.06v1.18m0,6.66v1.18m0,3.30v1.18m0,4.42v1.18m0,4.42v1.18m0,10.02v1.18m0,4.42v1.18m0,13.38v1.18m0,15.62v1.18m0,-0.06v1.18m0,2.18v1.18m0,4.42v1.18m0,2.18v1.18m0,14.50v1.18M1236.79,897.48v1.18m0,6.66v1.18m0,-0.06v1.18m0,-0.06v1.18m0,-0.06v1.18m0,1.06v1.18m0,4.42v1.18m0,-0.06v1.18m0,7.78v1.18m0,-0.06v1.18m0,6.66v1.18m0,3.30v1.18m0,4.42v1.18m0,-0.06v1.18m0,-0.06v1.18m0,-0.06v1.18m0,12.26v1.18m0,2.18v1.18m0,6.66v1.18m0,1.06v1.18m0,3.30v1.18m0,8.90v1.18m0,1.06v1.18m0,26.82v1.18m0,8.90v1.18m0,2.18v1.18m0,4.42v1.18m0,3.30v1.18m0,4.42v1.18M1245.90,898.60v1.18m0,4.42v1.18m0,-0.06v1.18m0,-0.06v1.18m0,4.42v1.18m0,3.30v1.18m0,5.54v1.18m0,21.22v1.18m0,8.90v1.18m0,2.18v1.18m0,7.78v1.18m0,8.90v1.18m0,1.06v1.18m0,11.14v1.18m0,17.86v1.18m0,2.18v1.18m0,-0.06v1.18m0,4.42v1.18m0,8.90v1.18m0,2.18v1.18m0,-0.06v1.18m0,5.54v1.18m0,3.30v1.18m0,6.66v1.18m0,-0.06v0.34M1255.01,893.00v1.18m0,13.38v1.18m0,-0.06v1.18m0,-0.06v1.18m0,4.42v1.18m0,1.06v1.18m0,4.42v1.18m0,1.06v1.18m0,-0.06v1.18m0,2.18v1.18m0,-0.06v1.18m0,8.90v1.18m0,22.34v1.18m0,7.78v1.18m0,4.42v1.18m0,4.42v1.18m0,1.06v1.18m0,1.06v1.18m0,5.54v1.18m0,-0.06v1.18m0,8.90v1.18m0,-0.06v1.18m0,-0.06v1.18m0,2.18v1.18m0,1.06v1.18m0,-0.06v1.18m0,1.06v1.18m0,-0.06v1.18m0,1.06v1.18m0,18.98v1.18m0,11.14v1.18M1264.12,899.72v1.18m0,14.50v1.18m0,6.66v1.18m0,18.98v1.18m0,12.26v1.18m0,-0.06v1.18m0,16.74v1.18m0,5.54v1.18m0,-0.06v1.18m0,2.18v1.18m0,1.06v1.18m0,1.06v1.18m0,-0.06v1.18m0,2.18v1.18m0,-0.06v1.18m0,11.14v1.18m0,24.58v1.18m0,2.18v1.18m0,1.06v1.18m0,2.18v1.18m0,-0.06v1.18m0,7.78v1.18M1273.24,900.84v1.18m0,-0.06v1.18m0,7.78v1.18m0,6.66v1.18m0,2.18v1.18m0,10.02v1.18m0,-0.06v1.18m0,-0.06v1.18m0,5.54v1.18m0,8.90v1.18m0,2.18v1.18m0,1.06v1.18m0,8.90v1.18m0,-0.06v1.18m0,1.06v1.18m0,5.54v1.18m0,3.30v1.18m0,4.42v1.18m0,-0.06v1.18m0,-0.06v1.18m0,4.42v1.18m0,3.30v1.18m0,23.46v1.18M1282.35,893.00v1.18m0,29.06v1.18m0,1.06v1.18m0,10.02v1.18m0,-0.06v1.18m0,11.14v1.18m0,1.06v1.18m0,13.38v1.18m0,11.14v1.18m0,1.06v1.18m0,-0.06v1.18m0,14.50v1.18m0,-0.06v1.18m0,4.42v1.18m0,-0.06v1.18m0,21.22v1.18m0,7.78v1.18m0,14.50v1.18M1291.46,790.58v1.18m0,-0.06v1.18m0,12.26v1.18m0,10.02v1.18m0,42.50v1.18m0,8.90v1.18m0,7.78v1.18m0,69.88v1.18M1300.57,789.46v1.18m0,4.42v1.18m0,3.30v1.18m0,3.30v1.18m0,6.66v1.18m0,-0.06v1.18m0,3.30v1.18m0,1.06v1.18m0,2.18v1.18m0,38.02v1.18m0,12.26v1.18m0,-0.06v1.18m0,75.48v1.18m0,18.98v1.18m0,49.22v1.18m0,15.62v1.18M1309.68,789.46v1.18m0,-0.06v1.18m0,3.30v1.18m0,-0.06v1.18m0,3.30v1.18m0,12.26v1.18m0,-0.06v1.18m0,4.42v1.18m0,10.02v1.18m0,4.42v1.18m0,11.14v1.18m0,8.90v1.18m0,8.90v1.18m0,1.06v1.18m0,1.06v1.18m0,13.38v1.18M1318.79,796.18v1.18m0,2.18v1.18m0,2.18v1.18m0,7.78v1.18m0,16.74v1.18m0,6.66v1.18m0,3.30v1.18m0,3.30v1.18m0,14.50v1.18m0,-0.06v1.18m0,22.34v1.18m0,92.28v1.18M1327.91,787.22v1.18m0,15.62v1.18m0,3.30v1.18m0,8.90v1.18m0,-0.06v1.18m0,3.30v1.18m0,11.14v1.18m0,2.18v1.18m0,-0.06v1.18m0,130.36v1.18m0,44.74v1.18M1337.02,797.30v1.18m0,17.86v1.18m0,16.74v1.18m0,3.30v1.18m0,8.90v1.18m0,4.42v1.18m0,-0.06v1.18m0,6.66v1.18m0,12.26v1.18m0,2.18v1.18m0,-0.06v1.18m0,7.78v0.20M1346.13,795.06v1.18m0,5.54v1.18m0,1.06v1.18m0,11.14v1.18m0,-0.06v1.18m0,5.54v1.18m0,1.06v1.18m0,2.18v1.18m0,16.74v1.18m0,12.26v1.18m0,1.06v1.18m0,3.30v1.18m0,21.22v0.20m0,26.06v1.18m0,20.10v1.18M1355.24,793.94v1.18m0,18.98v1.18m0,4.42v1.18m0,10.02v1.18m0,6.66v1.18m0,-0.06v1.18m0,7.78v1.18m0,2.18v1.18m0,-0.06v1.18m0,17.86v1.18m0,1.06v1.18m0,11.14v1.18m0,55.32v1.18M1364.35,787.22v1.18m0,4.42v1.18m0,2.18v1.18m0,10.02v1.18m0,11.14v1.18m0,-0.06v1.18m0,1.06v1.18m0,1.06v1.18m0,2.18v1.18m0,1.06v1.18m0,7.78v1.18m0,5.54v1.18m0,-0.06v1.18m0,1.06v1.18m0,7.78v1.18m0,12.26v1.18m0,1.06v1.18m0,5.54v1.18M1373.46,797.30v1.18m0,2.18v1.18m0,2.18v1.18m0,2.18v1.18m0,3.30v1.18m0,3.30v1.18m0,3.30v1.18m0,1.06v1.18m0,6.66v1.18m0,1.06v1.18m0,2.18v1.18m0,-0.06v1.18m0,3.30v1.18m0,5.54v1.18m0,13.38v1.18m0,10.02v1.18m0,-0.06v1.18m0,1.06v1.18m0,3.30v1.18M1382.58,786.10v1.18m0,1.06v1.18m0,8.90v1.18m0,16.74v1.18m0,-0.06v1.18m0,2.18v1.18m0,11.14v1.18m0,11.14v1.18m0,-0.06v1.18m0,2.18v1.18m0,1.06v1.18m0,-0.06v1.18m0,8.90v1.18m0,5.54v1.18m0,5.54v1.18m0,3.30v1.18M1391.69,790.58v1.18m0,1.06v1.18m0,4.42v1.18m0,7.78v1.18m0,3.30v1.18m0,7.78v1.18m0,1.06v1.18m0,3.30v1.18m0,3.30v1.18m0,1.06v1.18m0,20.10v1.18m0,2.18v1.18m0,-0.06v1.18m0,3.30v1.18m0,44.12v1.18M1400.80,800.66v1.18m0,2.18v1.18m0,2.18v1.18m0,5.54v1.18m0,8.90v1.18m0,12.26v1.18m0,13.38v1.18m0,-0.06v1.18m0,6.66v1.18m0,3.30v1.18m0,-0.06v1.18m0,12.26v1.18m0,1.06v1.18m0,-0.06v1.18m0,1.06v1.18m0,36.28v1.18M1409.91,801.78v1.18m0,1.06v1.18m0,26.82v1.18m0,22.34v1.18m0,3.30v1.18m0,5.54v1.18m0,18.98v1.18m0,102.36v1.18M1419.02,788.34v1.18m0,-0.06v1.18m0,-0.06v1.18m0,-0.06v1.18m0,4.42v1.18m0,-0.06v1.18m0,8.90v1.18m0,5.54v1.18m0,-0.06v1.18m0,13.38v1.18m0,7.78v1.18m0,3.30v1.18m0,1.06v1.18m0,2.18v1.18m0,-0.06v1.18m0,10.02v1.18m0,23.46v1.18m0,-0.06v1.18m0,101.24v1.18M1428.13,791.70v1.18m0,8.90v1.18m0,8.90v1.18m0,12.26v1.18m0,-0.06v1.18m0,2.18v1.18m0,14.50v1.18m0,6.66v1.18m0,-0.06v1.18m0,5.54v1.18m0,1.06v1.18m0,14.50v1.18m0,1.06v1.18m0,4.42v1.18m0,121.40v1.18M1437.24,788.34v1.18m0,-0.06v1.18m0,2.18v1.18m0,16.74v1.18m0,14.50v1.18m0,8.90v1.18m0,11.14v1.18m0,3.30v1.18m0,4.42v1.18m0,3.30v1.18m0,1.06v1.18m0,10.02v1.18m0,1.06v1.18m0,2.18v1.18m0,5.54v1.18m0,114.68v1.18m0,13.38v1.18" stroke="#C2C2E1" stroke-width="9.16" fill="none"/>
<path d="M1209.46,907.56v1.18m0,-0.06v1.18m0,12.26v1.18m0,18.98v1.18m0,2.18v1.18m0,3.30v1.18m0,1.06v1.18m0,22.34v1.18m0,11.14v1.18m0,1.06v1.18m0,29.06v1.18m0,11.14v1.18m0,5.54v1.18m0,-0.06v1.18m0,7.78v1.18m0,4.42v1.18M1218.57,900.84v1.18m0,2.18v1.18m0,2.18v1.18m0,12.26v1.18m0,1.06v1.18m0,15.62v1.18m0,-0.06v1.18m0,8.90v1.18m0,12.26v1.18m0,16.74v1.18m0,2.18v1.18m0,3.30v1.18m0,25.70v1.18m0,10.02v1.18m0,-0.06v1.18m0,-0.06v1.18m0,-0.06v1.18m0,-0.06v1.18m0,3.30v1.18m0,13.38v1.18M1227.68,907.56v1.18m0,2.18v1.18m0,27.94v1.18m0,-0.06v1.18m0,23.46v1.18m0,13.38v1.18m0,42.50v1.18m0,10.02v1.18M1236.79,792.82v1.18m0,100.12v1.18m0,14.50v1.18m0,2.18v1.18m0,4.42v1.18m0,14.50v1.18m0,8.90v1.18m0,5.54v1.18m0,-0.06v1.18m0,5.54v1.18m0,8.90v1.18m0,7.78v1.18m0,4.42v1.18m0,10.02v1.18m0,12.26v1.18m0,10.02v1.18m0,3.30v1.18m0,4.42v1.18m0,1.06v1.18M1245.90,901.96v1.18m0,7.78v1.18m0,1.06v1.18m0,16.74v1.18m0,12.26v1.18m0,3.30v1.18m0,18.98v1.18m0,1.06v1.18m0,3.30v1.18m0,-0.06v1.18m0,12.26v1.18m0,7.78v1.18m0,2.18v1.18m0,1.06v1.18m0,3.30v1.18m0,-0.06v1.18m0,1.06v1.18m0,-0.06v1.18m0,2.18v1.18m0,4.42v1.18m0,2.18v1.18m0,2.18v1.18m0,3.30v1.18m0,2.18v1.18m0,-0.06v1.18m0,2.18v1.18m0,6.66v1.18M1255.01,897.48v1.18m0,3.30v1.18m0,2.18v1.18m0,12.26v1.18m0,20.10v1.18m0,1.06v1.18m0,4.42v1.18m0,2.18v1.18m0,-0.06v1.18m0,3.30v1.18m0,8.90v1.18m0,3.30v1.18m0,4.42v1.18m0,2.18v1.18m0,6.66v1.18m0,2.18v1.18m0,21.22v1.18m0,2.18v1.18m0,4.42v1.18m0,-0.06v1.18m0,-0.06v1.18m0,4.42v1.18m0,7.78v1.18M1264.12,927.72v1.18m0,48.10v1.18m0,12.26v1.18m0,51.46v1.18M1273.24,894.12v1.18m0,8.90v1.18m0,25.70v1.18m0,5.54v1.18m0,15.62v1.18m0,7.78v1.18m0,5.54v1.18m0,7.78v1.18m0,5.54v1.18m0,4.42v1.18m0,2.18v1.18m0,8.90v1.18m0,10.02v1.18m0,2.18v1.18m0,13.38v1.18m0,10.02v1.18m0,2.18v1.18m0,3.30v1.18M1282.35,895.24v1.18m0,2.18v1.18m0,16.74v1.18m0,13.38v1.18m0,-0.06v1.18m0,35.78v1.18m0,1.06v1.18m0,35.78v1.18m0,-0.06v1.18m0,-0.06v1.18m0,1.06v1.18m0,11.14v1.18m0,4.42v1.18m0,1.06v1.18m0,-0.06v1.18m0,4.42v1.18m0,3.30v1.18m0,5.54v1.18m0,2.18v1.18M1291.46,786.10v1.18m0,15.62v1.18m0,13.38v1.18m0,6.66v1.18m0,5.54v1.18m0,1.06v1.18m0,8.90v1.18m0,7.78v1.18m0,7.78v1.18m0,1.06v1.18m0,15.62v1.18m0,4.42v1.18m0,16.12v1.18M1300.57,788.34v1.18m0,4.42v1.18m0,2.18v1.18m0,4.42v1.18m0,10.02v1.18m0,42.50v1.18m0,-0.06v1.18m0,18.98v1.18m0,2.18v1.18m0,2.18v1.18m0,23.96v1.18m0,12.26v1.18m0,30.18v1.18m0,5.54v1.18m0,27.94v1.18m0,35.78v1.18m0,5.54v1.18m0,2.18v1.18m0,4.42v1.18m0,-0.06v1.18M1309.68,786.10v1.18m0,6.66v1.18m0,8.90v1.18m0,20.10v1.18m0,2.18v1.18m0,1.06v1.18m0,2.18v1.18m0,4.42v1.18m0,13.38v1.18m0,2.18v1.18m0,2.18v1.18m0,2.18v1.18m0,5.54v1.18m0,82.20v1.18m0,17.86v1.18m0,30.18v1.18m0,10.02v1.18m0,21.22v1.18M1318.79,788.34v1.18m0,5.54v1.18m0,2.18v1.18m0,8.90v1.18m0,3.30v1.18m0,1.06v1.18m0,1.06v1.18m0,2.18v1.18m0,1.06v1.18m0,12.26v1.18m0,1.06v1.18m0,-0.06v1.18m0,-0.06v1.18m0,6.66v1.18m0,-0.06v1.18m0,24.58v1.18m0,-0.06v1.18m0,1.06v1.18m0,1.06v1.18m0,67.64v1.18m0,-0.06v1.18m0,35.78v1.18M1327.91,797.30v1.18m0,1.06v1.18m0,4.42v1.18m0,15.62v1.18m0,14.50v1.18m0,8.90v1.18m0,11.14v1.18m0,7.78v1.18m0,2.18v1.18m0,6.66v1.18m0,2.18v1.18m0,31.80v1.18m0,20.10v1.18m0,6.66v1.18m0,45.86v1.18m0,2.18v1.18M1337.02,821.94v1.18m0,44.74v1.18m0,5.54v1.18m0,165.08v1.18m0,12.26v1.18M1346.13,800.66v1.18m0,8.90v1.18m0,30.18v1.18m0,2.18v1.18m0,-0.06v1.18m0,5.54v1.18m0,1.06v1.18m0,14.50v1.18m0,8.90v1.18m0,1.06v1.18m0,1.06v1.18m0,96.76v1.18m0,15.62v1.18m0,30.18v1.18m0,20.10v1.18M1355.24,806.26v1.18m0,8.90v1.18m0,14.50v1.18m0,4.42v1.18m0,20.10v1.18m0,4.42v1.18m0,7.78v1.18m0,5.54v1.18m0,21.72v1.18m0,68.26v1.18M1364.35,795.06v1.18m0,4.42v1.18m0,3.30v1.18m0,15.62v1.18m0,3.30v1.18m0,6.66v1.18m0,3.30v1.18m0,2.18v1.18m0,40.26v1.18m0,69.88v1.18m0,83.94v1.18M1373.46,808.50v1.18m0,3.30v1.18m0,10.02v1.18m0,20.10v1.18m0,-0.06v1.18m0,3.30v1.18m0,1.06v1.18m0,3.30v1.18m0,3.30v1.18m0,4.42v1.18m0,4.42v1.18m0,4.42v1.18m0,-0.06v1.18m0,-0.06v1.18m0,2.18v1.18m0,21.72v1.18m0,22.34v1.18m0,70.50v1.18M1382.58,793.94v1.18m0,11.14v1.18m0,-0.06v1.18m0,5.54v1.18m0,16.74v1.18m0,2.18v1.18m0,-0.06v1.18m0,16.74v1.18m0,3.30v1.18m0,11.14v1.18m0,-0.06v1.18m0,-0.06v1.18m0,3.30v1.18m0,15.00v1.18m0,20.10v1.18m0,57.06v1.18M1391.69,791.70v1.18m0,10.02v1.18m0,10.02v1.18m0,3.30v1.18m0,4.42v1.18m0,35.78v1.18m0,8.90v1.18m0,100.12v1.18M1400.80,790.58v1.18m0,14.50v1.18m0,3.30v1.18m0,13.38v1.18m0,6.66v1.18m0,15.62v1.18m0,3.30v1.18m0,4.42v1.18m0,7.78v1.18m0,16.74v1.18m0,81.08v1.18m0,2.18v1.18m0,4.42v1.18m0,23.46v1.18M1409.91,789.46v1.18m0,-0.06v1.18m0,17.86v1.18m0,27.94v1.18m0,1.06v1.18m0,15.62v1.18m0,11.14v1.18m0,-0.06v1.18m0,10.02v1.18m0,54.20v1.18m0,13.38v1.18m0,64.90v1.18m0,-0.06v1.18M1419.02,805.14v1.18m0,1.06v1.18m0,18.98v1.18m0,3.30v1.18m0,3.30v1.18m0,4.42v1.18m0,2.18v1.18m0,18.98v1.18m0,2.18v1.18m0,20.10v0.20m0,61.90v1.18M1428.13,787.22v1.18m0,2.18v1.18m0,15.62v1.18m0,7.78v1.18m0,-0.06v1.18m0,29.06v1.18m0,-0.06v1.18m0,5.54v1.18m0,7.78v1.18m0,4.42v1.18m0,16.74v1.18m0,56.44v1.18m0,15.62v1.18M1437.24,793.94v1.18m0,2.18v1.18m0,7.78v1.18m0,2.18v1.18m0,11.14v1.18m0,2.18v1.18m0,5.54v1.18m0,6.66v1.18m0,2.18v1.18m0,6.66v1.18m0,3.30v1.18m0,3.30v1.18m0,7.78v1.18m0,10.02v1.18m0,125.88v1.18m0,1.06v1.18" stroke="#D6D6EB" stroke-width="9.16" fill="none"/>
<path d="M1209.46,897.48v1.18m0,135.46v1.18m0,7.78v1.18m0,-0.06v1.18M1218.57,917.64v1.18m0,-0.06v1.18m0,12.26v1.18m0,13.38v1.18m0,-0.06v1.18m0,1.06v1.18m0,8.90v1.18m0,11.14v1.18m0,-0.06v1.18m0,8.90v1.18m0,17.86v1.18m0,49.22v1.18M1227.68,938.92v1.18m0,16.74v1.18m0,32.42v1.18m0,1.06v1.18m0,-0.06v1.18m0,6.66v1.18m0,18.98v1.18m0,25.70v1.18m0,-0.06v1.18M1236.79,867.86v1.18m0,56.44v1.18m0,4.42v1.18m0,23.46v1.18m0,6.66v1.18m0,7.78v1.18m0,29.06v1.18m0,2.18v1.18m0,2.18v1.18m0,1.06v1.18M1245.90,897.48v1.18m0,8.90v1.18m0,1.06v1.18m0,4.42v1.18m0,55.94v1.18m0,1.06v1.18m0,27.94v1.18m0,20.10v1.18m0,4.42v1.18M1255.01,885.78v1.18m0,7.16v1.18m0,4.42v1.18m0,5.54v1.18m0,12.26v1.18m0,27.94v1.18m0,-0.06v1.18m0,2.18v1.18m0,-0.06v1.18m0,-0.06v1.18m0,1.06v1.18m0,3.30v1.18m0,-0.06v1.18m0,41.38v1.18m0,3.30v1.18m0,26.82v1.18m0,13.38v1.18M1264.12,926.60v1.18m0,42.50v1.18m0,7.78v1.18m0,36.90v1.18m0,21.22v1.18M1273.24,903.08v1.18m0,54.82v1.18m0,1.06v1.18m0,-0.06v1.18m0,40.26v1.18m0,44.74v1.18m0,-0.06v1.18m0,-0.06v1.18M1282.35,907.56v1.18m0,1.06v1.18m0,-0.06v1.18m0,15.62v1.18m0,-0.06v1.18m0,4.42v1.18m0,11.14v1.18m0,22.34v1.18m0,1.06v1.18m0,4.42v1.18m0,21.22v1.18m0,14.50v1.18m0,-0.06v1.18m0,23.46v1.18m0,4.42v1.18m0,7.78v0.34M1291.46,795.06v1.18m0,-0.06v1.18m0,8.90v1.18m0,4.42v1.18m0,6.66v1.18m0,3.30v1.18m0,5.54v1.18m0,3.30v1.18m0,1.06v1.18m0,45.86v1.18m0,-0.06v1.18m0,12.76v1.18m0,64.90v1.18m0,10.02v1.18m0,74.98v1.18M1300.57,790.58v1.18m0,-0.06v1.18m0,-0.06v1.18m0,2.18v1.18m0,1.06v1.18m0,24.58v1.18m0,3.30v1.18m0,-0.06v1.18m0,6.66v1.18m0,11.14v1.18m0,2.18v1.18m0,5.54v1.18m0,-0.06v1.18m0,4.42v1.18m0,1.06v1.18m0,2.18v1.18m0,19.48v1.18m0,2.18v1.18m0,20.10v1.18m0,-0.06v1.18m0,-0.06v1.18m0,20.10v1.18m0,1.06v1.18m0,4.42v1.18m0,2.18v1.18m0,14.50v1.18m0,1.06v1.18m0,5.54v1.18m0,2.18v1.18m0,7.78v1.18m0,3.30v1.18m0,16.74v1.18m0,-0.06v1.18m0,20.10v1.18m0,4.42v1.18m0,1.06v1.18m0,11.14v1.18M1309.68,787.22v1.18m0,48.10v1.18m0,11.14v1.18m0,2.18v1.18m0,5.54v1.18m0,3.30v1.18m0,8.90v1.18m0,5.54v1.18m0,67.64v1.18m0,-0.06v1.18m0,24.58v1.18m0,11.14v1.18m0,1.06v1.18m0,3.30v1.18m0,1.06v1.18m0,4.42v1.18m0,13.38v1.18m0,-0.06v1.18M1318.79,804.02v1.18m0,-0.06v1.18m0,24.58v1.18m0,1.06v1.18m0,-0.06v1.18m0,-0.06v1.18m0,16.74v1.18m0,5.54v1.18m0,29.06v0.20m0,14.86v1.18m0,4.42v1.18m0,15.62v1.18m0,71.62v1.18m0,30.18v1.18m0,2.18v1.18m0,3.30v1.18M1327.91,796.18v1.18m0,13.38v1.18m0,-0.06v1.18m0,-0.06v1.18m0,2.18v1.18m0,3.30v1.18m0,8.90v1.18m0,1.06v1.18m0,-0.06v1.18m0,10.02v1.18m0,-0.06v1.18m0,6.66v1.18m0,12.26v1.18m0,2.18v1.18m0,2.18v1.18m0,18.36v1.18m0,22.34v1.18m0,6.66v1.18m0,1.06v1.18m0,2.18v1.18m0,17.86v1.18m0,22.34v1.18m0,2.18v1.18m0,16.74v1.18m0,1.06v1.18m0,13.38v1.18m0,7.78v1.18m0,-0.06v1.18m0,14.50v1.18m0,10.02v1.18M1337.02,796.18v1.18m0,5.54v1.18m0,6.66v1.18m0,21.22v1.18m0,3.30v1.18m0,3.30v1.18m0,-0.06v1.18m0,20.10v1.18m0,30.68v1.18m0,40.26v1.18m0,11.14v1.18m0,20.10v1.18m0,7.78v1.18m0,57.06v1.18M1346.13,787.22v1.18m0,3.30v1.18m0,-0.06v1.18m0,4.42v1.18m0,-0.06v1.18m0,14.50v1.18m0,5.54v1.18m0,11.14v1.18m0,1.06v1.18m0,16.74v1.18m0,1.06v1.18m0,11.14v1.18m0,-0.06v1.18m0,23.96v1.18m0,-0.06v1.18m0,10.02v1.18m0,34.66v1.18m0,-0.06v1.18m0,6.66v1.18m0,4.42v1.18m0,39.14v1.18m0,16.74v1.18m0,2.18v1.18m0,2.18v1.18m0,13.38v1.18M1355.24,798.42v1.18m0,2.18v1.18m0,2.18v1.18m0,4.42v1.18m0,5.54v1.18m0,4.42v1.18m0,4.42v1.18m0,3.30v1.18m0,-0.06v1.18m0,-0.06v1.18m0,29.06v1.18m0,73.24v1.18m0,4.42v1.18m0,6.66v1.18m0,-0.06v1.18m0,17.86v1.18m0,13.38v1.18m0,13.38v1.18m0,15.62v1.18m0,10.02v1.18m0,5.54v1.18M1364.35,790.58v1.18m0,2.18v1.18m0,21.22v1.18m0,14.50v1.18m0,-0.06v1.18m0,14.50v1.18m0,5.54v1.18m0,4.42v1.18m0,6.66v1.18m0,67.64v1.18m0,61.54v1.18m0,17.86v1.18M1373.46,786.10v1.18m0,11.14v1.18m0,3.30v1.18m0,10.02v1.18m0,29.06v1.18m0,44.74v0.20m0,20.46v1.18m0,-0.06v1.18m0,2.18v1.18m0,13.38v1.18m0,15.62v1.18m0,5.54v1.18m0,32.42v1.18m0,20.10v1.18m0,8.90v1.18m0,3.30v1.18m0,7.78v1.18M1382.58,805.14v1.18m0,15.62v1.18m0,18.98v1.18m0,-0.06v1.18m0,3.30v1.18m0,7.78v1.18m0,2.18v1.18m0,3.30v1.18m0,1.06v1.18m0,22.34v0.20m0,30.54v1.18m0,5.54v1.18m0,8.90v1.18m0,8.90v1.18m0,33.54v1.18m0,16.74v1.18m0,20.10v1.18m0,2.18v1.18m0,7.78v1.18m0,3.30v1.18M1391.69,833.14v1.18m0,13.38v1.18m0,23.46v1.18m0,-0.06v1.18m0,-0.06v1.18M1400.80,786.10v1.18m0,2.18v1.18m0,27.94v1.18m0,-0.06v1.18m0,-0.06v1.18m0,4.42v1.18m0,8.90v1.18m0,10.02v1.18m0,-0.06v1.18m0,14.50v1.18m0,2.18v1.18m0,10.02v1.18m0,41.88v1.18m0,17.86v1.18m0,6.66v1.18m0,17.86v1.18m0,39.14v1.18m0,3.30v1.18m0,10.02v1.18m0,-0.06v1.18m0,12.26v1.18m0,-0.06v1.18m0,3.30v1.18M1409.91,791.70v1.18m0,4.42v1.18m0,1.06v1.18m0,4.42v1.18m0,2.18v1.18m0,2.18v1.18m0,2.18v1.18m0,3.30v1.18m0,23.46v1.18m0,2.18v1.18m0,-0.06v1.18m0,-0.06v1.18m0,5.54v1.18m0,22.34v1.18m0,-0.06v1.18m0,6.66v1.18m0,37.40v1.18m0,1.06v1.18m0,20.10v1.18m0,11.14v1.18m0,-0.06v1.18m0,21.22v1.18m0,-0.06v1.18m0,2.18v1.18m0,2.18v1.18m0,54.82v1.18M1419.02,796.18v1.18m0,8.90v1.18m0,35.78v1.18m0,3.30v1.18m0,4.42v1.18m0,6.66v1.18m0,26.82v1.18m0,29.56v1.18m0,52.58v1.18m0,43.62v1.18M1428.13,818.58v1.18m0,7.78v1.18m0,-0.06v1.18m0,2.18v1.18m0,3.30v1.18m0,-0.06v1.18m0,18.98v1.18m0,13.38v1.18m0,6.66v1.18m0,35.16v1.18m0,73.86v1.18m0,48.10v1.18M1437.24,807.38v1.18m0,18.98v1.18m0,1.06v1.18m0,3.30v1.18m0,12.26v1.18m0,12.26v1.18m0,5.54v1.18m0,3.30v1.18m0,7.78v1.18m0,2.18v1.18m0,59.80v1.18m0,-0.06v1.18m0,1.06v1.18m0,-0.06v1.18m0,4.42v1.18m0,8.90v1.18m0,11.14v1.18m0,23.46v1.18m0,17.86v1.18m0,11.14v1.18m0,-0.06v1.18" stroke="#EBEBF5" stroke-width="9.16" fill="none"/>
<path d="M1209.46,798.42v1.18m0,44.74v1.18M1218.57,791.70v1.18m0,35.78v1.18m0,119.16v1.18m0,83.94v1.18M1227.68,825.30v1.18M1236.79,797.30v1.18m0,6.66v1.18m0,18.98v1.18m0,5.54v1.18m0,-0.06v1.18m0,20.10v1.18m0,-0.06v1.18m0,12.26v1.18M1245.90,798.42v1.18m0,1.06v1.18m0,15.62v1.18m0,3.30v1.18m0,32.42v1.18m0,11.14v1.18m0,12.26v1.18m0,11.64v1.18m0,39.14v1.18m0,31.30v1.18m0,50.34v1.18m0,31.30v1.18M1255.01,814.10v1.18m0,20.10v1.18m0,2.18v1.18m0,3.30v1.18m0,-0.06v1.18m0,21.22v1.18m0,2.18v1.18m0,27.32v1.18m0,72.74v1.18m0,20.10v1.18m0,38.02v1.18M1264.12,985.96v1.18M1273.24,825.30v1.18m0,59.30v1.18m0,30.68v1.18M1282.35,789.46v1.18m0,70.50v1.18m0,-0.06v1.18m0,24.58v1.18m0,19.48v1.18m0,79.46v1.18m0,-0.06v1.18m0,-0.06v1.18M1291.46,812.98v1.18m0,18.98v1.18m0,36.90v1.18m0,15.62v1.18m0,21.72v1.18m0,33.54v1.18m0,-0.06v1.18m0,11.14v1.18m0,15.62v1.18m0,2.18v1.18m0,-0.06v1.18m0,-0.06v1.18m0,33.54v1.18M1300.57,805.14v1.18m0,1.06v1.18m0,-0.06v1.18m0,15.62v1.18m0,4.42v1.18m0,3.30v1.18m0,-0.06v1.18m0,14.50v1.18m0,1.06v1.18m0,15.62v1.18m0,1.06v1.18m0,5.54v1.18m0,-0.06v1.18m0,4.42v1.18m0,1.06v1.18m0,7.16v1.18m0,3.30v1.18m0,5.54v1.18m0,-0.06v1.18m0,2.18v1.18m0,2.18v1.18m0,7.78v1.18m0,8.90v1.18m0,2.18v1.18m0,20.10v1.18m0,7.78v1.18m0,1.06v1.18m0,-0.06v1.18m0,7.78v1.18m0,12.26v1.18m0,3.30v1.18m0,1.06v1.18m0,4.42v1.18m0,5.54v1.18m0,10.02v1.18m0,-0.06v1.18M1309.68,827.54v1.18m0,61.54v0.20m0,3.66v1.18m0,4.42v1.18m0,8.90v1.18m0,10.02v1.18m0,2.18v1.18m0,6.66v1.18m0,17.86v1.18m0,-0.06v1.18m0,-0.06v1.18m0,11.14v1.18m0,5.54v1.18m0,5.54v1.18m0,3.30v1.18m0,4.42v1.18m0,1.06v1.18m0,5.54v1.18m0,13.38v1.18m0,5.54v1.18m0,5.54v1.18m0,5.54v1.18m0,1.06v1.18m0,3.30v1.18m0,12.26v1.18m0,2.18v0.34M1318.79,790.58v1.18m0,26.82v1.18m0,7.78v1.18m0,15.62v1.18m0,8.90v1.18m0,16.74v1.18m0,1.06v1.18m0,4.42v1.18m0,13.88v1.18m0,2.18v1.18m0,3.30v1.18m0,5.54v1.18m0,1.06v1.18m0,13.38v1.18m0,2.18v1.18m0,-0.06v1.18m0,4.42v1.18m0,6.66v1.18m0,8.90v1.18m0,-0.06v1.18m0,26.82v1.18m0,23.46v1.18m0,-0.06v1.18m0,5.54v1.18m0,3.30v1.18m0,-0.06v1.18m0,7.78v1.18m0,1.06v1.18m0,20.10v1.18M1327.91,802.90v1.18m0,11.14v1.18m0,42.50v1.18m0,13.38v1.18m0,6.66v1.18m0,5.54v1.18m0,6.04v1.18m0,-0.06v1.18m0,8.90v1.18m0,4.42v1.18m0,1.06v1.18m0,7.78v1.18m0,5.54v1.18m0,1.06v1.18m0,6.66v1.18m0,5.54v1.18m0,1.06v1.18m0,4.42v1.18m0,1.06v1.18m0,7.78v1.18m0,2.18v1.18m0,-0.06v1.18m0,-0.06v1.18m0,3.30v1.18m0,12.26v1.18m0,1.06v1.18m0,10.02v1.18m0,3.30v1.18m0,6.66v1.18m0,6.66v1.18m0,-0.06v1.18m0,2.18v1.18m0,1.06v1.18m0,1.06v1.18m0,-0.06v1.18m0,-0.06v1.18m0,-0.06v1.18m0,-0.06v1.18m0,4.42v1.18m0,-0.06v1.18M1337.02,826.42v1.18m0,29.06v1.18m0,49.72v1.18m0,22.34v1.18m0,3.30v1.18m0,4.42v1.18m0,11.14v1.18m0,11.14v1.18m0,-0.06v1.18m0,5.54v1.18m0,2.18v1.18m0,4.42v1.18m0,6.66v1.18m0,6.66v1.18m0,4.42v1.18m0,32.42v1.18M1346.13,786.10v1.18m0,50.34v1.18m0,2.18v1.18m0,1.06v1.18m0,-0.06v1.18m0,13.38v1.18m0,-0.06v1.18m0,25.70v1.18m0,27.32v1.18m0,7.78v1.18m0,3.30v1.18m0,2.18v1.18m0,30.18v1.18m0,1.06v1.18m0,6.66v1.18m0,3.30v1.18m0,12.26v1.18m0,3.30v1.18m0,16.74v1.18m0,3.30v1.18m0,34.66v1.18M1355.24,827.54v1.18m0,41.38v1.18m0,7.78v1.18m0,12.76v1.18m0,2.18v1.18m0,2.18v1.18m0,21.22v1.18m0,-0.06v1.18m0,3.30v1.18m0,4.42v1.18m0,3.30v1.18m0,7.78v1.18m0,2.18v1.18m0,6.66v1.18m0,-0.06v1.18m0,-0.06v1.18m0,5.54v1.18m0,-0.06v1.18m0,1.06v1.18m0,3.30v1.18m0,1.06v1.18m0,1.06v1.18m0,5.54v1.18m0,16.74v1.18m0,15.62v1.18m0,1.06v1.18m0,7.78v1.18m0,3.30v1.18m0,1.06v1.18m0,13.38v1.18m0,-0.06v1.18m0,-0.06v1.18M1364.35,789.46v1.18m0,11.14v1.18m0,64.90v1.18m0,1.06v1.18m0,2.18v1.18m0,19.48v1.18m0,20.10v1.18m0,26.82v1.18m0,4.42v1.18m0,5.54v1.18m0,-0.06v1.18m0,11.14v1.18m0,26.82v1.18m0,1.06v1.18m0,15.62v1.18m0,13.38v1.18m0,3.30v1.18m0,18.98v1.18M1373.46,799.54v1.18m0,31.30v1.18m0,2.18v1.18m0,18.98v1.18m0,7.78v1.18m0,23.46v1.18m0,22.84v1.18m0,23.46v1.18m0,5.54v1.18m0,3.30v1.18m0,2.18v1.18m0,13.38v1.18m0,6.66v1.18m0,3.30v1.18m0,5.54v1.18m0,20.10v1.18m0,7.78v1.18m0,6.66v1.18m0,14.50v1.18m0,1.06v1.18m0,12.26v1.18M1382.58,799.54v1.18m0,-0.06v1.18m0,95.64v1.18m0,14.50v1.18m0,-0.06v1.18m0,1.06v1.18m0,7.78v1.18m0,-0.06v1.18m0,1.06v1.18m0,13.38v1.18m0,7.78v1.18m0,12.26v1.18m0,4.42v1.18m0,3.30v1.18m0,4.42v1.18m0,10.02v1.18m0,4.42v1.18m0,-0.06v1.18m0,18.98v1.18m0,26.82v1.18m0,-0.06v1.18m0,4.42v1.18M1391.69,786.10v1.18m0,17.86v1.18m0,118.04v1.18m0,-0.06v1.18m0,36.90v1.18m0,-0.06v1.18m0,12.26v1.18m0,6.66v1.18m0,2.18v1.18m0,-0.06v1.18m0,1.06v1.18m0,30.18v1.18m0,6.66v1.18m0,1.06v1.18m0,3.30v1.18M1400.80,798.42v1.18m0,17.86v1.18m0,11.14v1.18m0,3.30v1.18m0,5.54v1.18m0,50.84v1.18m0,6.66v1.18m0,6.66v1.18m0,7.78v1.18m0,1.06v1.18m0,3.30v1.18m0,12.26v1.18m0,1.06v1.18m0,2.18v1.18m0,-0.06v1.18m0,4.42v1.18m0,2.18v1.18m0,2.18v1.18m0,13.38v1.18m0,2.18v1.18m0,4.42v1.18m0,5.54v1.18m0,2.18v1.18m0,-0.06v1.18m0,3.30v1.18m0,4.42v1.18m0,1.06v1.18m0,-0.06v1.18m0,3.30v1.18m0,1.06v1.18m0,6.66v1.18m0,-0.06v1.18m0,-0.06v1.18m0,-0.06v1.18m0,17.86v1.18m0,2.18v1.18m0,-0.06v1.18m0,3.30v1.18m0,1.06v1.18M1409.91,792.82v1.18m0,1.06v1.18m0,14.50v1.18m0,2.18v1.18m0,10.02v1.18m0,8.90v1.18m0,1.06v1.18m0,7.78v1.18m0,6.66v1.18m0,6.66v1.18m0,4.42v1.18m0,5.54v1.18m0,7.78v1.18m0,1.06v1.18m0,16.12v1.18m0,8.90v1.18m0,3.30v1.18m0,-0.06v1.18m0,-0.06v1.18m0,2.18v1.18m0,6.66v1.18m0,3.30v1.18m0,11.14v1.18m0,1.06v1.18m0,15.62v1.18m0,2.18v1.18m0,3.30v1.18m0,-0.06v1.18m0,5.54v1.18m0,-0.06v1.18m0,15.62v1.18m0,-0.06v1.18m0,1.06v1.18m0,2.18v1.18m0,-0.06v1.18m0,-0.06v1.18m0,1.06v1.18m0,21.22v1.18m0,2.18v1.18m0,-0.06v1.18m0,2.18v1.18m0,2.18v1.18m0,-0.06v1.18m0,5.54v1.18M1419.02,812.98v1.18m0,90.04v1.18m0,-0.06v1.18m0,11.14v1.18m0,2.18v1.18m0,-0.06v1.18m0,-0.06v1.18m0,10.02v1.18m0,4.42v1.18m0,-0.06v1.18m0,12.26v1.18m0,4.42v1.18m0,-0.06v1.18m0,3.30v1.18m0,-0.06v1.18m0,13.38v1.18m0,8.90v1.18m0,-0.06v1.18m0,-0.06v1.18m0,13.38v1.18m0,5.54v1.18m0,6.66v1.18m0,10.02v1.18M1428.13,799.54v1.18m0,-0.06v1.18m0,13.38v1.18m0,22.34v1.18m0,18.98v1.18m0,14.50v1.18m0,-0.06v1.18m0,46.36v1.18m0,2.18v1.18m0,-0.06v1.18m0,12.26v1.18m0,7.78v1.18m0,2.18v1.18m0,21.22v1.18m0,4.42v1.18m0,4.42v1.18m0,7.78v1.18m0,10.02v1.18m0,8.90v1.18m0,13.38v1.18m0,4.42v1.18M1437.24,817.46v1.18m0,10.02v1.18m0,8.90v1.18m0,24.58v1.18m0,5.54v1.18m0,15.62v1.18m0,18.36v1.18m0,2.18v1.18m0,7.78v1.18m0,7.78v1.18m0,1.06v1.18m0,10.02v1.18m0,7.78v1.18m0,2.18v1.18m0,17.86v1.18m0,4.42v1.18m0,2.18v1.18m0,2.18v1.18m0,1.06v1.18m0,6.66v1.18m0,3.30v1.18m0,8.90v1.18m0,1.06v1.18m0,13.38v1.18m0,3.30v1.18m0,3.30v1.18m0,2.18v1.18" stroke="#FEF1EC" stroke-width="9.16" fill="none"/>
<path d="M1209.46,799.54v1.18m0,4.42v1.18m0,61.54v1.18M1218.57,788.34v1.18m0,-0.06v1.18m0,3.30v1.18m0,16.74v1.18m0,51.46v1.18M1227.68,816.34v1.18m0,6.66v1.18m0,6.66v1.18m0,-0.06v1.18M1236.79,791.70v1.18m0,13.38v1.18m0,8.90v1.18m0,2.18v1.18m0,10.02v1.18m0,2.18v1.18m0,16.74v1.18m0,8.90v1.18m0,2.18v1.18m0,3.30v1.18M1245.90,796.18v1.18m0,4.42v1.18m0,-0.06v1.18m0,-0.06v1.18m0,6.66v1.18m0,1.06v1.18m0,3.30v1.18m0,5.54v1.18m0,1.06v1.18m0,1.06v1.18m0,3.30v1.18m0,-0.06v1.18m0,-0.06v1.18m0,11.14v1.18m0,14.50v1.18m0,3.30v1.18m0,-0.06v1.18m0,8.90v1.18m0,2.18v1.18m0,102.36v1.18M1255.01,796.18v1.18m0,1.06v1.18m0,1.06v1.18m0,8.90v1.18m0,-0.06v1.18m0,4.42v1.18m0,3.30v1.18m0,11.14v1.18m0,12.26v1.18m0,-0.06v1.18m0,5.54v1.18m0,4.42v1.18m0,5.54v1.18m0,2.18v1.18m0,-0.06v1.18m0,-0.06v1.18m0,5.54v1.18m0,2.18v1.18m0,3.30v1.18M1264.12,817.46v1.18m0,49.22v1.18M1273.24,811.86v1.18m0,54.82v1.18m0,-0.06v1.18m0,13.38v1.18M1282.35,798.42v1.18m0,12.26v1.18m0,26.82v1.18m0,1.06v1.18m0,1.06v1.18m0,10.02v1.18m0,-0.06v1.18m0,11.14v1.18m0,3.30v1.18m0,8.90v1.18m0,-0.06v1.18M1291.46,880.18v1.18m0,15.00v1.18m0,-0.06v1.18m0,17.86v1.18m0,-0.06v1.18m0,29.06v1.18m0,3.30v1.18m0,-0.06v1.18m0,-0.06v1.18m0,4.42v1.18m0,8.90v1.18m0,2.18v1.18m0,-0.06v1.18m0,10.02v1.18m0,5.54v1.18m0,-0.06v1.18m0,5.54v1.18m0,4.42v1.18m0,-0.06v1.18m0,4.42v1.18m0,40.26v1.18M1300.57,786.10v1.18m0,22.34v1.18m0,-0.06v1.18m0,15.62v1.18m0,5.54v1.18m0,4.42v1.18m0,1.06v1.18m0,26.82v1.18m0,13.38v1.18m0,12.76v1.18m0,-0.06v1.18m0,3.30v1.18m0,8.90v1.18m0,-0.06v1.18m0,4.42v1.18m0,7.78v1.18m0,5.54v1.18m0,6.66v1.18m0,-0.06v1.18m0,-0.06v1.18m0,8.90v1.18m0,3.30v1.18m0,4.42v1.18m0,6.66v1.18m0,-0.06v1.18m0,2.18v1.18m0,16.74v1.18m0,2.18v1.18m0,15.62v1.18m0,-0.06v1.18m0,2.18v1.18m0,6.66v1.18m0,2.18v1.18m0,13.38v1.18m0,1.06v1.18m0,4.42v1.18M1309.68,801.78v1.18m0,78.34v1.18m0,13.88v1.18m0,-0.06v1.18m0,13.38v1.18m0,6.66v1.18m0,2.18v1.18m0,2.18v1.18m0,-0.06v1.18m0,4.42v1.18m0,-0.06v1.18m0,4.42v1.18m0,-0.06v1.18m0,1.06v1.18m0,11.14v1.18m0,-0.06v1.18m0,8.90v1.18m0,1.06v1.18m0,-0.06v1.18m0,21.22v1.18m0,-0.06v1.18m0,6.66v1.18m0,3.30v1.18m0,21.22v1.18m0,-0.06v1.18m0,6.66v1.18m0,3.30v1.18m0,12.26v1.18M1318.79,801.78v1.18m0,18.98v1.18m0,2.18v1.18m0,2.18v1.18m0,21.22v1.18m0,12.26v1.18m0,5.54v1.18m0,20.60v1.18m0,2.18v1.18m0,2.18v1.18m0,13.38v1.18m0,17.86v1.18m0,11.14v1.18m0,13.38v1.18m0,3.30v1.18m0,-0.06v1.18m0,-0.06v1.18m0,5.54v1.18m0,-0.06v1.18m0,6.66v1.18m0,1.06v1.18m0,1.06v1.18m0,1.06v1.18m0,-0.06v1.18m0,-0.06v1.18m0,5.54v1.18m0,4.42v1.18m0,1.06v1.18m0,-0.06v1.18m0,3.30v1.18m0,6.66v1.18m0,3.30v1.18m0,4.42v1.18m0,5.54v1.18m0,-0.06v1.18m0,4.42v1.18M1327.91,786.10v1.18m0,3.30v1.18m0,6.66v1.18m0,35.78v1.18m0,12.26v1.18m0,5.54v1.18m0,25.70v1.18m0,9.40v1.18m0,14.50v1.18m0,8.90v1.18m0,-0.06v1.18m0,12.26v1.18m0,-0.06v1.18m0,-0.06v1.18m0,2.18v1.18m0,4.42v1.18m0,6.66v1.18m0,21.22v1.18m0,4.42v1.18m0,1.06v1.18m0,-0.06v1.18m0,8.90v1.18m0,4.42v1.18m0,16.74v1.18m0,7.78v1.18m0,11.14v1.18m0,10.02v1.18m0,-0.06v1.18M1337.02,832.02v1.18m0,64.28v1.18m0,1.06v1.18m0,-0.06v1.18m0,6.66v1.18m0,7.78v1.18m0,2.18v1.18m0,12.26v1.18m0,3.30v1.18m0,7.78v1.18m0,2.18v1.18m0,2.18v1.18m0,7.78v1.18m0,10.02v1.18m0,13.38v1.18m0,16.74v1.18m0,6.66v1.18m0,14.50v1.18m0,-0.06v1.18m0,8.90v1.18M1346.13,812.98v1.18m0,4.42v1.18m0,12.26v1.18m0,-0.06v1.18m0,4.42v1.18m0,17.86v1.18m0,44.12v1.18m0,1.06v1.18m0,2.18v1.18m0,1.06v1.18m0,2.18v1.18m0,7.78v1.18m0,1.06v1.18m0,-0.06v1.18m0,-0.06v1.18m0,4.42v1.18m0,11.14v1.18m0,3.30v1.18m0,-0.06v1.18m0,2.18v1.18m0,-0.06v1.18m0,-0.06v1.18m0,1.06v1.18m0,6.66v1.18m0,-0.06v1.18m0,7.78v1.18m0,2.18v1.18m0,-0.06v1.18m0,-0.06v1.18m0,2.18v1.18m0,1.06v1.18m0,20.10v1.18m0,2.18v1.18m0,7.78v1.18m0,7.78v1.18m0,2.18v1.18m0,3.30v1.18m0,6.66v1.18M1355.24,894.12v1.18m0,-0.06v1.18m0,17.86v1.18m0,1.06v1.18m0,-0.06v1.18m0,-0.06v1.18m0,1.06v1.18m0,2.18v1.18m0,-0.06v1.18m0,-0.06v1.18m0,1.06v1.18m0,1.06v1.18m0,10.02v1.18m0,1.06v1.18m0,2.18v1.18m0,3.30v1.18m0,22.34v1.18m0,10.02v1.18m0,5.54v1.18m0,-0.06v1.18m0,3.30v1.18m0,1.06v1.18m0,3.30v1.18m0,1.06v1.18m0,-0.06v1.18m0,7.78v1.18m0,4.42v1.18m0,-0.06v1.18m0,3.30v1.18m0,2.18v1.18m0,-0.06v1.18m0,4.42v1.18m0,1.06v1.18m0,1.06v1.18m0,1.06v1.18m0,-0.06v1.18M1364.35,888.02v1.18m0,12.76v1.18m0,3.30v1.18m0,16.74v1.18m0,15.62v1.18m0,-0.06v1.18m0,3.30v1.18m0,15.62v1.18m0,-0.06v1.18m0,4.42v1.18m0,2.18v1.18m0,5.54v1.18m0,4.42v1.18m0,-0.06v1.18m0,-0.06v1.18m0,-0.06v1.18m0,7.78v1.18m0,7.78v1.18m0,13.38v1.18m0,1.06v1.18m0,6.66v1.18m0,7.78v1.18M1373.46,886.90v1.18m0,6.04v1.18m0,6.66v1.18m0,22.34v1.18m0,1.06v1.18m0,-0.06v1.18m0,2.18v1.18m0,-0.06v1.18m0,5.54v1.18m0,6.66v1.18m0,1.06v1.18m0,4.42v1.18m0,-0.06v1.18m0,2.18v1.18m0,1.06v1.18m0,4.42v1.18m0,-0.06v1.18m0,3.30v1.18m0,3.30v1.18m0,11.14v1.18m0,6.66v1.18m0,2.18v1.18m0,1.06v1.18m0,16.74v1.18m0,10.02v1.18m0,-0.06v1.18m0,16.74v1.18m0,3.30v0.34M1382.58,791.70v1.18m0,15.62v1.18m0,58.18v1.18m0,23.96v1.18m0,10.02v1.18m0,1.06v1.18m0,4.42v1.18m0,10.02v1.18m0,-0.06v1.18m0,6.66v1.18m0,-0.06v1.18m0,-0.06v1.18m0,10.02v1.18m0,-0.06v1.18m0,1.06v1.18m0,5.54v1.18m0,-0.06v1.18m0,2.18v1.18m0,16.74v1.18m0,14.50v1.18m0,6.66v1.18m0,6.66v1.18m0,4.42v1.18m0,-0.06v1.18m0,3.30v1.18m0,8.90v1.18m0,-0.06v1.18m0,3.30v1.18m0,13.38v1.18M1391.69,905.32v1.18m0,1.06v1.18m0,8.90v1.18m0,8.90v1.18m0,1.06v1.18m0,6.66v1.18m0,-0.06v1.18m0,8.90v1.18m0,26.82v1.18m0,2.18v1.18m0,-0.06v1.18m0,4.42v1.18m0,14.50v1.18m0,-0.06v1.18m0,10.02v1.18m0,-0.06v1.18m0,-0.06v1.18m0,11.14v1.18M1400.80,799.54v1.18m0,38.02v1.18m0,6.66v1.18m0,40.26v1.18m0,17.24v1.18m0,8.90v1.18m0,1.06v1.18m0,5.54v1.18m0,1.06v1.18m0,2.18v1.18m0,3.30v1.18m0,10.02v1.18m0,-0.06v1.18m0,2.18v1.18m0,6.66v1.18m0,6.66v1.18m0,7.78v1.18m0,5.54v1.18m0,1.06v1.18m0,6.66v1.18m0,-0.06v1.18m0,3.30v1.18m0,7.78v1.18m0,2.18v1.18m0,2.18v1.18m0,12.26v1.18m0,14.50v1.18m0,4.42v1.18m0,-0.06v1.18M1409.91,796.18v1.18m0,39.14v1.18m0,5.54v1.18m0,8.90v1.18m0,10.02v1.18m0,3.30v1.18m0,3.30v1.18m0,3.30v1.18m0,11.14v0.20m0,4.78v1.18m0,-0.06v1.18m0,-0.06v1.18m0,1.06v1.18m0,-0.06v1.18m0,3.30v1.18m0,2.18v1.18m0,-0.06v1.18m0,3.30v1.18m0,1.06v1.18m0,11.14v1.18m0,8.90v1.18m0,-0.06v1.18m0,5.54v1.18m0,5.54v1.18m0,-0.06v1.18m0,-0.06v1.18m0,5.54v1.18m0,2.18v1.18m0,13.38v1.18m0,4.42v1.18m0,2.18v1.18m0,5.54v1.18m0,15.62v1.18m0,3.30v1.18m0,4.42v1.18m0,7.78v1.18m0,3.30v1.18m0,3.30v1.18m0,5.54v1.18m0,7.78v0.34M1419.02,848.82v1.18m0,49.72v1.18m0,1.06v1.18m0,10.02v1.18m0,2.18v1.18m0,7.78v1.18m0,5.54v1.18m0,-0.06v1.18m0,1.06v1.18m0,8.90v1.18m0,8.90v1.18m0,6.66v1.18m0,-0.06v1.18m0,29.06v1.18m0,6.66v1.18m0,6.66v1.18m0,5.54v1.18m0,20.10v1.18m0,-0.06v1.18m0,1.06v1.18m0,3.30v1.18M1428.13,893.00v1.18m0,2.18v1.18m0,2.18v1.18m0,11.14v1.18m0,-0.06v1.18m0,-0.06v1.18m0,2.18v1.18m0,3.30v1.18m0,1.06v1.18m0,-0.06v1.18m0,7.78v1.18m0,-0.06v1.18m0,2.18v1.18m0,-0.06v1.18m0,5.54v1.18m0,12.26v1.18m0,4.42v1.18m0,-0.06v1.18m0,4.42v1.18m0,-0.06v1.18m0,5.54v1.18m0,1.06v1.18m0,6.66v1.18m0,1.06v1.18m0,1.06v1.18m0,12.26v1.18m0,5.54v1.18m0,-0.06v1.18m0,4.42v1.18m0,-0.06v1.18m0,6.66v1.18m0,7.78v1.18m0,11.14v1.18m0,-0.06v1.18M1437.24,830.90v1.18m0,51.46v1.18m0,1.06v1.18m0,9.40v1.18m0,4.42v1.18m0,3.30v1.18m0,10.02v1.18m0,6.66v1.18m0,1.06v1.18m0,5.54v1.18m0,7.78v1.18m0,7.78v1.18m0,-0.06v1.18m0,10.02v1.18m0,2.18v1.18m0,17.86v1.18m0,2.18v1.18m0,-0.06v1.18m0,11.14v1.18m0,6.66v1.18m0,3.30v1.18m0,-0.06v1.18m0,2.18v1.18m0,3.30v1.18m0,4.42v1.18m0,6.66v1.18m0,4.42v1.18m0,2.18v1.18m0,2.18v1.18m0,-0.06v1.18m0,-0.06v1.18" stroke="#FDE2D8" stroke-width="9.16" fill="none"/>
<path d="M1209.46,787.22v1.18m0,23.46v1.18m0,7.78v1.18m0,10.02v1.18m0,49.22v1.18m0,3.30v1.18m0,-0.06v1.18m0,-0.06v1.18m0,-0.06v0.20M1218.57,790.58v1.18m0,1.06v1.18m0,2.18v1.18m0,1.06v1.18m0,-0.06v1.18m0,10.02v1.18m0,1.06v1.18m0,-0.06v1.18m0,2.18v1.18m0,11.14v1.18m0,4.42v1.18m0,5.54v1.18m0,-0.06v1.18m0,3.30v1.18m0,1.06v1.18m0,5.54v1.18m0,-0.06v1.18m0,4.42v1.18m0,1.06v1.18m0,14.50v1.18m0,3.30v1.18m0,1.06v1.18M1227.68,790.58v1.18m0,34.66v1.18m0,1.06v1.18m0,25.70v1.18M1236.79,786.10v1.18m0,3.30v1.18m0,11.14v1.18m0,-0.06v1.18m0,2.18v1.18m0,10.02v1.18m0,1.06v1.18m0,-0.06v1.18m0,-0.06v1.18m0,11.14v1.18m0,2.18v1.18m0,7.78v1.18m0,1.06v1.18m0,-0.06v1.18m0,1.06v1.18m0,2.18v1.18m0,-0.06v1.18m0,-0.06v1.18m0,-0.06v1.18m0,-0.06v1.18m0,4.42v1.18m0,13.38v1.18M1245.90,786.10v1.18m0,7.78v1.18m0,1.06v1.18m0,6.66v1.18m0,4.42v1.18m0,3.30v1.18m0,-0.06v1.18m0,3.30v1.18m0,1.06v1.18m0,2.18v1.18m0,3.30v1.18m0,-0.06v1.18m0,8.90v1.18m0,4.42v1.18m0,1.06v1.18m0,-0.06v1.18m0,6.66v1.18m0,3.30v1.18m0,1.06v1.18m0,4.42v1.18m0,2.18v1.18m0,1.06v1.18m0,4.42v1.18m0,1.06v1.18M1255.01,786.10v1.18m0,1.06v1.18m0,-0.06v1.18m0,3.30v1.18m0,4.42v1.18m0,4.42v1.18m0,3.30v1.18m0,7.78v1.18m0,6.66v1.18m0,1.06v1.18m0,1.06v1.18m0,-0.06v1.18m0,-0.06v1.18m0,3.30v1.18m0,1.06v1.18m0,1.06v1.18m0,2.18v1.18m0,6.66v1.18m0,2.18v1.18m0,2.18v1.18m0,1.06v1.18m0,2.18v1.18m0,12.26v1.18m0,6.66v1.18m0,1.06v1.18M1264.12,789.46v1.18m0,20.10v1.18m0,4.42v1.18m0,7.78v1.18m0,5.54v1.18m0,35.78v1.18m0,13.38v1.18M1273.24,792.82v1.18m0,20.10v1.18m0,-0.06v1.18m0,10.02v1.18m0,4.42v1.18m0,-0.06v1.18m0,-0.06v1.18m0,2.18v1.18m0,16.74v1.18m0,3.30v1.18m0,-0.06v1.18m0,2.18v1.18m0,6.66v1.18m0,-0.06v1.18m0,-0.06v1.18m0,3.30v1.18m0,1.06v1.18m0,2.18v1.18m0,1.06v1.18m0,-0.06v1.18M1282.35,788.34v1.18m0,21.22v1.18m0,4.42v1.18m0,2.18v1.18m0,7.78v1.18m0,-0.06v1.18m0,1.06v1.18m0,-0.06v1.18m0,4.42v1.18m0,1.06v1.18m0,1.06v1.18m0,13.38v1.18m0,1.06v1.18m0,6.66v1.18m0,1.06v1.18m0,-0.06v1.18m0,-0.06v1.18m0,1.06v1.18M1291.46,900.84v1.18m0,6.66v1.18m0,-0.06v1.18m0,2.18v1.18m0,5.54v1.18m0,20.10v1.18m0,1.06v1.18m0,17.86v1.18m0,1.06v1.18m0,1.06v1.18m0,-0.06v1.18m0,-0.06v1.18m0,2.18v1.18m0,10.02v1.18m0,-0.06v1.18m0,2.18v1.18m0,18.98v1.18m0,4.42v1.18m0,2.18v1.18m0,-0.06v1.18m0,-0.06v1.18m0,8.90v1.18M1300.57,826.42v1.18m0,4.42v1.18m0,-0.06v1.18m0,22.34v1.18m0,36.28v1.18m0,7.78v1.18m0,17.86v1.18m0,-0.06v1.18m0,6.66v1.18m0,-0.06v1.18m0,-0.06v1.18m0,3.30v1.18m0,8.90v1.18m0,38.02v1.18m0,10.02v1.18m0,3.30v1.18m0,2.18v1.18m0,2.18v1.18m0,-0.06v1.18m0,3.30v1.18m0,-0.06v1.18m0,2.18v1.18m0,15.62v1.18M1309.68,855.54v1.18m0,41.88v1.18m0,1.06v1.18m0,-0.06v1.18m0,-0.06v1.18m0,1.06v1.18m0,2.18v1.18m0,3.30v1.18m0,-0.06v1.18m0,10.02v1.18m0,3.30v1.18m0,4.42v1.18m0,-0.06v1.18m0,1.06v1.18m0,4.42v1.18m0,-0.06v1.18m0,1.06v1.18m0,8.90v1.18m0,4.42v1.18m0,6.66v1.18m0,8.90v1.18m0,2.18v1.18m0,-0.06v1.18m0,-0.06v1.18m0,11.14v1.18m0,3.30v1.18m0,3.30v1.18m0,-0.06v1.18m0,-0.06v1.18m0,3.30v1.18m0,7.78v1.18m0,15.62v1.18m0,7.78v1.18m0,-0.06v1.18m0,-0.06v1.18M1318.79,852.18v1.18m0,5.54v1.18m0,8.90v1.18m0,-0.06v1.18m0,29.56v1.18m0,14.50v1.18m0,-0.06v1.18m0,6.66v1.18m0,7.78v1.18m0,3.30v1.18m0,2.18v1.18m0,17.86v1.18m0,50.34v1.18m0,4.42v1.18m0,5.54v1.18m0,7.78v1.18m0,6.66v1.18m0,1.06v1.18m0,6.66v1.18M1327.91,789.46v1.18m0,23.46v1.18m0,13.38v1.18m0,20.10v1.18m0,6.66v1.18m0,38.52v1.18m0,-0.06v1.18m0,1.06v1.18m0,3.30v1.18m0,8.90v1.18m0,4.42v1.18m0,18.98v1.18m0,-0.06v1.18m0,-0.06v1.18m0,8.90v1.18m0,4.42v1.18m0,-0.06v1.18m0,1.06v1.18m0,21.22v1.18m0,-0.06v1.18m0,1.06v1.18m0,14.50v1.18m0,5.54v1.18m0,18.98v1.18m0,12.26v1.18m0,2.18v1.18m0,7.78v0.34M1337.02,825.30v1.18m0,67.64v1.18m0,3.30v1.18m0,2.18v1.18m0,1.06v1.18m0,4.42v1.18m0,3.30v1.18m0,-0.06v1.18m0,2.18v1.18m0,-0.06v1.18m0,2.18v1.18m0,5.54v1.18m0,8.90v1.18m0,16.74v1.18m0,22.34v1.18m0,1.06v1.18m0,-0.06v1.18m0,6.66v1.18m0,5.54v1.18m0,-0.06v1.18m0,1.06v1.18m0,1.06v1.18m0,4.42v1.18m0,12.26v1.18m0,3.30v1.18m0,5.54v1.18m0,6.66v1.18m0,1.06v1.18m0,-0.06v1.18m0,5.54v1.18m0,1.06v1.18M1346.13,893.00v1.18m0,-0.06v1.18m0,25.70v1.18m0,-0.06v1.18m0,6.66v1.18m0,3.30v1.18m0,11.14v1.18m0,12.26v1.18m0,-0.06v1.18m0,-0.06v1.18m0,21.22v1.18m0,7.78v1.18m0,16.74v1.18m0,2.18v1.18m0,13.38v1.18m0,2.18v1.18m0,1.06v1.18m0,8.90v1.18m0,3.30v1.18m0,-0.06v1.18M1355.24,790.58v1.18m0,-0.06v1.18m0,107.96v1.18m0,3.30v1.18m0,1.06v1.18m0,-0.06v1.18m0,3.30v1.18m0,15.62v1.18m0,1.06v1.18m0,1.06v1.18m0,3.30v1.18m0,16.74v1.18m0,5.54v1.18m0,-0.06v1.18m0,3.30v1.18m0,1.06v1.18m0,11.14v1.18m0,-0.06v1.18m0,14.50v1.18m0,5.54v1.18m0,5.54v1.18m0,6.66v1.18m0,3.30v1.18m0,-0.06v1.18m0,20.10v1.18M1364.35,835.38v1.18m0,56.44v1.18m0,4.42v1.18m0,4.42v1.18m0,2.18v1.18m0,7.78v1.18m0,1.06v1.18m0,2.18v1.18m0,2.18v1.18m0,-0.06v1.18m0,3.30v1.18m0,3.30v1.18m0,7.78v1.18m0,6.66v1.18m0,-0.06v1.18m0,11.14v1.18m0,4.42v1.18m0,-0.06v1.18m0,7.78v1.18m0,10.02v1.18m0,12.26v1.18m0,3.30v1.18m0,-0.06v1.18m0,5.54v1.18m0,10.02v1.18m0,11.14v1.18m0,1.06v1.18m0,-0.06v1.18m0,3.30v1.18m0,-0.06v1.18m0,1.06v1.18M1373.46,801.78v1.18m0,94.52v1.18m0,-0.06v1.18m0,1.06v1.18m0,6.66v1.18m0,6.66v1.18m0,4.42v1.18m0,-0.06v1.18m0,10.02v1.18m0,3.30v1.18m0,18.98v1.18m0,10.02v1.18m0,11.14v1.18m0,12.26v1.18m0,-0.06v1.18m0,1.06v1.18m0,-0.06v1.18m0,3.30v1.18m0,-0.06v1.18m0,5.54v1.18m0,-0.06v1.18m0,5.54v1.18m0,5.54v1.18m0,1.06v1.18m0,5.54v1.18m0,1.06v1.18m0,1.06v1.18m0,4.42v1.18m0,5.54v1.18m0,-0.06v1.18M1382.58,903.08v1.18m0,1.06v1.18m0,4.42v1.18m0,6.66v1.18m0,-0.06v1.18m0,17.86v1.18m0,4.42v1.18m0,8.90v1.18m0,8.90v1.18m0,13.38v1.18m0,23.46v1.18m0,27.94v1.18m0,3.30v1.18m0,6.66v1.18m0,3.30v1.18m0,1.06v1.18M1391.69,801.78v1.18m0,3.30v1.18m0,92.28v1.18m0,10.02v1.18m0,1.06v1.18m0,1.06v1.18m0,-0.06v1.18m0,2.18v1.18m0,2.18v1.18m0,2.18v1.18m0,3.30v1.18m0,-0.06v1.18m0,-0.06v1.18m0,-0.06v1.18m0,-0.06v1.18m0,17.86v1.18m0,-0.06v1.18m0,10.02v1.18m0,3.30v1.18m0,2.18v1.18m0,-0.06v1.18m0,2.18v1.18m0,4.42v1.18m0,2.18v1.18m0,2.18v1.18m0,2.18v1.18m0,2.18v1.18m0,13.38v1.18m0,8.90v1.18m0,6.66v1.18m0,1.06v1.18m0,17.86v1.18m0,-0.06v1.18M1400.80,897.48v1.18m0,-0.06v1.18m0,14.50v1.18m0,5.54v1.18m0,10.02v1.18m0,3.30v1.18m0,1.06v1.18m0,12.26v1.18m0,1.06v1.18m0,25.70v1.18m0,14.50v1.18m0,1.06v1.18m0,14.50v1.18m0,1.06v1.18m0,12.26v1.18m0,2.18v1.18m0,-0.06v1.18m0,15.62v1.18M1409.91,798.42v1.18m0,34.66v1.18m0,52.58v1.18m0,22.84v1.18m0,20.10v1.18m0,-0.06v1.18m0,1.06v1.18m0,18.98v1.18m0,18.98v1.18m0,-0.06v1.18m0,-0.06v1.18m0,16.74v1.18m0,7.78v1.18m0,6.66v1.18m0,6.66v1.18m0,1.06v1.18m0,3.30v1.18m0,3.30v1.18m0,1.06v1.18m0,7.78v1.18m0,6.66v1.18M1419.02,895.24v1.18m0,6.66v1.18m0,4.42v1.18m0,-0.06v1.18m0,4.42v1.18m0,10.02v1.18m0,2.18v1.18m0,-0.06v1.18m0,12.26v1.18m0,1.06v1.18m0,-0.06v1.18m0,-0.06v1.18m0,-0.06v1.18m0,-0.06v1.18m0,17.86v1.18m0,3.30v1.18m0,-0.06v1.18m0,3.30v1.18m0,6.66v1.18m0,-0.06v1.18m0,10.02v1.18m0,2.18v1.18m0,15.62v1.18m0,2.18v1.18m0,2.18v1.18m0,2.18v1.18m0,5.54v1.18m0,4.42v1.18m0,5.54v1.18m0,2.18v1.18M1428.13,856.66v1.18m0,2.18v1.18m0,12.26v1.18m0,19.48v1.18m0,6.66v1.18m0,-0.06v1.18m0,3.30v1.18m0,24.58v1.18m0,2.18v1.18m0,11.14v1.18m0,4.42v1.18m0,8.90v1.18m0,4.42v1.18m0,3.30v1.18m0,2.18v1.18m0,6.66v1.18m0,10.02v1.18m0,4.42v1.18m0,-0.06v1.18m0,6.66v1.18m0,1.06v1.18m0,3.30v1.18m0,-0.06v1.18m0,3.30v1.18m0,4.42v1.18m0,4.42v1.18m0,6.66v1.18m0,3.30v1.18m0,-0.06v1.18m0,1.06v1.18M1437.24,814.10v1.18m0,94.52v1.18m0,1.06v1.18m0,-0.06v1.18m0,-0.06v1.18m0,8.90v1.18m0,1.06v1.18m0,4.42v1.18m0,4.42v1.18m0,-0.06v1.18m0,4.42v1.18m0,2.18v1.18m0,14.50v1.18m0,6.66v1.18m0,8.90v1.18m0,1.06v1.18m0,7.78v1.18m0,1.06v1.18m0,1.06v1.18m0,1.06v1.18m0,5.54v1.18m0,11.14v1.18m0,3.30v1.18m0,2.18v1.18m0,2.18v1.18m0,2.18v1.18m0,6.66v1.18m0,3.30v1.18m0,3.30v1.18m0,4.42v1.18" stroke="#FCD4C5" stroke-width="9.16" fill="none"/>
<path d="M1209.46,786.10v1.18m0,5.54v1.18m0,2.18v1.18m0,6.66v1.18m0,1.06v1.18m0,1.06v1.18m0,15.62v1.18m0,2.18v1.18m0,-0.06v1.18m0,6.66v1.18m0,1.06v1.18m0,-0.06v1.18m0,-0.06v1.18m0,10.02v1.18m0,12.26v1.18m0,1.06v1.18m0,1.06v1.18m0,1.06v1.18m0,8.90v1.18M1218.57,786.10v1.18m0,13.38v1.18m0,-0.06v1.18m0,-0.06v1.18m0,11.14v1.18m0,2.18v1.18m0,3.30v1.18m0,-0.06v1.18m0,7.78v1.18m0,-0.06v1.18m0,4.42v1.18m0,-0.06v1.18m0,4.42v1.18m0,1.06v1.18m0,8.90v1.18m0,-0.06v1.18m0,5.54v1.18m0,-0.06v1.18m0,-0.06v1.18m0,7.78v1.18m0,-0.06v1.18m0,-0.06v1.18m0,1.06v1.18m0,-0.06v1.18m0,2.18v1.18m0,2.18v0.20M1227.68,789.46v1.18m0,2.18v1.18m0,-0.06v1.18m0,5.54v1.18m0,13.38v1.18m0,4.42v1.18m0,5.54v1.18m0,5.54v1.18m0,8.90v1.18m0,-0.06v1.18m0,14.50v1.18m0,5.54v1.18m0,-0.06v1.18m0,1.06v1.18m0,-0.06v1.18m0,-0.06v1.18m0,7.78v1.18m0,-0.06v1.18m0,1.06v1.18M1236.79,798.42v1.18m0,2.18v1.18m0,5.54v1.18m0,-0.06v1.18m0,-0.06v1.18m0,-0.06v1.18m0,1.06v1.18m0,-0.06v1.18m0,7.78v1.18m0,1.06v1.18m0,1.06v1.18m0,-0.06v1.18m0,5.54v1.18m0,2.18v1.18m0,7.78v1.18m0,14.50v1.18m0,5.54v1.18m0,1.06v1.18m0,8.90v1.18m0,3.30v1.18m0,-0.06v1.18M1245.90,789.46v1.18m0,1.06v1.18m0,-0.06v1.18m0,-0.06v1.18m0,4.42v1.18m0,5.54v1.18m0,1.06v1.18m0,-0.06v1.18m0,2.18v1.18m0,14.50v1.18m0,3.30v1.18m0,3.30v1.18m0,2.18v1.18m0,2.18v1.18m0,-0.06v1.18m0,5.54v1.18m0,1.06v1.18m0,1.06v1.18m0,-0.06v1.18m0,1.06v1.18m0,-0.06v1.18m0,10.02v1.18m0,-0.06v1.18m0,11.14v1.18m0,-0.06v1.18m0,44.12v1.18M1255.01,795.06v1.18m0,1.06v1.18m0,3.30v1.18m0,-0.06v1.18m0,-0.06v1.18m0,3.30v1.18m0,5.54v1.18m0,-0.06v1.18m0,3.30v1.18m0,1.06v1.18m0,5.54v1.18m0,18.98v1.18m0,1.06v1.18m0,1.06v1.18m0,13.38v1.18m0,4.42v1.18m0,2.18v1.18m0,2.18v1.18m0,-0.06v1.18M1264.12,788.34v1.18m0,1.06v1.18m0,6.66v1.18m0,21.22v1.18m0,30.18v1.18m0,2.18v1.18m0,3.30v1.18m0,3.30v1.18m0,-0.06v1.18m0,-0.06v1.18m0,5.54v1.18m0,5.54v1.18m0,3.30v1.18M1273.24,786.10v1.18m0,2.18v1.18m0,-0.06v1.18m0,4.42v1.18m0,-0.06v1.18m0,-0.06v1.18m0,3.30v1.18m0,6.66v1.18m0,5.54v1.18m0,3.30v1.18m0,1.06v1.18m0,10.02v1.18m0,-0.06v1.18m0,1.06v1.18m0,-0.06v1.18m0,-0.06v1.18m0,1.06v1.18m0,-0.06v1.18m0,6.66v1.18m0,-0.06v1.18m0,2.18v1.18m0,4.42v1.18m0,3.30v1.18m0,3.30v1.18m0,7.78v1.18m0,7.78v1.18m0,-0.06v0.20M1282.35,786.10v1.18m0,3.30v1.18m0,-0.06v1.18m0,1.06v1.18m0,-0.06v1.18m0,-0.06v1.18m0,5.54v1.18m0,1.06v1.18m0,-0.06v1.18m0,-0.06v1.18m0,-0.06v1.18m0,3.30v1.18m0,-0.06v1.18m0,3.30v1.18m0,1.06v1.18m0,3.30v1.18m0,1.06v1.18m0,7.78v1.18m0,-0.06v1.18m0,15.62v1.18m0,7.78v1.18m0,-0.06v1.18m0,13.38v1.18m0,-0.06v1.18m0,-0.06v1.18M1291.46,894.12v1.18m0,-0.06v1.18m0,8.90v1.18m0,1.06v1.18m0,3.30v1.18m0,5.54v1.18m0,1.06v1.18m0,-0.06v1.18m0,7.78v1.18m0,-0.06v1.18m0,5.54v1.18m0,-0.06v1.18m0,3.30v1.18m0,12.26v1.18m0,12.26v1.18m0,10.02v1.18m0,5.54v1.18m0,-0.06v1.18m0,10.02v1.18m0,12.26v1.18m0,4.42v1.18m0,2.18v1.18m0,2.18v1.18m0,-0.06v1.18m0,1.06v1.18m0,6.66v1.18m0,12.26v1.18M1300.57,806.26v1.18m0,41.38v1.18m0,55.32v1.18m0,-0.06v1.18m0,32.42v1.18m0,16.74v1.18m0,-0.06v1.18m0,3.30v1.18m0,-0.06v1.18m0,12.26v1.18m0,4.42v1.18m0,18.98v1.18m0,25.70v1.18m0,21.22v1.18M1309.68,893.00v1.18m0,21.22v1.18m0,1.06v1.18m0,-0.06v1.18m0,39.14v1.18m0,7.78v1.18m0,52.58v1.18m0,2.18v1.18m0,4.42v1.18m0,2.18v1.18m0,8.90v1.18m0,-0.06v1.18m0,-0.06v1.18m0,-0.06v1.18m0,-0.06v1.18M1318.79,906.44v1.18m0,1.06v1.18m0,10.02v1.18m0,-0.06v1.18m0,1.06v1.18m0,-0.06v1.18m0,10.02v1.18m0,21.22v1.18m0,-0.06v1.18m0,3.30v1.18m0,5.54v1.18m0,6.66v1.18m0,2.18v1.18m0,3.30v1.18m0,14.50v1.18m0,-0.06v1.18m0,6.66v1.18m0,2.18v1.18m0,-0.06v1.18m0,11.14v1.18m0,-0.06v1.18m0,11.14v1.18m0,3.30v1.18m0,-0.06v1.18m0,-0.06v1.18m0,6.66v1.18M1327.91,829.78v1.18m0,72.12v1.18m0,-0.06v1.18m0,5.54v1.18m0,12.26v1.18m0,11.14v1.18m0,10.02v1.18m0,29.06v1.18m0,-0.06v1.18m0,6.66v1.18m0,12.26v1.18m0,3.30v1.18m0,-0.06v1.18m0,38.02v1.18m0,7.78v1.18M1337.02,857.78v1.18m0,51.96v1.18m0,13.38v1.18m0,-0.06v1.18m0,-0.06v1.18m0,-0.06v1.18m0,6.66v1.18m0,4.42v1.18m0,-0.06v1.18m0,1.06v1.18m0,-0.06v1.18m0,4.42v1.18m0,2.18v1.18m0,3.30v1.18m0,6.66v1.18m0,1.06v1.18m0,6.66v1.18m0,8.90v1.18m0,16.74v1.18m0,2.18v1.18m0,6.66v1.18m0,-0.06v1.18m0,1.06v1.18m0,14.50v1.18m0,14.50v1.18M1346.13,900.84v1.18m0,2.18v1.18m0,4.42v1.18m0,2.18v1.18m0,16.74v1.18m0,7.78v1.18m0,27.94v1.18m0,1.06v1.18m0,-0.06v1.18m0,2.18v1.18m0,10.02v1.18m0,15.62v1.18m0,-0.06v1.18m0,1.06v1.18m0,-0.06v1.18m0,15.62v1.18m0,17.86v1.18m0,2.18v1.18m0,3.30v1.18m0,2.18v1.18M1355.24,825.30v1.18m0,71.00v1.18m0,11.14v1.18m0,4.42v1.18m0,3.30v1.18m0,14.50v1.18m0,18.98v1.18m0,8.90v1.18m0,13.38v1.18m0,14.50v1.18m0,15.62v1.18m0,1.06v1.18m0,12.26v1.18m0,5.54v1.18m0,4.42v1.18m0,10.02v1.18m0,3.30v0.34M1364.35,851.06v1.18m0,5.54v1.18m0,46.36v1.18m0,13.38v1.18m0,-0.06v1.18m0,11.14v1.18m0,2.18v1.18m0,21.22v1.18m0,-0.06v1.18m0,1.06v1.18m0,4.42v1.18m0,5.54v1.18m0,-0.06v1.18m0,1.06v1.18m0,-0.06v1.18m0,4.42v1.18m0,7.78v1.18m0,7.78v1.18m0,13.38v1.18m0,4.42v1.18m0,1.06v1.18m0,-0.06v1.18m0,-0.06v1.18m0,-0.06v1.18m0,3.30v1.18m0,2.18v1.18m0,18.98v0.34M1373.46,888.02v1.18m0,3.80v1.18m0,2.18v1.18m0,5.54v1.18m0,1.06v1.18m0,12.26v1.18m0,-0.06v1.18m0,-0.06v1.18m0,2.18v1.18m0,15.62v1.18m0,-0.06v1.18m0,7.78v1.18m0,18.98v1.18m0,3.30v1.18m0,3.30v1.18m0,2.18v1.18m0,8.90v1.18m0,-0.06v1.18m0,13.38v1.18m0,4.42v1.18m0,8.90v1.18m0,2.18v1.18m0,7.78v1.18m0,4.42v1.18m0,3.30v1.18M1382.58,857.78v1.18m0,41.88v1.18m0,-0.06v1.18m0,5.54v1.18m0,-0.06v1.18m0,18.98v1.18m0,-0.06v1.18m0,3.30v1.18m0,4.42v1.18m0,11.14v1.18m0,7.78v1.18m0,-0.06v1.18m0,2.18v1.18m0,2.18v1.18m0,12.26v1.18m0,12.26v1.18m0,6.66v1.18m0,1.06v1.18m0,-0.06v1.18m0,1.06v1.18m0,14.50v1.18m0,12.26v1.18m0,2.18v1.18m0,11.14v1.18m0,-0.06v0.34M1391.69,894.12v1.18m0,1.06v1.18m0,1.06v1.18m0,1.06v1.18m0,16.74v1.18m0,8.90v1.18m0,11.14v1.18m0,2.18v1.18m0,4.42v1.18m0,10.02v1.18m0,6.66v1.18m0,-0.06v1.18m0,11.14v1.18m0,-0.06v1.18m0,16.74v1.18m0,15.62v1.18m0,-0.06v1.18m0,-0.06v1.18m0,-0.06v1.18m0,4.42v1.18m0,6.66v1.18m0,1.06v1.18m0,2.18v1.18m0,2.18v1.18m0,1.06v1.18m0,6.66v1.18M1400.80,821.94v1.18m0,-0.06v1.18m0,11.14v1.18m0,3.30v1.18m0,1.06v1.18m0,51.96v1.18m0,-0.06v1.18m0,4.42v1.18m0,1.06v1.18m0,2.18v1.18m0,24.58v1.18m0,-0.06v1.18m0,6.66v1.18m0,12.26v1.18m0,3.30v1.18m0,3.30v1.18m0,29.06v1.18m0,32.42v1.18m0,-0.06v1.18m0,5.54v1.18m0,10.02v1.18M1409.91,818.58v1.18m0,74.36v1.18m0,3.30v1.18m0,4.42v1.18m0,5.54v1.18m0,8.90v1.18m0,20.10v1.18m0,38.02v1.18m0,15.62v1.18m0,11.14v1.18m0,4.42v1.18m0,7.78v1.18m0,4.42v1.18m0,7.78v1.18m0,2.18v1.18m0,10.02v1.18m0,-0.06v1.18M1419.02,898.60v1.18m0,11.14v1.18m0,2.18v1.18m0,12.26v1.18m0,-0.06v1.18m0,6.66v1.18m0,5.54v1.18m0,12.26v1.18m0,4.42v1.18m0,13.38v1.18m0,6.66v1.18m0,21.22v1.18m0,4.42v1.18m0,-0.06v1.18m0,10.02v1.18m0,3.30v1.18m0,5.54v1.18m0,11.14v1.18m0,1.06v1.18m0,3.30v1.18M1428.13,814.10v1.18m0,79.96v1.18m0,1.06v1.18m0,-0.06v1.18m0,1.06v1.18m0,7.78v1.18m0,-0.06v1.18m0,18.98v1.18m0,12.26v1.18m0,2.18v1.18m0,8.90v1.18m0,-0.06v1.18m0,7.78v1.18m0,-0.06v1.18m0,1.06v1.18m0,27.94v1.18m0,4.42v1.18m0,26.82v1.18m0,1.06v1.18m0,4.42v1.18m0,11.14v1.18m0,-0.06v1.18M1437.24,857.78v1.18m0,34.04v1.18m0,-0.06v1.18m0,2.18v1.18m0,1.06v1.18m0,-0.06v1.18m0,1.06v1.18m0,-0.06v1.18m0,13.38v1.18m0,10.02v1.18m0,2.18v1.18m0,5.54v1.18m0,-0.06v1.18m0,15.62v1.18m0,11.14v1.18m0,3.30v1.18m0,4.42v1.18m0,7.78v1.18m0,3.30v1.18m0,3.30v1.18m0,14.50v1.18m0,8.90v1.18m0,17.86v1.18" stroke="#FBC6B2" stroke-width="9.16" fill="none"/>
<path d="M1209.46,791.70v1.18m0,1.06v1.18m0,6.66v1.18m0,4.42v1.18m0,2.18v1.18m0,2.18v1.18m0,2.18v1.18m0,-0.06v1.18m0,-0.06v1.18m0,1.06v1.18m0,-0.06v1.18m0,2.18v1.18m0,3.30v1.18m0,2.18v1.18m0,-0.06v1.18m0,-0.06v1.18m0,7.78v1.18m0,1.06v1.18m0,-0.06v1.18m0,4.42v1.18m0,8.90v1.18m0,14.50v1.18m0,-0.06v1.18m0,140.44v1.18M1218.57,787.22v1.18m0,8.90v1.18m0,5.54v1.18m0,3.30v1.18m0,10.02v1.18m0,4.42v1.18m0,-0.06v1.18m0,-0.06v1.18m0,2.18v1.18m0,-0.06v1.18m0,4.42v1.18m0,-0.06v1.18m0,12.26v1.18m0,2.18v1.18m0,5.54v1.18m0,7.78v1.18m0,4.42v1.18m0,11.14v1.18M1227.68,788.34v1.18m0,6.66v1.18m0,1.06v1.18m0,2.18v1.18m0,1.06v1.18m0,5.54v1.18m0,-0.06v1.18m0,1.06v1.18m0,7.78v1.18m0,5.54v1.18m0,-0.06v1.18m0,5.54v1.18m0,8.90v1.18m0,2.18v1.18m0,-0.06v1.18m0,-0.06v1.18m0,11.14v1.18m0,3.30v1.18m0,4.42v1.18m0,13.38v0.20M1236.79,788.34v1.18m0,-0.06v1.18m0,5.54v1.18m0,15.62v1.18m0,3.30v1.18m0,18.98v1.18m0,3.30v1.18m0,1.06v1.18m0,-0.06v1.18m0,-0.06v1.18m0,15.62v1.18m0,10.02v1.18m0,-0.06v1.18m0,-0.06v1.18m0,-0.06v1.18m0,6.66v1.18m0,-0.06v1.18m0,2.18v0.20M1245.90,788.34v1.18m0,17.86v1.18m0,11.14v1.18m0,3.30v1.18m0,14.50v1.18m0,2.18v1.18m0,2.18v1.18m0,5.54v1.18m0,7.78v1.18m0,3.30v1.18m0,11.14v1.18m0,8.90v1.18m0,-0.06v0.20M1255.01,787.22v1.18m0,2.18v1.18m0,-0.06v1.18m0,13.38v1.18m0,-0.06v1.18m0,4.42v1.18m0,10.02v1.18m0,11.14v1.18m0,3.30v1.18m0,8.90v1.18m0,6.66v1.18m0,3.30v1.18m0,-0.06v1.18m0,11.14v1.18m0,55.32v1.18M1264.12,786.10v1.18m0,5.54v1.18m0,5.54v1.18m0,1.06v1.18m0,2.18v1.18m0,2.18v1.18m0,2.18v1.18m0,-0.06v1.18m0,-0.06v1.18m0,3.30v1.18m0,17.86v1.18m0,1.06v1.18m0,1.06v1.18m0,-0.06v1.18m0,5.54v1.18m0,2.18v1.18m0,2.18v1.18m0,-0.06v1.18m0,2.18v1.18m0,-0.06v1.18m0,-0.06v1.18m0,5.54v1.18m0,4.42v1.18m0,1.06v1.18m0,11.14v0.20M1273.24,787.22v1.18m0,-0.06v1.18m0,2.18v1.18m0,1.06v1.18m0,-0.06v1.18m0,5.54v1.18m0,3.30v1.18m0,1.06v1.18m0,3.30v1.18m0,2.18v1.18m0,3.30v1.18m0,1.06v1.18m0,3.30v1.18m0,2.18v1.18m0,10.02v1.18m0,11.14v1.18m0,7.78v1.18m0,1.06v1.18m0,15.62v1.18M1282.35,787.22v1.18m0,4.42v1.18m0,3.30v1.18m0,1.06v1.18m0,1.06v1.18m0,1.06v1.18m0,4.42v1.18m0,4.42v1.18m0,1.06v1.18m0,7.78v1.18m0,7.78v1.18m0,8.90v1.18m0,3.30v1.18m0,-0.06v1.18m0,-0.06v1.18m0,-0.06v1.18m0,22.34v1.18m0,4.42v1.18m0,3.30v1.18m0,2.18v0.20m0,123.50v1.18M1291.46,893.00v1.18m0,7.78v1.18m0,3.30v1.18m0,7.78v1.18m0,7.78v1.18m0,-0.06v1.18m0,-0.06v1.18m0,10.02v1.18m0,12.26v1.18m0,4.42v1.18m0,3.30v1.18m0,24.58v1.18m0,3.30v1.18m0,5.54v1.18m0,22.34v1.18m0,-0.06v1.18m0,11.14v1.18m0,-0.06v1.18m0,-0.06v1.18m0,3.30v1.18m0,-0.06v1.18m0,3.30v1.18m0,6.66v1.18M1300.57,888.02v1.18m0,76.60v1.18m0,38.02v1.18M1309.68,895.24v1.18m0,32.42v1.18m0,1.06v1.18m0,10.02v1.18m0,16.74v1.18m0,1.06v1.18m0,50.34v1.18m0,7.78v1.18m0,12.26v1.18m0,5.54v1.18m0,10.02v1.18M1318.79,787.22v1.18m0,119.16v1.18m0,10.02v1.18m0,27.94v1.18m0,20.10v1.18m0,1.06v1.18m0,20.10v1.18m0,2.18v1.18m0,-0.06v1.18m0,51.46v1.18m0,-0.06v1.18m0,1.06v1.18M1327.91,899.72v1.18m0,1.06v1.18m0,6.66v1.18m0,70.50v1.18m0,18.98v1.18m0,6.66v1.18m0,35.78v1.18m0,4.42v1.18m0,2.18v1.18M1337.02,835.38v1.18m0,56.44v1.18m0,8.90v1.18m0,7.78v1.18m0,8.90v1.18m0,1.06v1.18m0,7.78v1.18m0,10.02v1.18m0,16.74v1.18m0,5.54v1.18m0,15.62v1.18m0,10.02v1.18m0,10.02v1.18m0,3.30v1.18m0,7.78v1.18m0,2.18v1.18m0,1.06v1.18m0,1.06v1.18m0,13.38v1.18m0,5.54v1.18M1346.13,901.96v1.18m0,3.30v1.18m0,27.94v1.18m0,2.18v1.18m0,39.14v1.18m0,59.30v1.18m0,1.06v1.18M1355.24,904.20v1.18m0,1.06v1.18m0,43.62v1.18m0,8.90v1.18m0,18.98v1.18m0,-0.06v1.18m0,13.38v1.18m0,6.66v1.18m0,5.54v1.18m0,30.18v1.18m0,1.06v1.18M1364.35,895.24v1.18m0,-0.06v1.18m0,-0.06v1.18m0,4.42v1.18m0,5.54v1.18m0,-0.06v1.18m0,2.18v1.18m0,16.74v1.18m0,1.06v1.18m0,15.62v1.18m0,24.58v1.18m0,4.42v1.18m0,-0.06v1.18m0,10.02v1.18m0,5.54v1.18m0,11.14v1.18m0,31.30v1.18m0,4.42v1.18M1373.46,895.24v1.18m0,17.86v1.18m0,20.10v1.18m0,21.22v1.18m0,4.42v1.18m0,16.74v1.18m0,43.62v1.18m0,7.78v1.18m0,7.78v1.18m0,-0.06v1.18m0,2.18v1.18M1382.58,855.54v1.18m0,38.52v1.18m0,40.26v1.18m0,13.38v1.18m0,16.74v1.18m0,14.50v1.18m0,8.90v1.18m0,-0.06v1.18m0,5.54v1.18m0,10.02v1.18m0,2.18v1.18m0,8.90v1.18m0,6.66v1.18m0,4.42v1.18m0,2.18v1.18M1391.69,893.00v1.18m0,3.30v1.18m0,5.54v1.18m0,1.06v1.18m0,4.42v1.18m0,1.06v1.18m0,5.54v1.18m0,-0.06v1.18m0,18.98v1.18m0,2.18v1.18m0,-0.06v1.18m0,-0.06v1.18m0,3.30v1.18m0,3.30v1.18m0,2.18v1.18m0,4.42v1.18m0,1.06v1.18m0,26.82v1.18m0,7.78v1.18m0,1.06v1.18m0,20.10v1.18m0,6.66v1.18m0,4.42v1.18m0,2.18v1.18m0,1.06v1.18m0,1.06v1.18m0,4.42v1.18m0,-0.06v0.34M1400.80,894.12v1.18m0,7.78v1.18m0,1.06v1.18m0,22.34v1.18m0,-0.06v1.18m0,30.18v1.18m0,1.06v1.18m0,1.06v1.18m0,39.14v1.18m0,24.58v1.18m0,-0.06v1.18m0,3.30v1.18M1409.91,817.46v1.18m0,83.32v1.18m0,3.30v1.18m0,35.78v1.18m0,24.58v1.18m0,44.74v1.18M1419.02,894.12v1.18m0,1.06v1.18m0,-0.06v1.18m0,7.78v1.18m0,-0.06v1.18m0,3.30v1.18m0,11.14v1.18m0,33.54v1.18m0,7.78v1.18m0,-0.06v1.18m0,1.06v1.18m0,5.54v1.18m0,-0.06v1.18m0,2.18v1.18m0,12.26v1.18m0,4.42v1.18m0,2.18v1.18m0,15.62v1.18m0,5.54v1.18m0,2.18v1.18m0,2.18v1.18m0,8.90v1.18m0,5.54v1.18M1428.13,906.44v1.18m0,1.06v1.18m0,8.90v1.18m0,-0.06v1.18m0,-0.06v1.18m0,6.66v1.18m0,-0.06v1.18m0,1.06v1.18m0,17.86v1.18m0,3.30v1.18m0,6.66v1.18m0,12.26v1.18m0,1.06v1.18m0,4.42v1.18m0,13.38v1.18m0,12.26v1.18m0,6.66v1.18m0,3.30v1.18m0,-0.06v1.18m0,-0.06v1.18m0,-0.06v1.18m0,3.30v1.18m0,15.62v1.18M1437.24,895.24v1.18m0,2.18v1.18m0,5.54v1.18m0,15.62v1.18m0,12.26v1.18m0,-0.06v1.18m0,46.98v1.18m0,29.06v1.18" stroke="#FAB89F" stroke-width="9.16" fill="none"/>
<path d="M1209.46,788.34v1.18m0,-0.06v1.18m0,-0.06v1.18m0,5.54v1.18m0,2.18v1.18m0,1.06v1.18m0,11.14v1.18m0,-0.06v1.18m0,10.02v1.18m0,4.42v1.18m0,21.22v1.18m0,2.18v1.18m0,-0.06v1.18m0,1.06v1.18m0,2.18v1.18m0,3.30v1.18m0,1.06v1.18m0,2.18v1.18m0,-0.06v1.18m0,-0.06v1.18m0,5.54v1.18M1218.57,805.14v1.18m0,-0.06v1.18m0,-0.06v1.18m0,1.06v1.18m0,5.54v1.18m0,18.98v1.18m0,13.38v1.18m0,1.06v1.18m0,-0.06v1.18m0,5.54v1.18m0,7.78v1.18m0,3.30v1.18m0,-0.06v1.18m0,7.78v1.18M1227.68,791.70v1.18m0,6.66v1.18m0,4.42v1.18m0,-0.06v1.18m0,1.06v1.18m0,3.30v1.18m0,3.30v1.18m0,-0.06v1.18m0,2.18v1.18m0,16.74v1.18m0,1.06v1.18m0,6.66v1.18m0,3.30v1.18m0,1.06v1.18m0,1.06v1.18m0,-0.06v1.18m0,1.06v1.18m0,-0.06v1.18m0,2.18v1.18m0,6.66v1.18m0,5.54v1.18m0,2.18v1.18m0,2.18v1.18m0,-0.06v1.18M1236.79,787.22v1.18m0,6.66v1.18m0,44.74v1.18m0,1.06v1.18m0,35.78v1.18m0,1.06v1.18m0,1.06v1.18M1245.90,790.58v1.18m0,46.98v1.18m0,35.78v1.18m0,11.14v1.18M1255.01,792.82v1.18m0,25.70v1.18m0,6.66v1.18m0,17.86v1.18m0,10.02v1.18m0,31.30v0.20M1264.12,793.94v1.18m0,2.18v1.18m0,2.18v1.18m0,2.18v1.18m0,14.50v1.18m0,1.06v1.18m0,1.06v1.18m0,3.30v1.18m0,3.30v1.18m0,-0.06v1.18m0,-0.06v1.18m0,7.78v1.18m0,-0.06v1.18m0,1.06v1.18m0,-0.06v1.18m0,1.06v1.18m0,2.18v1.18m0,3.30v1.18m0,11.14v1.18m0,-0.06v1.18m0,1.06v1.18m0,3.30v1.18m0,1.06v1.18m0,3.30v1.18m0,-0.06v1.18m0,-0.06v1.18m0,-0.06v1.18M1273.24,799.54v1.18m0,-0.06v1.18m0,2.18v1.18m0,13.38v1.18m0,-0.06v1.18m0,7.78v1.18m0,-0.06v1.18m0,14.50v1.18m0,1.06v1.18m0,-0.06v1.18m0,7.78v1.18m0,16.74v1.18M1282.35,800.66v1.18m0,20.10v1.18m0,-0.06v1.18m0,-0.06v1.18m0,5.54v1.18m0,14.50v1.18m0,-0.06v1.18m0,-0.06v1.18m0,16.74v1.18m0,7.78v1.18m0,8.90v1.18m0,2.18v1.18M1291.46,903.08v1.18m0,10.02v1.18m0,7.78v1.18m0,3.30v1.18m0,26.82v1.18m0,6.66v1.18m0,38.02v1.18m0,1.06v1.18m0,18.98v1.18m0,5.54v1.18m0,-0.06v1.18m0,6.66v1.18m0,2.18v1.18m0,4.42v1.18M1300.57,840.98v1.18M1309.68,916.52v1.18m0,43.62v1.18m0,49.22v1.18M1318.79,922.12v1.18m0,17.86v1.18m0,4.42v1.18m0,20.10v1.18m0,79.46v1.18m0,6.66v0.34M1327.91,890.26v0.20m0,65.26v1.18m0,68.26v1.18m0,26.82v1.18M1337.02,895.24v1.18m0,16.74v1.18m0,17.86v1.18m0,23.46v1.18m0,1.06v1.18m0,1.06v1.18m0,2.18v1.18m0,45.86v1.18m0,1.06v1.18m0,7.78v1.18m0,8.90v1.18m0,13.38v1.18m0,-0.06v1.18m0,-0.06v1.18m0,5.54v0.34M1346.13,796.18v1.18m0,114.68v1.18m0,23.46v1.18m0,32.42v1.18m0,39.14v1.18m0,24.58v1.18m0,3.30v1.18m0,6.66v1.18M1355.24,898.60v1.18m0,2.18v1.18m0,95.14v1.18m0,11.14v1.18m0,39.14v1.18M1364.35,908.68v1.18m0,2.18v1.18m0,4.42v1.18m0,26.82v1.18m0,14.50v1.18m0,41.38v1.18m0,10.02v1.18m0,26.82v1.18m0,3.30v1.18M1373.46,904.20v1.18m0,4.42v1.18m0,25.70v1.18m0,23.46v1.18m0,2.18v1.18m0,-0.06v1.18m0,5.54v1.18m0,11.14v1.18m0,24.58v1.18m0,-0.06v1.18m0,36.90v1.18M1382.58,940.04v1.18m0,1.06v1.18m0,14.50v1.18m0,-0.06v1.18m0,1.06v1.18m0,5.54v1.18m0,36.90v1.18m0,4.42v1.18m0,15.62v1.18m0,-0.06v1.18m0,22.34v1.18M1391.69,908.68v1.18m0,43.62v1.18m0,3.30v1.18m0,38.02v1.18m0,1.06v1.18m0,-0.06v1.18m0,4.42v1.18m0,18.98v1.18m0,15.62v1.18M1400.80,957.96v1.18m0,67.14v1.18M1409.91,893.00v1.18m0,27.94v1.18m0,35.78v1.18m0,-0.06v1.18m0,-0.06v1.18M1419.02,938.92v1.18m0,2.18v1.18m0,14.50v1.18m0,24.58v1.18m0,1.06v1.18m0,-0.06v1.18m0,11.14v1.18m0,5.54v1.18m0,4.42v1.18m0,13.38v1.18m0,5.54v1.18m0,6.66v1.18m0,5.54v1.18m0,7.78v0.34M1428.13,904.20v1.18m0,-0.06v1.18m0,35.78v1.18m0,-0.06v1.18m0,39.14v1.18m0,16.74v1.18M1437.24,923.24v1.18m0,34.66v1.18m0,-0.06v1.18m0,-0.06v1.18" stroke="#FAAA8C" stroke-width="9.16" fill="none"/>
<path d="M1209.46,795.06v1.18m0,16.74v1.18m0,10.02v1.18m0,13.38v1.18m0,3.30v1.18m0,2.18v1.18m0,2.18v1.18m0,-0.06v1.18m0,-0.06v1.18m0,3.30v1.18m0,-0.06v1.18m0,2.18v1.18m0,1.06v1.18m0,14.50v1.18m0,5.54v1.18M1218.57,795.06v1.18m0,49.22v1.18m0,25.70v1.18m0,-0.06v1.18m0,45.24v1.18M1227.68,786.10v1.18m0,-0.06v1.18m0,6.66v1.18m0,1.06v1.18m0,4.42v1.18m0,3.30v1.18m0,26.82v1.18m0,-0.06v1.18m0,1.06v1.18m0,1.06v1.18m0,1.06v1.18m0,2.18v1.18m0,1.06v1.18m0,7.78v1.18m0,5.54v1.18m0,12.26v1.18m0,1.06v1.18m0,5.54v1.18M1236.79,793.94v1.18m0,5.54v1.18m0,77.22v1.18M1245.90,787.22v1.18m0,89.54v1.18M1255.01,875.70v1.18m0,7.78v1.18M1264.12,791.70v1.18m0,10.02v1.18m0,2.18v1.18m0,2.18v1.18m0,4.42v1.18m0,6.66v1.18m0,2.18v1.18m0,-0.06v1.18m0,1.06v1.18m0,-0.06v1.18m0,6.66v1.18m0,1.06v1.18m0,34.66v1.18M1273.24,805.14v1.18m0,1.06v1.18m0,1.06v1.18m0,35.78v1.18m0,3.30v1.18m0,24.58v1.18m0,-0.06v1.18M1282.35,834.26v1.18M1291.46,929.96v1.18m0,2.18v1.18m0,-0.06v1.18m0,-0.06v1.18m0,-0.06v1.18m0,57.06v1.18m0,1.06v1.18m0,1.06v1.18m0,3.30v1.18m0,6.66v1.18m0,13.38v1.18m0,6.66v1.18m0,4.42v1.18m0,15.62v0.34M1300.57,1056.52v0.34M1309.68,851.06v1.18m0,69.88v1.18m0,97.38v1.18M1318.79,979.24v1.18m0,14.50v1.18M1327.91,827.54v1.18m0,132.60v1.18m0,45.86v1.18M1337.02,994.92v1.18m0,-0.06v1.18m0,36.90v1.18M1346.13,1056.52v0.34M1355.24,912.04v1.18m0,23.46v1.18m0,24.58v1.18M1364.35,1005.00v1.18m0,42.50v1.18M1382.58,1012.84v1.18M1391.69,895.24v1.18m0,5.54v1.18m0,33.54v1.18m0,2.18v1.18m0,10.02v1.18m0,55.94v1.18m0,15.62v1.18M1409.91,944.52v1.18M1419.02,893.00v1.18m0,104.10v1.18M1428.13,961.32v1.18m0,31.30v1.18m0,50.34v1.18m0,-0.06v1.18M1437.24,921.00v1.18" stroke="#F99B78" stroke-width="9.16" fill="none"/>
<path d="M1209.46,809.62v1.18M1218.57,820.82v1.18M1227.68,809.62v1.18m0,68.26v1.18M1236.79,872.34v1.18M1264.12,795.06v1.18m0,-0.06v1.18m0,49.22v1.18m0,34.66v1.18M1273.24,849.94v1.18m0,7.78v1.18M1282.35,877.94v1.18M1291.46,928.84v1.18m0,66.02v1.18m0,13.38v1.18m0,34.66v1.18m0,3.30v1.18M1300.57,847.70v1.18m0,58.68v1.18M1318.79,897.48v1.18m0,30.18v1.18m0,10.02v1.18m0,63.78v1.18m0,20.10v1.18M1327.91,922.12v1.18M1337.02,1001.64v1.18M1346.13,1043.08v1.18M1364.35,913.16v1.18M1382.58,985.96v1.18m0,-0.06v1.18M1391.69,903.08v1.18m0,54.82v1.18m0,49.22v1.18m0,1.06v1.18m0,35.78v1.18m0,1.06v1.18M1400.80,830.90v1.18m0,151.64v1.18M1409.91,924.36v1.18m0,32.42v1.18M1419.02,860.02v1.18M1428.13,998.28v1.18" stroke="#F88D65" stroke-width="9.16" fill="none"/>
<path d="M1218.57,821.94v1.18M1227.68,819.70v1.18m0,55.94v1.18M1264.12,787.22v1.18m0,18.98v1.18M1282.35,858.90v1.18M1291.46,1045.32v1.18M1318.79,993.80v1.18M1373.46,871.22v1.18M1391.69,1010.60v1.18M1400.80,899.72v1.18M1409.91,1026.28v1.18m0,-0.06v1.18M1419.02,997.16v1.18M1428.13,1044.20v1.18m0,11.14v0.34" stroke="#F77F52" stroke-width="9.16" fill="none"/>
<path d="M1236.79,827.54v1.18M1282.35,865.62v1.18M1291.46,1048.68v1.18M1337.02,1026.28v1.18M1364.35,940.04v1.18M1382.58,950.12v1.18M1428.13,956.84v1.18M1437.24,1054.28v1.18m0,1.06v0.34" stroke="#F6703E" stroke-width="9.16" fill="none"/>
<path d="M1209.46,874.58v1.18M1264.12,836.50v1.18M1309.68,904.20v1.18M1355.24,871.22v1.18M1437.24,1041.96v1.18" stroke="#F5622B" stroke-width="9.16" fill="none"/>
<path d="M1236.79,799.54v1.18M1337.02,993.80v1.18M1346.13,1006.12v1.18M1437.24,969.16v1.18" stroke="#F45418" stroke-width="9.16" fill="none"/>
<rect x="1204.9" y="777" width="81.9" height="7.6" fill="#10106E"/><rect x="1286.8" y="777" width="155.0" height="7.6" fill="#038A0C"/>
<rect x="1197.2" y="786.1" width="6.6" height="104.3" fill="#66CDAA"/><rect x="1197.2" y="893.0" width="6.6" height="163.8" fill="#FFD712"/>
<path d="M1227.7,777.0V767.6H1236.8V777.0M1218.6,777.0V766.8H1232.2V767.6M1209.5,777.0V764.4H1225.4V766.8M1245.9,777.0V764.4H1255.0V777.0M1217.4,764.4V763.4H1250.5V764.4M1273.2,777.0V765.3H1282.3V777.0M1264.1,777.0V763.4H1277.8V765.3M1233.9,763.4V761.5H1271.0V763.4M1309.7,777.0V763.4H1318.8V777.0M1300.6,777.0V762.5H1314.2V763.4M1337.0,777.0V764.4H1346.1V777.0M1327.9,777.0V761.2H1341.6V764.4M1307.4,762.5V760.2H1334.7V761.2M1291.5,777.0V757.4H1321.1V760.2M1373.5,777.0V766.2H1382.6V777.0M1364.4,777.0V765.3H1378.0V766.2M1355.2,777.0V761.2H1371.2V765.3M1400.8,777.0V765.3H1409.9V777.0M1428.1,777.0V768.7H1437.2V777.0M1419.0,777.0V762.5H1432.7V768.7M1405.4,765.3V759.3H1425.9V762.5M1391.7,777.0V756.2H1415.6V759.3M1363.2,761.2V755.5H1403.6V756.2M1306.3,757.4V752.5H1383.4V755.5M1252.5,761.5V741.7H1344.8V752.5" fill="none" stroke="#000" stroke-width="1.1"/>
<path d="M1196.9,786.1H1183.5H1182.4V789.1H1178.5V791.4H1182.9V794.5H1178.1V797.5H1182.4V800.2H1182.4V802.1H1177.8V804.2H1176.4V807.3H1182.3V809.6H1179.5V812.6H1181.5V813.9H1178.4V816.0H1176.0V818.4H1176.7V819.8H1182.0V821.8H1177.3V823.4H1179.0V825.8H1182.2V827.3H1177.3V829.8H1183.1V831.4H1182.9V833.8H1183.3V835.5H1178.5V837.6H1180.5V840.2H1177.8V841.7H1178.1V843.2H1182.1V845.1H1183.3V848.2H1181.5V851.2H1182.0V853.2H1181.7V855.3H1183.4V857.5H1182.9V860.3H1181.8V863.0H1183.4V865.4H1177.2V867.6H1183.0V869.3H1183.2V870.8H1182.6V872.4H1183.2V873.5H1182.3V876.0H1177.0V877.3H1176.9V879.7H1181.6V881.0H1183.0V882.1H1174.6V884.1H1180.5V884.9H1182.0V888.0H1181.7V890.2H1196.9zM1196.9,893.0H1181.5H1180.0V894.7H1179.1V897.8H1181.1V899.5H1177.0V901.1H1181.1V904.1H1180.3V905.7H1171.7V907.9H1178.2V909.4H1180.9V911.6H1170.9V913.0H1174.5V914.4H1177.2V916.8H1178.3V919.0H1180.3V922.0H1181.4V924.5H1179.8V927.5H1178.0V929.7H1180.7V932.8H1173.6V934.2H1172.8V936.2H1175.8V937.1H1179.1V939.1H1180.3V940.1H1174.9V941.5H1170.5V943.7H1173.4V945.2H1181.2V948.3H1175.2V951.3H1175.9V954.0H1179.5V956.9H1175.8V958.5H1181.4V961.4H1180.0V962.2H1178.5V964.4H1180.1V967.0H1180.7V967.9H1179.9V970.7H1179.0V973.9H1179.9V974.7H1180.1V975.5H1181.0V976.8H1171.8V978.1H1179.7V980.9H1180.2V983.0H1178.4V985.9H1180.7V987.4H1175.7V989.9H1171.3V990.8H1180.2V993.8H1180.8V996.6H1174.9V998.0H1181.3V999.7H1177.5V1002.2H1180.6V1004.3H1180.9V1005.4H1179.6V1008.0H1181.4V1010.4H1172.3V1011.7H1171.7V1014.8H1177.8V1017.3H1179.2V1019.4H1181.5V1020.4H1179.2V1021.7H1171.1V1023.7H1180.4V1024.8H1177.9V1027.8H1180.8V1029.2H1176.8V1031.0H1171.9V1034.1H1179.7V1035.4H1179.5V1037.6H1180.9V1038.5H1180.2V1041.7H1181.4V1042.9H1179.8V1046.0H1180.8V1047.4H1180.0V1049.5H1176.4V1051.6H1180.0V1052.5H1176.3V1054.4H1179.8V1056.8H1196.9z" fill="#000"/>
<path d="M1190.5,790.4H1177.2V791.3H1190.5M1190.5,789.5H1174.5V790.8H1177.2M1190.5,788.6H1172.3V790.2H1174.5M1190.5,793.1H1175.2V794.0H1190.5M1190.5,792.2H1171.1V793.6H1175.2M1172.3,789.4H1169.4V792.9H1171.1M1190.5,795.9H1175.5V796.8H1190.5M1175.5,796.3H1173.1V797.7H1190.5M1190.5,801.3H1183.5V802.2H1190.5M1190.5,800.4H1181.0V801.8H1183.5M1190.5,805.0H1184.6V805.9H1190.5M1190.5,804.1H1182.7V805.4H1184.6M1190.5,803.1H1181.2V804.7H1182.7M1181.0,801.1H1178.5V803.9H1181.2M1190.5,799.5H1177.4V802.5H1178.5M1190.5,798.6H1172.1V801.0H1177.4M1173.1,797.0H1170.9V799.8H1172.1M1190.5,794.9H1169.5V798.4H1170.9M1190.5,806.8H1174.9V807.7H1190.5M1190.5,808.6H1178.4V809.5H1190.5M1190.5,811.4H1176.2V812.3H1190.5M1190.5,810.4H1174.9V811.8H1176.2M1178.4,809.1H1173.8V811.1H1174.9M1174.9,807.2H1169.4V810.1H1173.8M1169.5,796.7H1167.3V808.7H1169.4M1169.4,791.1H1165.4V802.7H1167.3M1190.5,814.1H1185.1V815.0H1190.5M1190.5,813.2H1184.3V814.5H1185.1M1184.3,813.9H1183.4V815.9H1190.5M1183.4,814.9H1179.9V816.8H1190.5M1190.5,818.6H1181.2V819.6H1190.5M1190.5,817.7H1179.3V819.1H1181.2M1179.9,815.9H1176.8V818.4H1179.3M1190.5,821.4H1182.3V822.3H1190.5M1190.5,820.5H1181.2V821.8H1182.3M1190.5,825.0H1184.8V825.9H1190.5M1190.5,824.1H1183.1V825.5H1184.8M1190.5,823.2H1179.7V824.8H1183.1M1181.2,821.2H1178.4V824.0H1179.7M1176.8,817.1H1173.8V822.6H1178.4M1190.5,827.8H1181.6V828.7H1190.5M1190.5,831.4H1188.5V832.3H1190.5M1190.5,830.5H1187.7V831.9H1188.5M1187.7,831.2H1185.0V833.2H1190.5M1190.5,829.6H1182.3V832.2H1185.0M1190.5,834.1H1184.6V835.1H1190.5M1190.5,836.0H1184.4V836.9H1190.5M1184.6,834.6H1183.3V836.4H1184.4M1182.3,830.9H1180.7V835.5H1183.3M1181.6,828.2H1179.5V833.2H1180.7M1190.5,826.9H1175.2V830.7H1179.5M1173.8,819.9H1172.2V828.8H1175.2M1190.5,838.7H1181.3V839.6H1190.5M1190.5,837.8H1180.5V839.2H1181.3M1190.5,840.5H1185.2V841.4H1190.5M1190.5,843.3H1188.1V844.2H1190.5M1190.5,842.4H1186.3V843.7H1188.1M1185.2,841.0H1184.0V843.0H1186.3M1184.0,842.0H1182.2V845.1H1190.5M1190.5,846.0H1186.1V846.9H1190.5M1190.5,847.8H1187.6V848.7H1190.5M1187.6,848.3H1186.1V849.6H1190.5M1186.1,846.5H1184.6V849.0H1186.1M1190.5,851.5H1185.7V852.4H1190.5M1190.5,853.3H1186.9V854.2H1190.5M1185.7,851.9H1184.4V853.8H1186.9M1190.5,850.6H1182.7V852.8H1184.4M1184.6,847.7H1181.5V851.7H1182.7M1182.2,843.5H1180.6V849.7H1181.5M1180.5,838.5H1178.2V846.6H1180.6M1190.5,855.1H1181.8V856.0H1190.5M1190.5,856.9H1183.3V857.9H1190.5M1181.8,855.6H1180.0V857.4H1183.3M1190.5,858.8H1185.7V859.7H1190.5M1190.5,863.3H1189.6V864.2H1191.2M1189.6,863.8H1188.8V865.1H1190.5M1190.5,862.4H1187.9V864.5H1188.8M1190.5,861.5H1187.2V863.4H1187.9M1190.5,860.6H1185.8V862.5H1187.2M1185.7,859.2H1182.6V861.5H1185.8M1190.5,867.0H1183.4V867.9H1190.5M1190.5,866.1H1180.9V867.4H1183.4M1182.6,860.4H1178.9V866.7H1180.9M1180.0,856.5H1177.2V863.6H1178.9M1190.8,871.5H1189.3V872.9H1190.5M1190.5,870.6H1187.9V872.2H1189.3M1190.5,869.7H1186.2V871.4H1187.9M1190.5,874.3H1187.7V875.2H1190.5M1191.0,877.0H1190.2V877.9H1191.7M1190.5,876.1H1188.1V877.5H1190.2M1187.7,874.7H1185.8V876.8H1188.1M1186.2,870.6H1184.9V875.7H1185.8M1191.7,880.6H1190.0V881.6H1190.8M1190.0,881.1H1188.6V882.5H1190.5M1190.5,879.7H1186.9V881.8H1188.6M1190.5,878.8H1185.9V880.8H1186.9M1184.9,873.2H1183.3V879.8H1185.9M1190.5,868.8H1181.1V876.5H1183.3M1190.5,884.3H1187.2V885.2H1190.5M1187.2,884.8H1184.9V886.1H1190.5M1190.5,883.4H1182.0V885.4H1184.9M1190.5,887.0H1182.8V887.9H1190.5M1182.0,884.4H1181.3V887.5H1182.8M1181.1,872.6H1177.7V885.9H1181.3M1177.2,860.0H1175.8V879.3H1177.7M1178.2,842.6H1173.2V869.7H1175.8M1172.2,824.3H1167.9V856.1H1173.2M1165.4,796.9H1163.5V840.2H1167.9M1191.0,898.6H1189.2V900.1H1190.5M1191.1,901.5H1189.5V903.0H1190.8M1189.2,899.4H1187.5V902.3H1189.5M1190.5,897.2H1186.7V900.8H1187.5M1190.5,895.7H1183.7V899.0H1186.7M1190.5,904.4H1181.6V905.9H1190.5M1183.7,897.4H1179.9V905.2H1181.6M1190.5,907.3H1180.5V908.8H1190.5M1179.9,901.3H1177.0V908.1H1180.5M1190.5,910.3H1176.6V911.7H1190.5M1177.0,904.7H1175.0V911.0H1176.6M1190.5,913.2H1179.4V914.6H1190.5M1190.5,917.5H1181.0V919.0H1190.5M1190.5,916.1H1178.3V918.2H1181.0M1179.4,913.9H1177.0V917.2H1178.3M1175.0,907.8H1171.6V915.5H1177.0M1190.5,920.4H1177.3V921.9H1190.5M1190.5,929.1H1188.1V930.6H1190.5M1190.5,927.7H1186.5V929.9H1188.1M1190.5,932.0H1185.6V933.5H1190.5M1186.5,928.8H1184.5V932.8H1185.6M1190.5,926.2H1181.9V930.8H1184.5M1190.5,924.8H1180.7V928.5H1181.9M1190.5,923.3H1178.1V926.6H1180.7M1190.5,936.4H1183.8V937.9H1190.5M1190.5,935.0H1181.9V937.1H1183.8M1190.5,942.2H1185.6V943.7H1190.5M1190.5,940.8H1184.1V942.9H1185.6M1190.5,939.3H1181.7V941.9H1184.1M1181.9,936.0H1178.7V940.6H1181.7M1178.1,925.0H1177.1V938.3H1178.7M1177.3,921.1H1174.6V931.6H1177.1M1171.6,911.7H1170.2V926.4H1174.6M1190.5,948.0H1181.3V949.5H1190.5M1190.5,946.6H1178.0V948.8H1181.3M1190.5,945.1H1175.6V947.7H1178.0M1190.5,952.4H1183.3V953.8H1190.5M1190.5,950.9H1180.8V953.1H1183.3M1190.9,957.5H1189.7V961.1H1190.5M1190.9,964.0H1189.5V966.2H1191.2M1189.7,959.3H1187.6V965.1H1189.5M1190.5,968.4H1186.4V969.8H1190.5M1187.6,962.2H1185.6V969.1H1186.4M1190.5,955.3H1182.9V965.6H1185.6M1190.5,971.3H1182.1V972.7H1190.5M1182.9,960.5H1180.6V972.0H1182.1M1180.8,952.0H1177.8V966.2H1180.6M1175.6,946.4H1174.2V959.1H1177.8M1190.5,975.6H1182.0V977.1H1190.5M1190.5,974.2H1180.1V976.4H1182.0M1190.5,978.5H1183.5V980.0H1190.5M1190.5,984.3H1187.8V985.8H1190.5M1190.5,982.9H1186.4V985.1H1187.8M1190.5,981.4H1184.8V984.0H1186.4M1190.5,991.6H1188.8V993.1H1190.5M1190.5,990.2H1187.9V992.3H1188.8M1190.5,988.7H1186.4V991.2H1187.9M1190.5,987.2H1184.6V990.0H1186.4M1184.8,982.7H1183.3V988.6H1184.6M1183.5,979.3H1180.5V985.7H1183.3M1180.1,975.3H1177.3V982.5H1180.5M1174.2,952.8H1173.1V978.9H1177.3M1190.5,998.9H1184.6V1000.3H1190.5M1190.5,997.4H1182.7V999.6H1184.6M1190.5,996.0H1179.9V998.5H1182.7M1190.5,1003.2H1184.3V1004.7H1190.5M1190.5,1001.8H1183.0V1004.0H1184.3M1190.5,1006.1H1183.3V1007.6H1190.5M1183.0,1002.9H1181.6V1006.9H1183.3M1190.5,1014.8H1189.0V1016.3H1190.5M1189.0,1015.6H1187.8V1017.8H1190.5M1190.5,1013.4H1185.1V1016.7H1187.8M1190.5,1011.9H1183.5V1015.0H1185.1M1190.5,1010.5H1181.7V1013.5H1183.5M1190.5,1009.0H1178.6V1012.0H1181.7M1181.6,1004.9H1177.4V1010.5H1178.6M1179.9,997.2H1176.0V1007.7H1177.4M1190.5,994.5H1170.4V1002.5H1176.0M1173.1,965.8H1169.1V998.5H1170.4M1170.2,919.0H1164.8V982.1H1169.1M1190.5,1019.2H1172.4V1020.7H1190.5M1190.5,1022.1H1173.8V1023.6H1190.5M1172.4,1019.9H1168.8V1022.8H1173.8M1190.5,1025.0H1183.4V1026.5H1190.5M1190.5,1027.9H1183.7V1029.4H1190.5M1190.5,1030.8H1182.7V1032.3H1190.5M1183.7,1028.7H1180.6V1031.6H1182.7M1183.4,1025.7H1179.6V1030.1H1180.6M1179.6,1027.9H1177.0V1033.7H1190.5M1190.5,1035.2H1182.4V1036.6H1190.5M1182.4,1035.9H1179.3V1038.1H1190.5M1190.5,1041.0H1181.6V1042.5H1190.5M1190.5,1039.5H1179.6V1041.7H1181.6M1179.3,1037.0H1175.4V1040.6H1179.6M1177.0,1030.8H1173.3V1038.8H1175.4M1190.5,1048.3H1181.8V1049.7H1190.5M1190.5,1046.8H1181.1V1049.0H1181.8M1190.5,1045.4H1179.5V1047.9H1181.1M1179.5,1046.6H1175.6V1051.2H1190.5M1190.5,1043.9H1172.7V1048.9H1175.6M1190.5,1052.6H1174.5V1054.1H1190.5M1172.7,1046.4H1170.2V1053.3H1174.5M1173.3,1034.8H1168.9V1049.9H1170.2M1168.8,1021.4H1164.8V1042.3H1168.9M1164.8,950.6H1161.5V1031.9H1164.8" fill="none" stroke="#000" stroke-width="1"/>
<text x="1445.9" y="784.6" font-size="12.6" text-anchor="start">class</text>
<text x="1183.6" y="1068.7" font-size="12.6" text-anchor="start">cluster</text>
<text x="1457.0" y="799.9" font-size="10.6" text-anchor="start">class</text>
<rect x="1459.5" y="804" width="9.8" height="10.4" fill="#10106E"/><rect x="1459.5" y="814.3" width="9.8" height="10.4" fill="#038A0C"/>
<text x="1471.1" y="813" font-size="10.6" text-anchor="start">B</text>
<text x="1471.1" y="823.3" font-size="10.6" text-anchor="start">Bt</text>
<text x="1453.0" y="837.5" font-size="10.6" text-anchor="start">cluster</text>
<rect x="1459.5" y="838.6" width="9.8" height="9.6" fill="#FFD712"/><rect x="1459.5" y="847.6" width="9.8" height="9.6" fill="#66CDAA"/>
<text x="1472.3" y="847.0" font-size="10.6" text-anchor="start">1</text>
<text x="1472.3" y="856.2" font-size="10.6" text-anchor="start">2</text>
<text x="1452.5" y="872.7" font-size="10.6" text-anchor="start"><tspan font-style="italic">z</tspan>-score</text>
<defs><linearGradient id="zg2" x1="0" y1="0" x2="0" y2="1"><stop offset="0" stop-color="#F45418"/><stop offset="0.5" stop-color="#fff"/><stop offset="1" stop-color="#0A0A87"/></linearGradient></defs><rect x="1459.5" y="876.6" width="8.600000000000001" height="101.0" fill="url(#zg2)"/>
<text x="1470.6" y="884.3" font-size="10.6" text-anchor="start">3</text>
<text x="1470.6" y="900.5999999999999" font-size="10.6" text-anchor="start">2</text>
<text x="1470.6" y="916.3" font-size="10.6" text-anchor="start">1</text>
<text x="1470.6" y="930.9" font-size="10.6" text-anchor="start">0</text>
<text x="1470.6" y="947.1999999999999" font-size="10.6" text-anchor="start">-1</text>
<text x="1470.6" y="962.8" font-size="10.6" text-anchor="start">-2</text>
<text x="1470.6" y="978.1999999999999" font-size="10.6" text-anchor="start">-3</text>
</svg>
</body></html>
